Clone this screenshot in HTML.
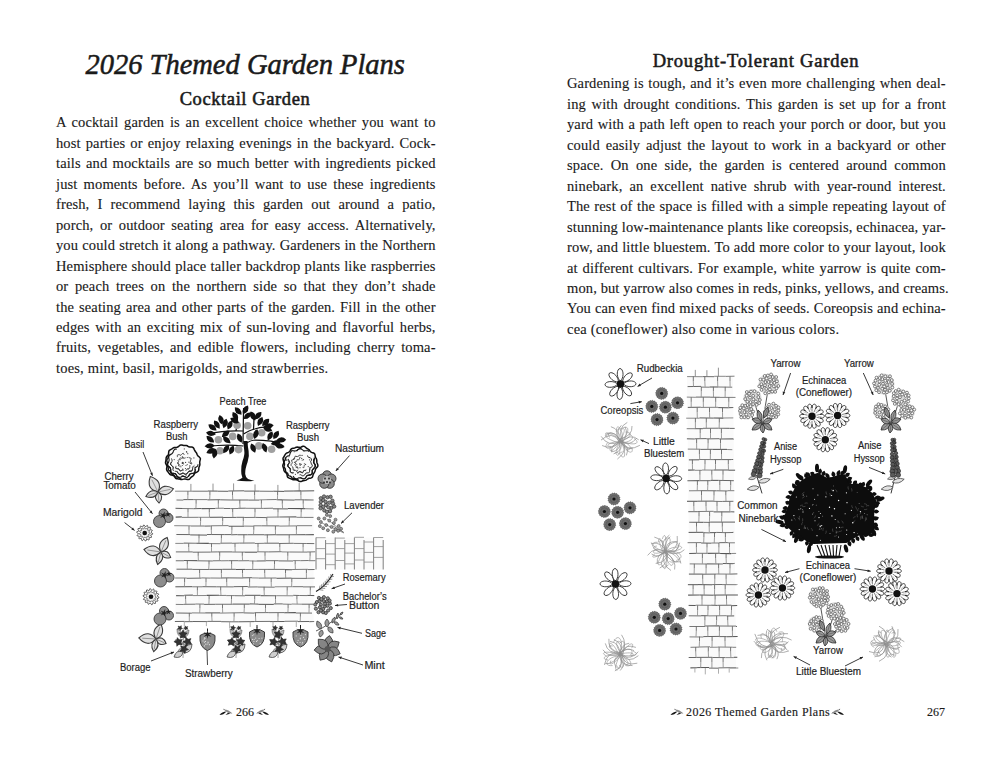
<!DOCTYPE html>
<html><head><meta charset="utf-8">
<style>
html,body{margin:0;padding:0;background:#fff;}
body{width:1000px;height:762px;position:relative;overflow:hidden;font-family:"Liberation Serif",serif;color:#1a1a1a;}
.ln{position:absolute;height:20px;line-height:20px;font-size:14.5px;letter-spacing:0.12px;-webkit-text-stroke:0.12px #1a1a1a;white-space:nowrap;text-align:justify;text-align-last:justify;}
.ln.last{text-align-last:left;letter-spacing:0.19px;}
.L{left:56px;width:379.6px;}
.R{left:567px;width:378.8px;}
.title{position:absolute;left:0;width:490px;text-align:center;font-style:italic;font-size:30px;line-height:34px;-webkit-text-stroke:0.55px #1a1a1a;}
.h2{position:absolute;text-align:center;font-weight:normal;font-size:18.5px;line-height:22px;-webkit-text-stroke:0.55px #1a1a1a;}
.foot{position:absolute;font-size:12px;line-height:14px;-webkit-text-stroke:0.15px #1a1a1a;}
svg{position:absolute;}
.lab{font-family:"Liberation Sans",sans-serif;font-size:10px;fill:#222;stroke:#222;stroke-width:0.18px;}
</style></head><body>

<div class="title" style="top:47px;"><span style="display:inline-block;transform:scaleX(0.95);transform-origin:center;">2026 Themed Garden Plans</span></div>
<div class="h2" style="left:0;width:490px;top:88px;letter-spacing:0.6px;">Cocktail Garden</div>
<div class="h2" style="left:511px;width:490px;top:50px;letter-spacing:0.8px;">Drought-Tolerant Garden</div>
<div class="foot" style="left:236px;top:705px;">266</div>
<div class="foot" style="left:686px;top:705px;letter-spacing:0.45px;">2026 Themed Garden Plans</div>
<div class="foot" style="left:927px;top:705px;">267</div>

<div class="ln L" style="top:112.30px">A cocktail garden is an excellent choice whether you want to</div>
<div class="ln L" style="top:132.77px">host parties or enjoy relaxing evenings in the backyard. Cock-</div>
<div class="ln L" style="top:153.24px">tails and mocktails are so much better with ingredients picked</div>
<div class="ln L" style="top:173.71px">just moments before. As you’ll want to use these ingredients</div>
<div class="ln L" style="top:194.18px">fresh, I recommend laying this garden out around a patio,</div>
<div class="ln L" style="top:214.65px">porch, or outdoor seating area for easy access. Alternatively,</div>
<div class="ln L" style="top:235.12px">you could stretch it along a pathway. Gardeners in the Northern</div>
<div class="ln L" style="top:255.59px">Hemisphere should place taller backdrop plants like raspberries</div>
<div class="ln L" style="top:276.06px">or peach trees on the northern side so that they don’t shade</div>
<div class="ln L" style="top:296.53px">the seating area and other parts of the garden. Fill in the other</div>
<div class="ln L" style="top:317.00px">edges with an exciting mix of sun-loving and flavorful herbs,</div>
<div class="ln L" style="top:337.47px">fruits, vegetables, and edible flowers, including cherry toma-</div>
<div class="ln L last" style="top:357.94px">toes, mint, basil, marigolds, and strawberries.</div>
<div class="ln R" style="top:73.30px">Gardening is tough, and it’s even more challenging when deal-</div>
<div class="ln R" style="top:93.77px">ing with drought conditions. This garden is set up for a front</div>
<div class="ln R" style="top:114.24px">yard with a path left open to reach your porch or door, but you</div>
<div class="ln R" style="top:134.71px">could easily adjust the layout to work in a backyard or other</div>
<div class="ln R" style="top:155.18px">space. On one side, the garden is centered around common</div>
<div class="ln R" style="top:175.65px">ninebark, an excellent native shrub with year-round interest.</div>
<div class="ln R" style="top:196.12px">The rest of the space is filled with a simple repeating layout of</div>
<div class="ln R" style="top:216.59px">stunning low-maintenance plants like coreopsis, echinacea, yar-</div>
<div class="ln R" style="top:237.06px">row, and little bluestem. To add more color to your layout, look</div>
<div class="ln R" style="top:257.53px">at different cultivars. For example, white yarrow is quite com-</div>
<div class="ln R" style="top:278.00px">mon, but yarrow also comes in reds, pinks, yellows, and creams.</div>
<div class="ln R" style="top:298.47px">You can even find mixed packs of seeds. Coreopsis and echina-</div>
<div class="ln R last" style="top:318.94px">cea (coneflower) also come in various colors.</div>
<svg width="1000" height="762" style="left:0;top:0" viewBox="0 0 1000 762">
<polygon points="175.5,491.2 313.5,491.2 313.5,621.5 175.5,621.5" fill="#fafafa"/>
<line x1="175.1" y1="491.2" x2="192.2" y2="491.2" stroke="#7a7a7a" stroke-width="0.9"/>
<line x1="192.2" y1="491.2" x2="207.9" y2="491.2" stroke="#5e5e5e" stroke-width="0.9"/>
<line x1="207.9" y1="491" x2="217.5" y2="491.1" stroke="#555" stroke-width="1"/>
<line x1="217.5" y1="491.2" x2="228.3" y2="491.3" stroke="#5e5e5e" stroke-width="1"/>
<line x1="228.3" y1="491" x2="244.2" y2="490.8" stroke="#5e5e5e" stroke-width="1"/>
<line x1="244.2" y1="491.1" x2="259.6" y2="491.1" stroke="#5e5e5e" stroke-width="1"/>
<line x1="259.6" y1="491.2" x2="273.3" y2="491.3" stroke="#707070" stroke-width="1"/>
<line x1="273.3" y1="491.2" x2="284.1" y2="491.4" stroke="#555" stroke-width="1"/>
<line x1="284.1" y1="491.1" x2="293.9" y2="491" stroke="#555" stroke-width="1"/>
<line x1="293.9" y1="491" x2="301.2" y2="490.9" stroke="#555" stroke-width="1.1"/>
<line x1="301.2" y1="491" x2="314.2" y2="490.8" stroke="#555" stroke-width="1"/>
<line x1="176.5" y1="500" x2="183.3" y2="500.1" stroke="#666" stroke-width="0.9"/>
<line x1="183.3" y1="499.6" x2="193.1" y2="499.6" stroke="#555" stroke-width="0.9"/>
<line x1="193.1" y1="499.6" x2="207.5" y2="499.6" stroke="#707070" stroke-width="0.9"/>
<line x1="207.5" y1="499.9" x2="220.3" y2="499.7" stroke="#5e5e5e" stroke-width="1"/>
<line x1="220.3" y1="499.8" x2="230.9" y2="500" stroke="#555" stroke-width="0.9"/>
<line x1="230.9" y1="500" x2="248.5" y2="500" stroke="#555" stroke-width="0.9"/>
<line x1="248.5" y1="500.1" x2="259.2" y2="500.1" stroke="#555" stroke-width="0.9"/>
<line x1="259.2" y1="499.9" x2="267" y2="499.7" stroke="#7a7a7a" stroke-width="0.9"/>
<line x1="267" y1="499.7" x2="276.6" y2="499.5" stroke="#7a7a7a" stroke-width="1"/>
<line x1="276.6" y1="499.8" x2="282.7" y2="499.9" stroke="#5e5e5e" stroke-width="1.1"/>
<line x1="282.7" y1="499.9" x2="294.5" y2="500.1" stroke="#5e5e5e" stroke-width="1"/>
<line x1="294.5" y1="499.8" x2="304.3" y2="499.8" stroke="#5e5e5e" stroke-width="0.9"/>
<line x1="304.3" y1="499.9" x2="313.6" y2="500" stroke="#707070" stroke-width="1.1"/>
<line x1="175.5" y1="508.3" x2="182.8" y2="508.5" stroke="#5e5e5e" stroke-width="1"/>
<line x1="182.8" y1="508.5" x2="193.5" y2="508.7" stroke="#707070" stroke-width="0.9"/>
<line x1="193.5" y1="508.7" x2="201.6" y2="508.5" stroke="#5e5e5e" stroke-width="1"/>
<line x1="201.6" y1="508.6" x2="215.4" y2="508.5" stroke="#5e5e5e" stroke-width="1.1"/>
<line x1="215.4" y1="508.3" x2="223.8" y2="508.2" stroke="#707070" stroke-width="0.9"/>
<line x1="223.8" y1="508.5" x2="230.4" y2="508.5" stroke="#5e5e5e" stroke-width="0.9"/>
<line x1="230.4" y1="508.6" x2="238.1" y2="508.5" stroke="#7a7a7a" stroke-width="1"/>
<line x1="238.1" y1="508.3" x2="245.8" y2="508.2" stroke="#666" stroke-width="1"/>
<line x1="245.8" y1="508.3" x2="263.3" y2="508.4" stroke="#707070" stroke-width="0.9"/>
<line x1="263.3" y1="508.4" x2="273" y2="508.2" stroke="#707070" stroke-width="1"/>
<line x1="273" y1="508.8" x2="287.9" y2="508.9" stroke="#5e5e5e" stroke-width="1"/>
<line x1="287.9" y1="508.5" x2="304.9" y2="508.6" stroke="#555" stroke-width="1.1"/>
<line x1="304.9" y1="508.7" x2="313.7" y2="508.9" stroke="#7a7a7a" stroke-width="0.9"/>
<line x1="175.7" y1="517.1" x2="181.8" y2="516.9" stroke="#555" stroke-width="1.1"/>
<line x1="181.8" y1="517.4" x2="198.4" y2="517.3" stroke="#7a7a7a" stroke-width="1"/>
<line x1="198.4" y1="517.3" x2="209.9" y2="517.3" stroke="#7a7a7a" stroke-width="0.9"/>
<line x1="209.9" y1="517.3" x2="223.1" y2="517.2" stroke="#555" stroke-width="1"/>
<line x1="223.1" y1="517.5" x2="236.5" y2="517.4" stroke="#555" stroke-width="0.9"/>
<line x1="236.5" y1="517.3" x2="244.2" y2="517.3" stroke="#666" stroke-width="1"/>
<line x1="244.2" y1="517.5" x2="255.5" y2="517.4" stroke="#666" stroke-width="0.9"/>
<line x1="255.5" y1="517.4" x2="266.7" y2="517.6" stroke="#5e5e5e" stroke-width="0.9"/>
<line x1="266.7" y1="517.2" x2="279.7" y2="517" stroke="#707070" stroke-width="0.9"/>
<line x1="279.7" y1="517" x2="296.4" y2="516.9" stroke="#666" stroke-width="1.1"/>
<line x1="296.4" y1="517.3" x2="303.8" y2="517.4" stroke="#707070" stroke-width="0.9"/>
<line x1="303.8" y1="517.4" x2="313.5" y2="517.4" stroke="#7a7a7a" stroke-width="1"/>
<line x1="174.2" y1="525.7" x2="190.7" y2="525.8" stroke="#7a7a7a" stroke-width="0.9"/>
<line x1="190.7" y1="526" x2="204.5" y2="526" stroke="#707070" stroke-width="1"/>
<line x1="204.5" y1="526.1" x2="210.7" y2="526" stroke="#5e5e5e" stroke-width="1"/>
<line x1="210.7" y1="525.8" x2="228.6" y2="525.6" stroke="#7a7a7a" stroke-width="1"/>
<line x1="228.6" y1="526.2" x2="244.2" y2="526.3" stroke="#5e5e5e" stroke-width="1.1"/>
<line x1="244.2" y1="526.1" x2="253.3" y2="526.2" stroke="#7a7a7a" stroke-width="1"/>
<line x1="253.3" y1="525.8" x2="261.5" y2="525.8" stroke="#7a7a7a" stroke-width="1"/>
<line x1="261.5" y1="525.8" x2="279.4" y2="525.9" stroke="#5e5e5e" stroke-width="0.9"/>
<line x1="279.4" y1="526.1" x2="296.6" y2="525.9" stroke="#707070" stroke-width="0.9"/>
<line x1="296.6" y1="525.7" x2="312.1" y2="525.7" stroke="#7a7a7a" stroke-width="1"/>
<line x1="176.4" y1="534.5" x2="190.2" y2="534.6" stroke="#555" stroke-width="0.9"/>
<line x1="190.2" y1="534.9" x2="207" y2="535.1" stroke="#7a7a7a" stroke-width="1.1"/>
<line x1="207" y1="534.5" x2="224.2" y2="534.6" stroke="#555" stroke-width="0.9"/>
<line x1="224.2" y1="534.6" x2="231.2" y2="534.6" stroke="#666" stroke-width="1"/>
<line x1="231.2" y1="534.8" x2="237.5" y2="534.6" stroke="#555" stroke-width="0.9"/>
<line x1="237.5" y1="534.8" x2="247.5" y2="534.7" stroke="#5e5e5e" stroke-width="1.1"/>
<line x1="247.5" y1="534.7" x2="264.3" y2="534.7" stroke="#707070" stroke-width="1.1"/>
<line x1="264.3" y1="534.9" x2="276.2" y2="534.7" stroke="#5e5e5e" stroke-width="1"/>
<line x1="276.2" y1="534.8" x2="288.9" y2="534.8" stroke="#5e5e5e" stroke-width="1"/>
<line x1="288.9" y1="534.7" x2="305.1" y2="534.6" stroke="#707070" stroke-width="1.1"/>
<line x1="305.1" y1="534.7" x2="313.9" y2="534.6" stroke="#5e5e5e" stroke-width="1.1"/>
<line x1="175.3" y1="543.4" x2="183.7" y2="543.4" stroke="#7a7a7a" stroke-width="0.9"/>
<line x1="183.7" y1="543.1" x2="196.2" y2="543.3" stroke="#7a7a7a" stroke-width="1.1"/>
<line x1="196.2" y1="543.3" x2="208.9" y2="543.4" stroke="#555" stroke-width="1.1"/>
<line x1="208.9" y1="543.6" x2="220.4" y2="543.7" stroke="#707070" stroke-width="0.9"/>
<line x1="220.4" y1="543.2" x2="232.1" y2="543.1" stroke="#707070" stroke-width="1"/>
<line x1="232.1" y1="543.3" x2="239.4" y2="543.1" stroke="#666" stroke-width="0.9"/>
<line x1="239.4" y1="543.1" x2="254.8" y2="543" stroke="#5e5e5e" stroke-width="0.9"/>
<line x1="254.8" y1="543.5" x2="264.2" y2="543.3" stroke="#707070" stroke-width="0.9"/>
<line x1="264.2" y1="543.2" x2="279" y2="543.2" stroke="#666" stroke-width="1"/>
<line x1="279" y1="543.5" x2="293.4" y2="543.3" stroke="#707070" stroke-width="1.1"/>
<line x1="293.4" y1="543.4" x2="306.8" y2="543.5" stroke="#7a7a7a" stroke-width="1"/>
<line x1="306.8" y1="543.5" x2="314.3" y2="543.6" stroke="#5e5e5e" stroke-width="0.9"/>
<line x1="175.9" y1="551.9" x2="192.7" y2="551.9" stroke="#5e5e5e" stroke-width="0.9"/>
<line x1="192.7" y1="552.2" x2="210.7" y2="552.1" stroke="#5e5e5e" stroke-width="0.9"/>
<line x1="210.7" y1="552" x2="217.7" y2="551.9" stroke="#707070" stroke-width="1"/>
<line x1="217.7" y1="551.9" x2="232.2" y2="551.9" stroke="#555" stroke-width="0.9"/>
<line x1="232.2" y1="552" x2="245" y2="552.1" stroke="#666" stroke-width="0.9"/>
<line x1="245" y1="552.2" x2="257.1" y2="552.2" stroke="#5e5e5e" stroke-width="1.1"/>
<line x1="257.1" y1="551.8" x2="268.9" y2="551.9" stroke="#7a7a7a" stroke-width="1"/>
<line x1="268.9" y1="551.9" x2="281.7" y2="551.7" stroke="#5e5e5e" stroke-width="0.9"/>
<line x1="281.7" y1="551.9" x2="289.6" y2="552" stroke="#7a7a7a" stroke-width="0.9"/>
<line x1="289.6" y1="552" x2="307" y2="552.1" stroke="#666" stroke-width="0.9"/>
<line x1="307" y1="552" x2="315.2" y2="551.8" stroke="#666" stroke-width="0.9"/>
<line x1="175.8" y1="560.7" x2="183.9" y2="560.8" stroke="#707070" stroke-width="1.1"/>
<line x1="183.9" y1="560.5" x2="197.2" y2="560.6" stroke="#666" stroke-width="1.1"/>
<line x1="197.2" y1="560.8" x2="212.8" y2="561" stroke="#707070" stroke-width="1"/>
<line x1="212.8" y1="560.8" x2="221.1" y2="560.7" stroke="#666" stroke-width="0.9"/>
<line x1="221.1" y1="560.8" x2="228.5" y2="560.7" stroke="#707070" stroke-width="0.9"/>
<line x1="228.5" y1="560.7" x2="238.5" y2="560.7" stroke="#707070" stroke-width="1"/>
<line x1="238.5" y1="560.8" x2="249.3" y2="560.7" stroke="#666" stroke-width="0.9"/>
<line x1="249.3" y1="560.9" x2="256.5" y2="561.1" stroke="#7a7a7a" stroke-width="0.9"/>
<line x1="256.5" y1="561" x2="265.8" y2="560.9" stroke="#5e5e5e" stroke-width="1"/>
<line x1="265.8" y1="560.7" x2="278.6" y2="560.7" stroke="#707070" stroke-width="1"/>
<line x1="278.6" y1="560.9" x2="293.1" y2="561" stroke="#555" stroke-width="0.9"/>
<line x1="293.1" y1="560.6" x2="300.4" y2="560.6" stroke="#7a7a7a" stroke-width="0.9"/>
<line x1="300.4" y1="560.7" x2="308.7" y2="560.5" stroke="#666" stroke-width="0.9"/>
<line x1="308.7" y1="560.7" x2="315.4" y2="560.7" stroke="#7a7a7a" stroke-width="1"/>
<line x1="176.5" y1="569.2" x2="192.2" y2="569.2" stroke="#555" stroke-width="0.9"/>
<line x1="192.2" y1="569.4" x2="209.5" y2="569.5" stroke="#707070" stroke-width="1"/>
<line x1="209.5" y1="569.4" x2="222.6" y2="569.4" stroke="#666" stroke-width="1"/>
<line x1="222.6" y1="569.3" x2="235.8" y2="569.3" stroke="#666" stroke-width="1"/>
<line x1="235.8" y1="569.5" x2="245.2" y2="569.4" stroke="#555" stroke-width="1"/>
<line x1="245.2" y1="569.5" x2="258.2" y2="569.4" stroke="#707070" stroke-width="0.9"/>
<line x1="258.2" y1="569.4" x2="268" y2="569.4" stroke="#666" stroke-width="0.9"/>
<line x1="268" y1="569.4" x2="284.9" y2="569.4" stroke="#5e5e5e" stroke-width="0.9"/>
<line x1="284.9" y1="569.6" x2="292.1" y2="569.7" stroke="#5e5e5e" stroke-width="1.1"/>
<line x1="292.1" y1="569.5" x2="307.9" y2="569.3" stroke="#7a7a7a" stroke-width="1"/>
<line x1="307.9" y1="569.6" x2="314.6" y2="569.5" stroke="#5e5e5e" stroke-width="0.9"/>
<line x1="175.1" y1="578" x2="186.6" y2="578" stroke="#707070" stroke-width="0.9"/>
<line x1="186.6" y1="578.3" x2="201.5" y2="578.1" stroke="#666" stroke-width="1"/>
<line x1="201.5" y1="577.9" x2="210.4" y2="578.1" stroke="#7a7a7a" stroke-width="1"/>
<line x1="210.4" y1="578" x2="220.7" y2="578.1" stroke="#7a7a7a" stroke-width="1"/>
<line x1="220.7" y1="578" x2="229" y2="577.9" stroke="#5e5e5e" stroke-width="1"/>
<line x1="229" y1="577.9" x2="242.8" y2="578" stroke="#555" stroke-width="0.9"/>
<line x1="242.8" y1="577.9" x2="251.9" y2="577.7" stroke="#5e5e5e" stroke-width="1"/>
<line x1="251.9" y1="577.9" x2="258.8" y2="578" stroke="#7a7a7a" stroke-width="0.9"/>
<line x1="258.8" y1="578.1" x2="276.5" y2="578" stroke="#666" stroke-width="0.9"/>
<line x1="276.5" y1="578.3" x2="291.5" y2="578.1" stroke="#555" stroke-width="1"/>
<line x1="291.5" y1="578.3" x2="307.4" y2="578.4" stroke="#707070" stroke-width="1"/>
<line x1="307.4" y1="578.3" x2="314.7" y2="578.2" stroke="#7a7a7a" stroke-width="0.9"/>
<line x1="175.4" y1="586.8" x2="192.4" y2="586.7" stroke="#555" stroke-width="1"/>
<line x1="192.4" y1="586.8" x2="202.3" y2="586.8" stroke="#7a7a7a" stroke-width="1"/>
<line x1="202.3" y1="586.7" x2="216.5" y2="586.8" stroke="#555" stroke-width="0.9"/>
<line x1="216.5" y1="586.8" x2="233.5" y2="586.9" stroke="#707070" stroke-width="1"/>
<line x1="233.5" y1="586.7" x2="247.8" y2="586.5" stroke="#666" stroke-width="1"/>
<line x1="247.8" y1="587" x2="257.7" y2="586.9" stroke="#707070" stroke-width="1"/>
<line x1="257.7" y1="587" x2="274.7" y2="587.2" stroke="#707070" stroke-width="1"/>
<line x1="274.7" y1="586.8" x2="292.6" y2="586.7" stroke="#7a7a7a" stroke-width="0.9"/>
<line x1="292.6" y1="586.7" x2="303" y2="586.7" stroke="#707070" stroke-width="1"/>
<line x1="303" y1="586.9" x2="315" y2="586.9" stroke="#707070" stroke-width="1"/>
<line x1="176.1" y1="595.6" x2="184.2" y2="595.8" stroke="#666" stroke-width="1.1"/>
<line x1="184.2" y1="595.3" x2="192.9" y2="595.1" stroke="#666" stroke-width="1.1"/>
<line x1="192.9" y1="595.6" x2="206.7" y2="595.5" stroke="#7a7a7a" stroke-width="0.9"/>
<line x1="206.7" y1="595.4" x2="219.2" y2="595.3" stroke="#555" stroke-width="1.1"/>
<line x1="219.2" y1="595.5" x2="226.2" y2="595.4" stroke="#707070" stroke-width="0.9"/>
<line x1="226.2" y1="595.6" x2="234.9" y2="595.6" stroke="#707070" stroke-width="0.9"/>
<line x1="234.9" y1="595.7" x2="244.9" y2="595.8" stroke="#707070" stroke-width="1"/>
<line x1="244.9" y1="595.3" x2="260.6" y2="595.3" stroke="#555" stroke-width="1"/>
<line x1="260.6" y1="595.6" x2="276.5" y2="595.7" stroke="#707070" stroke-width="1.1"/>
<line x1="276.5" y1="595.7" x2="293.2" y2="595.8" stroke="#7a7a7a" stroke-width="0.9"/>
<line x1="293.2" y1="595.3" x2="299.3" y2="595.5" stroke="#5e5e5e" stroke-width="0.9"/>
<line x1="299.3" y1="595.5" x2="307.2" y2="595.6" stroke="#666" stroke-width="0.9"/>
<line x1="307.2" y1="595.4" x2="314.3" y2="595.6" stroke="#555" stroke-width="1"/>
<line x1="175.8" y1="604.4" x2="183.7" y2="604.5" stroke="#707070" stroke-width="0.9"/>
<line x1="183.7" y1="604.3" x2="195.5" y2="604.2" stroke="#5e5e5e" stroke-width="0.9"/>
<line x1="195.5" y1="604" x2="204.1" y2="604.1" stroke="#7a7a7a" stroke-width="1"/>
<line x1="204.1" y1="604.4" x2="215.4" y2="604.3" stroke="#666" stroke-width="1"/>
<line x1="215.4" y1="604.2" x2="232.7" y2="604.3" stroke="#707070" stroke-width="1.1"/>
<line x1="232.7" y1="604.1" x2="249.7" y2="604.1" stroke="#555" stroke-width="1"/>
<line x1="249.7" y1="603.9" x2="258.3" y2="604.1" stroke="#707070" stroke-width="1.1"/>
<line x1="258.3" y1="604.3" x2="273.8" y2="604.4" stroke="#555" stroke-width="1"/>
<line x1="273.8" y1="603.9" x2="282.7" y2="603.9" stroke="#666" stroke-width="1"/>
<line x1="282.7" y1="604.1" x2="291.7" y2="604.3" stroke="#707070" stroke-width="0.9"/>
<line x1="291.7" y1="604" x2="301.5" y2="604.2" stroke="#7a7a7a" stroke-width="0.9"/>
<line x1="301.5" y1="604.2" x2="313.2" y2="604.2" stroke="#555" stroke-width="0.9"/>
<line x1="175.9" y1="613" x2="191.8" y2="613.2" stroke="#555" stroke-width="0.9"/>
<line x1="191.8" y1="612.9" x2="205.2" y2="613" stroke="#707070" stroke-width="0.9"/>
<line x1="205.2" y1="612.9" x2="220.1" y2="612.9" stroke="#555" stroke-width="1"/>
<line x1="220.1" y1="613.1" x2="231.1" y2="612.9" stroke="#707070" stroke-width="0.9"/>
<line x1="231.1" y1="612.9" x2="243.7" y2="612.7" stroke="#666" stroke-width="0.9"/>
<line x1="243.7" y1="612.9" x2="254.5" y2="613.1" stroke="#555" stroke-width="0.9"/>
<line x1="254.5" y1="612.7" x2="268.8" y2="612.6" stroke="#707070" stroke-width="1"/>
<line x1="268.8" y1="612.7" x2="284.2" y2="612.6" stroke="#707070" stroke-width="1"/>
<line x1="284.2" y1="612.8" x2="295.9" y2="612.6" stroke="#555" stroke-width="1.1"/>
<line x1="295.9" y1="613" x2="312" y2="613.1" stroke="#5e5e5e" stroke-width="0.9"/>
<line x1="174.9" y1="621.5" x2="184.5" y2="621.4" stroke="#555" stroke-width="0.9"/>
<line x1="184.5" y1="621.7" x2="192.9" y2="621.6" stroke="#666" stroke-width="1"/>
<line x1="192.9" y1="621.5" x2="207.6" y2="621.6" stroke="#555" stroke-width="0.9"/>
<line x1="207.6" y1="621.4" x2="221.1" y2="621.4" stroke="#5e5e5e" stroke-width="0.9"/>
<line x1="221.1" y1="621.7" x2="231.9" y2="621.8" stroke="#555" stroke-width="0.9"/>
<line x1="231.9" y1="621.8" x2="238.3" y2="621.8" stroke="#555" stroke-width="0.9"/>
<line x1="238.3" y1="621.8" x2="254.2" y2="621.6" stroke="#5e5e5e" stroke-width="1"/>
<line x1="254.2" y1="621.5" x2="270" y2="621.4" stroke="#707070" stroke-width="1"/>
<line x1="270" y1="621.6" x2="284.7" y2="621.5" stroke="#5e5e5e" stroke-width="1"/>
<line x1="284.7" y1="621.3" x2="298" y2="621.2" stroke="#666" stroke-width="0.9"/>
<line x1="298" y1="621.6" x2="309.3" y2="621.5" stroke="#666" stroke-width="1"/>
<line x1="309.3" y1="621.6" x2="314.2" y2="621.5" stroke="#7a7a7a" stroke-width="1.1"/>
<line x1="187.9" y1="491.2" x2="187.9" y2="495.1" stroke="#666" stroke-width="0.9"/>
<line x1="187.9" y1="495.1" x2="187.8" y2="499.9" stroke="#8c8c8c" stroke-width="0.85"/>
<line x1="209.9" y1="491.2" x2="209.9" y2="495.1" stroke="#666" stroke-width="0.9"/>
<line x1="209.9" y1="495.1" x2="209.7" y2="499.9" stroke="#8c8c8c" stroke-width="0.85"/>
<line x1="232.5" y1="491.2" x2="232.5" y2="495.1" stroke="#666" stroke-width="0.9"/>
<line x1="232.5" y1="495.1" x2="232.8" y2="499.9" stroke="#8c8c8c" stroke-width="0.85"/>
<line x1="254.6" y1="491.2" x2="254.6" y2="495.1" stroke="#666" stroke-width="0.9"/>
<line x1="254.6" y1="495.1" x2="254.7" y2="499.9" stroke="#8c8c8c" stroke-width="0.85"/>
<line x1="277.6" y1="491.2" x2="277.6" y2="495.1" stroke="#666" stroke-width="0.9"/>
<line x1="277.6" y1="495.1" x2="277.4" y2="499.9" stroke="#8c8c8c" stroke-width="0.85"/>
<line x1="300.9" y1="491.2" x2="300.9" y2="495.1" stroke="#666" stroke-width="0.9"/>
<line x1="300.9" y1="495.1" x2="301" y2="499.9" stroke="#8c8c8c" stroke-width="0.85"/>
<line x1="196.1" y1="499.9" x2="196.1" y2="503.8" stroke="#666" stroke-width="0.9"/>
<line x1="196.1" y1="503.8" x2="195.9" y2="508.6" stroke="#8c8c8c" stroke-width="0.85"/>
<line x1="218.3" y1="499.9" x2="218.3" y2="503.8" stroke="#666" stroke-width="0.9"/>
<line x1="218.3" y1="503.8" x2="218.4" y2="508.6" stroke="#8c8c8c" stroke-width="0.85"/>
<line x1="239.8" y1="499.9" x2="239.8" y2="503.8" stroke="#666" stroke-width="0.9"/>
<line x1="239.8" y1="503.8" x2="240.1" y2="508.6" stroke="#8c8c8c" stroke-width="0.85"/>
<line x1="261.4" y1="499.9" x2="261.4" y2="503.8" stroke="#666" stroke-width="0.9"/>
<line x1="261.4" y1="503.8" x2="261.4" y2="508.6" stroke="#8c8c8c" stroke-width="0.85"/>
<line x1="282.3" y1="499.9" x2="282.3" y2="503.8" stroke="#666" stroke-width="0.9"/>
<line x1="282.3" y1="503.8" x2="282.6" y2="508.6" stroke="#8c8c8c" stroke-width="0.85"/>
<line x1="303.2" y1="499.9" x2="303.2" y2="503.8" stroke="#666" stroke-width="0.9"/>
<line x1="303.2" y1="503.8" x2="303.4" y2="508.6" stroke="#8c8c8c" stroke-width="0.85"/>
<line x1="188" y1="508.6" x2="188" y2="512.5" stroke="#666" stroke-width="0.9"/>
<line x1="188" y1="512.5" x2="188" y2="517.3" stroke="#8c8c8c" stroke-width="0.85"/>
<line x1="209.3" y1="508.6" x2="209.3" y2="512.5" stroke="#666" stroke-width="0.9"/>
<line x1="209.3" y1="512.5" x2="209.5" y2="517.3" stroke="#8c8c8c" stroke-width="0.85"/>
<line x1="232.7" y1="508.6" x2="232.7" y2="512.5" stroke="#666" stroke-width="0.9"/>
<line x1="232.7" y1="512.5" x2="232.9" y2="517.3" stroke="#8c8c8c" stroke-width="0.85"/>
<line x1="255" y1="508.6" x2="255" y2="512.5" stroke="#666" stroke-width="0.9"/>
<line x1="255" y1="512.5" x2="254.8" y2="517.3" stroke="#8c8c8c" stroke-width="0.85"/>
<line x1="278" y1="508.6" x2="278" y2="512.5" stroke="#666" stroke-width="0.9"/>
<line x1="278" y1="512.5" x2="277.9" y2="517.3" stroke="#8c8c8c" stroke-width="0.85"/>
<line x1="301.2" y1="508.6" x2="301.2" y2="512.5" stroke="#666" stroke-width="0.9"/>
<line x1="301.2" y1="512.5" x2="301" y2="517.3" stroke="#8c8c8c" stroke-width="0.85"/>
<line x1="200.6" y1="517.3" x2="200.6" y2="521.2" stroke="#666" stroke-width="0.9"/>
<line x1="200.6" y1="521.2" x2="200.4" y2="526" stroke="#8c8c8c" stroke-width="0.85"/>
<line x1="222.7" y1="517.3" x2="222.7" y2="521.2" stroke="#666" stroke-width="0.9"/>
<line x1="222.7" y1="521.2" x2="222.5" y2="526" stroke="#8c8c8c" stroke-width="0.85"/>
<line x1="243.3" y1="517.3" x2="243.3" y2="521.2" stroke="#666" stroke-width="0.9"/>
<line x1="243.3" y1="521.2" x2="243.1" y2="526" stroke="#8c8c8c" stroke-width="0.85"/>
<line x1="266.8" y1="517.3" x2="266.8" y2="521.2" stroke="#666" stroke-width="0.9"/>
<line x1="266.8" y1="521.2" x2="267" y2="526" stroke="#8c8c8c" stroke-width="0.85"/>
<line x1="289.3" y1="517.3" x2="289.3" y2="521.2" stroke="#666" stroke-width="0.9"/>
<line x1="289.3" y1="521.2" x2="289.1" y2="526" stroke="#8c8c8c" stroke-width="0.85"/>
<line x1="189" y1="526" x2="189" y2="529.9" stroke="#666" stroke-width="0.9"/>
<line x1="189" y1="529.9" x2="189" y2="534.6" stroke="#8c8c8c" stroke-width="0.85"/>
<line x1="211.3" y1="526" x2="211.3" y2="529.9" stroke="#666" stroke-width="0.9"/>
<line x1="211.3" y1="529.9" x2="211.5" y2="534.6" stroke="#8c8c8c" stroke-width="0.85"/>
<line x1="231.9" y1="526" x2="231.9" y2="529.9" stroke="#666" stroke-width="0.9"/>
<line x1="231.9" y1="529.9" x2="231.7" y2="534.6" stroke="#8c8c8c" stroke-width="0.85"/>
<line x1="253.8" y1="526" x2="253.8" y2="529.9" stroke="#666" stroke-width="0.9"/>
<line x1="253.8" y1="529.9" x2="253.5" y2="534.6" stroke="#8c8c8c" stroke-width="0.85"/>
<line x1="275.4" y1="526" x2="275.4" y2="529.9" stroke="#666" stroke-width="0.9"/>
<line x1="275.4" y1="529.9" x2="275.5" y2="534.6" stroke="#8c8c8c" stroke-width="0.85"/>
<line x1="296.4" y1="526" x2="296.4" y2="529.9" stroke="#666" stroke-width="0.9"/>
<line x1="296.4" y1="529.9" x2="296.4" y2="534.6" stroke="#8c8c8c" stroke-width="0.85"/>
<line x1="199" y1="534.6" x2="199" y2="538.6" stroke="#666" stroke-width="0.9"/>
<line x1="199" y1="538.6" x2="198.9" y2="543.3" stroke="#8c8c8c" stroke-width="0.85"/>
<line x1="221.4" y1="534.6" x2="221.4" y2="538.6" stroke="#666" stroke-width="0.9"/>
<line x1="221.4" y1="538.6" x2="221.2" y2="543.3" stroke="#8c8c8c" stroke-width="0.85"/>
<line x1="243.9" y1="534.6" x2="243.9" y2="538.6" stroke="#666" stroke-width="0.9"/>
<line x1="243.9" y1="538.6" x2="243.7" y2="543.3" stroke="#8c8c8c" stroke-width="0.85"/>
<line x1="267.3" y1="534.6" x2="267.3" y2="538.6" stroke="#666" stroke-width="0.9"/>
<line x1="267.3" y1="538.6" x2="267.4" y2="543.3" stroke="#8c8c8c" stroke-width="0.85"/>
<line x1="289.2" y1="534.6" x2="289.2" y2="538.6" stroke="#666" stroke-width="0.9"/>
<line x1="289.2" y1="538.6" x2="289.2" y2="543.3" stroke="#8c8c8c" stroke-width="0.85"/>
<line x1="188.7" y1="543.3" x2="188.7" y2="547.3" stroke="#666" stroke-width="0.9"/>
<line x1="188.7" y1="547.3" x2="188.9" y2="552" stroke="#8c8c8c" stroke-width="0.85"/>
<line x1="211.5" y1="543.3" x2="211.5" y2="547.3" stroke="#666" stroke-width="0.9"/>
<line x1="211.5" y1="547.3" x2="211.5" y2="552" stroke="#8c8c8c" stroke-width="0.85"/>
<line x1="235" y1="543.3" x2="235" y2="547.3" stroke="#666" stroke-width="0.9"/>
<line x1="235" y1="547.3" x2="235.2" y2="552" stroke="#8c8c8c" stroke-width="0.85"/>
<line x1="258" y1="543.3" x2="258" y2="547.3" stroke="#666" stroke-width="0.9"/>
<line x1="258" y1="547.3" x2="258" y2="552" stroke="#8c8c8c" stroke-width="0.85"/>
<line x1="279.8" y1="543.3" x2="279.8" y2="547.3" stroke="#666" stroke-width="0.9"/>
<line x1="279.8" y1="547.3" x2="279.9" y2="552" stroke="#8c8c8c" stroke-width="0.85"/>
<line x1="303.1" y1="543.3" x2="303.1" y2="547.3" stroke="#666" stroke-width="0.9"/>
<line x1="303.1" y1="547.3" x2="303.1" y2="552" stroke="#8c8c8c" stroke-width="0.85"/>
<line x1="198.2" y1="552" x2="198.2" y2="555.9" stroke="#666" stroke-width="0.9"/>
<line x1="198.2" y1="555.9" x2="198.4" y2="560.7" stroke="#8c8c8c" stroke-width="0.85"/>
<line x1="219.7" y1="552" x2="219.7" y2="555.9" stroke="#666" stroke-width="0.9"/>
<line x1="219.7" y1="555.9" x2="219.4" y2="560.7" stroke="#8c8c8c" stroke-width="0.85"/>
<line x1="242.3" y1="552" x2="242.3" y2="555.9" stroke="#666" stroke-width="0.9"/>
<line x1="242.3" y1="555.9" x2="242.6" y2="560.7" stroke="#8c8c8c" stroke-width="0.85"/>
<line x1="265" y1="552" x2="265" y2="555.9" stroke="#666" stroke-width="0.9"/>
<line x1="265" y1="555.9" x2="265.1" y2="560.7" stroke="#8c8c8c" stroke-width="0.85"/>
<line x1="287.8" y1="552" x2="287.8" y2="555.9" stroke="#666" stroke-width="0.9"/>
<line x1="287.8" y1="555.9" x2="287.7" y2="560.7" stroke="#8c8c8c" stroke-width="0.85"/>
<line x1="310.1" y1="552" x2="310.1" y2="555.9" stroke="#666" stroke-width="0.9"/>
<line x1="310.1" y1="555.9" x2="309.8" y2="560.7" stroke="#8c8c8c" stroke-width="0.85"/>
<line x1="187.3" y1="560.7" x2="187.3" y2="564.6" stroke="#666" stroke-width="0.9"/>
<line x1="187.3" y1="564.6" x2="187.3" y2="569.4" stroke="#8c8c8c" stroke-width="0.85"/>
<line x1="209" y1="560.7" x2="209" y2="564.6" stroke="#666" stroke-width="0.9"/>
<line x1="209" y1="564.6" x2="208.7" y2="569.4" stroke="#8c8c8c" stroke-width="0.85"/>
<line x1="231.6" y1="560.7" x2="231.6" y2="564.6" stroke="#666" stroke-width="0.9"/>
<line x1="231.6" y1="564.6" x2="231.6" y2="569.4" stroke="#8c8c8c" stroke-width="0.85"/>
<line x1="252.8" y1="560.7" x2="252.8" y2="564.6" stroke="#666" stroke-width="0.9"/>
<line x1="252.8" y1="564.6" x2="252.7" y2="569.4" stroke="#8c8c8c" stroke-width="0.85"/>
<line x1="274.5" y1="560.7" x2="274.5" y2="564.6" stroke="#666" stroke-width="0.9"/>
<line x1="274.5" y1="564.6" x2="274.3" y2="569.4" stroke="#8c8c8c" stroke-width="0.85"/>
<line x1="295.2" y1="560.7" x2="295.2" y2="564.6" stroke="#666" stroke-width="0.9"/>
<line x1="295.2" y1="564.6" x2="295.4" y2="569.4" stroke="#8c8c8c" stroke-width="0.85"/>
<line x1="199.6" y1="569.4" x2="199.6" y2="573.3" stroke="#666" stroke-width="0.9"/>
<line x1="199.6" y1="573.3" x2="199.8" y2="578.1" stroke="#8c8c8c" stroke-width="0.85"/>
<line x1="221.4" y1="569.4" x2="221.4" y2="573.3" stroke="#666" stroke-width="0.9"/>
<line x1="221.4" y1="573.3" x2="221.5" y2="578.1" stroke="#8c8c8c" stroke-width="0.85"/>
<line x1="242.5" y1="569.4" x2="242.5" y2="573.3" stroke="#666" stroke-width="0.9"/>
<line x1="242.5" y1="573.3" x2="242.7" y2="578.1" stroke="#8c8c8c" stroke-width="0.85"/>
<line x1="264.7" y1="569.4" x2="264.7" y2="573.3" stroke="#666" stroke-width="0.9"/>
<line x1="264.7" y1="573.3" x2="265" y2="578.1" stroke="#8c8c8c" stroke-width="0.85"/>
<line x1="285.5" y1="569.4" x2="285.5" y2="573.3" stroke="#666" stroke-width="0.9"/>
<line x1="285.5" y1="573.3" x2="285.7" y2="578.1" stroke="#8c8c8c" stroke-width="0.85"/>
<line x1="306.4" y1="569.4" x2="306.4" y2="573.3" stroke="#666" stroke-width="0.9"/>
<line x1="306.4" y1="573.3" x2="306.4" y2="578.1" stroke="#8c8c8c" stroke-width="0.85"/>
<line x1="184.6" y1="578.1" x2="184.6" y2="582" stroke="#666" stroke-width="0.9"/>
<line x1="184.6" y1="582" x2="184.4" y2="586.8" stroke="#8c8c8c" stroke-width="0.85"/>
<line x1="206" y1="578.1" x2="206" y2="582" stroke="#666" stroke-width="0.9"/>
<line x1="206" y1="582" x2="205.9" y2="586.8" stroke="#8c8c8c" stroke-width="0.85"/>
<line x1="226.7" y1="578.1" x2="226.7" y2="582" stroke="#666" stroke-width="0.9"/>
<line x1="226.7" y1="582" x2="226.9" y2="586.8" stroke="#8c8c8c" stroke-width="0.85"/>
<line x1="249.6" y1="578.1" x2="249.6" y2="582" stroke="#666" stroke-width="0.9"/>
<line x1="249.6" y1="582" x2="249.6" y2="586.8" stroke="#8c8c8c" stroke-width="0.85"/>
<line x1="271.2" y1="578.1" x2="271.2" y2="582" stroke="#666" stroke-width="0.9"/>
<line x1="271.2" y1="582" x2="271.3" y2="586.8" stroke="#8c8c8c" stroke-width="0.85"/>
<line x1="291.8" y1="578.1" x2="291.8" y2="582" stroke="#666" stroke-width="0.9"/>
<line x1="291.8" y1="582" x2="291.6" y2="586.8" stroke="#8c8c8c" stroke-width="0.85"/>
<line x1="197.4" y1="586.8" x2="197.4" y2="590.7" stroke="#666" stroke-width="0.9"/>
<line x1="197.4" y1="590.7" x2="197.4" y2="595.5" stroke="#8c8c8c" stroke-width="0.85"/>
<line x1="220.7" y1="586.8" x2="220.7" y2="590.7" stroke="#666" stroke-width="0.9"/>
<line x1="220.7" y1="590.7" x2="221" y2="595.5" stroke="#8c8c8c" stroke-width="0.85"/>
<line x1="242.7" y1="586.8" x2="242.7" y2="590.7" stroke="#666" stroke-width="0.9"/>
<line x1="242.7" y1="590.7" x2="242.5" y2="595.5" stroke="#8c8c8c" stroke-width="0.85"/>
<line x1="264.1" y1="586.8" x2="264.1" y2="590.7" stroke="#666" stroke-width="0.9"/>
<line x1="264.1" y1="590.7" x2="264.3" y2="595.5" stroke="#8c8c8c" stroke-width="0.85"/>
<line x1="287.2" y1="586.8" x2="287.2" y2="590.7" stroke="#666" stroke-width="0.9"/>
<line x1="287.2" y1="590.7" x2="287.1" y2="595.5" stroke="#8c8c8c" stroke-width="0.85"/>
<line x1="310.3" y1="586.8" x2="310.3" y2="590.7" stroke="#666" stroke-width="0.9"/>
<line x1="310.3" y1="590.7" x2="310.2" y2="595.5" stroke="#8c8c8c" stroke-width="0.85"/>
<line x1="185.6" y1="595.5" x2="185.6" y2="599.4" stroke="#666" stroke-width="0.9"/>
<line x1="185.6" y1="599.4" x2="185.9" y2="604.2" stroke="#8c8c8c" stroke-width="0.85"/>
<line x1="209.1" y1="595.5" x2="209.1" y2="599.4" stroke="#666" stroke-width="0.9"/>
<line x1="209.1" y1="599.4" x2="208.9" y2="604.2" stroke="#8c8c8c" stroke-width="0.85"/>
<line x1="231.5" y1="595.5" x2="231.5" y2="599.4" stroke="#666" stroke-width="0.9"/>
<line x1="231.5" y1="599.4" x2="231.3" y2="604.2" stroke="#8c8c8c" stroke-width="0.85"/>
<line x1="254.7" y1="595.5" x2="254.7" y2="599.4" stroke="#666" stroke-width="0.9"/>
<line x1="254.7" y1="599.4" x2="254.4" y2="604.2" stroke="#8c8c8c" stroke-width="0.85"/>
<line x1="275.5" y1="595.5" x2="275.5" y2="599.4" stroke="#666" stroke-width="0.9"/>
<line x1="275.5" y1="599.4" x2="275.6" y2="604.2" stroke="#8c8c8c" stroke-width="0.85"/>
<line x1="296.9" y1="595.5" x2="296.9" y2="599.4" stroke="#666" stroke-width="0.9"/>
<line x1="296.9" y1="599.4" x2="297.2" y2="604.2" stroke="#8c8c8c" stroke-width="0.85"/>
<line x1="199.9" y1="604.2" x2="199.9" y2="608.1" stroke="#666" stroke-width="0.9"/>
<line x1="199.9" y1="608.1" x2="199.7" y2="612.9" stroke="#8c8c8c" stroke-width="0.85"/>
<line x1="222.5" y1="604.2" x2="222.5" y2="608.1" stroke="#666" stroke-width="0.9"/>
<line x1="222.5" y1="608.1" x2="222.7" y2="612.9" stroke="#8c8c8c" stroke-width="0.85"/>
<line x1="244.3" y1="604.2" x2="244.3" y2="608.1" stroke="#666" stroke-width="0.9"/>
<line x1="244.3" y1="608.1" x2="244" y2="612.9" stroke="#8c8c8c" stroke-width="0.85"/>
<line x1="265.5" y1="604.2" x2="265.5" y2="608.1" stroke="#666" stroke-width="0.9"/>
<line x1="265.5" y1="608.1" x2="265.4" y2="612.9" stroke="#8c8c8c" stroke-width="0.85"/>
<line x1="288.1" y1="604.2" x2="288.1" y2="608.1" stroke="#666" stroke-width="0.9"/>
<line x1="288.1" y1="608.1" x2="287.9" y2="612.9" stroke="#8c8c8c" stroke-width="0.85"/>
<line x1="309.1" y1="604.2" x2="309.1" y2="608.1" stroke="#666" stroke-width="0.9"/>
<line x1="309.1" y1="608.1" x2="309" y2="612.9" stroke="#8c8c8c" stroke-width="0.85"/>
<line x1="189.3" y1="612.9" x2="189.3" y2="616.8" stroke="#666" stroke-width="0.9"/>
<line x1="189.3" y1="616.8" x2="189.3" y2="621.5" stroke="#8c8c8c" stroke-width="0.85"/>
<line x1="211.8" y1="612.9" x2="211.8" y2="616.8" stroke="#666" stroke-width="0.9"/>
<line x1="211.8" y1="616.8" x2="212.1" y2="621.5" stroke="#8c8c8c" stroke-width="0.85"/>
<line x1="234.1" y1="612.9" x2="234.1" y2="616.8" stroke="#666" stroke-width="0.9"/>
<line x1="234.1" y1="616.8" x2="233.9" y2="621.5" stroke="#8c8c8c" stroke-width="0.85"/>
<line x1="255.5" y1="612.9" x2="255.5" y2="616.8" stroke="#666" stroke-width="0.9"/>
<line x1="255.5" y1="616.8" x2="255.8" y2="621.5" stroke="#8c8c8c" stroke-width="0.85"/>
<line x1="278" y1="612.9" x2="278" y2="616.8" stroke="#666" stroke-width="0.9"/>
<line x1="278" y1="616.8" x2="277.9" y2="621.5" stroke="#8c8c8c" stroke-width="0.85"/>
<line x1="300.4" y1="612.9" x2="300.4" y2="616.8" stroke="#666" stroke-width="0.9"/>
<line x1="300.4" y1="616.8" x2="300.2" y2="621.5" stroke="#8c8c8c" stroke-width="0.85"/>
<line x1="190.9" y1="483.9" x2="190.9" y2="491.2" stroke="#777" stroke-width="0.8"/>
<line x1="213" y1="483.6" x2="213" y2="491.2" stroke="#777" stroke-width="0.8"/>
<line x1="233.6" y1="483.4" x2="233.6" y2="491.2" stroke="#777" stroke-width="0.8"/>
<line x1="255" y1="484.4" x2="255" y2="491.2" stroke="#777" stroke-width="0.8"/>
<line x1="277.9" y1="484.9" x2="277.9" y2="491.2" stroke="#777" stroke-width="0.8"/>
<line x1="299.2" y1="482.9" x2="299.2" y2="491.2" stroke="#777" stroke-width="0.8"/>
<line x1="184.3" y1="621.5" x2="184.3" y2="626.4" stroke="#999" stroke-width="0.8"/>
<line x1="206.4" y1="621.5" x2="206.4" y2="626.1" stroke="#999" stroke-width="0.8"/>
<line x1="229.6" y1="621.5" x2="229.6" y2="628.5" stroke="#999" stroke-width="0.8"/>
<line x1="250.2" y1="621.5" x2="250.2" y2="626.9" stroke="#999" stroke-width="0.8"/>
<line x1="273" y1="621.5" x2="273" y2="626.7" stroke="#999" stroke-width="0.8"/>
<line x1="296.3" y1="621.5" x2="296.3" y2="627" stroke="#999" stroke-width="0.8"/>
<rect x="316" y="537.5" width="67" height="32" fill="#fbfbfb"/>
<line x1="316" y1="537.5" x2="316" y2="569.5" stroke="#707070" stroke-width="0.9"/>
<line x1="325.6" y1="540" x2="325.6" y2="569.5" stroke="#707070" stroke-width="0.9"/>
<line x1="335.2" y1="537.5" x2="335.2" y2="569.5" stroke="#707070" stroke-width="0.9"/>
<line x1="344.8" y1="540" x2="344.8" y2="569.5" stroke="#707070" stroke-width="0.9"/>
<line x1="354.4" y1="537.5" x2="354.4" y2="569.5" stroke="#707070" stroke-width="0.9"/>
<line x1="364" y1="540" x2="364" y2="569.5" stroke="#707070" stroke-width="0.9"/>
<line x1="373.6" y1="537.5" x2="373.6" y2="569.5" stroke="#707070" stroke-width="0.9"/>
<line x1="383.2" y1="540" x2="383.2" y2="569.5" stroke="#707070" stroke-width="0.9"/>
<line x1="316" y1="537.7" x2="325.6" y2="537.7" stroke="#8a8a8a" stroke-width="0.8"/>
<line x1="316" y1="548.6" x2="325.6" y2="548.6" stroke="#8a8a8a" stroke-width="0.8"/>
<line x1="316" y1="558.7" x2="325.6" y2="558.7" stroke="#8a8a8a" stroke-width="0.8"/>
<line x1="325.6" y1="543.6" x2="335.2" y2="543.6" stroke="#8a8a8a" stroke-width="0.8"/>
<line x1="325.6" y1="554.1" x2="335.2" y2="554.1" stroke="#8a8a8a" stroke-width="0.8"/>
<line x1="325.6" y1="564.7" x2="335.2" y2="564.7" stroke="#8a8a8a" stroke-width="0.8"/>
<line x1="335.2" y1="538.1" x2="344.8" y2="538.1" stroke="#8a8a8a" stroke-width="0.8"/>
<line x1="335.2" y1="548.6" x2="344.8" y2="548.6" stroke="#8a8a8a" stroke-width="0.8"/>
<line x1="335.2" y1="560.5" x2="344.8" y2="560.5" stroke="#8a8a8a" stroke-width="0.8"/>
<line x1="344.8" y1="543.6" x2="354.4" y2="543.6" stroke="#8a8a8a" stroke-width="0.8"/>
<line x1="344.8" y1="553.1" x2="354.4" y2="553.1" stroke="#8a8a8a" stroke-width="0.8"/>
<line x1="344.8" y1="563.9" x2="354.4" y2="563.9" stroke="#8a8a8a" stroke-width="0.8"/>
<line x1="354.4" y1="537.3" x2="364" y2="537.3" stroke="#8a8a8a" stroke-width="0.8"/>
<line x1="354.4" y1="548.6" x2="364" y2="548.6" stroke="#8a8a8a" stroke-width="0.8"/>
<line x1="354.4" y1="560" x2="364" y2="560" stroke="#8a8a8a" stroke-width="0.8"/>
<line x1="364" y1="542" x2="373.6" y2="542" stroke="#8a8a8a" stroke-width="0.8"/>
<line x1="364" y1="552.4" x2="373.6" y2="552.4" stroke="#8a8a8a" stroke-width="0.8"/>
<line x1="364" y1="562.1" x2="373.6" y2="562.1" stroke="#8a8a8a" stroke-width="0.8"/>
<line x1="373.6" y1="537.5" x2="383.2" y2="537.5" stroke="#8a8a8a" stroke-width="0.8"/>
<line x1="373.6" y1="546.6" x2="383.2" y2="546.6" stroke="#8a8a8a" stroke-width="0.8"/>
<line x1="373.6" y1="557.4" x2="383.2" y2="557.4" stroke="#8a8a8a" stroke-width="0.8"/>
<path d="M236.5,480.6 Q240.5,479.6 242.4,477.8 Q241,474 241.2,471 Q241.2,465 242.5,461 Q245,455 244.2,450 Q243.6,446 243.3,441 L247.6,441 Q247.6,446 248.6,451 Q249.6,456 247.6,462 Q245,469 245.2,474 Q245.6,477.6 248,479 Q251,480.2 254.4,480.8 Q246,482 236.5,480.6Z" fill="#111"/>
<path d="M243.2,446 Q230,444.5 217.6,445.5 Q211,446 206.6,446" stroke="#111" stroke-width="1.25" fill="none"/>
<path d="M243,431 Q232,430.5 222,431.6 Q214,432.5 208.8,433.4" stroke="#111" stroke-width="1.25" fill="none"/>
<path d="M243.5,434 Q250,430 254.7,429 Q260,427.5 264.3,427.2" stroke="#111" stroke-width="1.25" fill="none"/>
<path d="M246.5,443 Q251,440.2 254.7,440 Q263,440 270.9,441.1 Q276,442 280,443" stroke="#111" stroke-width="1.25" fill="none"/>
<path d="M243,444 L243.4,419 L243.6,408" stroke="#111" stroke-width="1.25" fill="none"/>
<path d="M253.5,429.5 L254,418.7" stroke="#111" stroke-width="1.25" fill="none"/>
<path d="M236,431 Q238,420 236.5,415" stroke="#111" stroke-width="1.25" fill="none"/>
<circle cx="237.1" cy="425.3" r="3.8" fill="#a0a0a0"/>
<circle cx="232.7" cy="436.4" r="3.8" fill="#a0a0a0"/>
<circle cx="218.4" cy="439.7" r="3.8" fill="#a0a0a0"/>
<circle cx="219.9" cy="450.7" r="3.8" fill="#a0a0a0"/>
<circle cx="238.6" cy="449.6" r="3.8" fill="#a0a0a0"/>
<circle cx="247.7" cy="425.7" r="3.8" fill="#a0a0a0"/>
<circle cx="249.9" cy="436.4" r="3.8" fill="#a0a0a0"/>
<circle cx="261.7" cy="432.7" r="3.8" fill="#a0a0a0"/>
<circle cx="258.8" cy="445.9" r="3.8" fill="#a0a0a0"/>
<circle cx="271.6" cy="449.2" r="3.8" fill="#a0a0a0"/>
<path d="M234.9,407.2Q233.9,414.1 241.5,414.8Q241.8,407.2 234.9,407.2Z" fill="#111"/>
<path d="M232.7,411.9Q230.6,418.5 237.9,420.3Q239.5,412.9 232.7,411.9Z" fill="#111"/>
<path d="M219.6,415Q215.8,420.8 222.4,424.6Q225.9,417.9 219.6,415Z" fill="#111"/>
<path d="M214.1,420.5Q212.3,427.1 219.7,428.7Q221,421.2 214.1,420.5Z" fill="#111"/>
<path d="M208.4,424.6Q209.1,431.5 216.6,430.4Q215.1,422.9 208.4,424.6Z" fill="#111"/>
<path d="M226.5,418.7Q220.1,421.4 223.5,428.3Q230.2,424.7 226.5,418.7Z" fill="#111"/>
<path d="M231.9,420.5Q225.2,422.3 227.7,429.5Q234.8,426.8 231.9,420.5Z" fill="#111"/>
<path d="M230.3,418Q231.5,424.8 238.9,423Q236.8,415.7 230.3,418Z" fill="#111"/>
<path d="M206.1,432.5Q209.6,438.5 215.9,434.3Q211.4,428.1 206.1,432.5Z" fill="#111"/>
<path d="M229.6,430.7Q222.9,429.3 221.8,436.9Q229.3,437.6 229.6,430.7Z" fill="#111"/>
<path d="M206.5,436Q206.5,442.9 214.1,442.6Q213.4,435 206.5,436Z" fill="#111"/>
<path d="M223,436.8Q223,443.7 230.6,443.2Q229.8,435.6 223,436.8Z" fill="#111"/>
<path d="M237.7,433.6Q234.7,439.9 241.7,442.8Q244.3,435.6 237.7,433.6Z" fill="#111"/>
<path d="M214.6,445.5Q209.6,440.6 204.6,446.3Q210.6,451.1 214.6,445.5Z" fill="#111"/>
<path d="M215.6,449Q209.3,446 206.4,453Q213.6,455.6 215.6,449Z" fill="#111"/>
<path d="M215.6,448.7Q209.6,452.2 213.8,458.5Q220,454 215.6,448.7Z" fill="#111"/>
<path d="M228.9,445.1Q222,445.8 223.3,453.3Q230.7,451.7 228.9,445.1Z" fill="#111"/>
<path d="M233.5,445.4Q226.9,447.6 229.7,454.6Q236.7,451.5 233.5,445.4Z" fill="#111"/>
<path d="M248,405.6Q241.2,406.8 243,414.2Q250.3,412.1 248,405.6Z" fill="#111"/>
<path d="M251.1,412.5Q244.2,411.6 243.7,419.1Q251.3,419.4 251.1,412.5Z" fill="#111"/>
<path d="M250.6,411.6Q248,418 255.2,420.6Q257.4,413.3 250.6,411.6Z" fill="#111"/>
<path d="M261.4,412.1Q254.5,411.8 254.6,419.5Q262.2,419 261.4,412.1Z" fill="#111"/>
<path d="M262.4,417.1Q255.7,418.8 258,426.1Q265.2,423.5 262.4,417.1Z" fill="#111"/>
<path d="M269.2,418.9Q262.3,418.3 262.2,425.9Q269.8,425.8 269.2,418.9Z" fill="#111"/>
<path d="M273.7,425.3Q268.5,420.7 263.7,426.7Q269.9,431.1 273.7,425.3Z" fill="#111"/>
<path d="M263,427Q265.1,433.7 272.2,431Q269.2,424 263,427Z" fill="#111"/>
<path d="M257.3,429.3Q250.9,432.1 254.3,438.9Q261,435.2 257.3,429.3Z" fill="#111"/>
<path d="M272.4,431.6Q265.7,433.1 267.8,440.4Q275,438 272.4,431.6Z" fill="#111"/>
<path d="M278.6,430.7Q271.8,431.7 273.4,439.1Q280.7,437.3 278.6,430.7Z" fill="#111"/>
<path d="M286.2,439.7Q281.4,434.7 276.2,440.3Q282,445.2 286.2,439.7Z" fill="#111"/>
<path d="M280.6,441.9Q275,437.8 270.8,444.1Q277.4,448 280.6,441.9Z" fill="#111"/>
<path d="M274.8,444.9Q278.2,451 284.6,446.9Q280.2,440.6 274.8,444.9Z" fill="#111"/>
<path d="M251.3,443.5Q248.1,449.6 255.1,452.7Q257.9,445.7 251.3,443.5Z" fill="#111"/>
<path d="M262.8,443.1Q259.5,449.2 266.4,452.5Q269.3,445.4 262.8,443.1Z" fill="#111"/>
<circle cx="182.8" cy="462.4" r="17.8" fill="#fbfbfb"/>
<path d="M199.7,462.4 L199.8,463.3 L199.9,464.2 L199.8,465.1 L199.5,466 L199.2,466.8 L198.9,467.6 L198.8,468.6 L198.8,469.5 L198.6,470.5 L198.1,471.3 L197.3,471.8 L196.4,472.3 L195.5,472.7 L194.8,473.2 L194.4,474 L193.9,474.8 L193.4,475.5 L192.7,476.1 L192,476.6 L191.3,477.1 L190.7,477.8 L190,478.6 L189.3,479.3 L188.4,479.6 L187.4,479.5 L186.4,479.2 L185.4,479 L184.5,478.9 L183.7,479.1 L182.8,479.4 L181.9,479.6 L181,479.5 L180.1,479.2 L179.3,479 L178.4,478.9 L177.5,478.8 L176.5,478.7 L175.7,478.3 L175.1,477.6 L174.5,476.7 L174,476 L173.3,475.5 L172.4,475.2 L171.4,475 L170.5,474.7 L169.7,474.2 L169.2,473.4 L168.6,472.7 L168.1,472 L167.4,471.3 L166.9,470.5 L166.6,469.6 L166.6,468.6 L166.8,467.6 L167,466.6 L166.9,465.8 L166.5,465 L166,464.2 L165.6,463.3 L165.5,462.4 L165.7,461.5 L165.9,460.6 L166,459.7 L166.1,458.8 L166.1,457.9 L166.4,457.1 L166.9,456.3 L167.6,455.6 L168.2,454.9 L168.5,454.2 L168.6,453.2 L168.7,452.1 L168.9,451.1 L169.4,450.3 L170.2,449.8 L171,449.3 L171.9,448.9 L172.6,448.4 L173.4,447.9 L174.2,447.5 L175.1,447.4 L176.1,447.4 L177,447.3 L177.8,447.1 L178.5,446.5 L179.3,445.8 L180.1,445.2 L181,444.9 L181.9,445 L182.8,445.2 L183.7,445.4 L184.6,445.5 L185.5,445.5 L186.4,445.5 L187.2,445.8 L188,446.3 L188.8,446.8 L189.6,447 L190.6,447.1 L191.6,447.1 L192.6,447.3 L193.4,447.8 L193.9,448.6 L194.3,449.6 L194.7,450.5 L195.2,451.3 L195.7,451.9 L196.3,452.6 L196.7,453.3 L197,454.2 L197.3,455 L197.8,455.7 L198.5,456.4 L199.3,457 L200,457.8 L200.4,458.7 L200.3,459.6 L200,460.6 L199.8,461.5Z" stroke="#111" stroke-width="1.5" fill="none"/>
<path d="M190.8,473.7 L190.1,474 L189.5,474.5 L189,475.2 L188.6,476.3 L187.9,476.6 L187.2,477.5 L186.3,477.4 L185.4,477.1 L184.6,476.8 L183.7,476.2 L183,475.9 L182.2,476.1 L181.4,476.3" stroke="#1a1a1a" stroke-width="1.1" fill="none"/>
<path d="M177,476.1 L176.2,474.6 L175.2,473.8 L173.9,473.3 L172.1,473.4 L171.1,472.3 L170.6,471 L170.7,469.4 L170.3,468.1 L169.3,467.1 L168.1,466.1 L167.7,464.7 L167.7,463.3 L168.6,462" stroke="#1a1a1a" stroke-width="1.1" fill="none"/>
<path d="M185.9,477.1 L184.2,476.5 L182.6,476.2 L180.9,477 L179.1,477.2 L177.5,476.7 L176.3,475.2 L175.4,473.6 L173.6,473.4 L171.5,473.1 L170.8,471.5 L170.6,469.6 L170.4,467.9 L169.1,466.7" stroke="#1a1a1a" stroke-width="1.1" fill="none"/>
<path d="M195.3,468.9 L195.2,469.8 L195.2,470.7 L194.9,471.5 L194.5,472.4 L194,473 L193,473.2 L192.1,473.4 L191.3,473.8 L190.4,473.8 L189.7,474.2 L189.4,475.2 L188.8,475.9 L188.1,476.4" stroke="#1a1a1a" stroke-width="1.1" fill="none"/>
<path d="M170.7,470.8 L170.6,469.3 L170.2,468 L169.2,467 L168.1,465.9 L167.3,464.6 L167.8,463.1 L168.7,461.7 L169.1,460.4 L169.1,459.1 L168.5,457.5 L168.8,456.1 L169.7,455 L171.3,454.3" stroke="#1a1a1a" stroke-width="1.1" fill="none"/>
<path d="M168.8,457.9 L168.7,456.8 L168.8,455.8 L169.6,455.1 L170.5,454.5 L171.3,454 L172.2,453.6 L172.6,452.8 L173.2,452 L173.4,450.9 L174,450.1 L174.6,449.2 L175.7,449.1 L176.8,449.2" stroke="#1a1a1a" stroke-width="1.1" fill="none"/>
<path d="M198,464.2 L197.9,465.2 L197.5,466.1 L196.6,466.8 L195.6,467.5 L195.1,468.2 L194.9,469.1 L195.3,470.4 L195,471.4 L194.7,472.5 L193.9,473.1 L192.9,473.5 L191.5,473.3 L190.6,473.6" stroke="#1a1a1a" stroke-width="1.1" fill="none"/>
<path d="M173.4,470.8 L173.2,470 L172.9,469.3 L173.1,468.4 L173.3,467.5 L173,466.9 L172.7,466.3 L172.2,465.8 L171.5,465.3 L170.7,464.8 L170.7,464.1 L170.7,463.3 L171.1,462.6 L171.5,461.9" stroke="#2a2a2a" stroke-width="1.0" fill="none"/>
<path d="M190.4,471.1 L189.2,471.4 L188.3,471.9 L187.5,472.8 L186.7,473.9 L185.6,474.2 L184.3,473.9 L183.2,473.2 L182.1,473.3 L180.9,474.2 L179.7,474.2 L178.6,473.7 L177.9,472.6 L177.2,471.5" stroke="#2a2a2a" stroke-width="1.0" fill="none"/>
<path d="M194.3,465.4 L193.7,465.9 L193.2,466.4 L192.9,466.9 L192.4,467.4 L192.6,468.2 L192.7,469 L192.4,469.6 L192.4,470.4 L191.8,470.9 L191.2,471.2 L190.4,471.3 L189.4,471.1 L188.9,471.4" stroke="#2a2a2a" stroke-width="1.0" fill="none"/>
<path d="M192.5,468.6 L192.4,469.6 L192,470.6 L191.1,471 L190,471.2 L188.9,471.2 L188.2,471.7 L187.7,472.7 L187.1,473.7 L186.2,474.1 L185.3,474.3 L184.2,473.6 L183.3,473.1 L182.4,473.2" stroke="#2a2a2a" stroke-width="1.0" fill="none"/>
<path d="M173.1,467.6 L172.9,466.9 L172.5,466.3 L171.7,465.8 L171.3,465.2 L170.7,464.5 L170.6,463.7 L171,462.9 L171.4,462.2 L172.1,461.5 L172.1,460.9 L172,460.1 L171.8,459.4 L171.5,458.5" stroke="#2a2a2a" stroke-width="1.0" fill="none"/>
<path d="M182.6,473.1 L181.9,473.6 L181.3,473.8 L180.6,474 L179.8,474.4 L179.2,474.1 L178.6,473.8 L178.1,473.3 L177.6,472.7 L177.4,471.8 L176.9,471.5 L176.2,471.4 L175.5,471.3 L174.8,471.2" stroke="#2a2a2a" stroke-width="1.0" fill="none"/>
<path d="M177.3,457.1 L177.4,456.4 L177.4,455.3 L177.8,454.7 L178.7,454.7 L179.4,454.7 L180.3,455.3 L180.9,455.2 L181.4,454.5 L182,453.9 L182.6,453.5 L183.3,453.3 L183.9,454.3 L184.4,454.9" stroke="#333" stroke-width="0.9" fill="none"/>
<path d="M183.9,470.4 L183.1,469.8 L182.4,470.1 L181.5,470.6 L180.6,470.9 L179.8,470.7 L179.3,469.9 L178.9,469 L178.2,468.7 L177.2,468.7 L176.1,468.6 L175.6,467.9 L175.9,466.7 L176,465.8" stroke="#333" stroke-width="0.9" fill="none"/>
<path d="M188.6,457.4 L189.1,457.7 L189.9,457.9 L190.8,458.1 L191.2,458.7 L190.9,459.5 L190.8,460.1 L190.4,460.8 L190.4,461.4 L190.6,462 L191.1,462.5 L191.8,463.2 L191.7,463.9 L191.1,464.4" stroke="#333" stroke-width="0.9" fill="none"/>
<path d="M182.8,469.8 L182.3,470.2 L181.6,470.4 L180.9,470.8 L180.3,470.8 L179.7,470.4 L179.3,469.9 L179.1,469 L178.6,468.7 L177.9,468.8 L177.1,468.7 L176.5,468.4 L175.7,468.2 L175.6,467.5" stroke="#333" stroke-width="0.9" fill="none"/>
<path d="M190.3,465 L189.9,465.5 L189.6,465.9 L189.8,466.6 L189.7,467.3 L189.8,468.1 L189.3,468.5 L188.6,468.6 L187.9,468.8 L187.3,468.8 L186.8,469.1 L186.4,469.5 L186.1,470.2 L185.7,470.9" stroke="#333" stroke-width="0.9" fill="none"/>
<path d="M179.6,459.3 L179.8,458.7 L179.8,458 L180.4,457.8 L181.2,458.4 L181.7,458.5 L182.1,458.1 L182.5,457.1 L183,456.8 L183.5,457.4 L183.8,458.5 L184.4,458.2 L185,457.9 L185.7,457.8" stroke="#444" stroke-width="0.8" fill="none"/>
<path d="M178.4,465.7 L179.1,464.6 L178.9,464.2 L178.6,463.8 L177.9,463.4 L177.6,462.9 L178,462.3 L178.4,461.8 L178.6,461.4 L178,460.6 L178.2,460.1 L178.8,459.8 L179.5,459.7 L179.7,459.3" stroke="#444" stroke-width="0.8" fill="none"/>
<path d="M180.9,467.4 L180.8,466.3 L180.5,465.9 L179.9,466 L179,466.2 L178.5,465.9 L178.8,465 L178.9,464.4 L178.8,464 L177.9,463.8 L177.7,463.3 L177.8,462.7 L178.4,462.2 L178.4,461.8" stroke="#444" stroke-width="0.8" fill="none"/>
<path d="M181.4,478.1 L180,478.4 L178.9,477.6 L177.7,477 L176.3,477 L175,476.5 L174.2,475.3 L173.1,474.6 L171.7,474.2 L170.9,473.1 L170.5,471.7 L169.5,470.8 L168.4,469.9 L168.3,468.5 L168.1,467.2 L167.3,466.1 L166.8,464.8 L167.3,463.4 L167.3,462.1 L166.8,460.8 L167.1,459.4 L167.9,458.3 L168.1,457 L168.1,455.6" stroke="#111" stroke-width="1.3" fill="none"/>
<circle cx="182.7" cy="469.1" r="0.6" fill="#444"/>
<circle cx="186" cy="465.5" r="0.6" fill="#444"/>
<circle cx="190.6" cy="463.3" r="0.6" fill="#444"/>
<circle cx="188.1" cy="469.2" r="0.6" fill="#444"/>
<circle cx="182.3" cy="465.5" r="0.6" fill="#444"/>
<circle cx="177.8" cy="463" r="0.6" fill="#444"/>
<circle cx="182.8" cy="463.1" r="0.6" fill="#444"/>
<circle cx="194.1" cy="467.2" r="0.6" fill="#444"/>
<circle cx="182.4" cy="463.4" r="0.6" fill="#444"/>
<circle cx="185.5" cy="468.5" r="0.6" fill="#444"/>
<circle cx="185.6" cy="462.4" r="0.6" fill="#444"/>
<circle cx="187.3" cy="457.5" r="0.6" fill="#444"/>
<circle cx="173.2" cy="468.1" r="0.6" fill="#444"/>
<circle cx="182.2" cy="462.9" r="0.6" fill="#444"/>
<circle cx="174.2" cy="459.6" r="0.6" fill="#444"/>
<circle cx="180.1" cy="459.7" r="0.6" fill="#444"/>
<circle cx="193.9" cy="457.9" r="0.6" fill="#444"/>
<circle cx="188.9" cy="462.2" r="0.6" fill="#444"/>
<circle cx="187.8" cy="453.7" r="0.6" fill="#444"/>
<circle cx="183" cy="462.7" r="0.6" fill="#444"/>
<circle cx="183.6" cy="463.8" r="0.6" fill="#444"/>
<circle cx="187.2" cy="464.6" r="0.6" fill="#444"/>
<circle cx="182.9" cy="458.1" r="0.6" fill="#444"/>
<circle cx="182.7" cy="462.4" r="0.6" fill="#444"/>
<circle cx="186.1" cy="475.2" r="0.6" fill="#444"/>
<circle cx="190.1" cy="462.9" r="0.6" fill="#444"/>
<circle cx="186.8" cy="452.2" r="0.6" fill="#444"/>
<circle cx="182.3" cy="456.9" r="0.6" fill="#444"/>
<circle cx="186.5" cy="451.6" r="0.6" fill="#444"/>
<circle cx="184.3" cy="448.9" r="0.6" fill="#444"/>
<circle cx="300" cy="464" r="17.8" fill="#fbfbfb"/>
<path d="M317.5,464 L317.8,464.9 L317.9,465.9 L317.5,466.8 L316.9,467.6 L316.1,468.3 L315.6,469.1 L315.3,469.9 L315.1,470.7 L314.8,471.6 L314.4,472.3 L313.9,473.1 L313.5,473.8 L313.1,474.6 L312.9,475.6 L312.6,476.6 L312.1,477.4 L311.3,477.9 L310.3,478.2 L309.3,478.3 L308.4,478.5 L307.6,479 L306.9,479.5 L306.2,480.1 L305.3,480.4 L304.4,480.6 L303.5,480.7 L302.7,480.8 L301.8,481.2 L300.9,481.5 L300,481.6 L299.1,481.3 L298.2,480.7 L297.4,480.1 L296.7,479.7 L295.8,479.6 L294.9,479.7 L293.9,479.8 L293,479.7 L292.2,479.4 L291.4,479 L290.5,478.6 L289.6,478.3 L288.7,477.9 L287.9,477.4 L287.4,476.6 L287.2,475.6 L287,474.5 L286.7,473.7 L286.2,473 L285.5,472.4 L284.7,471.8 L284.2,471 L283.9,470.2 L283.8,469.3 L283.6,468.4 L283.3,467.5 L283,466.7 L282.8,465.8 L282.9,464.9 L283.3,464 L283.7,463.1 L283.9,462.3 L283.7,461.4 L283.4,460.5 L283.1,459.5 L283,458.5 L283.3,457.6 L283.8,456.8 L284.4,456 L284.8,455.2 L285.3,454.4 L285.8,453.7 L286.5,453.1 L287.5,452.7 L288.4,452.4 L289.2,452 L289.8,451.3 L290.2,450.5 L290.6,449.6 L291.3,448.9 L292.1,448.5 L293,448.3 L293.9,448.2 L294.8,447.9 L295.6,447.5 L296.4,447.2 L297.3,447.1 L298.2,447.2 L299.1,447.3 L300,447.4 L300.9,447.2 L301.8,446.7 L302.8,446.3 L303.8,446.3 L304.7,446.6 L305.5,447.2 L306.2,447.9 L306.9,448.5 L307.7,448.9 L308.5,449.4 L309.2,449.9 L309.7,450.6 L310.2,451.3 L310.8,452 L311.6,452.4 L312.6,452.7 L313.6,453 L314.4,453.6 L314.9,454.4 L315.1,455.3 L315.2,456.3 L315.4,457.1 L315.8,457.9 L316.3,458.7 L316.6,459.5 L316.8,460.4 L316.8,461.3 L316.8,462.2 L317.1,463.1Z" stroke="#111" stroke-width="1.5" fill="none"/>
<path d="M296.1,450.6 L297.1,450.6 L297.9,449.5 L298.9,449 L299.9,448.6 L301,448.8 L302,449.4 L302.9,450.1 L303.7,450.9 L304.7,450.9 L305.7,450.8 L306.9,450.7 L308.2,450.6 L308.9,451.6" stroke="#1a1a1a" stroke-width="1.1" fill="none"/>
<path d="M312.4,472.3 L312,473.4 L311.5,474.5 L310.3,474.9 L309.1,475.2 L307.8,475.2 L306.9,475.7 L306.2,476.7 L305.6,477.9 L304.7,478.7 L303.5,478.7 L302.4,478.6 L301.2,478 L300.2,477.6" stroke="#1a1a1a" stroke-width="1.1" fill="none"/>
<path d="M286.4,460.8 L285.6,458.8 L286.2,457.2 L287.6,456 L289.5,455.4 L290,453.8 L290.7,452.1 L291.8,450.6 L293.8,450.8 L295.6,451 L297,450.2 L298.5,449.2 L300.2,448.6 L301.8,449.2" stroke="#1a1a1a" stroke-width="1.1" fill="none"/>
<path d="M314.1,459.2 L313.8,460.4 L313.8,461.5 L313.5,462.5 L314.3,463.5 L314.9,464.6 L315.4,465.8 L315,466.8 L314.4,467.8 L313.5,468.7 L312.8,469.5 L312.3,470.4 L312.3,471.6 L312.3,472.9" stroke="#1a1a1a" stroke-width="1.1" fill="none"/>
<path d="M311.8,474.2 L310.1,474.9 L308.4,475.2 L307,475.8 L306.1,477.2 L304.9,478.5 L303.4,479 L301.7,478.3 L300.1,477.7 L298.7,477.9 L297,478.9 L295.4,478.7 L294.1,477.6 L293.1,476.1" stroke="#1a1a1a" stroke-width="1.1" fill="none"/>
<path d="M314.1,457.5 L314.5,458.4 L314.2,459.6 L313.7,460.7 L313.7,461.6 L313.9,462.4 L314.1,463.3 L314.9,464.2 L315,465.1 L315.6,466.2 L315,467.1 L314.2,467.8 L313.6,468.6 L312.8,469.3" stroke="#1a1a1a" stroke-width="1.1" fill="none"/>
<path d="M314.4,458.1 L314,459.9 L313.8,461.5 L313.7,462.9 L315.1,464.4 L315.5,466.1 L314.5,467.5 L313.4,468.8 L312.3,469.9 L312.3,471.6 L312.3,473.5 L311,474.5 L309.3,475 L307.8,475.4" stroke="#1a1a1a" stroke-width="1.1" fill="none"/>
<path d="M309.8,468.9 L309.7,470 L309.6,471.2 L309.4,472.3 L308.3,472.8 L307,472.9 L305.9,473.1 L305.3,473.9 L304.7,475 L303.8,475.6 L302.8,475.9 L301.6,475.3 L300.6,474.7 L299.6,474.8" stroke="#2a2a2a" stroke-width="1.0" fill="none"/>
<path d="M307.5,455.5 L307.9,456.8 L308.8,457.4 L310.4,457.8 L311.3,458.8 L311.5,460.1 L310.6,461.7 L311,462.7 L311.4,463.9 L312.3,465.2 L312.2,466.5 L311,467.5 L309.8,468.3 L309.8,469.6" stroke="#2a2a2a" stroke-width="1.0" fill="none"/>
<path d="M290.3,468.5 L290,468 L289.3,467.6 L288.8,467.1 L288.1,466.6 L287.7,466 L287.9,465.3 L288.2,464.6 L288.3,464 L288.9,463.4 L289.4,462.8 L289.5,462.2 L289,461.5 L288.9,460.8" stroke="#2a2a2a" stroke-width="1.0" fill="none"/>
<path d="M292.8,473 L291.9,472.8 L291,472.6 L290.6,471.9 L290.3,471.1 L290.3,470.2 L290.5,469.2 L290.1,468.6 L289.8,467.9 L288.9,467.5 L288.4,466.8 L287.8,466.1 L287.7,465.3 L287.9,464.5" stroke="#2a2a2a" stroke-width="1.0" fill="none"/>
<path d="M293.9,472.8 L292.5,472.8 L291.3,472.5 L290.2,471.8 L290.3,470.3 L290.2,469.1 L289.8,468.1 L288.9,467.3 L287.7,466.3 L287.8,465.1 L288.3,463.9 L289.1,462.9 L289.3,461.8 L289,460.6" stroke="#2a2a2a" stroke-width="1.0" fill="none"/>
<path d="M290.3,469.4 L290,468.7 L289.8,467.9 L288.9,467.4 L288.1,466.7 L287.9,465.9 L287.9,465 L288.5,464.1 L288.7,463.3 L289.4,462.6 L289.3,461.8 L289,460.9 L288.5,459.9 L288.5,458.9" stroke="#2a2a2a" stroke-width="1.0" fill="none"/>
<path d="M293.2,459.6 L293.7,459.2 L294.5,459 L294.6,458.1 L294.7,457.1 L295.1,456.3 L296,456.2 L297,456.7 L297.7,456.5 L298.3,456.2 L299,455.9 L299.6,455 L300.4,455.1 L301.1,455.8" stroke="#333" stroke-width="0.9" fill="none"/>
<path d="M291.4,465.9 L291,465.3 L291,464.7 L291.5,464 L292,463.4 L292.5,462.9 L292.2,462.3 L291.9,461.6 L291.7,460.8 L291.6,460.1 L292.6,459.8 L293.2,459.5 L293.9,459.3 L294.3,458.9" stroke="#333" stroke-width="0.9" fill="none"/>
<path d="M301.7,472.4 L300.7,471.8 L299.8,471.5 L298.8,472.2 L297.7,472.8 L296.9,471.9 L296.4,470.8 L295.6,470.4 L294.5,470.3 L293.3,470.1 L293.1,469 L293,467.9 L292.8,467 L291.8,466.3" stroke="#333" stroke-width="0.9" fill="none"/>
<path d="M306.4,469.9 L305.8,470.4 L304.9,470.4 L304.2,470.6 L303.6,470.7 L303.3,471.7 L302.8,472.5 L302.1,472.7 L301.3,472.1 L300.6,471.9 L299.9,471.5 L299.3,471.9 L298.6,472.2 L297.7,472.7" stroke="#333" stroke-width="0.9" fill="none"/>
<path d="M305.9,470.3 L305.2,470.2 L304.7,470.4 L304.1,470.3 L303.8,470.7 L303.5,471 L303.3,471.7 L303,472.3 L302.5,472.7 L301.9,472.6 L301.4,472.5 L300.8,471.8 L300.3,471.8 L299.9,471.4" stroke="#333" stroke-width="0.9" fill="none"/>
<path d="M304.1,463.2 L304.3,463.6 L304.9,463.9 L305.4,464.4 L305.3,464.8 L304.7,465.2 L304.1,465.4 L304,465.8 L303.9,466.2 L304.2,466.8 L304,467.2 L303.9,467.7 L303.1,467.5 L302.5,467.3" stroke="#444" stroke-width="0.8" fill="none"/>
<path d="M298.3,469.2 L297.9,468.5 L297.9,467.4 L297.3,467.5 L296.5,467.5 L295.9,467.3 L296.1,466.5 L296,466 L295.9,465.5 L295,465.2 L294.6,464.6 L295,464 L295.6,463.5 L295.7,463" stroke="#444" stroke-width="0.8" fill="none"/>
<path d="M295.3,464 L295.9,463.5 L295.6,463 L295.3,462.4 L295.2,461.7 L295.8,461.4 L296.6,461.4 L297,461 L296.9,460.2 L297.1,459.5 L297.8,459.7 L298.4,459.7 L299,460.1 L299.3,459.2" stroke="#444" stroke-width="0.8" fill="none"/>
<path d="M298.6,479.7 L297.2,480 L296.1,479.2 L294.9,478.6 L293.5,478.6 L292.2,478.1 L291.4,476.9 L290.3,476.2 L288.9,475.8 L288.1,474.7 L287.7,473.3 L286.7,472.4 L285.6,471.5 L285.5,470.1 L285.3,468.8 L284.5,467.7 L284,466.4 L284.5,465 L284.5,463.7 L284,462.4 L284.3,461 L285.1,459.9 L285.3,458.6 L285.3,457.2" stroke="#111" stroke-width="1.3" fill="none"/>
<circle cx="294.7" cy="462.4" r="0.6" fill="#444"/>
<circle cx="300.2" cy="465.3" r="0.6" fill="#444"/>
<circle cx="297" cy="467.1" r="0.6" fill="#444"/>
<circle cx="296.8" cy="464.3" r="0.6" fill="#444"/>
<circle cx="300" cy="457.3" r="0.6" fill="#444"/>
<circle cx="305.6" cy="464.3" r="0.6" fill="#444"/>
<circle cx="300.1" cy="464" r="0.6" fill="#444"/>
<circle cx="289" cy="456.7" r="0.6" fill="#444"/>
<circle cx="294.5" cy="470.2" r="0.6" fill="#444"/>
<circle cx="297.2" cy="467" r="0.6" fill="#444"/>
<circle cx="293.7" cy="458.8" r="0.6" fill="#444"/>
<circle cx="297.3" cy="470.3" r="0.6" fill="#444"/>
<circle cx="289.7" cy="462.9" r="0.6" fill="#444"/>
<circle cx="301.2" cy="464.4" r="0.6" fill="#444"/>
<circle cx="300" cy="467.7" r="0.6" fill="#444"/>
<circle cx="301.7" cy="458.4" r="0.6" fill="#444"/>
<circle cx="303.5" cy="459.7" r="0.6" fill="#444"/>
<circle cx="297.9" cy="473.1" r="0.6" fill="#444"/>
<circle cx="311.7" cy="470.9" r="0.6" fill="#444"/>
<circle cx="302.2" cy="460.1" r="0.6" fill="#444"/>
<circle cx="295.4" cy="474.3" r="0.6" fill="#444"/>
<circle cx="302.1" cy="455.4" r="0.6" fill="#444"/>
<circle cx="309.9" cy="467.7" r="0.6" fill="#444"/>
<circle cx="308.2" cy="466.6" r="0.6" fill="#444"/>
<circle cx="287.9" cy="459.9" r="0.6" fill="#444"/>
<circle cx="299.8" cy="463.8" r="0.6" fill="#444"/>
<circle cx="309.5" cy="459.8" r="0.6" fill="#444"/>
<circle cx="299.9" cy="464" r="0.6" fill="#444"/>
<circle cx="299.5" cy="458.2" r="0.6" fill="#444"/>
<circle cx="294.2" cy="451.7" r="0.6" fill="#444"/>
<g transform="translate(158,492) rotate(0) scale(1.1)">
<path d="M0,0Q4.7,-10.2 -7,-14Q-11,-2.4 0,0Z" fill="#e0e0e0" stroke="#3a3a3a" stroke-width="1"/>
<line x1="0" y1="0" x2="-5.6" y2="-11.2" stroke="#777" stroke-width="0.6"/>
<path d="M0,0Q7.9,6 14,-3Q4.7,-8.7 0,0Z" fill="#e0e0e0" stroke="#3a3a3a" stroke-width="1"/>
<line x1="0" y1="0" x2="11.2" y2="-2.4" stroke="#777" stroke-width="0.6"/>
<path d="M0,0Q-5.2,5.1 1,10Q6.1,3.9 0,0Z" fill="#e0e0e0" stroke="#3a3a3a" stroke-width="1"/>
<line x1="0" y1="0" x2="0.8" y2="8" stroke="#777" stroke-width="0.6"/>
<path d="M0,0Q-6.9,-3.5 -11,4Q-3,7.1 0,0Z" fill="#e0e0e0" stroke="#3a3a3a" stroke-width="1"/>
<line x1="0" y1="0" x2="-8.8" y2="3.2" stroke="#777" stroke-width="0.6"/>
</g>
<g transform="translate(161,552) rotate(-55) scale(1.1)">
<path d="M0,0Q4.7,-10.2 -7,-14Q-11,-2.4 0,0Z" fill="#e0e0e0" stroke="#3a3a3a" stroke-width="1"/>
<line x1="0" y1="0" x2="-5.6" y2="-11.2" stroke="#777" stroke-width="0.6"/>
<path d="M0,0Q7.9,6 14,-3Q4.7,-8.7 0,0Z" fill="#e0e0e0" stroke="#3a3a3a" stroke-width="1"/>
<line x1="0" y1="0" x2="11.2" y2="-2.4" stroke="#777" stroke-width="0.6"/>
<path d="M0,0Q-5.2,5.1 1,10Q6.1,3.9 0,0Z" fill="#e0e0e0" stroke="#3a3a3a" stroke-width="1"/>
<line x1="0" y1="0" x2="0.8" y2="8" stroke="#777" stroke-width="0.6"/>
<path d="M0,0Q-6.9,-3.5 -11,4Q-3,7.1 0,0Z" fill="#e0e0e0" stroke="#3a3a3a" stroke-width="1"/>
<line x1="0" y1="0" x2="-8.8" y2="3.2" stroke="#777" stroke-width="0.6"/>
</g>
<g transform="translate(156,639) rotate(-60) scale(1.1)">
<path d="M0,0Q4.7,-10.2 -7,-14Q-11,-2.4 0,0Z" fill="#e0e0e0" stroke="#3a3a3a" stroke-width="1"/>
<line x1="0" y1="0" x2="-5.6" y2="-11.2" stroke="#777" stroke-width="0.6"/>
<path d="M0,0Q7.9,6 14,-3Q4.7,-8.7 0,0Z" fill="#e0e0e0" stroke="#3a3a3a" stroke-width="1"/>
<line x1="0" y1="0" x2="11.2" y2="-2.4" stroke="#777" stroke-width="0.6"/>
<path d="M0,0Q-5.2,5.1 1,10Q6.1,3.9 0,0Z" fill="#e0e0e0" stroke="#3a3a3a" stroke-width="1"/>
<line x1="0" y1="0" x2="0.8" y2="8" stroke="#777" stroke-width="0.6"/>
<path d="M0,0Q-6.9,-3.5 -11,4Q-3,7.1 0,0Z" fill="#e0e0e0" stroke="#3a3a3a" stroke-width="1"/>
<line x1="0" y1="0" x2="-8.8" y2="3.2" stroke="#777" stroke-width="0.6"/>
</g>
<circle cx="163.5" cy="513.5" r="4.5" fill="#8d8d8d" stroke="#3a3a3a" stroke-width="0.9"/>
<circle cx="168.5" cy="518" r="4.5" fill="#8d8d8d" stroke="#3a3a3a" stroke-width="0.9"/>
<circle cx="159.5" cy="521.5" r="6" fill="#8d8d8d" stroke="#3a3a3a" stroke-width="0.9"/>
<path d="M164.7,511.5 L164.6,514.7 L167.7,515.4 L164.6,516.3 L164.9,519.5 L163.1,516.8 L160.1,518 L162.1,515.5 L160.1,513.1 L163,514.2Z" fill="#222"/>
<path d="M168,511.3 L168.6,513.6 L171,513.5 L169,514.8 L169.9,517.1 L168,515.6 L166.1,517.1 L167,514.8 L165,513.5 L167.4,513.6Z" fill="#222"/>
<circle cx="164.5" cy="573" r="4.5" fill="#8d8d8d" stroke="#3a3a3a" stroke-width="0.9"/>
<circle cx="169.5" cy="577.5" r="4.5" fill="#8d8d8d" stroke="#3a3a3a" stroke-width="0.9"/>
<circle cx="160.5" cy="581" r="6" fill="#8d8d8d" stroke="#3a3a3a" stroke-width="0.9"/>
<path d="M165.7,571 L165.6,574.2 L168.7,574.9 L165.6,575.8 L165.9,579 L164.1,576.3 L161.1,577.5 L163.1,575 L161.1,572.6 L164,573.7Z" fill="#222"/>
<path d="M169,570.8 L169.6,573.1 L172,573 L170,574.3 L170.9,576.6 L169,575.1 L167.1,576.6 L168,574.3 L166,573 L168.4,573.1Z" fill="#222"/>
<circle cx="164" cy="611" r="4.5" fill="#8d8d8d" stroke="#3a3a3a" stroke-width="0.9"/>
<circle cx="169" cy="615.5" r="4.5" fill="#8d8d8d" stroke="#3a3a3a" stroke-width="0.9"/>
<circle cx="160" cy="619" r="6" fill="#8d8d8d" stroke="#3a3a3a" stroke-width="0.9"/>
<path d="M165.2,609 L165.1,612.2 L168.2,612.9 L165.1,613.8 L165.4,617 L163.6,614.3 L160.6,615.5 L162.6,613 L160.6,610.6 L163.5,611.7Z" fill="#222"/>
<path d="M168.5,608.8 L169.1,611.1 L171.5,611 L169.5,612.3 L170.4,614.6 L168.5,613.1 L166.6,614.6 L167.5,612.3 L165.5,611 L167.9,611.1Z" fill="#222"/>
<path d="M151.9,533 L152.7,533.6 L152.6,534.2 L151.7,534.6 L150.8,534.9 L150.7,535.3 L151.2,536.1 L151.6,537 L151.3,537.5 L150.3,537.5 L149.4,537.4 L149.1,537.7 L149.2,538.6 L149.2,539.6 L148.7,539.9 L147.8,539.5 L147,539 L146.6,539.1 L146.3,540 L145.9,540.9 L145.3,541 L144.7,540.2 L144.2,539.4 L143.7,539.3 L143.1,540 L142.3,540.6 L141.8,540.4 L141.6,539.5 L141.5,538.6 L141.1,538.3 L140.2,538.6 L139.3,538.8 L138.9,538.4 L139.1,537.5 L139.4,536.6 L139.1,536.2 L138.2,536.1 L137.3,535.9 L137.1,535.4 L137.7,534.6 L138.4,534 L138.3,533.5 L137.5,533 L136.7,532.4 L136.8,531.8 L137.7,531.4 L138.6,531.1 L138.7,530.7 L138.2,529.9 L137.8,529 L138.1,528.5 L139.1,528.5 L140,528.6 L140.3,528.3 L140.2,527.4 L140.2,526.4 L140.7,526.1 L141.6,526.5 L142.4,527 L142.8,526.9 L143.1,526 L143.5,525.1 L144.1,525 L144.7,525.8 L145.2,526.6 L145.7,526.7 L146.3,526 L147.1,525.4 L147.6,525.6 L147.8,526.5 L147.9,527.4 L148.3,527.7 L149.2,527.4 L150.1,527.2 L150.5,527.6 L150.3,528.5 L150,529.4 L150.3,529.8 L151.2,529.9 L152.1,530.1 L152.3,530.6 L151.7,531.4 L151,532 L151.1,532.5Z" fill="#fff" stroke="#444" stroke-width="0.9"/>
<path d="M149.8,533 L150.2,533.5 L149.8,534 L149,534.3 L148.5,534.5 L148.6,535 L149,535.8 L149,536.4 L148.4,536.6 L147.6,536.4 L147.1,536.3 L146.9,536.8 L146.8,537.7 L146.5,538.2 L145.9,538 L145.3,537.4 L144.9,537.1 L144.5,537.4 L144,538.1 L143.4,538.3 L143,537.9 L142.8,537.1 L142.6,536.6 L142.1,536.6 L141.3,536.9 L140.7,536.8 L140.6,536.2 L140.9,535.4 L141.1,534.9 L140.6,534.6 L139.8,534.4 L139.3,534 L139.6,533.5 L140.2,533 L140.6,532.6 L140.3,532.2 L139.8,531.6 L139.6,531 L140.1,530.6 L140.9,530.6 L141.5,530.5 L141.5,529.9 L141.3,529.1 L141.5,528.5 L142.1,528.5 L142.8,528.9 L143.4,529.1 L143.7,528.7 L144,527.9 L144.4,527.5 L144.9,527.8 L145.3,528.6 L145.7,529 L146.2,528.8 L146.8,528.3 L147.4,528.2 L147.7,528.8 L147.6,529.6 L147.7,530.2 L148.2,530.3 L149,530.2 L149.6,530.5 L149.5,531.1 L149,531.7 L148.7,532.2 L149.1,532.6Z" fill="#eee" stroke="#555" stroke-width="0.8"/>
<circle cx="144.7" cy="533" r="2.3" fill="#111"/>
<path d="M158.2,596.7 L159,597.3 L158.9,597.9 L158,598.3 L157.1,598.6 L157,599 L157.5,599.8 L157.9,600.7 L157.6,601.2 L156.6,601.2 L155.7,601.1 L155.4,601.4 L155.5,602.3 L155.5,603.3 L155,603.6 L154.1,603.2 L153.3,602.7 L152.9,602.8 L152.6,603.7 L152.2,604.6 L151.6,604.7 L151,603.9 L150.5,603.1 L150,603 L149.4,603.7 L148.6,604.3 L148.1,604.1 L147.9,603.2 L147.8,602.3 L147.4,602 L146.5,602.3 L145.6,602.5 L145.2,602.1 L145.4,601.2 L145.7,600.3 L145.4,599.9 L144.5,599.8 L143.6,599.6 L143.4,599.1 L144,598.3 L144.7,597.7 L144.6,597.2 L143.8,596.7 L143,596.1 L143.1,595.5 L144,595.1 L144.9,594.8 L145,594.4 L144.5,593.6 L144.1,592.7 L144.4,592.2 L145.4,592.2 L146.3,592.3 L146.6,592 L146.5,591.1 L146.5,590.1 L147,589.8 L147.9,590.2 L148.7,590.7 L149.1,590.6 L149.4,589.7 L149.8,588.8 L150.4,588.7 L151,589.5 L151.5,590.3 L152,590.4 L152.6,589.7 L153.4,589.1 L153.9,589.3 L154.1,590.2 L154.2,591.1 L154.6,591.4 L155.5,591.1 L156.4,590.9 L156.8,591.3 L156.6,592.2 L156.3,593.1 L156.6,593.5 L157.5,593.6 L158.4,593.8 L158.6,594.3 L158,595.1 L157.3,595.7 L157.4,596.2Z" fill="#fff" stroke="#444" stroke-width="0.9"/>
<path d="M156.1,596.7 L156.5,597.2 L156.1,597.7 L155.3,598 L154.8,598.2 L154.9,598.7 L155.3,599.5 L155.3,600.1 L154.7,600.3 L153.9,600.1 L153.4,600 L153.2,600.5 L153.1,601.4 L152.8,601.9 L152.2,601.7 L151.6,601.1 L151.2,600.8 L150.8,601.1 L150.3,601.8 L149.7,602 L149.3,601.6 L149.1,600.8 L148.9,600.3 L148.4,600.3 L147.6,600.6 L147,600.5 L146.9,599.9 L147.2,599.1 L147.4,598.6 L146.9,598.3 L146.1,598.1 L145.6,597.7 L145.9,597.2 L146.5,596.7 L146.9,596.3 L146.6,595.9 L146.1,595.3 L145.9,594.7 L146.4,594.3 L147.2,594.3 L147.8,594.2 L147.8,593.6 L147.6,592.8 L147.8,592.2 L148.4,592.2 L149.1,592.6 L149.7,592.8 L150,592.4 L150.3,591.6 L150.7,591.2 L151.2,591.5 L151.6,592.3 L152,592.7 L152.5,592.5 L153.1,592 L153.7,591.9 L154,592.5 L153.9,593.3 L154,593.9 L154.5,594 L155.3,593.9 L155.9,594.2 L155.8,594.8 L155.3,595.4 L155,595.9 L155.4,596.3Z" fill="#eee" stroke="#555" stroke-width="0.8"/>
<circle cx="151" cy="596.7" r="2.3" fill="#111"/>
<circle cx="327" cy="475.4" r="4.6" fill="#8a8a8a" stroke="#333" stroke-width="0.9"/>
<circle cx="331.4" cy="478.6" r="4.6" fill="#8a8a8a" stroke="#333" stroke-width="0.9"/>
<circle cx="329.7" cy="483.7" r="4.6" fill="#8a8a8a" stroke="#333" stroke-width="0.9"/>
<circle cx="324.3" cy="483.7" r="4.6" fill="#8a8a8a" stroke="#333" stroke-width="0.9"/>
<circle cx="322.6" cy="478.6" r="4.6" fill="#8a8a8a" stroke="#333" stroke-width="0.9"/>
<circle cx="327" cy="480" r="4" fill="#bdbdbd"/>
<rect x="324.1" y="477.6" width="1.8" height="1.8" fill="#333"/>
<rect x="328.1" y="477.6" width="1.8" height="1.8" fill="#333"/>
<rect x="326.1" y="481.1" width="1.8" height="1.8" fill="#333"/>
<rect x="323.1" y="481.6" width="1.8" height="1.8" fill="#333"/>
<rect x="329.1" y="481.6" width="1.8" height="1.8" fill="#333"/>
<circle cx="325.9" cy="505" r="1.7" fill="#8a8a8a" stroke="#333" stroke-width="0.7"/>
<circle cx="331.4" cy="507.8" r="1.7" fill="#8a8a8a" stroke="#333" stroke-width="0.7"/>
<circle cx="320.8" cy="501.9" r="1.7" fill="#8a8a8a" stroke="#333" stroke-width="0.7"/>
<circle cx="327.5" cy="497.3" r="1.7" fill="#8a8a8a" stroke="#333" stroke-width="0.7"/>
<circle cx="329.3" cy="502.7" r="1.7" fill="#8a8a8a" stroke="#333" stroke-width="0.7"/>
<circle cx="324.3" cy="510.4" r="1.7" fill="#8a8a8a" stroke="#333" stroke-width="0.7"/>
<circle cx="332.4" cy="500.7" r="1.7" fill="#8a8a8a" stroke="#333" stroke-width="0.7"/>
<circle cx="320.6" cy="505.2" r="1.7" fill="#8a8a8a" stroke="#333" stroke-width="0.7"/>
<circle cx="330" cy="511.2" r="1.7" fill="#8a8a8a" stroke="#333" stroke-width="0.7"/>
<circle cx="323.2" cy="500" r="1.7" fill="#8a8a8a" stroke="#333" stroke-width="0.7"/>
<circle cx="333" cy="503.6" r="1.7" fill="#8a8a8a" stroke="#333" stroke-width="0.7"/>
<circle cx="330.6" cy="496.8" r="1.7" fill="#8a8a8a" stroke="#333" stroke-width="0.7"/>
<circle cx="328.3" cy="507.2" r="1.7" fill="#8a8a8a" stroke="#333" stroke-width="0.7"/>
<circle cx="324" cy="496.5" r="1.7" fill="#8a8a8a" stroke="#333" stroke-width="0.7"/>
<circle cx="320.8" cy="498.3" r="1.7" fill="#8a8a8a" stroke="#333" stroke-width="0.7"/>
<circle cx="323.2" cy="506.9" r="1.7" fill="#8a8a8a" stroke="#333" stroke-width="0.7"/>
<circle cx="320.6" cy="508.3" r="1.7" fill="#8a8a8a" stroke="#333" stroke-width="0.7"/>
<circle cx="334.2" cy="506.5" r="1.7" fill="#8a8a8a" stroke="#333" stroke-width="0.7"/>
<circle cx="325.6" cy="501.8" r="1.7" fill="#8a8a8a" stroke="#333" stroke-width="0.7"/>
<circle cx="326.9" cy="511.8" r="1.7" fill="#8a8a8a" stroke="#333" stroke-width="0.7"/>
<line x1="322" y1="523" x2="344" y2="533" stroke="#555" stroke-width="0.6"/>
<line x1="327" y1="519" x2="343" y2="532" stroke="#555" stroke-width="0.6"/>
<line x1="333" y1="526" x2="344" y2="532.5" stroke="#555" stroke-width="0.6"/>
<circle cx="318.7" cy="518.5" r="1.5" fill="#9a9a9a" stroke="#3a3a3a" stroke-width="0.55"/>
<circle cx="320.9" cy="522" r="1.5" fill="#9a9a9a" stroke="#3a3a3a" stroke-width="0.55"/>
<circle cx="324.4" cy="518.5" r="1.5" fill="#9a9a9a" stroke="#3a3a3a" stroke-width="0.55"/>
<circle cx="326.2" cy="525.1" r="1.5" fill="#9a9a9a" stroke="#3a3a3a" stroke-width="0.55"/>
<circle cx="329.3" cy="520.6" r="1.5" fill="#9a9a9a" stroke="#3a3a3a" stroke-width="0.55"/>
<circle cx="331.5" cy="526.9" r="1.5" fill="#9a9a9a" stroke="#3a3a3a" stroke-width="0.55"/>
<circle cx="333.9" cy="523" r="1.5" fill="#9a9a9a" stroke="#3a3a3a" stroke-width="0.55"/>
<circle cx="335.6" cy="529.4" r="1.5" fill="#9a9a9a" stroke="#3a3a3a" stroke-width="0.55"/>
<circle cx="338.7" cy="526" r="1.5" fill="#9a9a9a" stroke="#3a3a3a" stroke-width="0.55"/>
<circle cx="323.2" cy="528.2" r="1.5" fill="#9a9a9a" stroke="#3a3a3a" stroke-width="0.55"/>
<circle cx="327.9" cy="530.2" r="1.5" fill="#9a9a9a" stroke="#3a3a3a" stroke-width="0.55"/>
<circle cx="333.3" cy="531.7" r="1.5" fill="#9a9a9a" stroke="#3a3a3a" stroke-width="0.55"/>
<circle cx="319.9" cy="526.1" r="1.5" fill="#9a9a9a" stroke="#3a3a3a" stroke-width="0.55"/>
<circle cx="330.2" cy="516.1" r="1.5" fill="#9a9a9a" stroke="#3a3a3a" stroke-width="0.55"/>
<circle cx="335.5" cy="519.7" r="1.5" fill="#9a9a9a" stroke="#3a3a3a" stroke-width="0.55"/>
<circle cx="326.9" cy="514.9" r="1.5" fill="#9a9a9a" stroke="#3a3a3a" stroke-width="0.55"/>
<circle cx="338.1" cy="530.8" r="1.5" fill="#9a9a9a" stroke="#3a3a3a" stroke-width="0.55"/>
<circle cx="341.1" cy="528.8" r="1.5" fill="#9a9a9a" stroke="#3a3a3a" stroke-width="0.55"/>
<path d="M316,591.5 Q325,587 333,574" stroke="#1a1a1a" stroke-width="1.1" fill="none"/>
<line x1="319.1" y1="589.6" x2="320.1" y2="585.6" stroke="#3a3a3a" stroke-width="0.55"/>
<line x1="319.1" y1="589.6" x2="323.3" y2="590.3" stroke="#3a3a3a" stroke-width="0.55"/>
<line x1="321.2" y1="588.1" x2="321.8" y2="584.2" stroke="#3a3a3a" stroke-width="0.55"/>
<line x1="321.2" y1="588.1" x2="325.2" y2="588.4" stroke="#3a3a3a" stroke-width="0.55"/>
<line x1="323.2" y1="586.4" x2="323.5" y2="582.6" stroke="#3a3a3a" stroke-width="0.55"/>
<line x1="323.2" y1="586.4" x2="327" y2="586.4" stroke="#3a3a3a" stroke-width="0.55"/>
<line x1="325.2" y1="584.4" x2="325.3" y2="580.8" stroke="#3a3a3a" stroke-width="0.55"/>
<line x1="325.2" y1="584.4" x2="328.8" y2="584.1" stroke="#3a3a3a" stroke-width="0.55"/>
<line x1="327.2" y1="582.1" x2="327" y2="578.8" stroke="#3a3a3a" stroke-width="0.55"/>
<line x1="327.2" y1="582.1" x2="330.5" y2="581.7" stroke="#3a3a3a" stroke-width="0.55"/>
<line x1="329.2" y1="579.6" x2="328.8" y2="576.5" stroke="#3a3a3a" stroke-width="0.55"/>
<line x1="329.2" y1="579.6" x2="332.3" y2="579.1" stroke="#3a3a3a" stroke-width="0.55"/>
<line x1="331.1" y1="576.9" x2="330.7" y2="574.1" stroke="#3a3a3a" stroke-width="0.55"/>
<line x1="331.1" y1="576.9" x2="333.9" y2="576.3" stroke="#3a3a3a" stroke-width="0.55"/>
<circle cx="329.9" cy="603.5" r="1.6" fill="#8a8a8a" stroke="#2a2a2a" stroke-width="0.7"/>
<circle cx="326.9" cy="601.3" r="1.6" fill="#8a8a8a" stroke="#2a2a2a" stroke-width="0.7"/>
<circle cx="328.1" cy="610.5" r="1.6" fill="#8a8a8a" stroke="#2a2a2a" stroke-width="0.7"/>
<circle cx="323.9" cy="597.1" r="1.6" fill="#8a8a8a" stroke="#2a2a2a" stroke-width="0.7"/>
<circle cx="316.9" cy="602" r="1.6" fill="#8a8a8a" stroke="#2a2a2a" stroke-width="0.7"/>
<circle cx="327.4" cy="605.8" r="1.6" fill="#8a8a8a" stroke="#2a2a2a" stroke-width="0.7"/>
<circle cx="324.6" cy="606.5" r="1.6" fill="#8a8a8a" stroke="#2a2a2a" stroke-width="0.7"/>
<circle cx="320.9" cy="604.6" r="1.6" fill="#8a8a8a" stroke="#2a2a2a" stroke-width="0.7"/>
<circle cx="315.9" cy="608.7" r="1.6" fill="#8a8a8a" stroke="#2a2a2a" stroke-width="0.7"/>
<circle cx="323.2" cy="609" r="1.6" fill="#8a8a8a" stroke="#2a2a2a" stroke-width="0.7"/>
<circle cx="318.5" cy="612.2" r="1.6" fill="#8a8a8a" stroke="#2a2a2a" stroke-width="0.7"/>
<circle cx="330.8" cy="608.1" r="1.6" fill="#8a8a8a" stroke="#2a2a2a" stroke-width="0.7"/>
<circle cx="323.1" cy="612.3" r="1.6" fill="#8a8a8a" stroke="#2a2a2a" stroke-width="0.7"/>
<circle cx="323.8" cy="601.1" r="1.6" fill="#8a8a8a" stroke="#2a2a2a" stroke-width="0.7"/>
<circle cx="319.9" cy="607.3" r="1.6" fill="#8a8a8a" stroke="#2a2a2a" stroke-width="0.7"/>
<circle cx="327.8" cy="598.3" r="1.6" fill="#8a8a8a" stroke="#2a2a2a" stroke-width="0.7"/>
<circle cx="315.2" cy="604.5" r="1.6" fill="#8a8a8a" stroke="#2a2a2a" stroke-width="0.7"/>
<circle cx="329.6" cy="600.6" r="1.6" fill="#8a8a8a" stroke="#2a2a2a" stroke-width="0.7"/>
<circle cx="318.9" cy="597.9" r="1.6" fill="#8a8a8a" stroke="#2a2a2a" stroke-width="0.7"/>
<circle cx="325.8" cy="613" r="1.6" fill="#8a8a8a" stroke="#2a2a2a" stroke-width="0.7"/>
<circle cx="319.7" cy="601.3" r="1.6" fill="#8a8a8a" stroke="#2a2a2a" stroke-width="0.7"/>
<circle cx="321.4" cy="599.1" r="1.6" fill="#8a8a8a" stroke="#2a2a2a" stroke-width="0.7"/>
<circle cx="320.9" cy="610.5" r="1.6" fill="#8a8a8a" stroke="#2a2a2a" stroke-width="0.7"/>
<circle cx="325" cy="603.7" r="1.6" fill="#8a8a8a" stroke="#2a2a2a" stroke-width="0.7"/>
<path d="M316,631 Q328,626 341,614" stroke="#333" stroke-width="0.8" fill="none"/>
<path d="M321,629Q323.3,623.3 317,621Q315.1,627.5 321,629Z" fill="#9a9a9a" stroke="#333" stroke-width="0.7"/>
<path d="M322,630Q316.9,632 320,637Q325.3,634.3 322,630Z" fill="#9a9a9a" stroke="#333" stroke-width="0.7"/>
<path d="M327,627Q331.3,623.4 327,619Q322.7,623.4 327,627Z" fill="#9a9a9a" stroke="#333" stroke-width="0.7"/>
<path d="M328,627Q326.9,632.5 333,633Q333.6,626.9 328,627Z" fill="#9a9a9a" stroke="#333" stroke-width="0.7"/>
<path d="M332,623Q336,621.6 335,617Q330.7,619 332,623Z" fill="#9a9a9a" stroke="#333" stroke-width="0.7"/>
<path d="M334,622Q334.9,625.7 339,625Q337.6,621 334,622Z" fill="#9a9a9a" stroke="#333" stroke-width="0.7"/>
<path d="M337,619Q339.8,616.7 338,613Q335.1,615.9 337,619Z" fill="#9a9a9a" stroke="#333" stroke-width="0.7"/>
<path d="M339,617Q339.8,619.8 343,619Q341.8,616 339,617Z" fill="#9a9a9a" stroke="#333" stroke-width="0.7"/>
<path d="M340,615Q342.7,615 343,612Q340,612.3 340,615Z" fill="#9a9a9a" stroke="#333" stroke-width="0.7"/>
<path d="M327.6,649Q337.3,644.2 329.5,635.6Q319.6,641.7 327.6,649Z" fill="#858585" stroke="#2a2a2a" stroke-width="0.8"/>
<path d="M327.6,649Q337.4,653.6 339.2,642.1Q328.3,638.2 327.6,649Z" fill="#858585" stroke="#2a2a2a" stroke-width="0.8"/>
<path d="M327.6,649Q330.1,659.5 340.2,653.8Q336.4,642.8 327.6,649Z" fill="#858585" stroke="#2a2a2a" stroke-width="0.8"/>
<path d="M327.6,649Q321,657.5 331.7,661.9Q337.9,652.1 327.6,649Z" fill="#858585" stroke="#2a2a2a" stroke-width="0.8"/>
<path d="M327.6,649Q316.8,649.1 320.1,660.2Q331.6,659 327.6,649Z" fill="#858585" stroke="#2a2a2a" stroke-width="0.8"/>
<path d="M327.6,649Q320.8,640.6 314.1,650.1Q322.3,658.4 327.6,649Z" fill="#858585" stroke="#2a2a2a" stroke-width="0.8"/>
<path d="M327.6,649Q329.9,638.5 318.3,639.2Q317,650.7 327.6,649Z" fill="#858585" stroke="#2a2a2a" stroke-width="0.8"/>
<circle cx="327.6" cy="649" r="3" fill="#555"/>
<path d="M183,658 L184,628" stroke="#666" stroke-width="0.6"/>
<path d="M183,638Q183.9,631.6 177,629Q176.7,636.3 183,638Z" fill="#bdbdbd" stroke="#555" stroke-width="0.6"/>
<path d="M183,638Q188.9,636.8 189,630Q182.5,632 183,638Z" fill="#bdbdbd" stroke="#555" stroke-width="0.6"/>
<path d="M183,644Q181.6,637.9 175,640Q177.2,646.5 183,644Z" fill="#bdbdbd" stroke="#555" stroke-width="0.6"/>
<path d="M183,644Q187.8,647.8 191,642Q185.4,638.4 183,644Z" fill="#bdbdbd" stroke="#555" stroke-width="0.6"/>
<path d="M183,648Q177.4,647.9 178,654Q184.1,653.5 183,648Z" fill="#bdbdbd" stroke="#555" stroke-width="0.6"/>
<path d="M183,652Q176.2,649.3 174,657Q181.7,659.2 183,652Z" fill="#cfcfcf" stroke="#444" stroke-width="0.8"/>
<path d="M184,653Q191.8,652.7 192,644Q183.4,645.2 184,653Z" fill="#cfcfcf" stroke="#444" stroke-width="0.8"/>
<path d="M183,629.9 L184.4,632.6 L187.4,633.1 L185.2,635.2 L185.7,638.2 L183,636.8 L180.3,638.2 L180.8,635.2 L178.6,633.1 L181.6,632.6Z" fill="#333" stroke="#1a1a1a" stroke-width="0.5"/>
<path d="M182.4,639.5 L180.8,642.1 L182.1,644.9 L179.1,644.2 L176.8,646.3 L176.6,643.2 L173.9,641.7 L176.7,640.5 L177.3,637.6 L179.3,639.9Z" fill="#333" stroke="#1a1a1a" stroke-width="0.5"/>
<path d="M191,638.6 L189.8,641.3 L191.4,644 L188.4,643.6 L186.4,646 L185.7,643 L182.9,641.8 L185.6,640.3 L185.8,637.2 L188.1,639.3Z" fill="#333" stroke="#1a1a1a" stroke-width="0.5"/>
<path d="M186,644.8 L186,647.9 L188.6,649.6 L185.7,650.6 L184.9,653.5 L183,651.1 L180,651.2 L181.7,648.7 L180.6,645.8 L183.6,646.7Z" fill="#333" stroke="#1a1a1a" stroke-width="0.5"/>
<path d="M181.3,625.7 L181.2,627.5 L182.5,628.5 L180.9,629 L180.3,630.6 L179.4,629.1 L177.6,629.1 L178.7,627.7 L178.2,626.1 L179.9,626.7Z" fill="#333" stroke="#1a1a1a" stroke-width="0.5"/>
<path d="M187.7,626.6 L187.1,627.9 L187.9,629.2 L186.4,629 L185.5,630.1 L185.2,628.7 L183.8,628.1 L185.1,627.4 L185.2,626 L186.3,626.9Z" fill="#333" stroke="#1a1a1a" stroke-width="0.5"/>
<path d="M236,658 L237,628" stroke="#666" stroke-width="0.6"/>
<path d="M236,638Q236.9,631.6 230,629Q229.7,636.3 236,638Z" fill="#bdbdbd" stroke="#555" stroke-width="0.6"/>
<path d="M236,638Q241.9,636.8 242,630Q235.5,632 236,638Z" fill="#bdbdbd" stroke="#555" stroke-width="0.6"/>
<path d="M236,644Q234.6,637.9 228,640Q230.2,646.5 236,644Z" fill="#bdbdbd" stroke="#555" stroke-width="0.6"/>
<path d="M236,644Q240.8,647.8 244,642Q238.4,638.4 236,644Z" fill="#bdbdbd" stroke="#555" stroke-width="0.6"/>
<path d="M236,648Q230.4,647.9 231,654Q237.1,653.5 236,648Z" fill="#bdbdbd" stroke="#555" stroke-width="0.6"/>
<path d="M236,652Q229.2,649.3 227,657Q234.7,659.2 236,652Z" fill="#cfcfcf" stroke="#444" stroke-width="0.8"/>
<path d="M237,653Q244.8,652.7 245,644Q236.4,645.2 237,653Z" fill="#cfcfcf" stroke="#444" stroke-width="0.8"/>
<path d="M236.1,629.9 L237.4,632.7 L240.4,633.2 L238.2,635.3 L238.6,638.3 L235.9,636.8 L233.2,638.1 L233.8,635.2 L231.7,633 L234.7,632.6Z" fill="#333" stroke="#1a1a1a" stroke-width="0.5"/>
<path d="M232.1,637.4 L233.1,640.3 L236,641.2 L233.6,643 L233.7,646 L231.2,644.3 L228.3,645.3 L229.2,642.4 L227.3,640 L230.4,640Z" fill="#333" stroke="#1a1a1a" stroke-width="0.5"/>
<path d="M240.9,636.9 L242,639.8 L245,640.5 L242.6,642.4 L242.9,645.4 L240.3,643.8 L237.5,645 L238.3,642 L236.3,639.7 L239.3,639.5Z" fill="#333" stroke="#1a1a1a" stroke-width="0.5"/>
<path d="M240.1,645.6 L239.3,648.6 L241.2,650.9 L238.1,651 L236.4,653.6 L235.4,650.7 L232.5,649.9 L234.9,648 L234.8,645 L237.3,646.7Z" fill="#333" stroke="#1a1a1a" stroke-width="0.5"/>
<path d="M233.5,625.4 L233.9,627.1 L235.6,627.7 L234.1,628.6 L234.1,630.4 L232.8,629.3 L231.1,629.8 L231.7,628.2 L230.7,626.7 L232.4,626.8Z" fill="#333" stroke="#1a1a1a" stroke-width="0.5"/>
<path d="M240.8,626.7 L240.1,628 L240.8,629.3 L239.3,629 L238.3,630.1 L238.1,628.7 L236.8,628 L238.1,627.4 L238.3,625.9 L239.3,627Z" fill="#333" stroke="#1a1a1a" stroke-width="0.5"/>
<path d="M278,658 L279,628" stroke="#666" stroke-width="0.6"/>
<path d="M278,638Q278.9,631.6 272,629Q271.7,636.3 278,638Z" fill="#bdbdbd" stroke="#555" stroke-width="0.6"/>
<path d="M278,638Q283.9,636.8 284,630Q277.5,632 278,638Z" fill="#bdbdbd" stroke="#555" stroke-width="0.6"/>
<path d="M278,644Q276.6,637.9 270,640Q272.2,646.5 278,644Z" fill="#bdbdbd" stroke="#555" stroke-width="0.6"/>
<path d="M278,644Q282.8,647.8 286,642Q280.4,638.4 278,644Z" fill="#bdbdbd" stroke="#555" stroke-width="0.6"/>
<path d="M278,648Q272.4,647.9 273,654Q279.1,653.5 278,648Z" fill="#bdbdbd" stroke="#555" stroke-width="0.6"/>
<path d="M278,652Q271.2,649.3 269,657Q276.7,659.2 278,652Z" fill="#cfcfcf" stroke="#444" stroke-width="0.8"/>
<path d="M279,653Q286.8,652.7 287,644Q278.4,645.2 279,653Z" fill="#cfcfcf" stroke="#444" stroke-width="0.8"/>
<path d="M279.3,630.1 L279.8,633.1 L282.6,634.4 L279.9,635.8 L279.5,638.8 L277.3,636.7 L274.3,637.3 L275.7,634.5 L274.2,631.9 L277.2,632.3Z" fill="#333" stroke="#1a1a1a" stroke-width="0.5"/>
<path d="M274.7,637.5 L275.3,640.5 L278.1,641.7 L275.4,643.2 L275.2,646.3 L272.9,644.2 L269.9,644.9 L271.2,642.1 L269.6,639.5 L272.7,639.9Z" fill="#333" stroke="#1a1a1a" stroke-width="0.5"/>
<path d="M286.3,638.9 L284.8,641.6 L286.2,644.3 L283.2,643.7 L281,645.8 L280.6,642.8 L277.9,641.4 L280.7,640.1 L281.2,637.1 L283.3,639.3Z" fill="#333" stroke="#1a1a1a" stroke-width="0.5"/>
<path d="M281,644.9 L281,647.9 L283.6,649.6 L280.7,650.6 L279.8,653.5 L278,651.1 L275,651.2 L276.7,648.7 L275.7,645.8 L278.6,646.7Z" fill="#333" stroke="#1a1a1a" stroke-width="0.5"/>
<path d="M275.5,625.4 L276,627.1 L277.6,627.7 L276.1,628.6 L276.1,630.4 L274.7,629.3 L273.1,629.8 L273.7,628.2 L272.7,626.7 L274.5,626.8Z" fill="#333" stroke="#1a1a1a" stroke-width="0.5"/>
<path d="M282.3,626.3 L282.1,627.7 L283.1,628.7 L281.6,628.9 L280.9,630.2 L280.3,628.9 L278.9,628.6 L280,627.6 L279.8,626.2 L281,626.9Z" fill="#333" stroke="#1a1a1a" stroke-width="0.5"/>
<path d="M200,635.5 Q199,647.5 207.5,650.5 Q216,647.5 215,635.5 Q207.5,630.5 200,635.5Z" fill="#8b8b8b" stroke="#3a3a3a" stroke-width="1"/>
<circle cx="207.1" cy="644.1" r="0.6" fill="#ddd"/>
<circle cx="204.4" cy="642.2" r="0.6" fill="#ddd"/>
<circle cx="204.2" cy="639.2" r="0.6" fill="#ddd"/>
<circle cx="204.4" cy="645.9" r="0.6" fill="#ddd"/>
<circle cx="205" cy="638.4" r="0.6" fill="#ddd"/>
<circle cx="205.5" cy="641.4" r="0.6" fill="#ddd"/>
<circle cx="209.4" cy="644.7" r="0.6" fill="#ddd"/>
<circle cx="208.1" cy="642.8" r="0.6" fill="#ddd"/>
<circle cx="208" cy="642" r="0.6" fill="#ddd"/>
<circle cx="204.6" cy="637.8" r="0.6" fill="#ddd"/>
<circle cx="205.7" cy="644.2" r="0.6" fill="#ddd"/>
<circle cx="203" cy="640.9" r="0.6" fill="#ddd"/>
<path d="M207.5,630 L208.2,633.2 L211.4,632.2 L209,634.5 L211.4,636.8 L208.2,635.8 L207.5,639 L206.8,635.8 L203.6,636.8 L206,634.5 L203.6,632.2 L206.8,633.2Z" fill="#222"/>
<line x1="207.5" y1="631.5" x2="207.5" y2="628.5" stroke="#222" stroke-width="1"/>
<path d="M249.5,632 Q248.5,644 257,647 Q265.5,644 264.5,632 Q257,627 249.5,632Z" fill="#8b8b8b" stroke="#3a3a3a" stroke-width="1"/>
<circle cx="261.9" cy="638.2" r="0.6" fill="#ddd"/>
<circle cx="254.2" cy="639.5" r="0.6" fill="#ddd"/>
<circle cx="252.4" cy="635.6" r="0.6" fill="#ddd"/>
<circle cx="257.3" cy="640.6" r="0.6" fill="#ddd"/>
<circle cx="255.7" cy="638.1" r="0.6" fill="#ddd"/>
<circle cx="253.7" cy="634.8" r="0.6" fill="#ddd"/>
<circle cx="256.5" cy="641.4" r="0.6" fill="#ddd"/>
<circle cx="253.9" cy="641.3" r="0.6" fill="#ddd"/>
<circle cx="260.3" cy="643.4" r="0.6" fill="#ddd"/>
<circle cx="253.4" cy="643.8" r="0.6" fill="#ddd"/>
<circle cx="252.5" cy="639.4" r="0.6" fill="#ddd"/>
<circle cx="259.1" cy="638.5" r="0.6" fill="#ddd"/>
<path d="M257,626.5 L257.8,629.7 L260.9,628.8 L258.5,631 L260.9,633.2 L257.8,632.3 L257,635.5 L256.2,632.3 L253.1,633.2 L255.5,631 L253.1,628.8 L256.2,629.7Z" fill="#222"/>
<line x1="257" y1="628" x2="257" y2="625" stroke="#222" stroke-width="1"/>
<path d="M293,632 Q292,644 300.5,647 Q309,644 308,632 Q300.5,627 293,632Z" fill="#8b8b8b" stroke="#3a3a3a" stroke-width="1"/>
<circle cx="298.1" cy="640.3" r="0.6" fill="#ddd"/>
<circle cx="296.2" cy="635.9" r="0.6" fill="#ddd"/>
<circle cx="303.5" cy="637.4" r="0.6" fill="#ddd"/>
<circle cx="300.1" cy="642.5" r="0.6" fill="#ddd"/>
<circle cx="300.4" cy="638.8" r="0.6" fill="#ddd"/>
<circle cx="304.8" cy="639.3" r="0.6" fill="#ddd"/>
<circle cx="300.3" cy="638.2" r="0.6" fill="#ddd"/>
<circle cx="300.9" cy="635.3" r="0.6" fill="#ddd"/>
<circle cx="305.4" cy="634.6" r="0.6" fill="#ddd"/>
<circle cx="297.3" cy="642.5" r="0.6" fill="#ddd"/>
<circle cx="302.2" cy="643.9" r="0.6" fill="#ddd"/>
<circle cx="302.6" cy="642.3" r="0.6" fill="#ddd"/>
<path d="M300.5,626.5 L301.2,629.7 L304.4,628.8 L302,631 L304.4,633.2 L301.2,632.3 L300.5,635.5 L299.8,632.3 L296.6,633.2 L299,631 L296.6,628.8 L299.8,629.7Z" fill="#222"/>
<line x1="300.5" y1="628" x2="300.5" y2="625" stroke="#222" stroke-width="1"/>
<line x1="207" y1="650" x2="207.5" y2="665" stroke="#333" stroke-width="0.9"/>
<text x="219.6" y="404.6" font-size="9.5" textLength="46.8" lengthAdjust="spacingAndGlyphs" class="lab">Peach Tree</text>
<text x="153.6" y="428.2" font-size="9.5" textLength="44.4" lengthAdjust="spacingAndGlyphs" class="lab">Raspberry</text>
<text x="166" y="439.6" font-size="9.5" textLength="21.5" lengthAdjust="spacingAndGlyphs" class="lab">Bush</text>
<text x="286" y="429.2" font-size="9.5" textLength="43.6" lengthAdjust="spacingAndGlyphs" class="lab">Raspberry</text>
<text x="297" y="441" font-size="9.5" textLength="22" lengthAdjust="spacingAndGlyphs" class="lab">Bush</text>
<text x="124.6" y="448.3" font-size="9.5" textLength="19.6" lengthAdjust="spacingAndGlyphs" class="lab">Basil</text>
<text x="104.5" y="480" font-size="9.5" textLength="29" lengthAdjust="spacingAndGlyphs" class="lab">Cherry</text>
<text x="103.4" y="489" font-size="9.5" textLength="32.4" lengthAdjust="spacingAndGlyphs" class="lab">Tomato</text>
<text x="103" y="516" font-size="9.5" textLength="39.5" lengthAdjust="spacingAndGlyphs" class="lab">Marigold</text>
<text x="335" y="451.8" font-size="9.5" textLength="49" lengthAdjust="spacingAndGlyphs" class="lab">Nasturtium</text>
<text x="344" y="509.4" font-size="9.5" textLength="40" lengthAdjust="spacingAndGlyphs" class="lab">Lavender</text>
<text x="342.8" y="580.8" font-size="9.5" textLength="42.9" lengthAdjust="spacingAndGlyphs" class="lab">Rosemary</text>
<text x="342.8" y="600.3" font-size="9.5" textLength="43.9" lengthAdjust="spacingAndGlyphs" class="lab">Bachelor’s</text>
<text x="349" y="608.9" font-size="9.5" textLength="30.4" lengthAdjust="spacingAndGlyphs" class="lab">Button</text>
<text x="365" y="636.5" font-size="9.5" textLength="21" lengthAdjust="spacingAndGlyphs" class="lab">Sage</text>
<text x="364.4" y="668.8" font-size="9.5" textLength="20.3" lengthAdjust="spacingAndGlyphs" class="lab">Mint</text>
<text x="120" y="670.5" font-size="9.5" textLength="30.6" lengthAdjust="spacingAndGlyphs" class="lab">Borage</text>
<text x="185" y="676.6" font-size="9.5" textLength="47.7" lengthAdjust="spacingAndGlyphs" class="lab">Strawberry</text>
<line x1="143" y1="452" x2="152.5" y2="475.8" stroke="#222" stroke-width="0.9"/><path d="M152.5,475.8L150.1,473.4L152.6,472.4Z" fill="#222"/>
<line x1="135" y1="492" x2="152.5" y2="513.7" stroke="#222" stroke-width="0.9"/><path d="M152.5,513.7L149.5,512.2L151.6,510.4Z" fill="#222"/>
<line x1="124.6" y1="522.6" x2="134.6" y2="530.4" stroke="#222" stroke-width="0.9"/><path d="M134.6,530.4L131.3,529.6L133,527.4Z" fill="#222"/>
<line x1="349.5" y1="455.6" x2="335.8" y2="471" stroke="#222" stroke-width="0.9"/><path d="M335.8,471L336.8,467.8L338.9,469.6Z" fill="#222"/>
<line x1="352" y1="512.8" x2="341" y2="523.5" stroke="#222" stroke-width="0.9"/><path d="M341,523.5L342.3,520.3L344.2,522.3Z" fill="#222"/>
<line x1="345" y1="584" x2="331.6" y2="588.7" stroke="#222" stroke-width="0.9"/><path d="M331.6,588.7L334.1,586.4L335,589Z" fill="#222"/>
<line x1="347" y1="604.5" x2="335" y2="605.5" stroke="#222" stroke-width="0.9"/><path d="M335,605.5L338,603.9L338.2,606.6Z" fill="#222"/>
<line x1="362" y1="633.3" x2="337.5" y2="627.4" stroke="#222" stroke-width="0.9"/><path d="M337.5,627.4L340.8,626.8L340.2,629.5Z" fill="#222"/>
<line x1="363" y1="665" x2="338.5" y2="657" stroke="#222" stroke-width="0.9"/><path d="M338.5,657L341.9,656.6L341,659.3Z" fill="#222"/>
<line x1="151" y1="661" x2="174" y2="652" stroke="#222" stroke-width="0.9"/><path d="M174,652L171.6,654.4L170.6,651.8Z" fill="#222"/>
</svg>
<svg width="1000" height="762" style="left:0;top:0" viewBox="0 0 1000 762">
<polygon points="687,376.4 733,376.4 736.2,667.9 690.2,667.9" fill="#fafafa"/>
<line x1="687.1" y1="376.6" x2="702.6" y2="376.7" stroke="#7a7a7a" stroke-width="0.9"/>
<line x1="702.6" y1="376.6" x2="714.2" y2="376.7" stroke="#5e5e5e" stroke-width="0.9"/>
<line x1="714.2" y1="376.3" x2="725.8" y2="376.3" stroke="#7a7a7a" stroke-width="0.9"/>
<line x1="725.8" y1="376.4" x2="734.5" y2="376.2" stroke="#707070" stroke-width="0.9"/>
<line x1="687.6" y1="386.6" x2="701" y2="386.4" stroke="#555" stroke-width="0.9"/>
<line x1="701" y1="387.1" x2="709.6" y2="387.2" stroke="#666" stroke-width="0.9"/>
<line x1="709.6" y1="387" x2="718" y2="387" stroke="#5e5e5e" stroke-width="1.1"/>
<line x1="718" y1="387" x2="732.2" y2="387.2" stroke="#666" stroke-width="0.9"/>
<line x1="686.8" y1="397.1" x2="695.9" y2="397.3" stroke="#7a7a7a" stroke-width="0.9"/>
<line x1="695.9" y1="397.1" x2="710.1" y2="397.1" stroke="#666" stroke-width="1"/>
<line x1="710.1" y1="397.2" x2="719.9" y2="397.3" stroke="#555" stroke-width="0.9"/>
<line x1="719.9" y1="397.4" x2="735.5" y2="397.4" stroke="#707070" stroke-width="0.9"/>
<line x1="687.8" y1="407.4" x2="700.8" y2="407.2" stroke="#5e5e5e" stroke-width="1"/>
<line x1="700.8" y1="407.4" x2="718.2" y2="407.3" stroke="#707070" stroke-width="0.9"/>
<line x1="718.2" y1="407.6" x2="728.5" y2="407.8" stroke="#555" stroke-width="1"/>
<line x1="728.5" y1="407.6" x2="733.3" y2="407.5" stroke="#707070" stroke-width="1.1"/>
<line x1="686.2" y1="418.2" x2="699.5" y2="418.2" stroke="#7a7a7a" stroke-width="0.9"/>
<line x1="699.5" y1="417.9" x2="713.7" y2="418.1" stroke="#5e5e5e" stroke-width="1"/>
<line x1="713.7" y1="418" x2="723.5" y2="418.1" stroke="#555" stroke-width="1.1"/>
<line x1="723.5" y1="418" x2="733.3" y2="417.9" stroke="#7a7a7a" stroke-width="0.9"/>
<line x1="686.7" y1="428.7" x2="694.4" y2="428.7" stroke="#707070" stroke-width="0.9"/>
<line x1="694.4" y1="428.7" x2="702.9" y2="428.7" stroke="#5e5e5e" stroke-width="1"/>
<line x1="702.9" y1="428.3" x2="718.4" y2="428.2" stroke="#5e5e5e" stroke-width="0.9"/>
<line x1="718.4" y1="428.3" x2="729.4" y2="428.4" stroke="#7a7a7a" stroke-width="1.1"/>
<line x1="729.4" y1="428.4" x2="734.7" y2="428.4" stroke="#666" stroke-width="1"/>
<line x1="686.9" y1="438.8" x2="694.7" y2="439" stroke="#5e5e5e" stroke-width="1"/>
<line x1="694.7" y1="438.8" x2="706.7" y2="438.6" stroke="#666" stroke-width="1"/>
<line x1="706.7" y1="438.9" x2="719.2" y2="438.7" stroke="#666" stroke-width="1"/>
<line x1="719.2" y1="439" x2="733.2" y2="438.9" stroke="#666" stroke-width="1.1"/>
<line x1="733.2" y1="439.1" x2="733.8" y2="439.2" stroke="#666" stroke-width="1"/>
<line x1="687.8" y1="449.1" x2="700.3" y2="449.2" stroke="#707070" stroke-width="0.9"/>
<line x1="700.3" y1="449.4" x2="712.3" y2="449.3" stroke="#666" stroke-width="1"/>
<line x1="712.3" y1="449.4" x2="727.2" y2="449.4" stroke="#5e5e5e" stroke-width="1.1"/>
<line x1="727.2" y1="449.5" x2="732.3" y2="449.7" stroke="#7a7a7a" stroke-width="0.9"/>
<line x1="688.9" y1="459.9" x2="699.2" y2="459.8" stroke="#555" stroke-width="1"/>
<line x1="699.2" y1="459.5" x2="714" y2="459.6" stroke="#7a7a7a" stroke-width="1"/>
<line x1="714" y1="459.6" x2="731.2" y2="459.6" stroke="#666" stroke-width="1"/>
<line x1="731.2" y1="459.5" x2="733.2" y2="459.5" stroke="#5e5e5e" stroke-width="0.9"/>
<line x1="688.2" y1="470.1" x2="694.7" y2="470" stroke="#555" stroke-width="1.1"/>
<line x1="694.7" y1="470.3" x2="702.1" y2="470.3" stroke="#7a7a7a" stroke-width="0.9"/>
<line x1="702.1" y1="470" x2="713.7" y2="470.1" stroke="#7a7a7a" stroke-width="0.9"/>
<line x1="713.7" y1="470" x2="728.3" y2="470" stroke="#666" stroke-width="1.1"/>
<line x1="728.3" y1="470.2" x2="735.1" y2="470.2" stroke="#555" stroke-width="1"/>
<line x1="687.4" y1="480.7" x2="699.6" y2="480.6" stroke="#666" stroke-width="1.1"/>
<line x1="699.6" y1="480.7" x2="710.6" y2="480.7" stroke="#666" stroke-width="1"/>
<line x1="710.6" y1="480.4" x2="718.5" y2="480.4" stroke="#5e5e5e" stroke-width="1.1"/>
<line x1="718.5" y1="480.4" x2="731.8" y2="480.6" stroke="#555" stroke-width="0.9"/>
<line x1="731.8" y1="480.7" x2="733.8" y2="480.7" stroke="#666" stroke-width="1"/>
<line x1="689" y1="490.8" x2="700.2" y2="490.7" stroke="#707070" stroke-width="0.9"/>
<line x1="700.2" y1="490.7" x2="716.4" y2="490.8" stroke="#666" stroke-width="1"/>
<line x1="716.4" y1="490.8" x2="727.4" y2="491" stroke="#707070" stroke-width="1.1"/>
<line x1="727.4" y1="490.7" x2="734.3" y2="490.7" stroke="#707070" stroke-width="0.9"/>
<line x1="687" y1="501.3" x2="697.7" y2="501.3" stroke="#5e5e5e" stroke-width="1.1"/>
<line x1="697.7" y1="501.2" x2="713.1" y2="501.1" stroke="#5e5e5e" stroke-width="1"/>
<line x1="713.1" y1="501.3" x2="722.5" y2="501.5" stroke="#7a7a7a" stroke-width="1"/>
<line x1="722.5" y1="501.4" x2="733.4" y2="501.3" stroke="#5e5e5e" stroke-width="0.9"/>
<line x1="688.3" y1="511.7" x2="697.9" y2="511.7" stroke="#666" stroke-width="1"/>
<line x1="697.9" y1="511.5" x2="713.6" y2="511.3" stroke="#7a7a7a" stroke-width="1"/>
<line x1="713.6" y1="511.9" x2="730.6" y2="511.9" stroke="#555" stroke-width="1"/>
<line x1="730.6" y1="511.8" x2="734.3" y2="511.9" stroke="#707070" stroke-width="1.1"/>
<line x1="689.2" y1="522.2" x2="703.4" y2="522.4" stroke="#707070" stroke-width="1.1"/>
<line x1="703.4" y1="522.3" x2="710.2" y2="522.4" stroke="#707070" stroke-width="1"/>
<line x1="710.2" y1="522.1" x2="724" y2="522.1" stroke="#5e5e5e" stroke-width="1"/>
<line x1="724" y1="522.1" x2="735" y2="522.1" stroke="#5e5e5e" stroke-width="1"/>
<line x1="688.6" y1="532.4" x2="703.4" y2="532.3" stroke="#555" stroke-width="1"/>
<line x1="703.4" y1="532.7" x2="709.7" y2="532.9" stroke="#707070" stroke-width="1"/>
<line x1="709.7" y1="532.7" x2="716.3" y2="532.6" stroke="#555" stroke-width="1"/>
<line x1="716.3" y1="532.4" x2="723.9" y2="532.6" stroke="#5e5e5e" stroke-width="0.9"/>
<line x1="723.9" y1="532.7" x2="732.1" y2="532.5" stroke="#5e5e5e" stroke-width="0.9"/>
<line x1="732.1" y1="532.5" x2="733.4" y2="532.3" stroke="#555" stroke-width="1"/>
<line x1="687.6" y1="542.7" x2="701.1" y2="542.6" stroke="#7a7a7a" stroke-width="1"/>
<line x1="701.1" y1="543" x2="711.4" y2="543.2" stroke="#5e5e5e" stroke-width="1"/>
<line x1="711.4" y1="543" x2="719.2" y2="543" stroke="#7a7a7a" stroke-width="1"/>
<line x1="719.2" y1="542.7" x2="727.8" y2="542.6" stroke="#666" stroke-width="1"/>
<line x1="727.8" y1="542.8" x2="734.9" y2="542.8" stroke="#707070" stroke-width="0.9"/>
<line x1="689.2" y1="553.5" x2="696.3" y2="553.3" stroke="#555" stroke-width="1"/>
<line x1="696.3" y1="553.3" x2="707.7" y2="553.3" stroke="#666" stroke-width="0.9"/>
<line x1="707.7" y1="553.4" x2="720.1" y2="553.3" stroke="#5e5e5e" stroke-width="1.1"/>
<line x1="720.1" y1="553.5" x2="731.2" y2="553.6" stroke="#555" stroke-width="1.1"/>
<line x1="731.2" y1="553.5" x2="736.1" y2="553.4" stroke="#7a7a7a" stroke-width="0.9"/>
<line x1="689.7" y1="563.9" x2="706.8" y2="564" stroke="#707070" stroke-width="0.9"/>
<line x1="706.8" y1="563.9" x2="722.8" y2="564" stroke="#707070" stroke-width="1.1"/>
<line x1="722.8" y1="563.5" x2="733.1" y2="563.7" stroke="#5e5e5e" stroke-width="1"/>
<line x1="733.1" y1="563.6" x2="734.7" y2="563.4" stroke="#5e5e5e" stroke-width="0.9"/>
<line x1="688.9" y1="574.1" x2="702.8" y2="574.1" stroke="#666" stroke-width="1.1"/>
<line x1="702.8" y1="574.2" x2="716.3" y2="574.1" stroke="#555" stroke-width="0.9"/>
<line x1="716.3" y1="574" x2="730.1" y2="574.1" stroke="#707070" stroke-width="0.9"/>
<line x1="730.1" y1="574.1" x2="737.4" y2="573.9" stroke="#666" stroke-width="1"/>
<line x1="687.9" y1="584.7" x2="698" y2="584.7" stroke="#555" stroke-width="1"/>
<line x1="698" y1="584.6" x2="712.1" y2="584.8" stroke="#555" stroke-width="1"/>
<line x1="712.1" y1="584.6" x2="722" y2="584.5" stroke="#5e5e5e" stroke-width="0.9"/>
<line x1="722" y1="584.6" x2="736.6" y2="584.7" stroke="#7a7a7a" stroke-width="1"/>
<line x1="736.6" y1="584.5" x2="737.4" y2="584.5" stroke="#707070" stroke-width="0.9"/>
<line x1="688.1" y1="595.1" x2="699.7" y2="595" stroke="#5e5e5e" stroke-width="1.1"/>
<line x1="699.7" y1="595" x2="713.4" y2="595.2" stroke="#555" stroke-width="1"/>
<line x1="713.4" y1="595.1" x2="724.9" y2="595" stroke="#555" stroke-width="1"/>
<line x1="724.9" y1="595" x2="737.9" y2="595" stroke="#555" stroke-width="1"/>
<line x1="688.6" y1="605.4" x2="695.7" y2="605.5" stroke="#555" stroke-width="1"/>
<line x1="695.7" y1="605.2" x2="711.1" y2="605.3" stroke="#707070" stroke-width="0.9"/>
<line x1="711.1" y1="605.2" x2="717.7" y2="605.4" stroke="#5e5e5e" stroke-width="1"/>
<line x1="717.7" y1="605.3" x2="731.4" y2="605.2" stroke="#666" stroke-width="1"/>
<line x1="731.4" y1="605.7" x2="737.2" y2="605.5" stroke="#555" stroke-width="1.1"/>
<line x1="688.7" y1="615.8" x2="701.1" y2="615.9" stroke="#707070" stroke-width="1"/>
<line x1="701.1" y1="615.6" x2="708.7" y2="615.7" stroke="#707070" stroke-width="1.1"/>
<line x1="708.7" y1="615.9" x2="726.7" y2="615.7" stroke="#707070" stroke-width="0.9"/>
<line x1="726.7" y1="616" x2="734.2" y2="615.9" stroke="#5e5e5e" stroke-width="1"/>
<line x1="689.4" y1="626.5" x2="705" y2="626.5" stroke="#666" stroke-width="0.9"/>
<line x1="705" y1="626" x2="719.4" y2="625.9" stroke="#666" stroke-width="1.1"/>
<line x1="719.4" y1="626" x2="736" y2="626.1" stroke="#707070" stroke-width="1"/>
<line x1="736" y1="626.4" x2="737" y2="626.5" stroke="#5e5e5e" stroke-width="1"/>
<line x1="689.5" y1="636.9" x2="703.3" y2="637" stroke="#707070" stroke-width="0.9"/>
<line x1="703.3" y1="636.6" x2="719.1" y2="636.4" stroke="#555" stroke-width="0.9"/>
<line x1="719.1" y1="636.6" x2="726.7" y2="636.6" stroke="#555" stroke-width="0.9"/>
<line x1="726.7" y1="636.7" x2="737.6" y2="636.5" stroke="#555" stroke-width="1.1"/>
<line x1="690.5" y1="647.3" x2="699.6" y2="647.1" stroke="#7a7a7a" stroke-width="1"/>
<line x1="699.6" y1="647" x2="710" y2="646.8" stroke="#7a7a7a" stroke-width="1"/>
<line x1="710" y1="647.3" x2="717.9" y2="647.2" stroke="#7a7a7a" stroke-width="0.9"/>
<line x1="717.9" y1="647" x2="732.5" y2="647.2" stroke="#707070" stroke-width="0.9"/>
<line x1="732.5" y1="647.3" x2="736.2" y2="647.3" stroke="#707070" stroke-width="0.9"/>
<line x1="688.7" y1="657.5" x2="696.6" y2="657.5" stroke="#555" stroke-width="0.9"/>
<line x1="696.6" y1="657.4" x2="712.4" y2="657.3" stroke="#555" stroke-width="0.9"/>
<line x1="712.4" y1="657.5" x2="725.3" y2="657.6" stroke="#707070" stroke-width="1"/>
<line x1="725.3" y1="657.6" x2="733.8" y2="657.6" stroke="#7a7a7a" stroke-width="0.9"/>
<line x1="733.8" y1="657.3" x2="737.3" y2="657.3" stroke="#5e5e5e" stroke-width="1.1"/>
<line x1="690.4" y1="667.9" x2="697.1" y2="667.8" stroke="#5e5e5e" stroke-width="1.1"/>
<line x1="697.1" y1="667.6" x2="709" y2="667.5" stroke="#555" stroke-width="1"/>
<line x1="709" y1="668.1" x2="718.4" y2="668.2" stroke="#666" stroke-width="1"/>
<line x1="718.4" y1="667.9" x2="730" y2="667.7" stroke="#5e5e5e" stroke-width="0.9"/>
<line x1="730" y1="667.9" x2="736.1" y2="667.9" stroke="#5e5e5e" stroke-width="1.1"/>
<line x1="736.1" y1="668" x2="738.3" y2="668" stroke="#7a7a7a" stroke-width="0.9"/>
<line x1="693.3" y1="376.4" x2="693.3" y2="381.1" stroke="#666" stroke-width="0.9"/>
<line x1="693.3" y1="381.1" x2="693.5" y2="386.8" stroke="#8c8c8c" stroke-width="0.85"/>
<line x1="704.8" y1="376.4" x2="704.8" y2="381.1" stroke="#666" stroke-width="0.9"/>
<line x1="704.8" y1="381.1" x2="705.1" y2="386.8" stroke="#8c8c8c" stroke-width="0.85"/>
<line x1="717.6" y1="376.4" x2="717.6" y2="381.1" stroke="#666" stroke-width="0.9"/>
<line x1="717.6" y1="381.1" x2="717.8" y2="386.8" stroke="#8c8c8c" stroke-width="0.85"/>
<line x1="730" y1="376.4" x2="730" y2="381.1" stroke="#666" stroke-width="0.9"/>
<line x1="730" y1="381.1" x2="730.1" y2="386.8" stroke="#8c8c8c" stroke-width="0.85"/>
<line x1="701.3" y1="386.8" x2="701.3" y2="391.5" stroke="#666" stroke-width="0.9"/>
<line x1="701.3" y1="391.5" x2="701.2" y2="397.2" stroke="#8c8c8c" stroke-width="0.85"/>
<line x1="713.4" y1="386.8" x2="713.4" y2="391.5" stroke="#666" stroke-width="0.9"/>
<line x1="713.4" y1="391.5" x2="713.5" y2="397.2" stroke="#8c8c8c" stroke-width="0.85"/>
<line x1="725.2" y1="386.8" x2="725.2" y2="391.5" stroke="#666" stroke-width="0.9"/>
<line x1="725.2" y1="391.5" x2="725.1" y2="397.2" stroke="#8c8c8c" stroke-width="0.85"/>
<line x1="691.2" y1="397.2" x2="691.2" y2="401.9" stroke="#666" stroke-width="0.9"/>
<line x1="691.2" y1="401.9" x2="691.2" y2="407.6" stroke="#8c8c8c" stroke-width="0.85"/>
<line x1="703.3" y1="397.2" x2="703.3" y2="401.9" stroke="#666" stroke-width="0.9"/>
<line x1="703.3" y1="401.9" x2="703.4" y2="407.6" stroke="#8c8c8c" stroke-width="0.85"/>
<line x1="715.7" y1="397.2" x2="715.7" y2="401.9" stroke="#666" stroke-width="0.9"/>
<line x1="715.7" y1="401.9" x2="715.6" y2="407.6" stroke="#8c8c8c" stroke-width="0.85"/>
<line x1="728.8" y1="397.2" x2="728.8" y2="401.9" stroke="#666" stroke-width="0.9"/>
<line x1="728.8" y1="401.9" x2="728.7" y2="407.6" stroke="#8c8c8c" stroke-width="0.85"/>
<line x1="697.2" y1="407.6" x2="697.2" y2="412.3" stroke="#666" stroke-width="0.9"/>
<line x1="697.2" y1="412.3" x2="697.3" y2="418" stroke="#8c8c8c" stroke-width="0.85"/>
<line x1="709.5" y1="407.6" x2="709.5" y2="412.3" stroke="#666" stroke-width="0.9"/>
<line x1="709.5" y1="412.3" x2="709.7" y2="418" stroke="#8c8c8c" stroke-width="0.85"/>
<line x1="722.5" y1="407.6" x2="722.5" y2="412.3" stroke="#666" stroke-width="0.9"/>
<line x1="722.5" y1="412.3" x2="722.6" y2="418" stroke="#8c8c8c" stroke-width="0.85"/>
<line x1="695.4" y1="418" x2="695.4" y2="422.7" stroke="#666" stroke-width="0.9"/>
<line x1="695.4" y1="422.7" x2="695.4" y2="428.4" stroke="#8c8c8c" stroke-width="0.85"/>
<line x1="706.3" y1="418" x2="706.3" y2="422.7" stroke="#666" stroke-width="0.9"/>
<line x1="706.3" y1="422.7" x2="706.3" y2="428.4" stroke="#8c8c8c" stroke-width="0.85"/>
<line x1="719.3" y1="418" x2="719.3" y2="422.7" stroke="#666" stroke-width="0.9"/>
<line x1="719.3" y1="422.7" x2="719.1" y2="428.4" stroke="#8c8c8c" stroke-width="0.85"/>
<line x1="700.2" y1="428.4" x2="700.2" y2="433.1" stroke="#666" stroke-width="0.9"/>
<line x1="700.2" y1="433.1" x2="700.2" y2="438.9" stroke="#8c8c8c" stroke-width="0.85"/>
<line x1="710.5" y1="428.4" x2="710.5" y2="433.1" stroke="#666" stroke-width="0.9"/>
<line x1="710.5" y1="433.1" x2="710.5" y2="438.9" stroke="#8c8c8c" stroke-width="0.85"/>
<line x1="721.4" y1="428.4" x2="721.4" y2="433.1" stroke="#666" stroke-width="0.9"/>
<line x1="721.4" y1="433.1" x2="721.5" y2="438.9" stroke="#8c8c8c" stroke-width="0.85"/>
<line x1="696.6" y1="438.9" x2="696.6" y2="443.5" stroke="#666" stroke-width="0.9"/>
<line x1="696.6" y1="443.5" x2="696.7" y2="449.3" stroke="#8c8c8c" stroke-width="0.85"/>
<line x1="708.1" y1="438.9" x2="708.1" y2="443.5" stroke="#666" stroke-width="0.9"/>
<line x1="708.1" y1="443.5" x2="707.9" y2="449.3" stroke="#8c8c8c" stroke-width="0.85"/>
<line x1="720.5" y1="438.9" x2="720.5" y2="443.5" stroke="#666" stroke-width="0.9"/>
<line x1="720.5" y1="443.5" x2="720.5" y2="449.3" stroke="#8c8c8c" stroke-width="0.85"/>
<line x1="699.4" y1="449.3" x2="699.4" y2="454" stroke="#666" stroke-width="0.9"/>
<line x1="699.4" y1="454" x2="699.7" y2="459.7" stroke="#8c8c8c" stroke-width="0.85"/>
<line x1="710.4" y1="449.3" x2="710.4" y2="454" stroke="#666" stroke-width="0.9"/>
<line x1="710.4" y1="454" x2="710.3" y2="459.7" stroke="#8c8c8c" stroke-width="0.85"/>
<line x1="721.5" y1="449.3" x2="721.5" y2="454" stroke="#666" stroke-width="0.9"/>
<line x1="721.5" y1="454" x2="721.6" y2="459.7" stroke="#8c8c8c" stroke-width="0.85"/>
<line x1="692.4" y1="459.7" x2="692.4" y2="464.4" stroke="#666" stroke-width="0.9"/>
<line x1="692.4" y1="464.4" x2="692.5" y2="470.1" stroke="#8c8c8c" stroke-width="0.85"/>
<line x1="705" y1="459.7" x2="705" y2="464.4" stroke="#666" stroke-width="0.9"/>
<line x1="705" y1="464.4" x2="704.8" y2="470.1" stroke="#8c8c8c" stroke-width="0.85"/>
<line x1="715.5" y1="459.7" x2="715.5" y2="464.4" stroke="#666" stroke-width="0.9"/>
<line x1="715.5" y1="464.4" x2="715.5" y2="470.1" stroke="#8c8c8c" stroke-width="0.85"/>
<line x1="728.3" y1="459.7" x2="728.3" y2="464.4" stroke="#666" stroke-width="0.9"/>
<line x1="728.3" y1="464.4" x2="728.5" y2="470.1" stroke="#8c8c8c" stroke-width="0.85"/>
<line x1="699.9" y1="470.1" x2="699.9" y2="474.8" stroke="#666" stroke-width="0.9"/>
<line x1="699.9" y1="474.8" x2="699.9" y2="480.5" stroke="#8c8c8c" stroke-width="0.85"/>
<line x1="711.8" y1="470.1" x2="711.8" y2="474.8" stroke="#666" stroke-width="0.9"/>
<line x1="711.8" y1="474.8" x2="712.1" y2="480.5" stroke="#8c8c8c" stroke-width="0.85"/>
<line x1="723" y1="470.1" x2="723" y2="474.8" stroke="#666" stroke-width="0.9"/>
<line x1="723" y1="474.8" x2="722.9" y2="480.5" stroke="#8c8c8c" stroke-width="0.85"/>
<line x1="697.4" y1="480.5" x2="697.4" y2="485.2" stroke="#666" stroke-width="0.9"/>
<line x1="697.4" y1="485.2" x2="697.2" y2="490.9" stroke="#8c8c8c" stroke-width="0.85"/>
<line x1="707.8" y1="480.5" x2="707.8" y2="485.2" stroke="#666" stroke-width="0.9"/>
<line x1="707.8" y1="485.2" x2="707.6" y2="490.9" stroke="#8c8c8c" stroke-width="0.85"/>
<line x1="719.8" y1="480.5" x2="719.8" y2="485.2" stroke="#666" stroke-width="0.9"/>
<line x1="719.8" y1="485.2" x2="719.9" y2="490.9" stroke="#8c8c8c" stroke-width="0.85"/>
<line x1="730.7" y1="480.5" x2="730.7" y2="485.2" stroke="#666" stroke-width="0.9"/>
<line x1="730.7" y1="485.2" x2="730.5" y2="490.9" stroke="#8c8c8c" stroke-width="0.85"/>
<line x1="701.5" y1="490.9" x2="701.5" y2="495.6" stroke="#666" stroke-width="0.9"/>
<line x1="701.5" y1="495.6" x2="701.6" y2="501.3" stroke="#8c8c8c" stroke-width="0.85"/>
<line x1="714" y1="490.9" x2="714" y2="495.6" stroke="#666" stroke-width="0.9"/>
<line x1="714" y1="495.6" x2="713.8" y2="501.3" stroke="#8c8c8c" stroke-width="0.85"/>
<line x1="725.8" y1="490.9" x2="725.8" y2="495.6" stroke="#666" stroke-width="0.9"/>
<line x1="725.8" y1="495.6" x2="726" y2="501.3" stroke="#8c8c8c" stroke-width="0.85"/>
<line x1="693.8" y1="501.3" x2="693.8" y2="506" stroke="#666" stroke-width="0.9"/>
<line x1="693.8" y1="506" x2="694" y2="511.7" stroke="#8c8c8c" stroke-width="0.85"/>
<line x1="706" y1="501.3" x2="706" y2="506" stroke="#666" stroke-width="0.9"/>
<line x1="706" y1="506" x2="706.3" y2="511.7" stroke="#8c8c8c" stroke-width="0.85"/>
<line x1="717" y1="501.3" x2="717" y2="506" stroke="#666" stroke-width="0.9"/>
<line x1="717" y1="506" x2="717.1" y2="511.7" stroke="#8c8c8c" stroke-width="0.85"/>
<line x1="729.8" y1="501.3" x2="729.8" y2="506" stroke="#666" stroke-width="0.9"/>
<line x1="729.8" y1="506" x2="729.8" y2="511.7" stroke="#8c8c8c" stroke-width="0.85"/>
<line x1="699" y1="511.7" x2="699" y2="516.4" stroke="#666" stroke-width="0.9"/>
<line x1="699" y1="516.4" x2="698.8" y2="522.1" stroke="#8c8c8c" stroke-width="0.85"/>
<line x1="709.6" y1="511.7" x2="709.6" y2="516.4" stroke="#666" stroke-width="0.9"/>
<line x1="709.6" y1="516.4" x2="709.4" y2="522.1" stroke="#8c8c8c" stroke-width="0.85"/>
<line x1="721.8" y1="511.7" x2="721.8" y2="516.4" stroke="#666" stroke-width="0.9"/>
<line x1="721.8" y1="516.4" x2="721.5" y2="522.1" stroke="#8c8c8c" stroke-width="0.85"/>
<line x1="696.5" y1="522.1" x2="696.5" y2="526.8" stroke="#666" stroke-width="0.9"/>
<line x1="696.5" y1="526.8" x2="696.7" y2="532.5" stroke="#8c8c8c" stroke-width="0.85"/>
<line x1="709.2" y1="522.1" x2="709.2" y2="526.8" stroke="#666" stroke-width="0.9"/>
<line x1="709.2" y1="526.8" x2="709.3" y2="532.5" stroke="#8c8c8c" stroke-width="0.85"/>
<line x1="722.3" y1="522.1" x2="722.3" y2="526.8" stroke="#666" stroke-width="0.9"/>
<line x1="722.3" y1="526.8" x2="722.6" y2="532.5" stroke="#8c8c8c" stroke-width="0.85"/>
<line x1="703.9" y1="532.5" x2="703.9" y2="537.2" stroke="#666" stroke-width="0.9"/>
<line x1="703.9" y1="537.2" x2="703.7" y2="543" stroke="#8c8c8c" stroke-width="0.85"/>
<line x1="714.5" y1="532.5" x2="714.5" y2="537.2" stroke="#666" stroke-width="0.9"/>
<line x1="714.5" y1="537.2" x2="714.2" y2="543" stroke="#8c8c8c" stroke-width="0.85"/>
<line x1="725.4" y1="532.5" x2="725.4" y2="537.2" stroke="#666" stroke-width="0.9"/>
<line x1="725.4" y1="537.2" x2="725.4" y2="543" stroke="#8c8c8c" stroke-width="0.85"/>
<line x1="696.4" y1="543" x2="696.4" y2="547.6" stroke="#666" stroke-width="0.9"/>
<line x1="696.4" y1="547.6" x2="696.6" y2="553.4" stroke="#8c8c8c" stroke-width="0.85"/>
<line x1="707" y1="543" x2="707" y2="547.6" stroke="#666" stroke-width="0.9"/>
<line x1="707" y1="547.6" x2="706.9" y2="553.4" stroke="#8c8c8c" stroke-width="0.85"/>
<line x1="718.9" y1="543" x2="718.9" y2="547.6" stroke="#666" stroke-width="0.9"/>
<line x1="718.9" y1="547.6" x2="718.8" y2="553.4" stroke="#8c8c8c" stroke-width="0.85"/>
<line x1="729.5" y1="543" x2="729.5" y2="547.6" stroke="#666" stroke-width="0.9"/>
<line x1="729.5" y1="547.6" x2="729.6" y2="553.4" stroke="#8c8c8c" stroke-width="0.85"/>
<line x1="702.4" y1="553.4" x2="702.4" y2="558.1" stroke="#666" stroke-width="0.9"/>
<line x1="702.4" y1="558.1" x2="702.4" y2="563.8" stroke="#8c8c8c" stroke-width="0.85"/>
<line x1="715.6" y1="553.4" x2="715.6" y2="558.1" stroke="#666" stroke-width="0.9"/>
<line x1="715.6" y1="558.1" x2="715.9" y2="563.8" stroke="#8c8c8c" stroke-width="0.85"/>
<line x1="726.1" y1="553.4" x2="726.1" y2="558.1" stroke="#666" stroke-width="0.9"/>
<line x1="726.1" y1="558.1" x2="726.3" y2="563.8" stroke="#8c8c8c" stroke-width="0.85"/>
<line x1="694.3" y1="563.8" x2="694.3" y2="568.5" stroke="#666" stroke-width="0.9"/>
<line x1="694.3" y1="568.5" x2="694.1" y2="574.2" stroke="#8c8c8c" stroke-width="0.85"/>
<line x1="706.1" y1="563.8" x2="706.1" y2="568.5" stroke="#666" stroke-width="0.9"/>
<line x1="706.1" y1="568.5" x2="706" y2="574.2" stroke="#8c8c8c" stroke-width="0.85"/>
<line x1="718.6" y1="563.8" x2="718.6" y2="568.5" stroke="#666" stroke-width="0.9"/>
<line x1="718.6" y1="568.5" x2="718.8" y2="574.2" stroke="#8c8c8c" stroke-width="0.85"/>
<line x1="730" y1="563.8" x2="730" y2="568.5" stroke="#666" stroke-width="0.9"/>
<line x1="730" y1="568.5" x2="729.9" y2="574.2" stroke="#8c8c8c" stroke-width="0.85"/>
<line x1="702.7" y1="574.2" x2="702.7" y2="578.9" stroke="#666" stroke-width="0.9"/>
<line x1="702.7" y1="578.9" x2="702.9" y2="584.6" stroke="#8c8c8c" stroke-width="0.85"/>
<line x1="714.8" y1="574.2" x2="714.8" y2="578.9" stroke="#666" stroke-width="0.9"/>
<line x1="714.8" y1="578.9" x2="714.7" y2="584.6" stroke="#8c8c8c" stroke-width="0.85"/>
<line x1="726.1" y1="574.2" x2="726.1" y2="578.9" stroke="#666" stroke-width="0.9"/>
<line x1="726.1" y1="578.9" x2="726.3" y2="584.6" stroke="#8c8c8c" stroke-width="0.85"/>
<line x1="693.1" y1="584.6" x2="693.1" y2="589.3" stroke="#666" stroke-width="0.9"/>
<line x1="693.1" y1="589.3" x2="693" y2="595" stroke="#8c8c8c" stroke-width="0.85"/>
<line x1="704.1" y1="584.6" x2="704.1" y2="589.3" stroke="#666" stroke-width="0.9"/>
<line x1="704.1" y1="589.3" x2="704.2" y2="595" stroke="#8c8c8c" stroke-width="0.85"/>
<line x1="714.6" y1="584.6" x2="714.6" y2="589.3" stroke="#666" stroke-width="0.9"/>
<line x1="714.6" y1="589.3" x2="714.5" y2="595" stroke="#8c8c8c" stroke-width="0.85"/>
<line x1="725.2" y1="584.6" x2="725.2" y2="589.3" stroke="#666" stroke-width="0.9"/>
<line x1="725.2" y1="589.3" x2="725.2" y2="595" stroke="#8c8c8c" stroke-width="0.85"/>
<line x1="702" y1="595" x2="702" y2="599.7" stroke="#666" stroke-width="0.9"/>
<line x1="702" y1="599.7" x2="702" y2="605.4" stroke="#8c8c8c" stroke-width="0.85"/>
<line x1="715.1" y1="595" x2="715.1" y2="599.7" stroke="#666" stroke-width="0.9"/>
<line x1="715.1" y1="599.7" x2="714.9" y2="605.4" stroke="#8c8c8c" stroke-width="0.85"/>
<line x1="726.5" y1="595" x2="726.5" y2="599.7" stroke="#666" stroke-width="0.9"/>
<line x1="726.5" y1="599.7" x2="726.7" y2="605.4" stroke="#8c8c8c" stroke-width="0.85"/>
<line x1="697.6" y1="605.4" x2="697.6" y2="610.1" stroke="#666" stroke-width="0.9"/>
<line x1="697.6" y1="610.1" x2="697.5" y2="615.8" stroke="#8c8c8c" stroke-width="0.85"/>
<line x1="708" y1="605.4" x2="708" y2="610.1" stroke="#666" stroke-width="0.9"/>
<line x1="708" y1="610.1" x2="707.8" y2="615.8" stroke="#8c8c8c" stroke-width="0.85"/>
<line x1="719.6" y1="605.4" x2="719.6" y2="610.1" stroke="#666" stroke-width="0.9"/>
<line x1="719.6" y1="610.1" x2="719.6" y2="615.8" stroke="#8c8c8c" stroke-width="0.85"/>
<line x1="731.5" y1="605.4" x2="731.5" y2="610.1" stroke="#666" stroke-width="0.9"/>
<line x1="731.5" y1="610.1" x2="731.2" y2="615.8" stroke="#8c8c8c" stroke-width="0.85"/>
<line x1="704.9" y1="615.8" x2="704.9" y2="620.5" stroke="#666" stroke-width="0.9"/>
<line x1="704.9" y1="620.5" x2="704.8" y2="626.2" stroke="#8c8c8c" stroke-width="0.85"/>
<line x1="716.6" y1="615.8" x2="716.6" y2="620.5" stroke="#666" stroke-width="0.9"/>
<line x1="716.6" y1="620.5" x2="716.3" y2="626.2" stroke="#8c8c8c" stroke-width="0.85"/>
<line x1="727.7" y1="615.8" x2="727.7" y2="620.5" stroke="#666" stroke-width="0.9"/>
<line x1="727.7" y1="620.5" x2="728" y2="626.2" stroke="#8c8c8c" stroke-width="0.85"/>
<line x1="696.3" y1="626.2" x2="696.3" y2="630.9" stroke="#666" stroke-width="0.9"/>
<line x1="696.3" y1="630.9" x2="696" y2="636.6" stroke="#8c8c8c" stroke-width="0.85"/>
<line x1="707.8" y1="626.2" x2="707.8" y2="630.9" stroke="#666" stroke-width="0.9"/>
<line x1="707.8" y1="630.9" x2="707.9" y2="636.6" stroke="#8c8c8c" stroke-width="0.85"/>
<line x1="719.4" y1="626.2" x2="719.4" y2="630.9" stroke="#666" stroke-width="0.9"/>
<line x1="719.4" y1="630.9" x2="719.4" y2="636.6" stroke="#8c8c8c" stroke-width="0.85"/>
<line x1="732.4" y1="626.2" x2="732.4" y2="630.9" stroke="#666" stroke-width="0.9"/>
<line x1="732.4" y1="630.9" x2="732.5" y2="636.6" stroke="#8c8c8c" stroke-width="0.85"/>
<line x1="699.5" y1="636.6" x2="699.5" y2="641.3" stroke="#666" stroke-width="0.9"/>
<line x1="699.5" y1="641.3" x2="699.2" y2="647.1" stroke="#8c8c8c" stroke-width="0.85"/>
<line x1="712.1" y1="636.6" x2="712.1" y2="641.3" stroke="#666" stroke-width="0.9"/>
<line x1="712.1" y1="641.3" x2="712" y2="647.1" stroke="#8c8c8c" stroke-width="0.85"/>
<line x1="725" y1="636.6" x2="725" y2="641.3" stroke="#666" stroke-width="0.9"/>
<line x1="725" y1="641.3" x2="725.2" y2="647.1" stroke="#8c8c8c" stroke-width="0.85"/>
<line x1="695.7" y1="647.1" x2="695.7" y2="651.7" stroke="#666" stroke-width="0.9"/>
<line x1="695.7" y1="651.7" x2="696" y2="657.5" stroke="#8c8c8c" stroke-width="0.85"/>
<line x1="708.3" y1="647.1" x2="708.3" y2="651.7" stroke="#666" stroke-width="0.9"/>
<line x1="708.3" y1="651.7" x2="708.5" y2="657.5" stroke="#8c8c8c" stroke-width="0.85"/>
<line x1="719.1" y1="647.1" x2="719.1" y2="651.7" stroke="#666" stroke-width="0.9"/>
<line x1="719.1" y1="651.7" x2="719.2" y2="657.5" stroke="#8c8c8c" stroke-width="0.85"/>
<line x1="730.6" y1="647.1" x2="730.6" y2="651.7" stroke="#666" stroke-width="0.9"/>
<line x1="730.6" y1="651.7" x2="730.9" y2="657.5" stroke="#8c8c8c" stroke-width="0.85"/>
<line x1="700.8" y1="657.5" x2="700.8" y2="662.2" stroke="#666" stroke-width="0.9"/>
<line x1="700.8" y1="662.2" x2="700.7" y2="667.9" stroke="#8c8c8c" stroke-width="0.85"/>
<line x1="711.9" y1="657.5" x2="711.9" y2="662.2" stroke="#666" stroke-width="0.9"/>
<line x1="711.9" y1="662.2" x2="711.9" y2="667.9" stroke="#8c8c8c" stroke-width="0.85"/>
<line x1="723.1" y1="657.5" x2="723.1" y2="662.2" stroke="#666" stroke-width="0.9"/>
<line x1="723.1" y1="662.2" x2="723.2" y2="667.9" stroke="#8c8c8c" stroke-width="0.85"/>
<line x1="695.3" y1="369.9" x2="695.3" y2="376.4" stroke="#777" stroke-width="0.8"/>
<line x1="706.9" y1="370.2" x2="706.9" y2="376.4" stroke="#777" stroke-width="0.8"/>
<line x1="718.4" y1="367.7" x2="718.4" y2="376.4" stroke="#777" stroke-width="0.8"/>
<line x1="694.9" y1="667.9" x2="694.9" y2="672.5" stroke="#999" stroke-width="0.8"/>
<line x1="705.3" y1="667.9" x2="705.3" y2="674.4" stroke="#999" stroke-width="0.8"/>
<line x1="718.5" y1="667.9" x2="718.5" y2="673.7" stroke="#999" stroke-width="0.8"/>
<line x1="729.2" y1="667.9" x2="729.2" y2="672.6" stroke="#999" stroke-width="0.8"/>
<path d="M3,0 C6,-3.6 13,-3.6 15,-1.2 Q16,0 15,1.2 C13,3.6 6,3.6 3,0Z" transform="translate(620.5,384) rotate(93.5)" fill="#fff" stroke="#222" stroke-width="0.85"/>
<path d="M3,0 C6,-3.6 13,-3.6 15,-1.2 Q16,0 15,1.2 C13,3.6 6,3.6 3,0Z" transform="translate(620.5,384) rotate(131.2)" fill="#fff" stroke="#222" stroke-width="0.85"/>
<path d="M3,0 C6,-3.6 13,-3.6 15,-1.2 Q16,0 15,1.2 C13,3.6 6,3.6 3,0Z" transform="translate(620.5,384) rotate(177.5)" fill="#fff" stroke="#222" stroke-width="0.85"/>
<path d="M3,0 C6,-3.6 13,-3.6 15,-1.2 Q16,0 15,1.2 C13,3.6 6,3.6 3,0Z" transform="translate(620.5,384) rotate(224.4)" fill="#fff" stroke="#222" stroke-width="0.85"/>
<path d="M3,0 C6,-3.6 13,-3.6 15,-1.2 Q16,0 15,1.2 C13,3.6 6,3.6 3,0Z" transform="translate(620.5,384) rotate(268.1)" fill="#fff" stroke="#222" stroke-width="0.85"/>
<path d="M3,0 C6,-3.6 13,-3.6 15,-1.2 Q16,0 15,1.2 C13,3.6 6,3.6 3,0Z" transform="translate(620.5,384) rotate(317)" fill="#fff" stroke="#222" stroke-width="0.85"/>
<path d="M3,0 C6,-3.6 13,-3.6 15,-1.2 Q16,0 15,1.2 C13,3.6 6,3.6 3,0Z" transform="translate(620.5,384) rotate(359)" fill="#fff" stroke="#222" stroke-width="0.85"/>
<path d="M3,0 C6,-3.6 13,-3.6 15,-1.2 Q16,0 15,1.2 C13,3.6 6,3.6 3,0Z" transform="translate(620.5,384) rotate(407.2)" fill="#fff" stroke="#222" stroke-width="0.85"/>
<circle cx="620.5" cy="384" r="3.7" fill="#111"/>
<path d="M3,0 C6,-3.6 13,-3.6 15,-1.2 Q16,0 15,1.2 C13,3.6 6,3.6 3,0Z" transform="translate(666.2,478.4) rotate(87.2)" fill="#fff" stroke="#222" stroke-width="0.85"/>
<path d="M3,0 C6,-3.6 13,-3.6 15,-1.2 Q16,0 15,1.2 C13,3.6 6,3.6 3,0Z" transform="translate(666.2,478.4) rotate(135.1)" fill="#fff" stroke="#222" stroke-width="0.85"/>
<path d="M3,0 C6,-3.6 13,-3.6 15,-1.2 Q16,0 15,1.2 C13,3.6 6,3.6 3,0Z" transform="translate(666.2,478.4) rotate(183.8)" fill="#fff" stroke="#222" stroke-width="0.85"/>
<path d="M3,0 C6,-3.6 13,-3.6 15,-1.2 Q16,0 15,1.2 C13,3.6 6,3.6 3,0Z" transform="translate(666.2,478.4) rotate(226.6)" fill="#fff" stroke="#222" stroke-width="0.85"/>
<path d="M3,0 C6,-3.6 13,-3.6 15,-1.2 Q16,0 15,1.2 C13,3.6 6,3.6 3,0Z" transform="translate(666.2,478.4) rotate(266.7)" fill="#fff" stroke="#222" stroke-width="0.85"/>
<path d="M3,0 C6,-3.6 13,-3.6 15,-1.2 Q16,0 15,1.2 C13,3.6 6,3.6 3,0Z" transform="translate(666.2,478.4) rotate(311.9)" fill="#fff" stroke="#222" stroke-width="0.85"/>
<path d="M3,0 C6,-3.6 13,-3.6 15,-1.2 Q16,0 15,1.2 C13,3.6 6,3.6 3,0Z" transform="translate(666.2,478.4) rotate(361.1)" fill="#fff" stroke="#222" stroke-width="0.85"/>
<path d="M3,0 C6,-3.6 13,-3.6 15,-1.2 Q16,0 15,1.2 C13,3.6 6,3.6 3,0Z" transform="translate(666.2,478.4) rotate(404)" fill="#fff" stroke="#222" stroke-width="0.85"/>
<circle cx="666.2" cy="478.4" r="3.7" fill="#111"/>
<path d="M3,0 C6,-3.6 13,-3.6 15,-1.2 Q16,0 15,1.2 C13,3.6 6,3.6 3,0Z" transform="translate(615.5,584) rotate(88.9)" fill="#fff" stroke="#222" stroke-width="0.85"/>
<path d="M3,0 C6,-3.6 13,-3.6 15,-1.2 Q16,0 15,1.2 C13,3.6 6,3.6 3,0Z" transform="translate(615.5,584) rotate(134.8)" fill="#fff" stroke="#222" stroke-width="0.85"/>
<path d="M3,0 C6,-3.6 13,-3.6 15,-1.2 Q16,0 15,1.2 C13,3.6 6,3.6 3,0Z" transform="translate(615.5,584) rotate(180.7)" fill="#fff" stroke="#222" stroke-width="0.85"/>
<path d="M3,0 C6,-3.6 13,-3.6 15,-1.2 Q16,0 15,1.2 C13,3.6 6,3.6 3,0Z" transform="translate(615.5,584) rotate(228.7)" fill="#fff" stroke="#222" stroke-width="0.85"/>
<path d="M3,0 C6,-3.6 13,-3.6 15,-1.2 Q16,0 15,1.2 C13,3.6 6,3.6 3,0Z" transform="translate(615.5,584) rotate(267.9)" fill="#fff" stroke="#222" stroke-width="0.85"/>
<path d="M3,0 C6,-3.6 13,-3.6 15,-1.2 Q16,0 15,1.2 C13,3.6 6,3.6 3,0Z" transform="translate(615.5,584) rotate(315.5)" fill="#fff" stroke="#222" stroke-width="0.85"/>
<path d="M3,0 C6,-3.6 13,-3.6 15,-1.2 Q16,0 15,1.2 C13,3.6 6,3.6 3,0Z" transform="translate(615.5,584) rotate(358.1)" fill="#fff" stroke="#222" stroke-width="0.85"/>
<path d="M3,0 C6,-3.6 13,-3.6 15,-1.2 Q16,0 15,1.2 C13,3.6 6,3.6 3,0Z" transform="translate(615.5,584) rotate(405.4)" fill="#fff" stroke="#222" stroke-width="0.85"/>
<circle cx="615.5" cy="584" r="3.7" fill="#111"/>
<path d="M667.4,393.4 L667.7,393.8 L667.7,394.2 L667.3,394.5 L666.9,394.8 L666.8,395.1 L667,395.6 L667.1,396.1 L666.9,396.4 L666.4,396.6 L666,396.7 L665.8,397 L665.7,397.4 L665.7,397.9 L665.4,398.2 L664.9,398.1 L664.4,398.1 L664.1,398.2 L663.9,398.7 L663.6,399.1 L663.3,399.2 L662.8,399 L662.4,398.8 L662.1,398.8 L661.7,399.1 L661.3,399.4 L660.9,399.4 L660.6,399 L660.3,398.6 L660,398.5 L659.5,398.7 L659,398.8 L658.7,398.6 L658.5,398.1 L658.4,397.7 L658.1,397.5 L657.7,397.4 L657.2,397.4 L656.9,397.1 L657,396.6 L657,396.1 L656.9,395.8 L656.4,395.6 L656,395.3 L655.9,395 L656.1,394.5 L656.3,394.1 L656.3,393.8 L656,393.4 L655.7,393 L655.7,392.6 L656.1,392.3 L656.5,392 L656.6,391.7 L656.4,391.2 L656.3,390.7 L656.5,390.4 L657,390.2 L657.4,390.1 L657.6,389.8 L657.7,389.4 L657.7,388.9 L658,388.6 L658.5,388.7 L659,388.7 L659.3,388.6 L659.5,388.1 L659.8,387.7 L660.1,387.6 L660.6,387.8 L661,388 L661.3,388 L661.7,387.7 L662.1,387.4 L662.5,387.4 L662.8,387.8 L663.1,388.2 L663.4,388.3 L663.9,388.1 L664.4,388 L664.7,388.2 L664.9,388.7 L665,389.1 L665.3,389.3 L665.7,389.4 L666.2,389.4 L666.5,389.7 L666.4,390.2 L666.4,390.7 L666.5,391 L667,391.2 L667.4,391.5 L667.5,391.8 L667.3,392.3 L667.1,392.7 L667.1,393Z" fill="#747474" stroke="#3a3a3a" stroke-width="0.6"/>
<path d="M665.6,393.4 L665.8,393.8 L665.7,394.1 L665.2,394.3 L664.9,394.6 L665,394.9 L665.1,395.4 L665.1,395.8 L664.8,396 L664.3,396 L663.9,396 L663.8,396.3 L663.7,396.8 L663.5,397.2 L663.1,397.2 L662.6,396.9 L662.3,396.8 L662,397 L661.7,397.3 L661.3,397.5 L661,397.4 L660.8,396.9 L660.5,396.6 L660.2,396.7 L659.7,396.8 L659.3,396.8 L659.1,396.5 L659.1,396 L659.1,395.6 L658.8,395.5 L658.3,395.4 L657.9,395.2 L657.9,394.8 L658.2,394.3 L658.3,394 L658.1,393.7 L657.8,393.4 L657.6,393 L657.7,392.7 L658.2,392.5 L658.5,392.2 L658.4,391.9 L658.3,391.4 L658.3,391 L658.6,390.8 L659.1,390.8 L659.5,390.8 L659.6,390.5 L659.7,390 L659.9,389.6 L660.3,389.6 L660.8,389.9 L661.1,390 L661.4,389.8 L661.7,389.5 L662.1,389.3 L662.4,389.4 L662.6,389.9 L662.9,390.2 L663.2,390.1 L663.7,390 L664.1,390 L664.3,390.3 L664.3,390.8 L664.3,391.2 L664.6,391.3 L665.1,391.4 L665.5,391.6 L665.5,392 L665.2,392.5 L665.1,392.8 L665.3,393.1Z" fill="#6a6a6a" stroke="#555" stroke-width="0.5"/>
<circle cx="661.7" cy="393.4" r="1.6" fill="#111"/>
<path d="M657.5,406.4 L657.8,406.8 L657.8,407.2 L657.4,407.5 L657,407.8 L656.9,408.1 L657.1,408.6 L657.2,409.1 L657,409.4 L656.5,409.6 L656.1,409.7 L655.9,410 L655.8,410.4 L655.8,410.9 L655.5,411.2 L655,411.1 L654.5,411.1 L654.2,411.2 L654,411.7 L653.7,412.1 L653.4,412.2 L652.9,412 L652.5,411.8 L652.2,411.8 L651.8,412.1 L651.4,412.4 L651,412.4 L650.7,412 L650.4,411.6 L650.1,411.5 L649.6,411.7 L649.1,411.8 L648.8,411.6 L648.6,411.1 L648.5,410.7 L648.2,410.5 L647.8,410.4 L647.3,410.4 L647,410.1 L647.1,409.6 L647.1,409.1 L647,408.8 L646.5,408.6 L646.1,408.3 L646,408 L646.2,407.5 L646.4,407.1 L646.4,406.8 L646.1,406.4 L645.8,406 L645.8,405.6 L646.2,405.3 L646.6,405 L646.7,404.7 L646.5,404.2 L646.4,403.7 L646.6,403.4 L647.1,403.2 L647.5,403.1 L647.7,402.8 L647.8,402.4 L647.8,401.9 L648.1,401.6 L648.6,401.7 L649.1,401.7 L649.4,401.6 L649.6,401.1 L649.9,400.7 L650.2,400.6 L650.7,400.8 L651.1,401 L651.4,401 L651.8,400.7 L652.2,400.4 L652.6,400.4 L652.9,400.8 L653.2,401.2 L653.5,401.3 L654,401.1 L654.5,401 L654.8,401.2 L655,401.7 L655.1,402.1 L655.4,402.3 L655.8,402.4 L656.3,402.4 L656.6,402.7 L656.5,403.2 L656.5,403.7 L656.6,404 L657.1,404.2 L657.5,404.5 L657.6,404.8 L657.4,405.3 L657.2,405.7 L657.2,406Z" fill="#747474" stroke="#3a3a3a" stroke-width="0.6"/>
<path d="M655.7,406.4 L655.9,406.8 L655.8,407.1 L655.3,407.3 L655,407.6 L655.1,407.9 L655.2,408.4 L655.2,408.8 L654.9,409 L654.4,409 L654,409 L653.9,409.3 L653.8,409.8 L653.6,410.2 L653.2,410.2 L652.7,409.9 L652.4,409.8 L652.1,410 L651.8,410.3 L651.4,410.5 L651.1,410.4 L650.9,409.9 L650.6,409.6 L650.3,409.7 L649.8,409.8 L649.4,409.8 L649.2,409.5 L649.2,409 L649.2,408.6 L648.9,408.5 L648.4,408.4 L648,408.2 L648,407.8 L648.3,407.3 L648.4,407 L648.2,406.7 L647.9,406.4 L647.7,406 L647.8,405.7 L648.3,405.5 L648.6,405.2 L648.5,404.9 L648.4,404.4 L648.4,404 L648.7,403.8 L649.2,403.8 L649.6,403.8 L649.7,403.5 L649.8,403 L650,402.6 L650.4,402.6 L650.9,402.9 L651.2,403 L651.5,402.8 L651.8,402.5 L652.2,402.3 L652.5,402.4 L652.7,402.9 L653,403.2 L653.3,403.1 L653.8,403 L654.2,403 L654.4,403.3 L654.4,403.8 L654.4,404.2 L654.7,404.3 L655.2,404.4 L655.6,404.6 L655.6,405 L655.3,405.5 L655.2,405.8 L655.4,406.1Z" fill="#6a6a6a" stroke="#555" stroke-width="0.5"/>
<circle cx="651.8" cy="406.4" r="1.6" fill="#111"/>
<path d="M671.1,407.2 L671.4,407.6 L671.4,408 L671,408.3 L670.6,408.6 L670.5,408.9 L670.7,409.4 L670.8,409.9 L670.6,410.2 L670.1,410.4 L669.7,410.5 L669.5,410.8 L669.4,411.2 L669.4,411.7 L669.1,412 L668.6,411.9 L668.1,411.9 L667.8,412 L667.6,412.5 L667.3,412.9 L667,413 L666.5,412.8 L666.1,412.6 L665.8,412.6 L665.4,412.9 L665,413.2 L664.6,413.2 L664.3,412.8 L664,412.4 L663.7,412.3 L663.2,412.5 L662.7,412.6 L662.4,412.4 L662.2,411.9 L662.1,411.5 L661.8,411.3 L661.4,411.2 L660.9,411.2 L660.6,410.9 L660.7,410.4 L660.7,409.9 L660.6,409.6 L660.1,409.4 L659.7,409.1 L659.6,408.8 L659.8,408.3 L660,407.9 L660,407.6 L659.7,407.2 L659.4,406.8 L659.4,406.4 L659.8,406.1 L660.2,405.8 L660.3,405.5 L660.1,405 L660,404.5 L660.2,404.2 L660.7,404 L661.1,403.9 L661.3,403.6 L661.4,403.2 L661.4,402.7 L661.7,402.4 L662.2,402.5 L662.7,402.5 L663,402.4 L663.2,401.9 L663.5,401.5 L663.8,401.4 L664.3,401.6 L664.7,401.8 L665,401.8 L665.4,401.5 L665.8,401.2 L666.2,401.2 L666.5,401.6 L666.8,402 L667.1,402.1 L667.6,401.9 L668.1,401.8 L668.4,402 L668.6,402.5 L668.7,402.9 L669,403.1 L669.4,403.2 L669.9,403.2 L670.2,403.5 L670.1,404 L670.1,404.5 L670.2,404.8 L670.7,405 L671.1,405.3 L671.2,405.6 L671,406.1 L670.8,406.5 L670.8,406.8Z" fill="#747474" stroke="#3a3a3a" stroke-width="0.6"/>
<path d="M669.3,407.2 L669.5,407.6 L669.4,407.9 L668.9,408.1 L668.6,408.4 L668.7,408.7 L668.8,409.2 L668.8,409.6 L668.5,409.8 L668,409.8 L667.6,409.8 L667.5,410.1 L667.4,410.6 L667.2,411 L666.8,411 L666.3,410.7 L666,410.6 L665.7,410.8 L665.4,411.1 L665,411.3 L664.7,411.2 L664.5,410.7 L664.2,410.4 L663.9,410.5 L663.4,410.6 L663,410.6 L662.8,410.3 L662.8,409.8 L662.8,409.4 L662.5,409.3 L662,409.2 L661.6,409 L661.6,408.6 L661.9,408.1 L662,407.8 L661.8,407.5 L661.5,407.2 L661.3,406.8 L661.4,406.5 L661.9,406.3 L662.2,406 L662.1,405.7 L662,405.2 L662,404.8 L662.3,404.6 L662.8,404.6 L663.2,404.6 L663.3,404.3 L663.4,403.8 L663.6,403.4 L664,403.4 L664.5,403.7 L664.8,403.8 L665.1,403.6 L665.4,403.3 L665.8,403.1 L666.1,403.2 L666.3,403.7 L666.6,404 L666.9,403.9 L667.4,403.8 L667.8,403.8 L668,404.1 L668,404.6 L668,405 L668.3,405.1 L668.8,405.2 L669.2,405.4 L669.2,405.8 L668.9,406.3 L668.8,406.6 L669,406.9Z" fill="#6a6a6a" stroke="#555" stroke-width="0.5"/>
<circle cx="665.4" cy="407.2" r="1.6" fill="#111"/>
<path d="M683.2,402.8 L683.5,403.2 L683.5,403.6 L683.1,403.9 L682.7,404.2 L682.6,404.5 L682.8,405 L682.9,405.5 L682.7,405.8 L682.2,406 L681.8,406.1 L681.6,406.4 L681.5,406.8 L681.5,407.3 L681.2,407.6 L680.7,407.5 L680.2,407.5 L679.9,407.6 L679.7,408.1 L679.4,408.5 L679.1,408.6 L678.6,408.4 L678.2,408.2 L677.9,408.2 L677.5,408.5 L677.1,408.8 L676.7,408.8 L676.4,408.4 L676.1,408 L675.8,407.9 L675.3,408.1 L674.8,408.2 L674.5,408 L674.3,407.5 L674.2,407.1 L673.9,406.9 L673.5,406.8 L673,406.8 L672.7,406.5 L672.8,406 L672.8,405.5 L672.7,405.2 L672.2,405 L671.8,404.7 L671.7,404.4 L671.9,403.9 L672.1,403.5 L672.1,403.2 L671.8,402.8 L671.5,402.4 L671.5,402 L671.9,401.7 L672.3,401.4 L672.4,401.1 L672.2,400.6 L672.1,400.1 L672.3,399.8 L672.8,399.6 L673.2,399.5 L673.4,399.2 L673.5,398.8 L673.5,398.3 L673.8,398 L674.3,398.1 L674.8,398.1 L675.1,398 L675.3,397.5 L675.6,397.1 L675.9,397 L676.4,397.2 L676.8,397.4 L677.1,397.4 L677.5,397.1 L677.9,396.8 L678.3,396.8 L678.6,397.2 L678.9,397.6 L679.2,397.7 L679.7,397.5 L680.2,397.4 L680.5,397.6 L680.7,398.1 L680.8,398.5 L681.1,398.7 L681.5,398.8 L682,398.8 L682.3,399.1 L682.2,399.6 L682.2,400.1 L682.3,400.4 L682.8,400.6 L683.2,400.9 L683.3,401.2 L683.1,401.7 L682.9,402.1 L682.9,402.4Z" fill="#747474" stroke="#3a3a3a" stroke-width="0.6"/>
<path d="M681.4,402.8 L681.6,403.2 L681.5,403.5 L681,403.7 L680.7,404 L680.8,404.3 L680.9,404.8 L680.9,405.2 L680.6,405.4 L680.1,405.4 L679.7,405.4 L679.6,405.7 L679.5,406.2 L679.3,406.6 L678.9,406.6 L678.4,406.3 L678.1,406.2 L677.8,406.4 L677.5,406.7 L677.1,406.9 L676.8,406.8 L676.6,406.3 L676.3,406 L676,406.1 L675.5,406.2 L675.1,406.2 L674.9,405.9 L674.9,405.4 L674.9,405 L674.6,404.9 L674.1,404.8 L673.7,404.6 L673.7,404.2 L674,403.7 L674.1,403.4 L673.9,403.1 L673.6,402.8 L673.4,402.4 L673.5,402.1 L674,401.9 L674.3,401.6 L674.2,401.3 L674.1,400.8 L674.1,400.4 L674.4,400.2 L674.9,400.2 L675.3,400.2 L675.4,399.9 L675.5,399.4 L675.7,399 L676.1,399 L676.6,399.3 L676.9,399.4 L677.2,399.2 L677.5,398.9 L677.9,398.7 L678.2,398.8 L678.4,399.3 L678.7,399.6 L679,399.5 L679.5,399.4 L679.9,399.4 L680.1,399.7 L680.1,400.2 L680.1,400.6 L680.4,400.7 L680.9,400.8 L681.3,401 L681.3,401.4 L681,401.9 L680.9,402.2 L681.1,402.5Z" fill="#6a6a6a" stroke="#555" stroke-width="0.5"/>
<circle cx="677.5" cy="402.8" r="1.6" fill="#111"/>
<path d="M662.7,419.6 L663,420 L663,420.4 L662.6,420.7 L662.2,421 L662.1,421.3 L662.3,421.8 L662.4,422.3 L662.2,422.6 L661.7,422.8 L661.3,422.9 L661.1,423.2 L661,423.6 L661,424.1 L660.7,424.4 L660.2,424.3 L659.7,424.3 L659.4,424.4 L659.2,424.9 L658.9,425.3 L658.6,425.4 L658.1,425.2 L657.7,425 L657.4,425 L657,425.3 L656.6,425.6 L656.2,425.6 L655.9,425.2 L655.6,424.8 L655.3,424.7 L654.8,424.9 L654.3,425 L654,424.8 L653.8,424.3 L653.7,423.9 L653.4,423.7 L653,423.6 L652.5,423.6 L652.2,423.3 L652.3,422.8 L652.3,422.3 L652.2,422 L651.7,421.8 L651.3,421.5 L651.2,421.2 L651.4,420.7 L651.6,420.3 L651.6,420 L651.3,419.6 L651,419.2 L651,418.8 L651.4,418.5 L651.8,418.2 L651.9,417.9 L651.7,417.4 L651.6,416.9 L651.8,416.6 L652.3,416.4 L652.7,416.3 L652.9,416 L653,415.6 L653,415.1 L653.3,414.8 L653.8,414.9 L654.3,414.9 L654.6,414.8 L654.8,414.3 L655.1,413.9 L655.4,413.8 L655.9,414 L656.3,414.2 L656.6,414.2 L657,413.9 L657.4,413.6 L657.8,413.6 L658.1,414 L658.4,414.4 L658.7,414.5 L659.2,414.3 L659.7,414.2 L660,414.4 L660.2,414.9 L660.3,415.3 L660.6,415.5 L661,415.6 L661.5,415.6 L661.8,415.9 L661.7,416.4 L661.7,416.9 L661.8,417.2 L662.3,417.4 L662.7,417.7 L662.8,418 L662.6,418.5 L662.4,418.9 L662.4,419.2Z" fill="#747474" stroke="#3a3a3a" stroke-width="0.6"/>
<path d="M660.9,419.6 L661.1,420 L661,420.3 L660.5,420.5 L660.2,420.8 L660.3,421.1 L660.4,421.6 L660.4,422 L660.1,422.2 L659.6,422.2 L659.2,422.2 L659.1,422.5 L659,423 L658.8,423.4 L658.4,423.4 L657.9,423.1 L657.6,423 L657.3,423.2 L657,423.5 L656.6,423.7 L656.3,423.6 L656.1,423.1 L655.8,422.8 L655.5,422.9 L655,423 L654.6,423 L654.4,422.7 L654.4,422.2 L654.4,421.8 L654.1,421.7 L653.6,421.6 L653.2,421.4 L653.2,421 L653.5,420.5 L653.6,420.2 L653.4,419.9 L653.1,419.6 L652.9,419.2 L653,418.9 L653.5,418.7 L653.8,418.4 L653.7,418.1 L653.6,417.6 L653.6,417.2 L653.9,417 L654.4,417 L654.8,417 L654.9,416.7 L655,416.2 L655.2,415.8 L655.6,415.8 L656.1,416.1 L656.4,416.2 L656.7,416 L657,415.7 L657.4,415.5 L657.7,415.6 L657.9,416.1 L658.2,416.4 L658.5,416.3 L659,416.2 L659.4,416.2 L659.6,416.5 L659.6,417 L659.6,417.4 L659.9,417.5 L660.4,417.6 L660.8,417.8 L660.8,418.2 L660.5,418.7 L660.4,419 L660.6,419.3Z" fill="#6a6a6a" stroke="#555" stroke-width="0.5"/>
<circle cx="657" cy="419.6" r="1.6" fill="#111"/>
<path d="M678.6,418.1 L678.9,418.5 L678.9,418.9 L678.5,419.2 L678.1,419.5 L678,419.8 L678.2,420.3 L678.3,420.8 L678.1,421.1 L677.6,421.3 L677.2,421.4 L677,421.7 L676.9,422.1 L676.9,422.6 L676.6,422.9 L676.1,422.8 L675.6,422.8 L675.3,422.9 L675.1,423.4 L674.8,423.8 L674.5,423.9 L674,423.7 L673.6,423.5 L673.3,423.5 L672.9,423.8 L672.5,424.1 L672.1,424.1 L671.8,423.7 L671.5,423.3 L671.2,423.2 L670.7,423.4 L670.2,423.5 L669.9,423.3 L669.7,422.8 L669.6,422.4 L669.3,422.2 L668.9,422.1 L668.4,422.1 L668.1,421.8 L668.2,421.3 L668.2,420.8 L668.1,420.5 L667.6,420.3 L667.2,420 L667.1,419.7 L667.3,419.2 L667.5,418.8 L667.5,418.5 L667.2,418.1 L666.9,417.7 L666.9,417.3 L667.3,417 L667.7,416.7 L667.8,416.4 L667.6,415.9 L667.5,415.4 L667.7,415.1 L668.2,414.9 L668.6,414.8 L668.8,414.5 L668.9,414.1 L668.9,413.6 L669.2,413.3 L669.7,413.4 L670.2,413.4 L670.5,413.3 L670.7,412.8 L671,412.4 L671.3,412.3 L671.8,412.5 L672.2,412.7 L672.5,412.7 L672.9,412.4 L673.3,412.1 L673.7,412.1 L674,412.5 L674.3,412.9 L674.6,413 L675.1,412.8 L675.6,412.7 L675.9,412.9 L676.1,413.4 L676.2,413.8 L676.5,414 L676.9,414.1 L677.4,414.1 L677.7,414.4 L677.6,414.9 L677.6,415.4 L677.7,415.7 L678.2,415.9 L678.6,416.2 L678.7,416.5 L678.5,417 L678.3,417.4 L678.3,417.7Z" fill="#747474" stroke="#3a3a3a" stroke-width="0.6"/>
<path d="M676.8,418.1 L677,418.5 L676.9,418.8 L676.4,419 L676.1,419.3 L676.2,419.6 L676.3,420.1 L676.3,420.5 L676,420.7 L675.5,420.7 L675.1,420.7 L675,421 L674.9,421.5 L674.7,421.9 L674.3,421.9 L673.8,421.6 L673.5,421.5 L673.2,421.7 L672.9,422 L672.5,422.2 L672.2,422.1 L672,421.6 L671.7,421.3 L671.4,421.4 L670.9,421.5 L670.5,421.5 L670.3,421.2 L670.3,420.7 L670.3,420.3 L670,420.2 L669.5,420.1 L669.1,419.9 L669.1,419.5 L669.4,419 L669.5,418.7 L669.3,418.4 L669,418.1 L668.8,417.7 L668.9,417.4 L669.4,417.2 L669.7,416.9 L669.6,416.6 L669.5,416.1 L669.5,415.7 L669.8,415.5 L670.3,415.5 L670.7,415.5 L670.8,415.2 L670.9,414.7 L671.1,414.3 L671.5,414.3 L672,414.6 L672.3,414.7 L672.6,414.5 L672.9,414.2 L673.3,414 L673.6,414.1 L673.8,414.6 L674.1,414.9 L674.4,414.8 L674.9,414.7 L675.3,414.7 L675.5,415 L675.5,415.5 L675.5,415.9 L675.8,416 L676.3,416.1 L676.7,416.3 L676.7,416.7 L676.4,417.2 L676.3,417.5 L676.5,417.8Z" fill="#6a6a6a" stroke="#555" stroke-width="0.5"/>
<circle cx="672.9" cy="418.1" r="1.6" fill="#111"/>
<path d="M619.7,499 L620,499.4 L620,499.8 L619.6,500.1 L619.2,500.4 L619.1,500.7 L619.3,501.2 L619.4,501.7 L619.2,502 L618.7,502.2 L618.3,502.3 L618.1,502.6 L618,503 L618,503.5 L617.7,503.8 L617.2,503.7 L616.7,503.7 L616.4,503.8 L616.2,504.3 L615.9,504.7 L615.6,504.8 L615.1,504.6 L614.7,504.4 L614.4,504.4 L614,504.7 L613.6,505 L613.2,505 L612.9,504.6 L612.6,504.2 L612.3,504.1 L611.8,504.3 L611.3,504.4 L611,504.2 L610.8,503.7 L610.7,503.3 L610.4,503.1 L610,503 L609.5,503 L609.2,502.7 L609.3,502.2 L609.3,501.7 L609.2,501.4 L608.7,501.2 L608.3,500.9 L608.2,500.6 L608.4,500.1 L608.6,499.7 L608.6,499.4 L608.3,499 L608,498.6 L608,498.2 L608.4,497.9 L608.8,497.6 L608.9,497.3 L608.7,496.8 L608.6,496.3 L608.8,496 L609.3,495.8 L609.7,495.7 L609.9,495.4 L610,495 L610,494.5 L610.3,494.2 L610.8,494.3 L611.3,494.3 L611.6,494.2 L611.8,493.7 L612.1,493.3 L612.4,493.2 L612.9,493.4 L613.3,493.6 L613.6,493.6 L614,493.3 L614.4,493 L614.8,493 L615.1,493.4 L615.4,493.8 L615.7,493.9 L616.2,493.7 L616.7,493.6 L617,493.8 L617.2,494.3 L617.3,494.7 L617.6,494.9 L618,495 L618.5,495 L618.8,495.3 L618.7,495.8 L618.7,496.3 L618.8,496.6 L619.3,496.8 L619.7,497.1 L619.8,497.4 L619.6,497.9 L619.4,498.3 L619.4,498.6Z" fill="#747474" stroke="#3a3a3a" stroke-width="0.6"/>
<path d="M617.9,499 L618.1,499.4 L618,499.7 L617.5,499.9 L617.2,500.2 L617.3,500.5 L617.4,501 L617.4,501.4 L617.1,501.6 L616.6,501.6 L616.2,501.6 L616.1,501.9 L616,502.4 L615.8,502.8 L615.4,502.8 L614.9,502.5 L614.6,502.4 L614.3,502.6 L614,502.9 L613.6,503.1 L613.3,503 L613.1,502.5 L612.8,502.2 L612.5,502.3 L612,502.4 L611.6,502.4 L611.4,502.1 L611.4,501.6 L611.4,501.2 L611.1,501.1 L610.6,501 L610.2,500.8 L610.2,500.4 L610.5,499.9 L610.6,499.6 L610.4,499.3 L610.1,499 L609.9,498.6 L610,498.3 L610.5,498.1 L610.8,497.8 L610.7,497.5 L610.6,497 L610.6,496.6 L610.9,496.4 L611.4,496.4 L611.8,496.4 L611.9,496.1 L612,495.6 L612.2,495.2 L612.6,495.2 L613.1,495.5 L613.4,495.6 L613.7,495.4 L614,495.1 L614.4,494.9 L614.7,495 L614.9,495.5 L615.2,495.8 L615.5,495.7 L616,495.6 L616.4,495.6 L616.6,495.9 L616.6,496.4 L616.6,496.8 L616.9,496.9 L617.4,497 L617.8,497.2 L617.8,497.6 L617.5,498.1 L617.4,498.4 L617.6,498.7Z" fill="#6a6a6a" stroke="#555" stroke-width="0.5"/>
<circle cx="614" cy="499" r="1.6" fill="#111"/>
<path d="M610.1,511.5 L610.4,511.9 L610.4,512.3 L610,512.6 L609.6,512.9 L609.5,513.2 L609.7,513.7 L609.8,514.2 L609.6,514.5 L609.1,514.7 L608.7,514.8 L608.5,515.1 L608.4,515.5 L608.4,516 L608.1,516.3 L607.6,516.2 L607.1,516.2 L606.8,516.3 L606.6,516.8 L606.3,517.2 L606,517.3 L605.5,517.1 L605.1,516.9 L604.8,516.9 L604.4,517.2 L604,517.5 L603.6,517.5 L603.3,517.1 L603,516.7 L602.7,516.6 L602.2,516.8 L601.7,516.9 L601.4,516.7 L601.2,516.2 L601.1,515.8 L600.8,515.6 L600.4,515.5 L599.9,515.5 L599.6,515.2 L599.7,514.7 L599.7,514.2 L599.6,513.9 L599.1,513.7 L598.7,513.4 L598.6,513.1 L598.8,512.6 L599,512.2 L599,511.9 L598.7,511.5 L598.4,511.1 L598.4,510.7 L598.8,510.4 L599.2,510.1 L599.3,509.8 L599.1,509.3 L599,508.8 L599.2,508.5 L599.7,508.3 L600.1,508.2 L600.3,507.9 L600.4,507.5 L600.4,507 L600.7,506.7 L601.2,506.8 L601.7,506.8 L602,506.7 L602.2,506.2 L602.5,505.8 L602.8,505.7 L603.3,505.9 L603.7,506.1 L604,506.1 L604.4,505.8 L604.8,505.5 L605.2,505.5 L605.5,505.9 L605.8,506.3 L606.1,506.4 L606.6,506.2 L607.1,506.1 L607.4,506.3 L607.6,506.8 L607.7,507.2 L608,507.4 L608.4,507.5 L608.9,507.5 L609.2,507.8 L609.1,508.3 L609.1,508.8 L609.2,509.1 L609.7,509.3 L610.1,509.6 L610.2,509.9 L610,510.4 L609.8,510.8 L609.8,511.1Z" fill="#747474" stroke="#3a3a3a" stroke-width="0.6"/>
<path d="M608.3,511.5 L608.5,511.9 L608.4,512.2 L607.9,512.4 L607.6,512.7 L607.7,513 L607.8,513.5 L607.8,513.9 L607.5,514.1 L607,514.1 L606.6,514.1 L606.5,514.4 L606.4,514.9 L606.2,515.3 L605.8,515.3 L605.3,515 L605,514.9 L604.7,515.1 L604.4,515.4 L604,515.6 L603.7,515.5 L603.5,515 L603.2,514.7 L602.9,514.8 L602.4,514.9 L602,514.9 L601.8,514.6 L601.8,514.1 L601.8,513.7 L601.5,513.6 L601,513.5 L600.6,513.3 L600.6,512.9 L600.9,512.4 L601,512.1 L600.8,511.8 L600.5,511.5 L600.3,511.1 L600.4,510.8 L600.9,510.6 L601.2,510.3 L601.1,510 L601,509.5 L601,509.1 L601.3,508.9 L601.8,508.9 L602.2,508.9 L602.3,508.6 L602.4,508.1 L602.6,507.7 L603,507.7 L603.5,508 L603.8,508.1 L604.1,507.9 L604.4,507.6 L604.8,507.4 L605.1,507.5 L605.3,508 L605.6,508.3 L605.9,508.2 L606.4,508.1 L606.8,508.1 L607,508.4 L607,508.9 L607,509.3 L607.3,509.4 L607.8,509.5 L608.2,509.7 L608.2,510.1 L607.9,510.6 L607.8,510.9 L608,511.2Z" fill="#6a6a6a" stroke="#555" stroke-width="0.5"/>
<circle cx="604.4" cy="511.5" r="1.6" fill="#111"/>
<path d="M623.3,512.3 L623.6,512.7 L623.6,513.1 L623.2,513.4 L622.8,513.7 L622.7,514 L622.9,514.5 L623,515 L622.8,515.3 L622.3,515.5 L621.9,515.6 L621.7,515.9 L621.6,516.3 L621.6,516.8 L621.3,517.1 L620.8,517 L620.3,517 L620,517.1 L619.8,517.6 L619.5,518 L619.2,518.1 L618.7,517.9 L618.3,517.7 L618,517.7 L617.6,518 L617.2,518.3 L616.8,518.3 L616.5,517.9 L616.2,517.5 L615.9,517.4 L615.4,517.6 L614.9,517.7 L614.6,517.5 L614.4,517 L614.3,516.6 L614,516.4 L613.6,516.3 L613.1,516.3 L612.8,516 L612.9,515.5 L612.9,515 L612.8,514.7 L612.3,514.5 L611.9,514.2 L611.8,513.9 L612,513.4 L612.2,513 L612.2,512.7 L611.9,512.3 L611.6,511.9 L611.6,511.5 L612,511.2 L612.4,510.9 L612.5,510.6 L612.3,510.1 L612.2,509.6 L612.4,509.3 L612.9,509.1 L613.3,509 L613.5,508.7 L613.6,508.3 L613.6,507.8 L613.9,507.5 L614.4,507.6 L614.9,507.6 L615.2,507.5 L615.4,507 L615.7,506.6 L616,506.5 L616.5,506.7 L616.9,506.9 L617.2,506.9 L617.6,506.6 L618,506.3 L618.4,506.3 L618.7,506.7 L619,507.1 L619.3,507.2 L619.8,507 L620.3,506.9 L620.6,507.1 L620.8,507.6 L620.9,508 L621.2,508.2 L621.6,508.3 L622.1,508.3 L622.4,508.6 L622.3,509.1 L622.3,509.6 L622.4,509.9 L622.9,510.1 L623.3,510.4 L623.4,510.7 L623.2,511.2 L623,511.6 L623,511.9Z" fill="#747474" stroke="#3a3a3a" stroke-width="0.6"/>
<path d="M621.5,512.3 L621.7,512.7 L621.6,513 L621.1,513.2 L620.8,513.5 L620.9,513.8 L621,514.3 L621,514.7 L620.7,514.9 L620.2,514.9 L619.8,514.9 L619.7,515.2 L619.6,515.7 L619.4,516.1 L619,516.1 L618.5,515.8 L618.2,515.7 L617.9,515.9 L617.6,516.2 L617.2,516.4 L616.9,516.3 L616.7,515.8 L616.4,515.5 L616.1,515.6 L615.6,515.7 L615.2,515.7 L615,515.4 L615,514.9 L615,514.5 L614.7,514.4 L614.2,514.3 L613.8,514.1 L613.8,513.7 L614.1,513.2 L614.2,512.9 L614,512.6 L613.7,512.3 L613.5,511.9 L613.6,511.6 L614.1,511.4 L614.4,511.1 L614.3,510.8 L614.2,510.3 L614.2,509.9 L614.5,509.7 L615,509.7 L615.4,509.7 L615.5,509.4 L615.6,508.9 L615.8,508.5 L616.2,508.5 L616.7,508.8 L617,508.9 L617.3,508.7 L617.6,508.4 L618,508.2 L618.3,508.3 L618.5,508.8 L618.8,509.1 L619.1,509 L619.6,508.9 L620,508.9 L620.2,509.2 L620.2,509.7 L620.2,510.1 L620.5,510.2 L621,510.3 L621.4,510.5 L621.4,510.9 L621.1,511.4 L621,511.7 L621.2,512Z" fill="#6a6a6a" stroke="#555" stroke-width="0.5"/>
<circle cx="617.6" cy="512.3" r="1.6" fill="#111"/>
<path d="M635.7,507.8 L636,508.2 L636,508.6 L635.6,508.9 L635.2,509.2 L635.1,509.5 L635.3,510 L635.4,510.5 L635.2,510.8 L634.7,511 L634.3,511.1 L634.1,511.4 L634,511.8 L634,512.3 L633.7,512.6 L633.2,512.5 L632.7,512.5 L632.4,512.6 L632.2,513.1 L631.9,513.5 L631.6,513.6 L631.1,513.4 L630.7,513.2 L630.4,513.2 L630,513.5 L629.6,513.8 L629.2,513.8 L628.9,513.4 L628.6,513 L628.3,512.9 L627.8,513.1 L627.3,513.2 L627,513 L626.8,512.5 L626.7,512.1 L626.4,511.9 L626,511.8 L625.5,511.8 L625.2,511.5 L625.3,511 L625.3,510.5 L625.2,510.2 L624.7,510 L624.3,509.7 L624.2,509.4 L624.4,508.9 L624.6,508.5 L624.6,508.2 L624.3,507.8 L624,507.4 L624,507 L624.4,506.7 L624.8,506.4 L624.9,506.1 L624.7,505.6 L624.6,505.1 L624.8,504.8 L625.3,504.6 L625.7,504.5 L625.9,504.2 L626,503.8 L626,503.3 L626.3,503 L626.8,503.1 L627.3,503.1 L627.6,503 L627.8,502.5 L628.1,502.1 L628.4,502 L628.9,502.2 L629.3,502.4 L629.6,502.4 L630,502.1 L630.4,501.8 L630.8,501.8 L631.1,502.2 L631.4,502.6 L631.7,502.7 L632.2,502.5 L632.7,502.4 L633,502.6 L633.2,503.1 L633.3,503.5 L633.6,503.7 L634,503.8 L634.5,503.8 L634.8,504.1 L634.7,504.6 L634.7,505.1 L634.8,505.4 L635.3,505.6 L635.7,505.9 L635.8,506.2 L635.6,506.7 L635.4,507.1 L635.4,507.4Z" fill="#747474" stroke="#3a3a3a" stroke-width="0.6"/>
<path d="M633.9,507.8 L634.1,508.2 L634,508.5 L633.5,508.7 L633.2,509 L633.3,509.3 L633.4,509.8 L633.4,510.2 L633.1,510.4 L632.6,510.4 L632.2,510.4 L632.1,510.7 L632,511.2 L631.8,511.6 L631.4,511.6 L630.9,511.3 L630.6,511.2 L630.3,511.4 L630,511.7 L629.6,511.9 L629.3,511.8 L629.1,511.3 L628.8,511 L628.5,511.1 L628,511.2 L627.6,511.2 L627.4,510.9 L627.4,510.4 L627.4,510 L627.1,509.9 L626.6,509.8 L626.2,509.6 L626.2,509.2 L626.5,508.7 L626.6,508.4 L626.4,508.1 L626.1,507.8 L625.9,507.4 L626,507.1 L626.5,506.9 L626.8,506.6 L626.7,506.3 L626.6,505.8 L626.6,505.4 L626.9,505.2 L627.4,505.2 L627.8,505.2 L627.9,504.9 L628,504.4 L628.2,504 L628.6,504 L629.1,504.3 L629.4,504.4 L629.7,504.2 L630,503.9 L630.4,503.7 L630.7,503.8 L630.9,504.3 L631.2,504.6 L631.5,504.5 L632,504.4 L632.4,504.4 L632.6,504.7 L632.6,505.2 L632.6,505.6 L632.9,505.7 L633.4,505.8 L633.8,506 L633.8,506.4 L633.5,506.9 L633.4,507.2 L633.6,507.5Z" fill="#6a6a6a" stroke="#555" stroke-width="0.5"/>
<circle cx="630" cy="507.8" r="1.6" fill="#111"/>
<path d="M615.4,524.6 L615.7,525 L615.7,525.4 L615.3,525.7 L614.9,526 L614.8,526.3 L615,526.8 L615.1,527.3 L614.9,527.6 L614.4,527.8 L614,527.9 L613.8,528.2 L613.7,528.6 L613.7,529.1 L613.4,529.4 L612.9,529.3 L612.4,529.3 L612.1,529.4 L611.9,529.9 L611.6,530.3 L611.3,530.4 L610.8,530.2 L610.4,530 L610.1,530 L609.7,530.3 L609.3,530.6 L608.9,530.6 L608.6,530.2 L608.3,529.8 L608,529.7 L607.5,529.9 L607,530 L606.7,529.8 L606.5,529.3 L606.4,528.9 L606.1,528.7 L605.7,528.6 L605.2,528.6 L604.9,528.3 L605,527.8 L605,527.3 L604.9,527 L604.4,526.8 L604,526.5 L603.9,526.2 L604.1,525.7 L604.3,525.3 L604.3,525 L604,524.6 L603.7,524.2 L603.7,523.8 L604.1,523.5 L604.5,523.2 L604.6,522.9 L604.4,522.4 L604.3,521.9 L604.5,521.6 L605,521.4 L605.4,521.3 L605.6,521 L605.7,520.6 L605.7,520.1 L606,519.8 L606.5,519.9 L607,519.9 L607.3,519.8 L607.5,519.3 L607.8,518.9 L608.1,518.8 L608.6,519 L609,519.2 L609.3,519.2 L609.7,518.9 L610.1,518.6 L610.5,518.6 L610.8,519 L611.1,519.4 L611.4,519.5 L611.9,519.3 L612.4,519.2 L612.7,519.4 L612.9,519.9 L613,520.3 L613.3,520.5 L613.7,520.6 L614.2,520.6 L614.5,520.9 L614.4,521.4 L614.4,521.9 L614.5,522.2 L615,522.4 L615.4,522.7 L615.5,523 L615.3,523.5 L615.1,523.9 L615.1,524.2Z" fill="#747474" stroke="#3a3a3a" stroke-width="0.6"/>
<path d="M613.6,524.6 L613.8,525 L613.7,525.3 L613.2,525.5 L612.9,525.8 L613,526.1 L613.1,526.6 L613.1,527 L612.8,527.2 L612.3,527.2 L611.9,527.2 L611.8,527.5 L611.7,528 L611.5,528.4 L611.1,528.4 L610.6,528.1 L610.3,528 L610,528.2 L609.7,528.5 L609.3,528.7 L609,528.6 L608.8,528.1 L608.5,527.8 L608.2,527.9 L607.7,528 L607.3,528 L607.1,527.7 L607.1,527.2 L607.1,526.8 L606.8,526.7 L606.3,526.6 L605.9,526.4 L605.9,526 L606.2,525.5 L606.3,525.2 L606.1,524.9 L605.8,524.6 L605.6,524.2 L605.7,523.9 L606.2,523.7 L606.5,523.4 L606.4,523.1 L606.3,522.6 L606.3,522.2 L606.6,522 L607.1,522 L607.5,522 L607.6,521.7 L607.7,521.2 L607.9,520.8 L608.3,520.8 L608.8,521.1 L609.1,521.2 L609.4,521 L609.7,520.7 L610.1,520.5 L610.4,520.6 L610.6,521.1 L610.9,521.4 L611.2,521.3 L611.7,521.2 L612.1,521.2 L612.3,521.5 L612.3,522 L612.3,522.4 L612.6,522.5 L613.1,522.6 L613.5,522.8 L613.5,523.2 L613.2,523.7 L613.1,524 L613.3,524.3Z" fill="#6a6a6a" stroke="#555" stroke-width="0.5"/>
<circle cx="609.7" cy="524.6" r="1.6" fill="#111"/>
<path d="M631.1,523.6 L631.4,524 L631.4,524.4 L631,524.7 L630.6,525 L630.5,525.3 L630.7,525.8 L630.8,526.3 L630.6,526.6 L630.1,526.8 L629.7,526.9 L629.5,527.2 L629.4,527.6 L629.4,528.1 L629.1,528.4 L628.6,528.3 L628.1,528.3 L627.8,528.4 L627.6,528.9 L627.3,529.3 L627,529.4 L626.5,529.2 L626.1,529 L625.8,529 L625.4,529.3 L625,529.6 L624.6,529.6 L624.3,529.2 L624,528.8 L623.7,528.7 L623.2,528.9 L622.7,529 L622.4,528.8 L622.2,528.3 L622.1,527.9 L621.8,527.7 L621.4,527.6 L620.9,527.6 L620.6,527.3 L620.7,526.8 L620.7,526.3 L620.6,526 L620.1,525.8 L619.7,525.5 L619.6,525.2 L619.8,524.7 L620,524.3 L620,524 L619.7,523.6 L619.4,523.2 L619.4,522.8 L619.8,522.5 L620.2,522.2 L620.3,521.9 L620.1,521.4 L620,520.9 L620.2,520.6 L620.7,520.4 L621.1,520.3 L621.3,520 L621.4,519.6 L621.4,519.1 L621.7,518.8 L622.2,518.9 L622.7,518.9 L623,518.8 L623.2,518.3 L623.5,517.9 L623.8,517.8 L624.3,518 L624.7,518.2 L625,518.2 L625.4,517.9 L625.8,517.6 L626.2,517.6 L626.5,518 L626.8,518.4 L627.1,518.5 L627.6,518.3 L628.1,518.2 L628.4,518.4 L628.6,518.9 L628.7,519.3 L629,519.5 L629.4,519.6 L629.9,519.6 L630.2,519.9 L630.1,520.4 L630.1,520.9 L630.2,521.2 L630.7,521.4 L631.1,521.7 L631.2,522 L631,522.5 L630.8,522.9 L630.8,523.2Z" fill="#747474" stroke="#3a3a3a" stroke-width="0.6"/>
<path d="M629.3,523.6 L629.5,524 L629.4,524.3 L628.9,524.5 L628.6,524.8 L628.7,525.1 L628.8,525.6 L628.8,526 L628.5,526.2 L628,526.2 L627.6,526.2 L627.5,526.5 L627.4,527 L627.2,527.4 L626.8,527.4 L626.3,527.1 L626,527 L625.7,527.2 L625.4,527.5 L625,527.7 L624.7,527.6 L624.5,527.1 L624.2,526.8 L623.9,526.9 L623.4,527 L623,527 L622.8,526.7 L622.8,526.2 L622.8,525.8 L622.5,525.7 L622,525.6 L621.6,525.4 L621.6,525 L621.9,524.5 L622,524.2 L621.8,523.9 L621.5,523.6 L621.3,523.2 L621.4,522.9 L621.9,522.7 L622.2,522.4 L622.1,522.1 L622,521.6 L622,521.2 L622.3,521 L622.8,521 L623.2,521 L623.3,520.7 L623.4,520.2 L623.6,519.8 L624,519.8 L624.5,520.1 L624.8,520.2 L625.1,520 L625.4,519.7 L625.8,519.5 L626.1,519.6 L626.3,520.1 L626.6,520.4 L626.9,520.3 L627.4,520.2 L627.8,520.2 L628,520.5 L628,521 L628,521.4 L628.3,521.5 L628.8,521.6 L629.2,521.8 L629.2,522.2 L628.9,522.7 L628.8,523 L629,523.3Z" fill="#6a6a6a" stroke="#555" stroke-width="0.5"/>
<circle cx="625.4" cy="523.6" r="1.6" fill="#111"/>
<path d="M670.5,604.2 L670.8,604.6 L670.8,605 L670.4,605.3 L670,605.6 L669.9,605.9 L670.1,606.4 L670.2,606.9 L670,607.2 L669.5,607.4 L669.1,607.5 L668.9,607.8 L668.8,608.2 L668.8,608.7 L668.5,609 L668,608.9 L667.5,608.9 L667.2,609 L667,609.5 L666.7,609.9 L666.4,610 L665.9,609.8 L665.5,609.6 L665.2,609.6 L664.8,609.9 L664.4,610.2 L664,610.2 L663.7,609.8 L663.4,609.4 L663.1,609.3 L662.6,609.5 L662.1,609.6 L661.8,609.4 L661.6,608.9 L661.5,608.5 L661.2,608.3 L660.8,608.2 L660.3,608.2 L660,607.9 L660.1,607.4 L660.1,606.9 L660,606.6 L659.5,606.4 L659.1,606.1 L659,605.8 L659.2,605.3 L659.4,604.9 L659.4,604.6 L659.1,604.2 L658.8,603.8 L658.8,603.4 L659.2,603.1 L659.6,602.8 L659.7,602.5 L659.5,602 L659.4,601.5 L659.6,601.2 L660.1,601 L660.5,600.9 L660.7,600.6 L660.8,600.2 L660.8,599.7 L661.1,599.4 L661.6,599.5 L662.1,599.5 L662.4,599.4 L662.6,598.9 L662.9,598.5 L663.2,598.4 L663.7,598.6 L664.1,598.8 L664.4,598.8 L664.8,598.5 L665.2,598.2 L665.6,598.2 L665.9,598.6 L666.2,599 L666.5,599.1 L667,598.9 L667.5,598.8 L667.8,599 L668,599.5 L668.1,599.9 L668.4,600.1 L668.8,600.2 L669.3,600.2 L669.6,600.5 L669.5,601 L669.5,601.5 L669.6,601.8 L670.1,602 L670.5,602.3 L670.6,602.6 L670.4,603.1 L670.2,603.5 L670.2,603.8Z" fill="#747474" stroke="#3a3a3a" stroke-width="0.6"/>
<path d="M668.7,604.2 L668.9,604.6 L668.8,604.9 L668.3,605.1 L668,605.4 L668.1,605.7 L668.2,606.2 L668.2,606.6 L667.9,606.8 L667.4,606.8 L667,606.8 L666.9,607.1 L666.8,607.6 L666.6,608 L666.2,608 L665.7,607.7 L665.4,607.6 L665.1,607.8 L664.8,608.1 L664.4,608.3 L664.1,608.2 L663.9,607.7 L663.6,607.4 L663.3,607.5 L662.8,607.6 L662.4,607.6 L662.2,607.3 L662.2,606.8 L662.2,606.4 L661.9,606.3 L661.4,606.2 L661,606 L661,605.6 L661.3,605.1 L661.4,604.8 L661.2,604.5 L660.9,604.2 L660.7,603.8 L660.8,603.5 L661.3,603.3 L661.6,603 L661.5,602.7 L661.4,602.2 L661.4,601.8 L661.7,601.6 L662.2,601.6 L662.6,601.6 L662.7,601.3 L662.8,600.8 L663,600.4 L663.4,600.4 L663.9,600.7 L664.2,600.8 L664.5,600.6 L664.8,600.3 L665.2,600.1 L665.5,600.2 L665.7,600.7 L666,601 L666.3,600.9 L666.8,600.8 L667.2,600.8 L667.4,601.1 L667.4,601.6 L667.4,602 L667.7,602.1 L668.2,602.2 L668.6,602.4 L668.6,602.8 L668.3,603.3 L668.2,603.6 L668.4,603.9Z" fill="#6a6a6a" stroke="#555" stroke-width="0.5"/>
<circle cx="664.8" cy="604.2" r="1.6" fill="#111"/>
<path d="M660,617.3 L660.3,617.7 L660.3,618.1 L659.9,618.4 L659.5,618.7 L659.4,619 L659.6,619.5 L659.7,620 L659.5,620.3 L659,620.5 L658.6,620.6 L658.4,620.9 L658.3,621.3 L658.3,621.8 L658,622.1 L657.5,622 L657,622 L656.7,622.1 L656.5,622.6 L656.2,623 L655.9,623.1 L655.4,622.9 L655,622.7 L654.7,622.7 L654.3,623 L653.9,623.3 L653.5,623.3 L653.2,622.9 L652.9,622.5 L652.6,622.4 L652.1,622.6 L651.6,622.7 L651.3,622.5 L651.1,622 L651,621.6 L650.7,621.4 L650.3,621.3 L649.8,621.3 L649.5,621 L649.6,620.5 L649.6,620 L649.5,619.7 L649,619.5 L648.6,619.2 L648.5,618.9 L648.7,618.4 L648.9,618 L648.9,617.7 L648.6,617.3 L648.3,616.9 L648.3,616.5 L648.7,616.2 L649.1,615.9 L649.2,615.6 L649,615.1 L648.9,614.6 L649.1,614.3 L649.6,614.1 L650,614 L650.2,613.7 L650.3,613.3 L650.3,612.8 L650.6,612.5 L651.1,612.6 L651.6,612.6 L651.9,612.5 L652.1,612 L652.4,611.6 L652.7,611.5 L653.2,611.7 L653.6,611.9 L653.9,611.9 L654.3,611.6 L654.7,611.3 L655.1,611.3 L655.4,611.7 L655.7,612.1 L656,612.2 L656.5,612 L657,611.9 L657.3,612.1 L657.5,612.6 L657.6,613 L657.9,613.2 L658.3,613.3 L658.8,613.3 L659.1,613.6 L659,614.1 L659,614.6 L659.1,614.9 L659.6,615.1 L660,615.4 L660.1,615.7 L659.9,616.2 L659.7,616.6 L659.7,616.9Z" fill="#747474" stroke="#3a3a3a" stroke-width="0.6"/>
<path d="M658.2,617.3 L658.4,617.7 L658.3,618 L657.8,618.2 L657.5,618.5 L657.6,618.8 L657.7,619.3 L657.7,619.7 L657.4,619.9 L656.9,619.9 L656.5,619.9 L656.4,620.2 L656.3,620.7 L656.1,621.1 L655.7,621.1 L655.2,620.8 L654.9,620.7 L654.6,620.9 L654.3,621.2 L653.9,621.4 L653.6,621.3 L653.4,620.8 L653.1,620.5 L652.8,620.6 L652.3,620.7 L651.9,620.7 L651.7,620.4 L651.7,619.9 L651.7,619.5 L651.4,619.4 L650.9,619.3 L650.5,619.1 L650.5,618.7 L650.8,618.2 L650.9,617.9 L650.7,617.6 L650.4,617.3 L650.2,616.9 L650.3,616.6 L650.8,616.4 L651.1,616.1 L651,615.8 L650.9,615.3 L650.9,614.9 L651.2,614.7 L651.7,614.7 L652.1,614.7 L652.2,614.4 L652.3,613.9 L652.5,613.5 L652.9,613.5 L653.4,613.8 L653.7,613.9 L654,613.7 L654.3,613.4 L654.7,613.2 L655,613.3 L655.2,613.8 L655.5,614.1 L655.8,614 L656.3,613.9 L656.7,613.9 L656.9,614.2 L656.9,614.7 L656.9,615.1 L657.2,615.2 L657.7,615.3 L658.1,615.5 L658.1,615.9 L657.8,616.4 L657.7,616.7 L657.9,617Z" fill="#6a6a6a" stroke="#555" stroke-width="0.5"/>
<circle cx="654.3" cy="617.3" r="1.6" fill="#111"/>
<path d="M673.9,618.6 L674.2,619 L674.2,619.4 L673.8,619.7 L673.4,620 L673.3,620.3 L673.5,620.8 L673.6,621.3 L673.4,621.6 L672.9,621.8 L672.5,621.9 L672.3,622.2 L672.2,622.6 L672.2,623.1 L671.9,623.4 L671.4,623.3 L670.9,623.3 L670.6,623.4 L670.4,623.9 L670.1,624.3 L669.8,624.4 L669.3,624.2 L668.9,624 L668.6,624 L668.2,624.3 L667.8,624.6 L667.4,624.6 L667.1,624.2 L666.8,623.8 L666.5,623.7 L666,623.9 L665.5,624 L665.2,623.8 L665,623.3 L664.9,622.9 L664.6,622.7 L664.2,622.6 L663.7,622.6 L663.4,622.3 L663.5,621.8 L663.5,621.3 L663.4,621 L662.9,620.8 L662.5,620.5 L662.4,620.2 L662.6,619.7 L662.8,619.3 L662.8,619 L662.5,618.6 L662.2,618.2 L662.2,617.8 L662.6,617.5 L663,617.2 L663.1,616.9 L662.9,616.4 L662.8,615.9 L663,615.6 L663.5,615.4 L663.9,615.3 L664.1,615 L664.2,614.6 L664.2,614.1 L664.5,613.8 L665,613.9 L665.5,613.9 L665.8,613.8 L666,613.3 L666.3,612.9 L666.6,612.8 L667.1,613 L667.5,613.2 L667.8,613.2 L668.2,612.9 L668.6,612.6 L669,612.6 L669.3,613 L669.6,613.4 L669.9,613.5 L670.4,613.3 L670.9,613.2 L671.2,613.4 L671.4,613.9 L671.5,614.3 L671.8,614.5 L672.2,614.6 L672.7,614.6 L673,614.9 L672.9,615.4 L672.9,615.9 L673,616.2 L673.5,616.4 L673.9,616.7 L674,617 L673.8,617.5 L673.6,617.9 L673.6,618.2Z" fill="#747474" stroke="#3a3a3a" stroke-width="0.6"/>
<path d="M672.1,618.6 L672.3,619 L672.2,619.3 L671.7,619.5 L671.4,619.8 L671.5,620.1 L671.6,620.6 L671.6,621 L671.3,621.2 L670.8,621.2 L670.4,621.2 L670.3,621.5 L670.2,622 L670,622.4 L669.6,622.4 L669.1,622.1 L668.8,622 L668.5,622.2 L668.2,622.5 L667.8,622.7 L667.5,622.6 L667.3,622.1 L667,621.8 L666.7,621.9 L666.2,622 L665.8,622 L665.6,621.7 L665.6,621.2 L665.6,620.8 L665.3,620.7 L664.8,620.6 L664.4,620.4 L664.4,620 L664.7,619.5 L664.8,619.2 L664.6,618.9 L664.3,618.6 L664.1,618.2 L664.2,617.9 L664.7,617.7 L665,617.4 L664.9,617.1 L664.8,616.6 L664.8,616.2 L665.1,616 L665.6,616 L666,616 L666.1,615.7 L666.2,615.2 L666.4,614.8 L666.8,614.8 L667.3,615.1 L667.6,615.2 L667.9,615 L668.2,614.7 L668.6,614.5 L668.9,614.6 L669.1,615.1 L669.4,615.4 L669.7,615.3 L670.2,615.2 L670.6,615.2 L670.8,615.5 L670.8,616 L670.8,616.4 L671.1,616.5 L671.6,616.6 L672,616.8 L672,617.2 L671.7,617.7 L671.6,618 L671.8,618.3Z" fill="#6a6a6a" stroke="#555" stroke-width="0.5"/>
<circle cx="668.2" cy="618.6" r="1.6" fill="#111"/>
<path d="M686.2,613.4 L686.5,613.8 L686.5,614.2 L686.1,614.5 L685.7,614.8 L685.6,615.1 L685.8,615.6 L685.9,616.1 L685.7,616.4 L685.2,616.6 L684.8,616.7 L684.6,617 L684.5,617.4 L684.5,617.9 L684.2,618.2 L683.7,618.1 L683.2,618.1 L682.9,618.2 L682.7,618.7 L682.4,619.1 L682.1,619.2 L681.6,619 L681.2,618.8 L680.9,618.8 L680.5,619.1 L680.1,619.4 L679.7,619.4 L679.4,619 L679.1,618.6 L678.8,618.5 L678.3,618.7 L677.8,618.8 L677.5,618.6 L677.3,618.1 L677.2,617.7 L676.9,617.5 L676.5,617.4 L676,617.4 L675.7,617.1 L675.8,616.6 L675.8,616.1 L675.7,615.8 L675.2,615.6 L674.8,615.3 L674.7,615 L674.9,614.5 L675.1,614.1 L675.1,613.8 L674.8,613.4 L674.5,613 L674.5,612.6 L674.9,612.3 L675.3,612 L675.4,611.7 L675.2,611.2 L675.1,610.7 L675.3,610.4 L675.8,610.2 L676.2,610.1 L676.4,609.8 L676.5,609.4 L676.5,608.9 L676.8,608.6 L677.3,608.7 L677.8,608.7 L678.1,608.6 L678.3,608.1 L678.6,607.7 L678.9,607.6 L679.4,607.8 L679.8,608 L680.1,608 L680.5,607.7 L680.9,607.4 L681.3,607.4 L681.6,607.8 L681.9,608.2 L682.2,608.3 L682.7,608.1 L683.2,608 L683.5,608.2 L683.7,608.7 L683.8,609.1 L684.1,609.3 L684.5,609.4 L685,609.4 L685.3,609.7 L685.2,610.2 L685.2,610.7 L685.3,611 L685.8,611.2 L686.2,611.5 L686.3,611.8 L686.1,612.3 L685.9,612.7 L685.9,613Z" fill="#747474" stroke="#3a3a3a" stroke-width="0.6"/>
<path d="M684.4,613.4 L684.6,613.8 L684.5,614.1 L684,614.3 L683.7,614.6 L683.8,614.9 L683.9,615.4 L683.9,615.8 L683.6,616 L683.1,616 L682.7,616 L682.6,616.3 L682.5,616.8 L682.3,617.2 L681.9,617.2 L681.4,616.9 L681.1,616.8 L680.8,617 L680.5,617.3 L680.1,617.5 L679.8,617.4 L679.6,616.9 L679.3,616.6 L679,616.7 L678.5,616.8 L678.1,616.8 L677.9,616.5 L677.9,616 L677.9,615.6 L677.6,615.5 L677.1,615.4 L676.7,615.2 L676.7,614.8 L677,614.3 L677.1,614 L676.9,613.7 L676.6,613.4 L676.4,613 L676.5,612.7 L677,612.5 L677.3,612.2 L677.2,611.9 L677.1,611.4 L677.1,611 L677.4,610.8 L677.9,610.8 L678.3,610.8 L678.4,610.5 L678.5,610 L678.7,609.6 L679.1,609.6 L679.6,609.9 L679.9,610 L680.2,609.8 L680.5,609.5 L680.9,609.3 L681.2,609.4 L681.4,609.9 L681.7,610.2 L682,610.1 L682.5,610 L682.9,610 L683.1,610.3 L683.1,610.8 L683.1,611.2 L683.4,611.3 L683.9,611.4 L684.3,611.6 L684.3,612 L684,612.5 L683.9,612.8 L684.1,613.1Z" fill="#6a6a6a" stroke="#555" stroke-width="0.5"/>
<circle cx="680.5" cy="613.4" r="1.6" fill="#111"/>
<path d="M665.3,630.4 L665.6,630.8 L665.6,631.2 L665.2,631.5 L664.8,631.8 L664.7,632.1 L664.9,632.6 L665,633.1 L664.8,633.4 L664.3,633.6 L663.9,633.7 L663.7,634 L663.6,634.4 L663.6,634.9 L663.3,635.2 L662.8,635.1 L662.3,635.1 L662,635.2 L661.8,635.7 L661.5,636.1 L661.2,636.2 L660.7,636 L660.3,635.8 L660,635.8 L659.6,636.1 L659.2,636.4 L658.8,636.4 L658.5,636 L658.2,635.6 L657.9,635.5 L657.4,635.7 L656.9,635.8 L656.6,635.6 L656.4,635.1 L656.3,634.7 L656,634.5 L655.6,634.4 L655.1,634.4 L654.8,634.1 L654.9,633.6 L654.9,633.1 L654.8,632.8 L654.3,632.6 L653.9,632.3 L653.8,632 L654,631.5 L654.2,631.1 L654.2,630.8 L653.9,630.4 L653.6,630 L653.6,629.6 L654,629.3 L654.4,629 L654.5,628.7 L654.3,628.2 L654.2,627.7 L654.4,627.4 L654.9,627.2 L655.3,627.1 L655.5,626.8 L655.6,626.4 L655.6,625.9 L655.9,625.6 L656.4,625.7 L656.9,625.7 L657.2,625.6 L657.4,625.1 L657.7,624.7 L658,624.6 L658.5,624.8 L658.9,625 L659.2,625 L659.6,624.7 L660,624.4 L660.4,624.4 L660.7,624.8 L661,625.2 L661.3,625.3 L661.8,625.1 L662.3,625 L662.6,625.2 L662.8,625.7 L662.9,626.1 L663.2,626.3 L663.6,626.4 L664.1,626.4 L664.4,626.7 L664.3,627.2 L664.3,627.7 L664.4,628 L664.9,628.2 L665.3,628.5 L665.4,628.8 L665.2,629.3 L665,629.7 L665,630Z" fill="#747474" stroke="#3a3a3a" stroke-width="0.6"/>
<path d="M663.5,630.4 L663.7,630.8 L663.6,631.1 L663.1,631.3 L662.8,631.6 L662.9,631.9 L663,632.4 L663,632.8 L662.7,633 L662.2,633 L661.8,633 L661.7,633.3 L661.6,633.8 L661.4,634.2 L661,634.2 L660.5,633.9 L660.2,633.8 L659.9,634 L659.6,634.3 L659.2,634.5 L658.9,634.4 L658.7,633.9 L658.4,633.6 L658.1,633.7 L657.6,633.8 L657.2,633.8 L657,633.5 L657,633 L657,632.6 L656.7,632.5 L656.2,632.4 L655.8,632.2 L655.8,631.8 L656.1,631.3 L656.2,631 L656,630.7 L655.7,630.4 L655.5,630 L655.6,629.7 L656.1,629.5 L656.4,629.2 L656.3,628.9 L656.2,628.4 L656.2,628 L656.5,627.8 L657,627.8 L657.4,627.8 L657.5,627.5 L657.6,627 L657.8,626.6 L658.2,626.6 L658.7,626.9 L659,627 L659.3,626.8 L659.6,626.5 L660,626.3 L660.3,626.4 L660.5,626.9 L660.8,627.2 L661.1,627.1 L661.6,627 L662,627 L662.2,627.3 L662.2,627.8 L662.2,628.2 L662.5,628.3 L663,628.4 L663.4,628.6 L663.4,629 L663.1,629.5 L663,629.8 L663.2,630.1Z" fill="#6a6a6a" stroke="#555" stroke-width="0.5"/>
<circle cx="659.6" cy="630.4" r="1.6" fill="#111"/>
<path d="M681.7,629 L682,629.4 L682,629.8 L681.6,630.1 L681.2,630.4 L681.1,630.7 L681.3,631.2 L681.4,631.7 L681.2,632 L680.7,632.2 L680.3,632.3 L680.1,632.6 L680,633 L680,633.5 L679.7,633.8 L679.2,633.7 L678.7,633.7 L678.4,633.8 L678.2,634.3 L677.9,634.7 L677.6,634.8 L677.1,634.6 L676.7,634.4 L676.4,634.4 L676,634.7 L675.6,635 L675.2,635 L674.9,634.6 L674.6,634.2 L674.3,634.1 L673.8,634.3 L673.3,634.4 L673,634.2 L672.8,633.7 L672.7,633.3 L672.4,633.1 L672,633 L671.5,633 L671.2,632.7 L671.3,632.2 L671.3,631.7 L671.2,631.4 L670.7,631.2 L670.3,630.9 L670.2,630.6 L670.4,630.1 L670.6,629.7 L670.6,629.4 L670.3,629 L670,628.6 L670,628.2 L670.4,627.9 L670.8,627.6 L670.9,627.3 L670.7,626.8 L670.6,626.3 L670.8,626 L671.3,625.8 L671.7,625.7 L671.9,625.4 L672,625 L672,624.5 L672.3,624.2 L672.8,624.3 L673.3,624.3 L673.6,624.2 L673.8,623.7 L674.1,623.3 L674.4,623.2 L674.9,623.4 L675.3,623.6 L675.6,623.6 L676,623.3 L676.4,623 L676.8,623 L677.1,623.4 L677.4,623.8 L677.7,623.9 L678.2,623.7 L678.7,623.6 L679,623.8 L679.2,624.3 L679.3,624.7 L679.6,624.9 L680,625 L680.5,625 L680.8,625.3 L680.7,625.8 L680.7,626.3 L680.8,626.6 L681.3,626.8 L681.7,627.1 L681.8,627.4 L681.6,627.9 L681.4,628.3 L681.4,628.6Z" fill="#747474" stroke="#3a3a3a" stroke-width="0.6"/>
<path d="M679.9,629 L680.1,629.4 L680,629.7 L679.5,629.9 L679.2,630.2 L679.3,630.5 L679.4,631 L679.4,631.4 L679.1,631.6 L678.6,631.6 L678.2,631.6 L678.1,631.9 L678,632.4 L677.8,632.8 L677.4,632.8 L676.9,632.5 L676.6,632.4 L676.3,632.6 L676,632.9 L675.6,633.1 L675.3,633 L675.1,632.5 L674.8,632.2 L674.5,632.3 L674,632.4 L673.6,632.4 L673.4,632.1 L673.4,631.6 L673.4,631.2 L673.1,631.1 L672.6,631 L672.2,630.8 L672.2,630.4 L672.5,629.9 L672.6,629.6 L672.4,629.3 L672.1,629 L671.9,628.6 L672,628.3 L672.5,628.1 L672.8,627.8 L672.7,627.5 L672.6,627 L672.6,626.6 L672.9,626.4 L673.4,626.4 L673.8,626.4 L673.9,626.1 L674,625.6 L674.2,625.2 L674.6,625.2 L675.1,625.5 L675.4,625.6 L675.7,625.4 L676,625.1 L676.4,624.9 L676.7,625 L676.9,625.5 L677.2,625.8 L677.5,625.7 L678,625.6 L678.4,625.6 L678.6,625.9 L678.6,626.4 L678.6,626.8 L678.9,626.9 L679.4,627 L679.8,627.2 L679.8,627.6 L679.5,628.1 L679.4,628.4 L679.6,628.7Z" fill="#6a6a6a" stroke="#555" stroke-width="0.5"/>
<circle cx="676" cy="629" r="1.6" fill="#111"/>
<path d="M619.7,441.2 Q630.1,447.1 636.5,438.2" stroke="#8c8c8c" stroke-width="0.7" fill="none"/>
<path d="M618.5,439.3 C630.9,446.6 642.8,444.4 634,438.4" stroke="#939393" stroke-width="0.65" fill="none"/>
<path d="M619.5,441.4 Q628.3,452.5 639.9,445.3" stroke="#8c8c8c" stroke-width="0.7" fill="none"/>
<path d="M620.9,442 C629.3,442.1 634.7,450.4 625.7,450" stroke="#939393" stroke-width="0.65" fill="none"/>
<path d="M621.7,439.7 Q623.5,450.4 632.4,448.5" stroke="#8c8c8c" stroke-width="0.7" fill="none"/>
<path d="M621.7,441.8 C624.6,451.2 634.6,456.8 631.8,447.2" stroke="#939393" stroke-width="0.65" fill="none"/>
<path d="M620.1,442.6 Q630.5,445.4 626.4,455.4" stroke="#8c8c8c" stroke-width="0.7" fill="none"/>
<path d="M619.5,439 C626.6,450.8 626.1,462.4 619.9,454.5" stroke="#939393" stroke-width="0.65" fill="none"/>
<path d="M621.8,439 Q629.3,450.4 617.4,459.1" stroke="#8c8c8c" stroke-width="0.7" fill="none"/>
<path d="M618.6,439.6 C622.2,451.1 618,460.6 615.6,452" stroke="#939393" stroke-width="0.65" fill="none"/>
<path d="M620.5,439.8 Q624.2,450.5 613.6,453.9" stroke="#8c8c8c" stroke-width="0.7" fill="none"/>
<path d="M621.7,441.1 C614.3,447.6 615.6,457.7 622.5,451.4" stroke="#939393" stroke-width="0.65" fill="none"/>
<path d="M620.3,441.6 Q620.3,451 611.3,451.9" stroke="#8c8c8c" stroke-width="0.7" fill="none"/>
<path d="M620.7,439.2 C616,449.8 607.6,454.8 610.6,446.9" stroke="#939393" stroke-width="0.65" fill="none"/>
<path d="M622.2,441 Q610.9,443.4 611.5,451.8" stroke="#8c8c8c" stroke-width="0.7" fill="none"/>
<path d="M619.9,441.4 C613.2,449.4 601.6,451 607.6,442.6" stroke="#939393" stroke-width="0.65" fill="none"/>
<path d="M618.7,442.9 Q610.5,449.8 602.1,445.5" stroke="#8c8c8c" stroke-width="0.7" fill="none"/>
<path d="M622.3,441.2 C611,441.4 603,446 610.9,446.5" stroke="#939393" stroke-width="0.65" fill="none"/>
<path d="M619.7,441.8 Q608.1,447.3 601.2,436.4" stroke="#8c8c8c" stroke-width="0.7" fill="none"/>
<path d="M618.7,442.9 C609.3,440 599.9,434.6 609.1,434.5" stroke="#939393" stroke-width="0.65" fill="none"/>
<path d="M619.2,441.3 Q612.2,430.2 601,440.1" stroke="#8c8c8c" stroke-width="0.7" fill="none"/>
<path d="M621.5,440.8 C612,432.9 601.1,429.6 607.4,436.9" stroke="#939393" stroke-width="0.65" fill="none"/>
<path d="M619.2,439.1 Q615.8,431 606.5,433.6" stroke="#8c8c8c" stroke-width="0.7" fill="none"/>
<path d="M622.4,442.5 C615.5,432.4 605.7,429.1 609.5,437.5" stroke="#939393" stroke-width="0.65" fill="none"/>
<path d="M620.7,440.8 Q619.6,429 610.9,426.7" stroke="#8c8c8c" stroke-width="0.7" fill="none"/>
<path d="M619.1,443 C615.1,432.4 615.4,422.2 620.9,429.2" stroke="#939393" stroke-width="0.65" fill="none"/>
<path d="M620.2,441.5 Q614.6,431.8 621.4,425.3" stroke="#8c8c8c" stroke-width="0.7" fill="none"/>
<path d="M622.4,439.2 C623.3,432.8 619.6,424.4 616.2,431.8" stroke="#939393" stroke-width="0.65" fill="none"/>
<path d="M622.1,439.8 Q617.3,427.5 627.3,422.4" stroke="#8c8c8c" stroke-width="0.7" fill="none"/>
<path d="M618.6,441.5 C625.7,433.7 625.9,424.6 620.7,430.5" stroke="#939393" stroke-width="0.65" fill="none"/>
<path d="M622.1,441.7 Q628.9,434.8 625.1,426.8" stroke="#8c8c8c" stroke-width="0.7" fill="none"/>
<path d="M619.5,441.4 C629.4,435 631,423.3 621.7,428.5" stroke="#939393" stroke-width="0.65" fill="none"/>
<path d="M619.5,439.2 Q632.8,436.2 632,426" stroke="#8c8c8c" stroke-width="0.7" fill="none"/>
<path d="M619.8,440.7 C629.2,440 634.6,431.8 625.7,432.1" stroke="#939393" stroke-width="0.65" fill="none"/>
<path d="M621.5,442.3 Q630.2,432.7 638.7,439.8" stroke="#8c8c8c" stroke-width="0.7" fill="none"/>
<path d="M619,442.7 C629.4,443.4 637.7,437.2 628.7,434" stroke="#939393" stroke-width="0.65" fill="none"/>
<path d="M666.2,552.4 Q678.4,555.8 684.4,549.7" stroke="#8c8c8c" stroke-width="0.7" fill="none"/>
<path d="M667.8,551.3 C677.1,549.3 687.3,557 676.2,560.5" stroke="#939393" stroke-width="0.65" fill="none"/>
<path d="M664.4,550.9 Q678.9,549.3 680.9,563.5" stroke="#8c8c8c" stroke-width="0.7" fill="none"/>
<path d="M664.6,550.1 C676.5,554.3 683.7,562.7 674.1,561.7" stroke="#939393" stroke-width="0.65" fill="none"/>
<path d="M664.7,551.4 Q669.8,563.7 680.6,561.8" stroke="#8c8c8c" stroke-width="0.7" fill="none"/>
<path d="M664.5,552.3 C673.2,556.6 676.2,564.8 669.4,561.4" stroke="#939393" stroke-width="0.65" fill="none"/>
<path d="M667.1,553.1 Q676.6,560.6 674.6,569.5" stroke="#8c8c8c" stroke-width="0.7" fill="none"/>
<path d="M665.1,551.3 C666.3,562.3 672.7,570.6 673.4,561.5" stroke="#939393" stroke-width="0.65" fill="none"/>
<path d="M664.1,552.1 Q660.9,564.4 671,570.5" stroke="#8c8c8c" stroke-width="0.7" fill="none"/>
<path d="M666.2,550.8 C668.6,563.4 665.5,574.4 662.3,565.2" stroke="#939393" stroke-width="0.65" fill="none"/>
<path d="M667.5,553 Q668,564 659.7,568.1" stroke="#8c8c8c" stroke-width="0.7" fill="none"/>
<path d="M667.1,554 C658.6,560.2 660.4,572.5 668.6,564.7" stroke="#939393" stroke-width="0.65" fill="none"/>
<path d="M666.8,550.6 Q668.6,562.4 655.7,563.4" stroke="#8c8c8c" stroke-width="0.7" fill="none"/>
<path d="M664.8,551.1 C658.4,559 655,568.5 661.9,563.4" stroke="#939393" stroke-width="0.65" fill="none"/>
<path d="M666.3,551.5 Q656,554.2 657.3,563.8" stroke="#8c8c8c" stroke-width="0.7" fill="none"/>
<path d="M666.8,550.3 C657.9,557.6 648.5,559.3 654.7,554.1" stroke="#939393" stroke-width="0.65" fill="none"/>
<path d="M664.8,551.3 Q658.9,559.3 651.5,553.9" stroke="#8c8c8c" stroke-width="0.7" fill="none"/>
<path d="M664.1,550.9 C657.6,555 649,553.1 655.9,549.8" stroke="#939393" stroke-width="0.65" fill="none"/>
<path d="M666.5,552.2 Q654.7,545.4 647.6,555.4" stroke="#8c8c8c" stroke-width="0.7" fill="none"/>
<path d="M667,552.6 C656.6,552.4 648.7,547.2 656.9,546" stroke="#939393" stroke-width="0.65" fill="none"/>
<path d="M664.1,554 Q653.8,551 651.3,542.5" stroke="#8c8c8c" stroke-width="0.7" fill="none"/>
<path d="M665.4,551.3 C655.2,550 647.8,541.5 657.7,542.3" stroke="#939393" stroke-width="0.65" fill="none"/>
<path d="M666.3,551.9 Q661.3,541.3 651.6,543.5" stroke="#8c8c8c" stroke-width="0.7" fill="none"/>
<path d="M664.2,553.9 C659.5,545.7 657.2,537 663.3,541.8" stroke="#939393" stroke-width="0.65" fill="none"/>
<path d="M665.2,552.2 Q663.7,538.9 654.3,537.1" stroke="#8c8c8c" stroke-width="0.7" fill="none"/>
<path d="M665.7,552 C664.2,541.6 657.9,533.5 658.5,542.3" stroke="#939393" stroke-width="0.65" fill="none"/>
<path d="M665.6,553.9 Q657.5,543.4 669.4,535.1" stroke="#8c8c8c" stroke-width="0.7" fill="none"/>
<path d="M664.1,553.7 C668.1,540.5 665,529.7 662.4,538.9" stroke="#939393" stroke-width="0.65" fill="none"/>
<path d="M664.8,553 Q664.3,541 670.3,536.7" stroke="#8c8c8c" stroke-width="0.7" fill="none"/>
<path d="M665,551.4 C672.3,543.9 671.6,533.2 665,540.1" stroke="#939393" stroke-width="0.65" fill="none"/>
<path d="M666.5,550.7 Q664.7,541.3 677.2,541.4" stroke="#8c8c8c" stroke-width="0.7" fill="none"/>
<path d="M664.2,551.5 C669.2,542 680.4,537.9 677.8,548.5" stroke="#939393" stroke-width="0.65" fill="none"/>
<path d="M665.4,552.5 Q679.6,550.5 677.2,536" stroke="#8c8c8c" stroke-width="0.7" fill="none"/>
<path d="M665.1,551.3 C672.5,546.5 680.9,545.3 675.8,550.6" stroke="#939393" stroke-width="0.65" fill="none"/>
<path d="M666.5,551.7 Q677.1,555.1 679.7,542.7" stroke="#8c8c8c" stroke-width="0.7" fill="none"/>
<path d="M666.8,550.8 C677.5,552.3 687.4,547 677.8,545.7" stroke="#939393" stroke-width="0.65" fill="none"/>
<path d="M621.4,655.5 Q631.2,660.5 638.3,651.7" stroke="#8c8c8c" stroke-width="0.7" fill="none"/>
<path d="M618.7,654.9 C631.2,657.1 642.2,654.9 633.3,651.4" stroke="#939393" stroke-width="0.65" fill="none"/>
<path d="M621,653.7 Q627.7,664.4 638.4,655.7" stroke="#8c8c8c" stroke-width="0.7" fill="none"/>
<path d="M618.8,652.5 C630.5,657.2 635.7,667.8 625.3,665.5" stroke="#939393" stroke-width="0.65" fill="none"/>
<path d="M621,653.2 Q624.1,667 637.3,663.2" stroke="#8c8c8c" stroke-width="0.7" fill="none"/>
<path d="M619.7,654.3 C627.9,658.9 631.4,667.4 624.2,663.8" stroke="#939393" stroke-width="0.65" fill="none"/>
<path d="M619.3,655 Q620.6,665.8 632.5,665.6" stroke="#8c8c8c" stroke-width="0.7" fill="none"/>
<path d="M620.3,655.9 C624.4,662.4 623.6,671.7 619.3,664.9" stroke="#939393" stroke-width="0.65" fill="none"/>
<path d="M621.3,655.5 Q627.7,662.8 620.2,670.5" stroke="#8c8c8c" stroke-width="0.7" fill="none"/>
<path d="M620,654.4 C622.7,663.9 619.7,673.6 616.7,665.4" stroke="#939393" stroke-width="0.65" fill="none"/>
<path d="M619.8,652.2 Q625.4,665.3 614.9,671" stroke="#8c8c8c" stroke-width="0.7" fill="none"/>
<path d="M620.7,654.4 C614.4,664.1 614,675.4 619.6,667.5" stroke="#939393" stroke-width="0.65" fill="none"/>
<path d="M620.5,654.7 Q611.1,658 616.1,667.7" stroke="#8c8c8c" stroke-width="0.7" fill="none"/>
<path d="M621,655.3 C615.4,662.5 607.7,667.9 610.9,660.6" stroke="#939393" stroke-width="0.65" fill="none"/>
<path d="M620.5,653.2 Q613.6,664.6 605.2,663.7" stroke="#8c8c8c" stroke-width="0.7" fill="none"/>
<path d="M619,656 C608.5,656 601.2,666.5 612.6,665.6" stroke="#939393" stroke-width="0.65" fill="none"/>
<path d="M619.1,653.5 Q607.2,650.7 604.4,664.9" stroke="#8c8c8c" stroke-width="0.7" fill="none"/>
<path d="M620.6,655.5 C608.5,653.2 598.2,658.4 608,660" stroke="#939393" stroke-width="0.65" fill="none"/>
<path d="M622,653.2 Q608.8,659 602.9,649.8" stroke="#8c8c8c" stroke-width="0.7" fill="none"/>
<path d="M621.3,655.5 C609.1,650.1 597.8,651.9 606.7,656.1" stroke="#939393" stroke-width="0.65" fill="none"/>
<path d="M621.9,652.6 Q607.4,654.5 605.3,643.4" stroke="#8c8c8c" stroke-width="0.7" fill="none"/>
<path d="M621.3,654.6 C611.3,650.9 605,644.3 612.6,646.1" stroke="#939393" stroke-width="0.65" fill="none"/>
<path d="M620.4,652.8 Q607.4,650.3 608.9,638.8" stroke="#8c8c8c" stroke-width="0.7" fill="none"/>
<path d="M619,656 C615.6,644.7 607.1,639 610.2,647.2" stroke="#939393" stroke-width="0.65" fill="none"/>
<path d="M620,654.6 Q619.8,642.7 610.1,641.4" stroke="#8c8c8c" stroke-width="0.7" fill="none"/>
<path d="M622.1,654.1 C614.5,646.8 615.4,637 621.5,643.3" stroke="#939393" stroke-width="0.65" fill="none"/>
<path d="M620.6,652.7 Q623.3,643.5 613.9,639.6" stroke="#8c8c8c" stroke-width="0.7" fill="none"/>
<path d="M619.8,653 C624.5,642.9 618.9,631.2 613.7,641.7" stroke="#939393" stroke-width="0.65" fill="none"/>
<path d="M622.2,655.6 Q627.5,642.7 621.5,634.8" stroke="#8c8c8c" stroke-width="0.7" fill="none"/>
<path d="M620.6,654.3 C625.5,646.5 625.3,637.2 619.8,643.3" stroke="#939393" stroke-width="0.65" fill="none"/>
<path d="M619.3,655.4 Q620.9,644.2 629.2,643.2" stroke="#8c8c8c" stroke-width="0.7" fill="none"/>
<path d="M621.7,654.7 C626,644.6 635.8,639.7 631.7,648.2" stroke="#939393" stroke-width="0.65" fill="none"/>
<path d="M621.7,652.5 Q625.4,643.3 635.9,647.4" stroke="#8c8c8c" stroke-width="0.7" fill="none"/>
<path d="M620.4,652.5 C626,647.4 636,648.1 630.4,655.3" stroke="#939393" stroke-width="0.65" fill="none"/>
<path d="M620.6,652.1 Q627.6,647.4 634,650.6" stroke="#8c8c8c" stroke-width="0.7" fill="none"/>
<path d="M620.8,654 C629.1,651.6 637.8,653.3 630.7,656.1" stroke="#939393" stroke-width="0.65" fill="none"/>
<path d="M773.5,643.5 Q783.2,647.3 788.5,641.7" stroke="#8c8c8c" stroke-width="0.7" fill="none"/>
<path d="M772.8,644.4 C782,642.4 790.9,648.4 781.6,650.8" stroke="#939393" stroke-width="0.65" fill="none"/>
<path d="M770.4,645.5 Q783.6,642.9 787.4,650.4" stroke="#8c8c8c" stroke-width="0.7" fill="none"/>
<path d="M772.9,642.1 C778.1,651.5 788.9,651.5 783.3,643.4" stroke="#939393" stroke-width="0.65" fill="none"/>
<path d="M771.2,645.8 Q777.1,655.8 789,650.9" stroke="#8c8c8c" stroke-width="0.7" fill="none"/>
<path d="M770.9,642.9 C774.6,652.1 783,656.1 781.2,647.9" stroke="#939393" stroke-width="0.65" fill="none"/>
<path d="M772.8,645.9 Q781,650.6 776.9,659.2" stroke="#8c8c8c" stroke-width="0.7" fill="none"/>
<path d="M773.6,642.2 C777.6,652.2 775.8,662.6 769.8,655.3" stroke="#939393" stroke-width="0.65" fill="none"/>
<path d="M772.2,644.6 Q779.7,650.5 772.1,658.4" stroke="#8c8c8c" stroke-width="0.7" fill="none"/>
<path d="M771.2,645.8 C774.1,652.7 770.9,661 768.3,653.7" stroke="#939393" stroke-width="0.65" fill="none"/>
<path d="M770.5,642.2 Q775.2,654.3 767,658.6" stroke="#8c8c8c" stroke-width="0.7" fill="none"/>
<path d="M772.4,644.4 C766.6,652.1 767.2,662 772.8,655.3" stroke="#939393" stroke-width="0.65" fill="none"/>
<path d="M771.3,643.1 Q761.2,649.1 766.9,660.3" stroke="#8c8c8c" stroke-width="0.7" fill="none"/>
<path d="M773.8,645.5 C768.6,652 760.8,656.3 763.1,648.8" stroke="#939393" stroke-width="0.65" fill="none"/>
<path d="M773.9,645.3 Q760.3,648 761.4,658.1" stroke="#8c8c8c" stroke-width="0.7" fill="none"/>
<path d="M770.5,643.9 C766.7,651.4 756.6,652.1 761.4,644.2" stroke="#939393" stroke-width="0.65" fill="none"/>
<path d="M773,644.2 Q766.2,652.1 757.7,644.9" stroke="#8c8c8c" stroke-width="0.7" fill="none"/>
<path d="M770.7,645.7 C763.1,648.7 753,647 760.5,642" stroke="#939393" stroke-width="0.65" fill="none"/>
<path d="M771.4,645.9 Q760.6,650.1 753.8,641.1" stroke="#8c8c8c" stroke-width="0.7" fill="none"/>
<path d="M773.4,643.2 C761.7,639.1 750.2,641.7 759,647.1" stroke="#939393" stroke-width="0.65" fill="none"/>
<path d="M772.4,645.8 Q759.3,649.7 754.8,633.9" stroke="#8c8c8c" stroke-width="0.7" fill="none"/>
<path d="M770.5,642.5 C762.4,636.9 750.6,636.1 758.1,643.1" stroke="#939393" stroke-width="0.65" fill="none"/>
<path d="M770.6,643.7 Q770.6,632.3 757.5,635.4" stroke="#8c8c8c" stroke-width="0.7" fill="none"/>
<path d="M773.4,644.7 C768,634.5 758.7,629.3 761.4,638.2" stroke="#939393" stroke-width="0.65" fill="none"/>
<path d="M772.1,645.6 Q764.4,637.2 766.8,630.4" stroke="#8c8c8c" stroke-width="0.7" fill="none"/>
<path d="M770.1,642.3 C767.6,635.9 767.7,626.8 772.1,633.2" stroke="#939393" stroke-width="0.65" fill="none"/>
<path d="M772.5,643.2 Q773.7,633.1 767,629.1" stroke="#8c8c8c" stroke-width="0.7" fill="none"/>
<path d="M771.9,642.5 C768.6,633.2 772.8,622.3 776.9,631.7" stroke="#939393" stroke-width="0.65" fill="none"/>
<path d="M770.8,645.7 Q766.6,632.2 779.9,627.3" stroke="#8c8c8c" stroke-width="0.7" fill="none"/>
<path d="M772.5,644.9 C776.8,636.1 774.7,626.5 769.5,633.5" stroke="#939393" stroke-width="0.65" fill="none"/>
<path d="M771.3,642.2 Q771.7,634 781.4,633.3" stroke="#8c8c8c" stroke-width="0.7" fill="none"/>
<path d="M771.1,643.5 C775.8,636.3 785.2,634.1 781.9,642.3" stroke="#939393" stroke-width="0.65" fill="none"/>
<path d="M770.7,643.3 Q777.7,632 788,633.7" stroke="#8c8c8c" stroke-width="0.7" fill="none"/>
<path d="M773.2,645 C782.8,640 788.8,629.7 778.6,632.3" stroke="#939393" stroke-width="0.65" fill="none"/>
<path d="M770.6,642.1 Q781.4,633.7 791.6,640.1" stroke="#8c8c8c" stroke-width="0.7" fill="none"/>
<path d="M770.5,644.2 C781.9,640.1 792.1,641.3 784.3,645.3" stroke="#939393" stroke-width="0.65" fill="none"/>
<path d="M885.4,644.8 Q895,637.4 901.7,647.1" stroke="#8c8c8c" stroke-width="0.7" fill="none"/>
<path d="M886.6,645 C894.1,647.6 903.1,644.5 895.7,640.3" stroke="#939393" stroke-width="0.65" fill="none"/>
<path d="M885,645.7 Q894,650.2 900,647.3" stroke="#8c8c8c" stroke-width="0.7" fill="none"/>
<path d="M887.5,644 C892.3,650.7 901.9,651.4 896.7,644.6" stroke="#939393" stroke-width="0.65" fill="none"/>
<path d="M887.7,643.6 Q895.8,645.3 893.7,655.9" stroke="#8c8c8c" stroke-width="0.7" fill="none"/>
<path d="M887.5,643.5 C891.8,653.5 902.4,657.4 898.2,648.4" stroke="#939393" stroke-width="0.65" fill="none"/>
<path d="M887.7,642.4 Q886.1,653.8 894.4,655.2" stroke="#8c8c8c" stroke-width="0.7" fill="none"/>
<path d="M887.5,642.8 C887.9,654.9 896.4,662.5 895.8,652.5" stroke="#939393" stroke-width="0.65" fill="none"/>
<path d="M886.4,643.9 Q884.1,653.8 891.5,657.2" stroke="#8c8c8c" stroke-width="0.7" fill="none"/>
<path d="M887.1,645.7 C883.8,653.1 887.5,661.9 890.4,654" stroke="#939393" stroke-width="0.65" fill="none"/>
<path d="M885.4,643.3 Q891.7,655.7 879,661.3" stroke="#8c8c8c" stroke-width="0.7" fill="none"/>
<path d="M885.9,645.4 C886.1,652.6 879.2,658.9 878.4,650.5" stroke="#939393" stroke-width="0.65" fill="none"/>
<path d="M885.1,643.4 Q886.8,656 874.5,656.8" stroke="#8c8c8c" stroke-width="0.7" fill="none"/>
<path d="M886.6,642.4 C877.5,649.9 873.2,659.2 881,655" stroke="#939393" stroke-width="0.65" fill="none"/>
<path d="M884.1,645.3 Q882,656.4 869,651.5" stroke="#8c8c8c" stroke-width="0.7" fill="none"/>
<path d="M887.6,642.8 C875.6,648.7 868.8,657.5 877.8,654.5" stroke="#939393" stroke-width="0.65" fill="none"/>
<path d="M887.4,645.2 Q876.2,642.6 874.3,651.9" stroke="#8c8c8c" stroke-width="0.7" fill="none"/>
<path d="M885.9,644.4 C875.8,647.8 865.1,644.1 874,639.6" stroke="#939393" stroke-width="0.65" fill="none"/>
<path d="M884.1,642.7 Q875.8,646.9 871.2,641" stroke="#8c8c8c" stroke-width="0.7" fill="none"/>
<path d="M886.3,644.3 C876.1,640.5 866,643.4 874.3,647.3" stroke="#939393" stroke-width="0.65" fill="none"/>
<path d="M884.5,642 Q876.4,647.1 873.4,636.9" stroke="#8c8c8c" stroke-width="0.7" fill="none"/>
<path d="M886.6,644.5 C877.2,642.3 871.7,634.5 880.2,635.3" stroke="#939393" stroke-width="0.65" fill="none"/>
<path d="M885.4,644.6 Q881.4,634.8 873.7,635.9" stroke="#8c8c8c" stroke-width="0.7" fill="none"/>
<path d="M887,642.3 C878.7,637.3 875.3,628.4 881.8,633.3" stroke="#939393" stroke-width="0.65" fill="none"/>
<path d="M887.2,642.3 Q877.1,637.7 878.8,630.2" stroke="#8c8c8c" stroke-width="0.7" fill="none"/>
<path d="M885.5,642.7 C879.6,636.2 879.4,625.9 885.8,632.3" stroke="#939393" stroke-width="0.65" fill="none"/>
<path d="M884.4,644.6 Q890.8,631.5 879,626.2" stroke="#8c8c8c" stroke-width="0.7" fill="none"/>
<path d="M887.9,642.9 C883.8,634.4 886.4,625.2 889,632.9" stroke="#939393" stroke-width="0.65" fill="none"/>
<path d="M885.4,645.8 Q880.3,633.1 893.2,628" stroke="#8c8c8c" stroke-width="0.7" fill="none"/>
<path d="M885.9,643.9 C888.1,632.8 895.3,624.3 894.5,633.8" stroke="#939393" stroke-width="0.65" fill="none"/>
<path d="M887.5,645.7 Q898.2,639.3 891.9,626.2" stroke="#8c8c8c" stroke-width="0.7" fill="none"/>
<path d="M886.4,644.5 C894.5,638.1 899.1,629.2 891.6,633.3" stroke="#939393" stroke-width="0.65" fill="none"/>
<path d="M885.9,643.1 Q899.4,643.8 898,629.1" stroke="#8c8c8c" stroke-width="0.7" fill="none"/>
<path d="M885.3,644.6 C894.5,637 905.3,635.3 898.7,641.9" stroke="#939393" stroke-width="0.65" fill="none"/>
<path d="M887.5,642.8 Q892.7,633 904.3,641.7" stroke="#8c8c8c" stroke-width="0.7" fill="none"/>
<path d="M886.2,644.4 C895.2,639.5 905.3,640.8 897.8,645.5" stroke="#939393" stroke-width="0.65" fill="none"/>
<line x1="762" y1="426" x2="769" y2="384" stroke="#444" stroke-width="0.9"/>
<line x1="762" y1="426" x2="753" y2="398" stroke="#444" stroke-width="0.9"/>
<line x1="762" y1="426" x2="746" y2="412" stroke="#444" stroke-width="0.9"/>
<line x1="762" y1="426" x2="772" y2="412" stroke="#444" stroke-width="0.9"/>
<circle cx="746" cy="411.5" r="8" fill="#d8d8d8"/>
<circle cx="746.3" cy="414.5" r="1.4" fill="#fcfcfc" stroke="#444" stroke-width="0.65"/>
<circle cx="740.9" cy="414.3" r="1.4" fill="#fcfcfc" stroke="#444" stroke-width="0.65"/>
<circle cx="748.9" cy="406.7" r="1.4" fill="#fcfcfc" stroke="#444" stroke-width="0.65"/>
<circle cx="750.1" cy="412.5" r="1.4" fill="#fcfcfc" stroke="#444" stroke-width="0.65"/>
<circle cx="752.2" cy="415.1" r="1.4" fill="#fcfcfc" stroke="#444" stroke-width="0.65"/>
<circle cx="748.1" cy="417.4" r="1.4" fill="#fcfcfc" stroke="#444" stroke-width="0.65"/>
<circle cx="747.1" cy="409.9" r="1.4" fill="#fcfcfc" stroke="#444" stroke-width="0.65"/>
<circle cx="744.4" cy="417.2" r="1.4" fill="#fcfcfc" stroke="#444" stroke-width="0.65"/>
<circle cx="745.3" cy="405.8" r="1.4" fill="#fcfcfc" stroke="#444" stroke-width="0.65"/>
<circle cx="740.3" cy="407.8" r="1.4" fill="#fcfcfc" stroke="#444" stroke-width="0.65"/>
<circle cx="751.2" cy="409.1" r="1.4" fill="#fcfcfc" stroke="#444" stroke-width="0.65"/>
<circle cx="740" cy="410.8" r="1.4" fill="#fcfcfc" stroke="#444" stroke-width="0.65"/>
<circle cx="744.4" cy="412.1" r="1.4" fill="#fcfcfc" stroke="#444" stroke-width="0.65"/>
<circle cx="743.8" cy="408.4" r="1.4" fill="#fcfcfc" stroke="#444" stroke-width="0.65"/>
<circle cx="753.2" cy="411.6" r="1.4" fill="#fcfcfc" stroke="#444" stroke-width="0.65"/>
<circle cx="742.3" cy="405.2" r="1.4" fill="#fcfcfc" stroke="#444" stroke-width="0.65"/>
<circle cx="741.3" cy="417.4" r="1.4" fill="#fcfcfc" stroke="#444" stroke-width="0.65"/>
<circle cx="752.5" cy="398" r="9" fill="#d8d8d8"/>
<circle cx="753.2" cy="395.8" r="1.4" fill="#fcfcfc" stroke="#444" stroke-width="0.65"/>
<circle cx="750" cy="397.7" r="1.4" fill="#fcfcfc" stroke="#444" stroke-width="0.65"/>
<circle cx="750.5" cy="402.1" r="1.4" fill="#fcfcfc" stroke="#444" stroke-width="0.65"/>
<circle cx="753.1" cy="404.1" r="1.4" fill="#fcfcfc" stroke="#444" stroke-width="0.65"/>
<circle cx="746.8" cy="392" r="1.4" fill="#fcfcfc" stroke="#444" stroke-width="0.65"/>
<circle cx="754.5" cy="391.2" r="1.4" fill="#fcfcfc" stroke="#444" stroke-width="0.65"/>
<circle cx="758.3" cy="397.1" r="1.4" fill="#fcfcfc" stroke="#444" stroke-width="0.65"/>
<circle cx="745.2" cy="399.1" r="1.4" fill="#fcfcfc" stroke="#444" stroke-width="0.65"/>
<circle cx="751" cy="391.6" r="1.4" fill="#fcfcfc" stroke="#444" stroke-width="0.65"/>
<circle cx="759.9" cy="400" r="1.4" fill="#fcfcfc" stroke="#444" stroke-width="0.65"/>
<circle cx="755.9" cy="401.4" r="1.4" fill="#fcfcfc" stroke="#444" stroke-width="0.65"/>
<circle cx="756.7" cy="404.8" r="1.4" fill="#fcfcfc" stroke="#444" stroke-width="0.65"/>
<circle cx="747.4" cy="401.7" r="1.4" fill="#fcfcfc" stroke="#444" stroke-width="0.65"/>
<circle cx="758.3" cy="393.6" r="1.4" fill="#fcfcfc" stroke="#444" stroke-width="0.65"/>
<circle cx="749.1" cy="393.8" r="1.4" fill="#fcfcfc" stroke="#444" stroke-width="0.65"/>
<circle cx="746.7" cy="395.7" r="1.4" fill="#fcfcfc" stroke="#444" stroke-width="0.65"/>
<circle cx="750.5" cy="406.2" r="1.4" fill="#fcfcfc" stroke="#444" stroke-width="0.65"/>
<circle cx="753.4" cy="399.3" r="1.4" fill="#fcfcfc" stroke="#444" stroke-width="0.65"/>
<circle cx="747.6" cy="405" r="1.4" fill="#fcfcfc" stroke="#444" stroke-width="0.65"/>
<circle cx="759.2" cy="403.1" r="1.4" fill="#fcfcfc" stroke="#444" stroke-width="0.65"/>
<circle cx="772" cy="411" r="8" fill="#d8d8d8"/>
<circle cx="774.9" cy="413.1" r="1.4" fill="#fcfcfc" stroke="#444" stroke-width="0.65"/>
<circle cx="770.3" cy="412.1" r="1.4" fill="#fcfcfc" stroke="#444" stroke-width="0.65"/>
<circle cx="768.7" cy="416.6" r="1.4" fill="#fcfcfc" stroke="#444" stroke-width="0.65"/>
<circle cx="771.4" cy="408" r="1.4" fill="#fcfcfc" stroke="#444" stroke-width="0.65"/>
<circle cx="778.3" cy="414.4" r="1.4" fill="#fcfcfc" stroke="#444" stroke-width="0.65"/>
<circle cx="778.4" cy="410.5" r="1.4" fill="#fcfcfc" stroke="#444" stroke-width="0.65"/>
<circle cx="773.2" cy="417.3" r="1.4" fill="#fcfcfc" stroke="#444" stroke-width="0.65"/>
<circle cx="776.1" cy="405.8" r="1.4" fill="#fcfcfc" stroke="#444" stroke-width="0.65"/>
<circle cx="778.5" cy="407.4" r="1.4" fill="#fcfcfc" stroke="#444" stroke-width="0.65"/>
<circle cx="769" cy="404.7" r="1.4" fill="#fcfcfc" stroke="#444" stroke-width="0.65"/>
<circle cx="764.7" cy="411.9" r="1.4" fill="#fcfcfc" stroke="#444" stroke-width="0.65"/>
<circle cx="773.4" cy="403.6" r="1.4" fill="#fcfcfc" stroke="#444" stroke-width="0.65"/>
<circle cx="765.6" cy="414.7" r="1.4" fill="#fcfcfc" stroke="#444" stroke-width="0.65"/>
<circle cx="774.7" cy="409.4" r="1.4" fill="#fcfcfc" stroke="#444" stroke-width="0.65"/>
<circle cx="766.6" cy="408.1" r="1.4" fill="#fcfcfc" stroke="#444" stroke-width="0.65"/>
<circle cx="776.2" cy="417" r="1.4" fill="#fcfcfc" stroke="#444" stroke-width="0.65"/>
<circle cx="771.9" cy="414.6" r="1.4" fill="#fcfcfc" stroke="#444" stroke-width="0.65"/>
<circle cx="767.6" cy="410.9" r="1.4" fill="#fcfcfc" stroke="#444" stroke-width="0.65"/>
<circle cx="769" cy="384" r="10.5" fill="#d8d8d8"/>
<circle cx="761.5" cy="389.9" r="1.4" fill="#fcfcfc" stroke="#444" stroke-width="0.65"/>
<circle cx="772.7" cy="377" r="1.4" fill="#fcfcfc" stroke="#444" stroke-width="0.65"/>
<circle cx="770.1" cy="379.5" r="1.4" fill="#fcfcfc" stroke="#444" stroke-width="0.65"/>
<circle cx="760.4" cy="379.5" r="1.4" fill="#fcfcfc" stroke="#444" stroke-width="0.65"/>
<circle cx="765.5" cy="382.1" r="1.4" fill="#fcfcfc" stroke="#444" stroke-width="0.65"/>
<circle cx="778.4" cy="386" r="1.4" fill="#fcfcfc" stroke="#444" stroke-width="0.65"/>
<circle cx="765" cy="385.2" r="1.4" fill="#fcfcfc" stroke="#444" stroke-width="0.65"/>
<circle cx="772.2" cy="391.6" r="1.4" fill="#fcfcfc" stroke="#444" stroke-width="0.65"/>
<circle cx="761.3" cy="384.2" r="1.4" fill="#fcfcfc" stroke="#444" stroke-width="0.65"/>
<circle cx="776.9" cy="381.3" r="1.4" fill="#fcfcfc" stroke="#444" stroke-width="0.65"/>
<circle cx="776.2" cy="377" r="1.4" fill="#fcfcfc" stroke="#444" stroke-width="0.65"/>
<circle cx="768.9" cy="392.3" r="1.4" fill="#fcfcfc" stroke="#444" stroke-width="0.65"/>
<circle cx="776.5" cy="388.3" r="1.4" fill="#fcfcfc" stroke="#444" stroke-width="0.65"/>
<circle cx="766.2" cy="388.9" r="1.4" fill="#fcfcfc" stroke="#444" stroke-width="0.65"/>
<circle cx="767.8" cy="375.5" r="1.4" fill="#fcfcfc" stroke="#444" stroke-width="0.65"/>
<circle cx="764.7" cy="375.9" r="1.4" fill="#fcfcfc" stroke="#444" stroke-width="0.65"/>
<circle cx="769.7" cy="386.1" r="1.4" fill="#fcfcfc" stroke="#444" stroke-width="0.65"/>
<circle cx="774.4" cy="382.9" r="1.4" fill="#fcfcfc" stroke="#444" stroke-width="0.65"/>
<circle cx="763.5" cy="379.7" r="1.4" fill="#fcfcfc" stroke="#444" stroke-width="0.65"/>
<circle cx="771.2" cy="383.2" r="1.4" fill="#fcfcfc" stroke="#444" stroke-width="0.65"/>
<circle cx="773.8" cy="386.3" r="1.4" fill="#fcfcfc" stroke="#444" stroke-width="0.65"/>
<circle cx="769.9" cy="389.3" r="1.4" fill="#fcfcfc" stroke="#444" stroke-width="0.65"/>
<circle cx="766.6" cy="378.4" r="1.4" fill="#fcfcfc" stroke="#444" stroke-width="0.65"/>
<circle cx="759.2" cy="386.3" r="1.4" fill="#fcfcfc" stroke="#444" stroke-width="0.65"/>
<circle cx="765.2" cy="393.3" r="1.4" fill="#fcfcfc" stroke="#444" stroke-width="0.65"/>
<circle cx="771.1" cy="374.4" r="1.4" fill="#fcfcfc" stroke="#444" stroke-width="0.65"/>
<circle cx="775.2" cy="391.9" r="1.4" fill="#fcfcfc" stroke="#444" stroke-width="0.65"/>
<circle cx="768.5" cy="382" r="1.4" fill="#fcfcfc" stroke="#444" stroke-width="0.65"/>
<circle cx="773.8" cy="380" r="1.4" fill="#fcfcfc" stroke="#444" stroke-width="0.65"/>
<circle cx="762.2" cy="387" r="1.4" fill="#fcfcfc" stroke="#444" stroke-width="0.65"/>
<path d="M762,423Q754.2,421.5 752,430Q760.8,430.8 762,423Z" fill="#9a9a9a" stroke="#2a2a2a" stroke-width="0.8"/>
<line x1="762" y1="423" x2="752" y2="430" stroke="#444" stroke-width="0.5"/>
<path d="M762,422Q759.1,415.5 752,419Q755.9,425.8 762,422Z" fill="#9a9a9a" stroke="#2a2a2a" stroke-width="0.8"/>
<line x1="762" y1="422" x2="752" y2="419" stroke="#444" stroke-width="0.5"/>
<path d="M763,423Q763.6,430.6 772,430Q770.5,421.7 763,423Z" fill="#9a9a9a" stroke="#2a2a2a" stroke-width="0.8"/>
<line x1="763" y1="423" x2="772" y2="430" stroke="#444" stroke-width="0.5"/>
<path d="M763,423Q769.2,426.1 772,419Q764.9,416.3 763,423Z" fill="#9a9a9a" stroke="#2a2a2a" stroke-width="0.8"/>
<line x1="763" y1="423" x2="772" y2="419" stroke="#444" stroke-width="0.5"/>
<path d="M761,421Q764.3,414.8 758,410Q755,417.3 761,421Z" fill="#9a9a9a" stroke="#2a2a2a" stroke-width="0.8"/>
<line x1="761" y1="421" x2="758" y2="410" stroke="#444" stroke-width="0.5"/>
<path d="M764,418Q769.9,414.5 768,407Q761.7,411.6 764,418Z" fill="#9a9a9a" stroke="#2a2a2a" stroke-width="0.8"/>
<line x1="764" y1="418" x2="768" y2="407" stroke="#444" stroke-width="0.5"/>
<path d="M762,424Q757.9,428.6 763,433Q767,427.5 762,424Z" fill="#9a9a9a" stroke="#2a2a2a" stroke-width="0.8"/>
<line x1="762" y1="424" x2="763" y2="433" stroke="#444" stroke-width="0.5"/>
<line x1="891" y1="426" x2="884" y2="384" stroke="#444" stroke-width="0.9"/>
<line x1="891" y1="426" x2="900" y2="398" stroke="#444" stroke-width="0.9"/>
<line x1="891" y1="426" x2="907" y2="412" stroke="#444" stroke-width="0.9"/>
<line x1="891" y1="426" x2="881" y2="412" stroke="#444" stroke-width="0.9"/>
<circle cx="907" cy="411.5" r="8" fill="#d8d8d8"/>
<circle cx="905" cy="413.5" r="1.4" fill="#fcfcfc" stroke="#444" stroke-width="0.65"/>
<circle cx="908.4" cy="410.6" r="1.4" fill="#fcfcfc" stroke="#444" stroke-width="0.65"/>
<circle cx="909.7" cy="406.5" r="1.4" fill="#fcfcfc" stroke="#444" stroke-width="0.65"/>
<circle cx="904.3" cy="409.8" r="1.4" fill="#fcfcfc" stroke="#444" stroke-width="0.65"/>
<circle cx="902.3" cy="415.7" r="1.4" fill="#fcfcfc" stroke="#444" stroke-width="0.65"/>
<circle cx="912.2" cy="413.3" r="1.4" fill="#fcfcfc" stroke="#444" stroke-width="0.65"/>
<circle cx="908.3" cy="416.4" r="1.4" fill="#fcfcfc" stroke="#444" stroke-width="0.65"/>
<circle cx="901.3" cy="410" r="1.4" fill="#fcfcfc" stroke="#444" stroke-width="0.65"/>
<circle cx="906" cy="404.5" r="1.4" fill="#fcfcfc" stroke="#444" stroke-width="0.65"/>
<circle cx="914.3" cy="409.6" r="1.4" fill="#fcfcfc" stroke="#444" stroke-width="0.65"/>
<circle cx="905.3" cy="417.8" r="1.4" fill="#fcfcfc" stroke="#444" stroke-width="0.65"/>
<circle cx="911.3" cy="417.6" r="1.4" fill="#fcfcfc" stroke="#444" stroke-width="0.65"/>
<circle cx="907.1" cy="407.9" r="1.4" fill="#fcfcfc" stroke="#444" stroke-width="0.65"/>
<circle cx="902.7" cy="405.6" r="1.4" fill="#fcfcfc" stroke="#444" stroke-width="0.65"/>
<circle cx="899.8" cy="413.4" r="1.4" fill="#fcfcfc" stroke="#444" stroke-width="0.65"/>
<circle cx="911.4" cy="410.4" r="1.4" fill="#fcfcfc" stroke="#444" stroke-width="0.65"/>
<circle cx="912.5" cy="407.3" r="1.4" fill="#fcfcfc" stroke="#444" stroke-width="0.65"/>
<circle cx="909" cy="413.5" r="1.4" fill="#fcfcfc" stroke="#444" stroke-width="0.65"/>
<circle cx="900.5" cy="398" r="9" fill="#d8d8d8"/>
<circle cx="900.1" cy="392.3" r="1.4" fill="#fcfcfc" stroke="#444" stroke-width="0.65"/>
<circle cx="905.3" cy="404.4" r="1.4" fill="#fcfcfc" stroke="#444" stroke-width="0.65"/>
<circle cx="907" cy="392.6" r="1.4" fill="#fcfcfc" stroke="#444" stroke-width="0.65"/>
<circle cx="908.8" cy="398.4" r="1.4" fill="#fcfcfc" stroke="#444" stroke-width="0.65"/>
<circle cx="902.2" cy="394.5" r="1.4" fill="#fcfcfc" stroke="#444" stroke-width="0.65"/>
<circle cx="900" cy="397.2" r="1.4" fill="#fcfcfc" stroke="#444" stroke-width="0.65"/>
<circle cx="893.7" cy="396.2" r="1.4" fill="#fcfcfc" stroke="#444" stroke-width="0.65"/>
<circle cx="898.6" cy="404.2" r="1.4" fill="#fcfcfc" stroke="#444" stroke-width="0.65"/>
<circle cx="901.1" cy="406.1" r="1.4" fill="#fcfcfc" stroke="#444" stroke-width="0.65"/>
<circle cx="896.7" cy="401.6" r="1.4" fill="#fcfcfc" stroke="#444" stroke-width="0.65"/>
<circle cx="897.2" cy="395.4" r="1.4" fill="#fcfcfc" stroke="#444" stroke-width="0.65"/>
<circle cx="893" cy="400.4" r="1.4" fill="#fcfcfc" stroke="#444" stroke-width="0.65"/>
<circle cx="901.6" cy="401.8" r="1.4" fill="#fcfcfc" stroke="#444" stroke-width="0.65"/>
<circle cx="905.6" cy="395.9" r="1.4" fill="#fcfcfc" stroke="#444" stroke-width="0.65"/>
<circle cx="903.3" cy="391.5" r="1.4" fill="#fcfcfc" stroke="#444" stroke-width="0.65"/>
<circle cx="904.6" cy="400.5" r="1.4" fill="#fcfcfc" stroke="#444" stroke-width="0.65"/>
<circle cx="895.7" cy="391" r="1.4" fill="#fcfcfc" stroke="#444" stroke-width="0.65"/>
<circle cx="893.8" cy="393.2" r="1.4" fill="#fcfcfc" stroke="#444" stroke-width="0.65"/>
<circle cx="908.2" cy="401.5" r="1.4" fill="#fcfcfc" stroke="#444" stroke-width="0.65"/>
<circle cx="894.8" cy="403.9" r="1.4" fill="#fcfcfc" stroke="#444" stroke-width="0.65"/>
<circle cx="897" cy="398.4" r="1.4" fill="#fcfcfc" stroke="#444" stroke-width="0.65"/>
<circle cx="898.7" cy="389.6" r="1.4" fill="#fcfcfc" stroke="#444" stroke-width="0.65"/>
<circle cx="908.7" cy="395.4" r="1.4" fill="#fcfcfc" stroke="#444" stroke-width="0.65"/>
<circle cx="881" cy="411" r="8" fill="#d8d8d8"/>
<circle cx="885.4" cy="410.4" r="1.4" fill="#fcfcfc" stroke="#444" stroke-width="0.65"/>
<circle cx="879.5" cy="412.4" r="1.4" fill="#fcfcfc" stroke="#444" stroke-width="0.65"/>
<circle cx="875.9" cy="406.5" r="1.4" fill="#fcfcfc" stroke="#444" stroke-width="0.65"/>
<circle cx="883.5" cy="415" r="1.4" fill="#fcfcfc" stroke="#444" stroke-width="0.65"/>
<circle cx="882.9" cy="408.4" r="1.4" fill="#fcfcfc" stroke="#444" stroke-width="0.65"/>
<circle cx="878.5" cy="404.2" r="1.4" fill="#fcfcfc" stroke="#444" stroke-width="0.65"/>
<circle cx="875.2" cy="412.9" r="1.4" fill="#fcfcfc" stroke="#444" stroke-width="0.65"/>
<circle cx="877.3" cy="416.5" r="1.4" fill="#fcfcfc" stroke="#444" stroke-width="0.65"/>
<circle cx="888.4" cy="409.4" r="1.4" fill="#fcfcfc" stroke="#444" stroke-width="0.65"/>
<circle cx="880.3" cy="417.1" r="1.4" fill="#fcfcfc" stroke="#444" stroke-width="0.65"/>
<circle cx="881.4" cy="404.9" r="1.4" fill="#fcfcfc" stroke="#444" stroke-width="0.65"/>
<circle cx="887.6" cy="414.7" r="1.4" fill="#fcfcfc" stroke="#444" stroke-width="0.65"/>
<circle cx="883.8" cy="418" r="1.4" fill="#fcfcfc" stroke="#444" stroke-width="0.65"/>
<circle cx="879.3" cy="407" r="1.4" fill="#fcfcfc" stroke="#444" stroke-width="0.65"/>
<circle cx="875.6" cy="409.6" r="1.4" fill="#fcfcfc" stroke="#444" stroke-width="0.65"/>
<circle cx="885.2" cy="406.4" r="1.4" fill="#fcfcfc" stroke="#444" stroke-width="0.65"/>
<circle cx="882.4" cy="411.7" r="1.4" fill="#fcfcfc" stroke="#444" stroke-width="0.65"/>
<circle cx="884" cy="384" r="10.5" fill="#d8d8d8"/>
<circle cx="887.9" cy="387.9" r="1.4" fill="#fcfcfc" stroke="#444" stroke-width="0.65"/>
<circle cx="891.8" cy="380.1" r="1.4" fill="#fcfcfc" stroke="#444" stroke-width="0.65"/>
<circle cx="885.3" cy="380.8" r="1.4" fill="#fcfcfc" stroke="#444" stroke-width="0.65"/>
<circle cx="879" cy="392.2" r="1.4" fill="#fcfcfc" stroke="#444" stroke-width="0.65"/>
<circle cx="882.3" cy="379.1" r="1.4" fill="#fcfcfc" stroke="#444" stroke-width="0.65"/>
<circle cx="878" cy="387.9" r="1.4" fill="#fcfcfc" stroke="#444" stroke-width="0.65"/>
<circle cx="885" cy="389.8" r="1.4" fill="#fcfcfc" stroke="#444" stroke-width="0.65"/>
<circle cx="874.9" cy="386.5" r="1.4" fill="#fcfcfc" stroke="#444" stroke-width="0.65"/>
<circle cx="883.9" cy="392.5" r="1.4" fill="#fcfcfc" stroke="#444" stroke-width="0.65"/>
<circle cx="886.9" cy="392.2" r="1.4" fill="#fcfcfc" stroke="#444" stroke-width="0.65"/>
<circle cx="876.5" cy="377.6" r="1.4" fill="#fcfcfc" stroke="#444" stroke-width="0.65"/>
<circle cx="883" cy="383.8" r="1.4" fill="#fcfcfc" stroke="#444" stroke-width="0.65"/>
<circle cx="882.2" cy="388.8" r="1.4" fill="#fcfcfc" stroke="#444" stroke-width="0.65"/>
<circle cx="889.8" cy="390.8" r="1.4" fill="#fcfcfc" stroke="#444" stroke-width="0.65"/>
<circle cx="892.1" cy="383.9" r="1.4" fill="#fcfcfc" stroke="#444" stroke-width="0.65"/>
<circle cx="879.2" cy="384.8" r="1.4" fill="#fcfcfc" stroke="#444" stroke-width="0.65"/>
<circle cx="879.6" cy="381.5" r="1.4" fill="#fcfcfc" stroke="#444" stroke-width="0.65"/>
<circle cx="885.3" cy="376.3" r="1.4" fill="#fcfcfc" stroke="#444" stroke-width="0.65"/>
<circle cx="890" cy="376.2" r="1.4" fill="#fcfcfc" stroke="#444" stroke-width="0.65"/>
<circle cx="881.7" cy="375.3" r="1.4" fill="#fcfcfc" stroke="#444" stroke-width="0.65"/>
<circle cx="875.5" cy="380.6" r="1.4" fill="#fcfcfc" stroke="#444" stroke-width="0.65"/>
<circle cx="892.4" cy="387.5" r="1.4" fill="#fcfcfc" stroke="#444" stroke-width="0.65"/>
<circle cx="887" cy="385" r="1.4" fill="#fcfcfc" stroke="#444" stroke-width="0.65"/>
<circle cx="876.2" cy="390.2" r="1.4" fill="#fcfcfc" stroke="#444" stroke-width="0.65"/>
<circle cx="887.9" cy="378.6" r="1.4" fill="#fcfcfc" stroke="#444" stroke-width="0.65"/>
<circle cx="888.7" cy="382" r="1.4" fill="#fcfcfc" stroke="#444" stroke-width="0.65"/>
<circle cx="879.6" cy="378" r="1.4" fill="#fcfcfc" stroke="#444" stroke-width="0.65"/>
<circle cx="884.2" cy="386.5" r="1.4" fill="#fcfcfc" stroke="#444" stroke-width="0.65"/>
<circle cx="874" cy="383.4" r="1.4" fill="#fcfcfc" stroke="#444" stroke-width="0.65"/>
<path d="M891,423Q892.2,430.8 901,430Q898.8,421.5 891,423Z" fill="#9a9a9a" stroke="#2a2a2a" stroke-width="0.8"/>
<line x1="891" y1="423" x2="901" y2="430" stroke="#444" stroke-width="0.5"/>
<path d="M891,422Q897.1,425.8 901,419Q893.9,415.5 891,422Z" fill="#9a9a9a" stroke="#2a2a2a" stroke-width="0.8"/>
<line x1="891" y1="422" x2="901" y2="419" stroke="#444" stroke-width="0.5"/>
<path d="M890,423Q882.5,421.7 881,430Q889.4,430.6 890,423Z" fill="#9a9a9a" stroke="#2a2a2a" stroke-width="0.8"/>
<line x1="890" y1="423" x2="881" y2="430" stroke="#444" stroke-width="0.5"/>
<path d="M890,423Q888.1,416.3 881,419Q883.8,426.1 890,423Z" fill="#9a9a9a" stroke="#2a2a2a" stroke-width="0.8"/>
<line x1="890" y1="423" x2="881" y2="419" stroke="#444" stroke-width="0.5"/>
<path d="M892,421Q898,417.3 895,410Q888.7,414.8 892,421Z" fill="#9a9a9a" stroke="#2a2a2a" stroke-width="0.8"/>
<line x1="892" y1="421" x2="895" y2="410" stroke="#444" stroke-width="0.5"/>
<path d="M889,418Q891.3,411.6 885,407Q883.1,414.5 889,418Z" fill="#9a9a9a" stroke="#2a2a2a" stroke-width="0.8"/>
<line x1="889" y1="418" x2="885" y2="407" stroke="#444" stroke-width="0.5"/>
<path d="M891,424Q886,427.5 890,433Q895.1,428.6 891,424Z" fill="#9a9a9a" stroke="#2a2a2a" stroke-width="0.8"/>
<line x1="891" y1="424" x2="890" y2="433" stroke="#444" stroke-width="0.5"/>
<line x1="826" y1="639" x2="819" y2="597" stroke="#444" stroke-width="0.9"/>
<line x1="826" y1="639" x2="835" y2="611" stroke="#444" stroke-width="0.9"/>
<line x1="826" y1="639" x2="842" y2="625" stroke="#444" stroke-width="0.9"/>
<line x1="826" y1="639" x2="816" y2="625" stroke="#444" stroke-width="0.9"/>
<circle cx="842" cy="624.5" r="8" fill="#d8d8d8"/>
<circle cx="837.8" cy="622.9" r="1.4" fill="#fcfcfc" stroke="#444" stroke-width="0.65"/>
<circle cx="844.4" cy="622.4" r="1.4" fill="#fcfcfc" stroke="#444" stroke-width="0.65"/>
<circle cx="844.5" cy="627" r="1.4" fill="#fcfcfc" stroke="#444" stroke-width="0.65"/>
<circle cx="848.6" cy="623.9" r="1.4" fill="#fcfcfc" stroke="#444" stroke-width="0.65"/>
<circle cx="841.6" cy="631.2" r="1.4" fill="#fcfcfc" stroke="#444" stroke-width="0.65"/>
<circle cx="840.3" cy="617.4" r="1.4" fill="#fcfcfc" stroke="#444" stroke-width="0.65"/>
<circle cx="843.7" cy="618.6" r="1.4" fill="#fcfcfc" stroke="#444" stroke-width="0.65"/>
<circle cx="839.8" cy="628.4" r="1.4" fill="#fcfcfc" stroke="#444" stroke-width="0.65"/>
<circle cx="836.1" cy="626.7" r="1.4" fill="#fcfcfc" stroke="#444" stroke-width="0.65"/>
<circle cx="837.7" cy="630.7" r="1.4" fill="#fcfcfc" stroke="#444" stroke-width="0.65"/>
<circle cx="841.5" cy="624.1" r="1.4" fill="#fcfcfc" stroke="#444" stroke-width="0.65"/>
<circle cx="836.5" cy="620.2" r="1.4" fill="#fcfcfc" stroke="#444" stroke-width="0.65"/>
<circle cx="847.5" cy="627.9" r="1.4" fill="#fcfcfc" stroke="#444" stroke-width="0.65"/>
<circle cx="841.1" cy="621.1" r="1.4" fill="#fcfcfc" stroke="#444" stroke-width="0.65"/>
<circle cx="846.7" cy="619.9" r="1.4" fill="#fcfcfc" stroke="#444" stroke-width="0.65"/>
<circle cx="845.4" cy="630.8" r="1.4" fill="#fcfcfc" stroke="#444" stroke-width="0.65"/>
<circle cx="834.8" cy="624" r="1.4" fill="#fcfcfc" stroke="#444" stroke-width="0.65"/>
<circle cx="839" cy="625.6" r="1.4" fill="#fcfcfc" stroke="#444" stroke-width="0.65"/>
<circle cx="835.5" cy="611" r="9" fill="#d8d8d8"/>
<circle cx="833.8" cy="609.6" r="1.4" fill="#fcfcfc" stroke="#444" stroke-width="0.65"/>
<circle cx="831.5" cy="618.4" r="1.4" fill="#fcfcfc" stroke="#444" stroke-width="0.65"/>
<circle cx="831.1" cy="614.3" r="1.4" fill="#fcfcfc" stroke="#444" stroke-width="0.65"/>
<circle cx="839.6" cy="611.8" r="1.4" fill="#fcfcfc" stroke="#444" stroke-width="0.65"/>
<circle cx="841.3" cy="606.8" r="1.4" fill="#fcfcfc" stroke="#444" stroke-width="0.65"/>
<circle cx="834.9" cy="613.7" r="1.4" fill="#fcfcfc" stroke="#444" stroke-width="0.65"/>
<circle cx="831.3" cy="605.1" r="1.4" fill="#fcfcfc" stroke="#444" stroke-width="0.65"/>
<circle cx="828" cy="609.6" r="1.4" fill="#fcfcfc" stroke="#444" stroke-width="0.65"/>
<circle cx="835.4" cy="604.9" r="1.4" fill="#fcfcfc" stroke="#444" stroke-width="0.65"/>
<circle cx="836.6" cy="616.2" r="1.4" fill="#fcfcfc" stroke="#444" stroke-width="0.65"/>
<circle cx="837.5" cy="619.1" r="1.4" fill="#fcfcfc" stroke="#444" stroke-width="0.65"/>
<circle cx="841.8" cy="615.1" r="1.4" fill="#fcfcfc" stroke="#444" stroke-width="0.65"/>
<circle cx="842.7" cy="609.7" r="1.4" fill="#fcfcfc" stroke="#444" stroke-width="0.65"/>
<circle cx="838.2" cy="603.9" r="1.4" fill="#fcfcfc" stroke="#444" stroke-width="0.65"/>
<circle cx="831.1" cy="610.9" r="1.4" fill="#fcfcfc" stroke="#444" stroke-width="0.65"/>
<circle cx="837.2" cy="608.8" r="1.4" fill="#fcfcfc" stroke="#444" stroke-width="0.65"/>
<circle cx="827.4" cy="612.8" r="1.4" fill="#fcfcfc" stroke="#444" stroke-width="0.65"/>
<circle cx="834.5" cy="618.5" r="1.4" fill="#fcfcfc" stroke="#444" stroke-width="0.65"/>
<circle cx="828.6" cy="606.7" r="1.4" fill="#fcfcfc" stroke="#444" stroke-width="0.65"/>
<circle cx="843.8" cy="612.9" r="1.4" fill="#fcfcfc" stroke="#444" stroke-width="0.65"/>
<circle cx="828.6" cy="616" r="1.4" fill="#fcfcfc" stroke="#444" stroke-width="0.65"/>
<circle cx="840.3" cy="617.9" r="1.4" fill="#fcfcfc" stroke="#444" stroke-width="0.65"/>
<circle cx="816" cy="624" r="8" fill="#d8d8d8"/>
<circle cx="809.7" cy="623.9" r="1.4" fill="#fcfcfc" stroke="#444" stroke-width="0.65"/>
<circle cx="818.9" cy="629.5" r="1.4" fill="#fcfcfc" stroke="#444" stroke-width="0.65"/>
<circle cx="814.3" cy="627.8" r="1.4" fill="#fcfcfc" stroke="#444" stroke-width="0.65"/>
<circle cx="819.3" cy="617.5" r="1.4" fill="#fcfcfc" stroke="#444" stroke-width="0.65"/>
<circle cx="822.7" cy="623.6" r="1.4" fill="#fcfcfc" stroke="#444" stroke-width="0.65"/>
<circle cx="819.2" cy="622.5" r="1.4" fill="#fcfcfc" stroke="#444" stroke-width="0.65"/>
<circle cx="813.3" cy="624.1" r="1.4" fill="#fcfcfc" stroke="#444" stroke-width="0.65"/>
<circle cx="811.2" cy="621.1" r="1.4" fill="#fcfcfc" stroke="#444" stroke-width="0.65"/>
<circle cx="810.6" cy="628.8" r="1.4" fill="#fcfcfc" stroke="#444" stroke-width="0.65"/>
<circle cx="820.2" cy="626.7" r="1.4" fill="#fcfcfc" stroke="#444" stroke-width="0.65"/>
<circle cx="813.8" cy="618.9" r="1.4" fill="#fcfcfc" stroke="#444" stroke-width="0.65"/>
<circle cx="814.2" cy="630.7" r="1.4" fill="#fcfcfc" stroke="#444" stroke-width="0.65"/>
<circle cx="815.8" cy="621.5" r="1.4" fill="#fcfcfc" stroke="#444" stroke-width="0.65"/>
<circle cx="821.8" cy="620.8" r="1.4" fill="#fcfcfc" stroke="#444" stroke-width="0.65"/>
<circle cx="816.9" cy="624.8" r="1.4" fill="#fcfcfc" stroke="#444" stroke-width="0.65"/>
<circle cx="816.4" cy="617" r="1.4" fill="#fcfcfc" stroke="#444" stroke-width="0.65"/>
<circle cx="819" cy="597" r="10.5" fill="#d8d8d8"/>
<circle cx="828.2" cy="596.9" r="1.4" fill="#fcfcfc" stroke="#444" stroke-width="0.65"/>
<circle cx="820.6" cy="593.2" r="1.4" fill="#fcfcfc" stroke="#444" stroke-width="0.65"/>
<circle cx="819.4" cy="603.2" r="1.4" fill="#fcfcfc" stroke="#444" stroke-width="0.65"/>
<circle cx="812.9" cy="597.6" r="1.4" fill="#fcfcfc" stroke="#444" stroke-width="0.65"/>
<circle cx="814.2" cy="604.5" r="1.4" fill="#fcfcfc" stroke="#444" stroke-width="0.65"/>
<circle cx="822.1" cy="597" r="1.4" fill="#fcfcfc" stroke="#444" stroke-width="0.65"/>
<circle cx="823.1" cy="604.8" r="1.4" fill="#fcfcfc" stroke="#444" stroke-width="0.65"/>
<circle cx="824.9" cy="600.7" r="1.4" fill="#fcfcfc" stroke="#444" stroke-width="0.65"/>
<circle cx="815.7" cy="589.9" r="1.4" fill="#fcfcfc" stroke="#444" stroke-width="0.65"/>
<circle cx="815.1" cy="593.9" r="1.4" fill="#fcfcfc" stroke="#444" stroke-width="0.65"/>
<circle cx="824" cy="594" r="1.4" fill="#fcfcfc" stroke="#444" stroke-width="0.65"/>
<circle cx="812.8" cy="589.4" r="1.4" fill="#fcfcfc" stroke="#444" stroke-width="0.65"/>
<circle cx="816.8" cy="596.7" r="1.4" fill="#fcfcfc" stroke="#444" stroke-width="0.65"/>
<circle cx="811.5" cy="602" r="1.4" fill="#fcfcfc" stroke="#444" stroke-width="0.65"/>
<circle cx="822.8" cy="588.1" r="1.4" fill="#fcfcfc" stroke="#444" stroke-width="0.65"/>
<circle cx="827.1" cy="591" r="1.4" fill="#fcfcfc" stroke="#444" stroke-width="0.65"/>
<circle cx="810.6" cy="594.3" r="1.4" fill="#fcfcfc" stroke="#444" stroke-width="0.65"/>
<circle cx="826.6" cy="603.4" r="1.4" fill="#fcfcfc" stroke="#444" stroke-width="0.65"/>
<circle cx="816.1" cy="601.2" r="1.4" fill="#fcfcfc" stroke="#444" stroke-width="0.65"/>
<circle cx="809.7" cy="597.6" r="1.4" fill="#fcfcfc" stroke="#444" stroke-width="0.65"/>
<circle cx="819.8" cy="588.1" r="1.4" fill="#fcfcfc" stroke="#444" stroke-width="0.65"/>
<circle cx="816.5" cy="606.2" r="1.4" fill="#fcfcfc" stroke="#444" stroke-width="0.65"/>
<circle cx="818.7" cy="599.2" r="1.4" fill="#fcfcfc" stroke="#444" stroke-width="0.65"/>
<circle cx="820.6" cy="606.9" r="1.4" fill="#fcfcfc" stroke="#444" stroke-width="0.65"/>
<circle cx="821.5" cy="600.1" r="1.4" fill="#fcfcfc" stroke="#444" stroke-width="0.65"/>
<circle cx="823.5" cy="591" r="1.4" fill="#fcfcfc" stroke="#444" stroke-width="0.65"/>
<circle cx="827.8" cy="600.1" r="1.4" fill="#fcfcfc" stroke="#444" stroke-width="0.65"/>
<circle cx="826.9" cy="593.9" r="1.4" fill="#fcfcfc" stroke="#444" stroke-width="0.65"/>
<circle cx="818.6" cy="590.9" r="1.4" fill="#fcfcfc" stroke="#444" stroke-width="0.65"/>
<circle cx="824.9" cy="597.6" r="1.4" fill="#fcfcfc" stroke="#444" stroke-width="0.65"/>
<path d="M826,636Q827.2,643.8 836,643Q833.8,634.5 826,636Z" fill="#9a9a9a" stroke="#2a2a2a" stroke-width="0.8"/>
<line x1="826" y1="636" x2="836" y2="643" stroke="#444" stroke-width="0.5"/>
<path d="M826,635Q832.1,638.8 836,632Q828.9,628.5 826,635Z" fill="#9a9a9a" stroke="#2a2a2a" stroke-width="0.8"/>
<line x1="826" y1="635" x2="836" y2="632" stroke="#444" stroke-width="0.5"/>
<path d="M825,636Q817.5,634.7 816,643Q824.4,643.6 825,636Z" fill="#9a9a9a" stroke="#2a2a2a" stroke-width="0.8"/>
<line x1="825" y1="636" x2="816" y2="643" stroke="#444" stroke-width="0.5"/>
<path d="M825,636Q823.1,629.3 816,632Q818.8,639.1 825,636Z" fill="#9a9a9a" stroke="#2a2a2a" stroke-width="0.8"/>
<line x1="825" y1="636" x2="816" y2="632" stroke="#444" stroke-width="0.5"/>
<path d="M827,634Q833,630.3 830,623Q823.7,627.8 827,634Z" fill="#9a9a9a" stroke="#2a2a2a" stroke-width="0.8"/>
<line x1="827" y1="634" x2="830" y2="623" stroke="#444" stroke-width="0.5"/>
<path d="M824,631Q826.3,624.6 820,620Q818.1,627.5 824,631Z" fill="#9a9a9a" stroke="#2a2a2a" stroke-width="0.8"/>
<line x1="824" y1="631" x2="820" y2="620" stroke="#444" stroke-width="0.5"/>
<path d="M826,637Q821,640.5 825,646Q830.1,641.6 826,637Z" fill="#9a9a9a" stroke="#2a2a2a" stroke-width="0.8"/>
<line x1="826" y1="637" x2="825" y2="646" stroke="#444" stroke-width="0.5"/>
<path d="M824.3,416.2 L824.2,416.7 L824,417.1 L823.6,417.5 L823.1,417.9 L822.2,418.1 L820,418 L822.1,418.9 L822.7,419.5 L823.1,420.1 L823.2,420.6 L823.2,421.1 L823.1,421.5 L822.8,421.9 L822.4,422.2 L821.9,422.4 L821.3,422.5 L820.4,422.4 L818.4,421.3 L819.9,423 L820.2,423.8 L820.3,424.5 L820.2,425 L820,425.5 L819.7,425.8 L819.3,426 L818.8,426.2 L818.2,426.1 L817.6,425.9 L816.9,425.4 L815.6,423.6 L816.2,425.8 L816.1,426.6 L815.9,427.3 L815.5,427.7 L815.2,428 L814.7,428.2 L814.3,428.2 L813.8,428.1 L813.3,427.8 L812.8,427.4 L812.4,426.6 L812,424.4 L811.6,426.6 L811.2,427.4 L810.7,427.8 L810.2,428.1 L809.7,428.2 L809.3,428.2 L808.8,428 L808.5,427.7 L808.1,427.3 L807.9,426.6 L807.8,425.8 L808.4,423.6 L807.1,425.4 L806.4,425.9 L805.8,426.1 L805.2,426.2 L804.7,426 L804.3,425.8 L804,425.5 L803.8,425 L803.7,424.5 L803.8,423.8 L804.1,423 L805.6,421.3 L803.6,422.4 L802.7,422.5 L802.1,422.4 L801.6,422.2 L801.2,421.9 L800.9,421.5 L800.8,421.1 L800.8,420.6 L800.9,420.1 L801.3,419.5 L801.9,418.9 L804,418 L801.8,418.1 L800.9,417.9 L800.4,417.5 L800,417.1 L799.8,416.7 L799.7,416.2 L799.8,415.7 L800,415.3 L800.4,414.9 L800.9,414.5 L801.8,414.3 L804,414.4 L801.9,413.5 L801.3,412.9 L800.9,412.3 L800.8,411.8 L800.8,411.3 L800.9,410.9 L801.2,410.5 L801.6,410.2 L802.1,410 L802.7,409.9 L803.6,410 L805.6,411.1 L804.1,409.4 L803.8,408.6 L803.7,407.9 L803.8,407.4 L804,406.9 L804.3,406.6 L804.7,406.4 L805.2,406.2 L805.8,406.3 L806.4,406.5 L807.1,407 L808.4,408.8 L807.8,406.6 L807.9,405.8 L808.1,405.1 L808.5,404.7 L808.8,404.4 L809.3,404.2 L809.7,404.2 L810.2,404.3 L810.7,404.6 L811.2,405 L811.6,405.8 L812,408 L812.4,405.8 L812.8,405 L813.3,404.6 L813.8,404.3 L814.3,404.2 L814.7,404.2 L815.2,404.4 L815.5,404.7 L815.9,405.1 L816.1,405.8 L816.2,406.6 L815.6,408.8 L816.9,407 L817.6,406.5 L818.2,406.3 L818.8,406.2 L819.3,406.4 L819.7,406.6 L820,406.9 L820.2,407.4 L820.3,407.9 L820.2,408.6 L819.9,409.4 L818.4,411.1 L820.4,410 L821.3,409.9 L821.9,410 L822.4,410.2 L822.8,410.5 L823.1,410.9 L823.2,411.3 L823.2,411.8 L823.1,412.3 L822.7,412.9 L822.1,413.5 L820,414.4 L822.2,414.3 L823.1,414.5 L823.6,414.9 L824,415.3 L824.2,415.7Z" fill="#fff" stroke="#1e1e1e" stroke-width="0.85"/>
<line x1="816.5" y1="417.2" x2="820.2" y2="418.1" stroke="#333" stroke-width="0.6"/>
<line x1="815.6" y1="419.1" x2="818.6" y2="421.4" stroke="#333" stroke-width="0.6"/>
<line x1="814" y1="420.3" x2="815.6" y2="423.8" stroke="#333" stroke-width="0.6"/>
<line x1="812" y1="420.8" x2="812" y2="424.6" stroke="#333" stroke-width="0.6"/>
<line x1="810" y1="420.3" x2="808.4" y2="423.8" stroke="#333" stroke-width="0.6"/>
<line x1="808.4" y1="419.1" x2="805.4" y2="421.4" stroke="#333" stroke-width="0.6"/>
<line x1="807.5" y1="417.2" x2="803.8" y2="418.1" stroke="#333" stroke-width="0.6"/>
<line x1="807.5" y1="415.2" x2="803.8" y2="414.3" stroke="#333" stroke-width="0.6"/>
<line x1="808.4" y1="413.3" x2="805.4" y2="411" stroke="#333" stroke-width="0.6"/>
<line x1="810" y1="412.1" x2="808.4" y2="408.6" stroke="#333" stroke-width="0.6"/>
<line x1="812" y1="411.6" x2="812" y2="407.8" stroke="#333" stroke-width="0.6"/>
<line x1="814" y1="412.1" x2="815.6" y2="408.6" stroke="#333" stroke-width="0.6"/>
<line x1="815.6" y1="413.3" x2="818.6" y2="411" stroke="#333" stroke-width="0.6"/>
<line x1="816.5" y1="415.2" x2="820.2" y2="414.3" stroke="#333" stroke-width="0.6"/>
<line x1="818" y1="416.5" x2="821.5" y2="416.6" stroke="#999" stroke-width="0.5"/>
<line x1="815.5" y1="421.1" x2="817.6" y2="423.9" stroke="#999" stroke-width="0.5"/>
<line x1="810.4" y1="422" x2="809.5" y2="425.4" stroke="#999" stroke-width="0.5"/>
<line x1="806.5" y1="418.6" x2="803.3" y2="419.9" stroke="#999" stroke-width="0.5"/>
<line x1="806.7" y1="413.4" x2="803.6" y2="411.7" stroke="#999" stroke-width="0.5"/>
<line x1="810.9" y1="410.3" x2="810.3" y2="406.9" stroke="#999" stroke-width="0.5"/>
<line x1="815.9" y1="411.7" x2="818.3" y2="409" stroke="#999" stroke-width="0.5"/>
<circle cx="812" cy="416.2" r="3.7" fill="#111"/>
<path d="M849.9,415.5 L849.8,416 L849.6,416.4 L849.2,416.8 L848.7,417.2 L847.8,417.4 L845.6,417.3 L847.7,418.2 L848.3,418.8 L848.7,419.4 L848.8,419.9 L848.8,420.4 L848.7,420.8 L848.4,421.2 L848,421.5 L847.5,421.7 L846.9,421.8 L846,421.7 L844,420.6 L845.5,422.3 L845.8,423.1 L845.9,423.8 L845.8,424.3 L845.6,424.8 L845.3,425.1 L844.9,425.3 L844.4,425.5 L843.8,425.4 L843.2,425.2 L842.5,424.7 L841.2,422.9 L841.8,425.1 L841.7,425.9 L841.5,426.6 L841.1,427 L840.8,427.3 L840.3,427.5 L839.9,427.5 L839.4,427.4 L838.9,427.1 L838.4,426.7 L838,425.9 L837.6,423.7 L837.2,425.9 L836.8,426.7 L836.3,427.1 L835.8,427.4 L835.3,427.5 L834.9,427.5 L834.4,427.3 L834.1,427 L833.7,426.6 L833.5,425.9 L833.4,425.1 L834,422.9 L832.7,424.7 L832,425.2 L831.4,425.4 L830.8,425.5 L830.3,425.3 L829.9,425.1 L829.6,424.8 L829.4,424.3 L829.3,423.8 L829.4,423.1 L829.7,422.3 L831.2,420.6 L829.2,421.7 L828.3,421.8 L827.7,421.7 L827.2,421.5 L826.8,421.2 L826.5,420.8 L826.4,420.4 L826.4,419.9 L826.5,419.4 L826.9,418.8 L827.5,418.2 L829.6,417.3 L827.4,417.4 L826.5,417.2 L826,416.8 L825.6,416.4 L825.4,416 L825.3,415.5 L825.4,415 L825.6,414.6 L826,414.2 L826.5,413.8 L827.4,413.6 L829.6,413.7 L827.5,412.8 L826.9,412.2 L826.5,411.6 L826.4,411.1 L826.4,410.6 L826.5,410.2 L826.8,409.8 L827.2,409.5 L827.7,409.3 L828.3,409.2 L829.2,409.3 L831.2,410.4 L829.7,408.7 L829.4,407.9 L829.3,407.2 L829.4,406.7 L829.6,406.2 L829.9,405.9 L830.3,405.7 L830.8,405.5 L831.4,405.6 L832,405.8 L832.7,406.3 L834,408.1 L833.4,405.9 L833.5,405.1 L833.7,404.4 L834.1,404 L834.4,403.7 L834.9,403.5 L835.3,403.5 L835.8,403.6 L836.3,403.9 L836.8,404.3 L837.2,405.1 L837.6,407.3 L838,405.1 L838.4,404.3 L838.9,403.9 L839.4,403.6 L839.9,403.5 L840.3,403.5 L840.8,403.7 L841.1,404 L841.5,404.4 L841.7,405.1 L841.8,405.9 L841.2,408.1 L842.5,406.3 L843.2,405.8 L843.8,405.6 L844.4,405.5 L844.9,405.7 L845.3,405.9 L845.6,406.2 L845.8,406.7 L845.9,407.2 L845.8,407.9 L845.5,408.7 L844,410.4 L846,409.3 L846.9,409.2 L847.5,409.3 L848,409.5 L848.4,409.8 L848.7,410.2 L848.8,410.6 L848.8,411.1 L848.7,411.6 L848.3,412.2 L847.7,412.8 L845.6,413.7 L847.8,413.6 L848.7,413.8 L849.2,414.2 L849.6,414.6 L849.8,415Z" fill="#fff" stroke="#1e1e1e" stroke-width="0.85"/>
<line x1="842.1" y1="416.5" x2="845.8" y2="417.4" stroke="#333" stroke-width="0.6"/>
<line x1="841.2" y1="418.4" x2="844.2" y2="420.7" stroke="#333" stroke-width="0.6"/>
<line x1="839.6" y1="419.6" x2="841.2" y2="423.1" stroke="#333" stroke-width="0.6"/>
<line x1="837.6" y1="420.1" x2="837.6" y2="423.9" stroke="#333" stroke-width="0.6"/>
<line x1="835.6" y1="419.6" x2="834" y2="423.1" stroke="#333" stroke-width="0.6"/>
<line x1="834" y1="418.4" x2="831" y2="420.7" stroke="#333" stroke-width="0.6"/>
<line x1="833.1" y1="416.5" x2="829.4" y2="417.4" stroke="#333" stroke-width="0.6"/>
<line x1="833.1" y1="414.5" x2="829.4" y2="413.6" stroke="#333" stroke-width="0.6"/>
<line x1="834" y1="412.6" x2="831" y2="410.3" stroke="#333" stroke-width="0.6"/>
<line x1="835.6" y1="411.4" x2="834" y2="407.9" stroke="#333" stroke-width="0.6"/>
<line x1="837.6" y1="410.9" x2="837.6" y2="407.1" stroke="#333" stroke-width="0.6"/>
<line x1="839.6" y1="411.4" x2="841.2" y2="407.9" stroke="#333" stroke-width="0.6"/>
<line x1="841.2" y1="412.6" x2="844.2" y2="410.3" stroke="#333" stroke-width="0.6"/>
<line x1="842.1" y1="414.5" x2="845.8" y2="413.6" stroke="#333" stroke-width="0.6"/>
<line x1="843.6" y1="415.8" x2="847.1" y2="415.9" stroke="#999" stroke-width="0.5"/>
<line x1="841.1" y1="420.4" x2="843.2" y2="423.2" stroke="#999" stroke-width="0.5"/>
<line x1="836" y1="421.3" x2="835.1" y2="424.7" stroke="#999" stroke-width="0.5"/>
<line x1="832.1" y1="417.9" x2="828.9" y2="419.2" stroke="#999" stroke-width="0.5"/>
<line x1="832.3" y1="412.7" x2="829.2" y2="411" stroke="#999" stroke-width="0.5"/>
<line x1="836.5" y1="409.6" x2="835.9" y2="406.2" stroke="#999" stroke-width="0.5"/>
<line x1="841.5" y1="411" x2="843.9" y2="408.3" stroke="#999" stroke-width="0.5"/>
<circle cx="837.6" cy="415.5" r="3.7" fill="#111"/>
<path d="M837.6,439.7 L837.5,440.2 L837.3,440.6 L836.9,441 L836.4,441.4 L835.5,441.6 L833.3,441.5 L835.4,442.4 L836,443 L836.4,443.6 L836.5,444.1 L836.5,444.6 L836.4,445 L836.1,445.4 L835.7,445.7 L835.2,445.9 L834.6,446 L833.7,445.9 L831.7,444.8 L833.2,446.5 L833.5,447.3 L833.6,448 L833.5,448.5 L833.3,449 L833,449.3 L832.6,449.5 L832.1,449.7 L831.5,449.6 L830.9,449.4 L830.2,448.9 L828.9,447.1 L829.5,449.3 L829.4,450.1 L829.2,450.8 L828.8,451.2 L828.5,451.5 L828,451.7 L827.6,451.7 L827.1,451.6 L826.6,451.3 L826.1,450.9 L825.7,450.1 L825.3,447.9 L824.9,450.1 L824.5,450.9 L824,451.3 L823.5,451.6 L823,451.7 L822.6,451.7 L822.1,451.5 L821.8,451.2 L821.4,450.8 L821.2,450.1 L821.1,449.3 L821.7,447.1 L820.4,448.9 L819.7,449.4 L819.1,449.6 L818.5,449.7 L818,449.5 L817.6,449.3 L817.3,449 L817.1,448.5 L817,448 L817.1,447.3 L817.4,446.5 L818.9,444.8 L816.9,445.9 L816,446 L815.4,445.9 L814.9,445.7 L814.5,445.4 L814.2,445 L814.1,444.6 L814.1,444.1 L814.2,443.6 L814.6,443 L815.2,442.4 L817.3,441.5 L815.1,441.6 L814.2,441.4 L813.7,441 L813.3,440.6 L813.1,440.2 L813,439.7 L813.1,439.2 L813.3,438.8 L813.7,438.4 L814.2,438 L815.1,437.8 L817.3,437.9 L815.2,437 L814.6,436.4 L814.2,435.8 L814.1,435.3 L814.1,434.8 L814.2,434.4 L814.5,434 L814.9,433.7 L815.4,433.5 L816,433.4 L816.9,433.5 L818.9,434.6 L817.4,432.9 L817.1,432.1 L817,431.4 L817.1,430.9 L817.3,430.4 L817.6,430.1 L818,429.9 L818.5,429.7 L819.1,429.8 L819.7,430 L820.4,430.5 L821.7,432.3 L821.1,430.1 L821.2,429.3 L821.4,428.6 L821.8,428.2 L822.1,427.9 L822.6,427.7 L823,427.7 L823.5,427.8 L824,428.1 L824.5,428.5 L824.9,429.3 L825.3,431.5 L825.7,429.3 L826.1,428.5 L826.6,428.1 L827.1,427.8 L827.6,427.7 L828,427.7 L828.5,427.9 L828.8,428.2 L829.2,428.6 L829.4,429.3 L829.5,430.1 L828.9,432.3 L830.2,430.5 L830.9,430 L831.5,429.8 L832.1,429.7 L832.6,429.9 L833,430.1 L833.3,430.4 L833.5,430.9 L833.6,431.4 L833.5,432.1 L833.2,432.9 L831.7,434.6 L833.7,433.5 L834.6,433.4 L835.2,433.5 L835.7,433.7 L836.1,434 L836.4,434.4 L836.5,434.8 L836.5,435.3 L836.4,435.8 L836,436.4 L835.4,437 L833.3,437.9 L835.5,437.8 L836.4,438 L836.9,438.4 L837.3,438.8 L837.5,439.2Z" fill="#fff" stroke="#1e1e1e" stroke-width="0.85"/>
<line x1="829.8" y1="440.7" x2="833.5" y2="441.6" stroke="#333" stroke-width="0.6"/>
<line x1="828.9" y1="442.6" x2="831.9" y2="444.9" stroke="#333" stroke-width="0.6"/>
<line x1="827.3" y1="443.8" x2="828.9" y2="447.3" stroke="#333" stroke-width="0.6"/>
<line x1="825.3" y1="444.3" x2="825.3" y2="448.1" stroke="#333" stroke-width="0.6"/>
<line x1="823.3" y1="443.8" x2="821.7" y2="447.3" stroke="#333" stroke-width="0.6"/>
<line x1="821.7" y1="442.6" x2="818.7" y2="444.9" stroke="#333" stroke-width="0.6"/>
<line x1="820.8" y1="440.7" x2="817.1" y2="441.6" stroke="#333" stroke-width="0.6"/>
<line x1="820.8" y1="438.7" x2="817.1" y2="437.8" stroke="#333" stroke-width="0.6"/>
<line x1="821.7" y1="436.8" x2="818.7" y2="434.5" stroke="#333" stroke-width="0.6"/>
<line x1="823.3" y1="435.6" x2="821.7" y2="432.1" stroke="#333" stroke-width="0.6"/>
<line x1="825.3" y1="435.1" x2="825.3" y2="431.3" stroke="#333" stroke-width="0.6"/>
<line x1="827.3" y1="435.6" x2="828.9" y2="432.1" stroke="#333" stroke-width="0.6"/>
<line x1="828.9" y1="436.8" x2="831.9" y2="434.5" stroke="#333" stroke-width="0.6"/>
<line x1="829.8" y1="438.7" x2="833.5" y2="437.8" stroke="#333" stroke-width="0.6"/>
<line x1="831.3" y1="440" x2="834.8" y2="440.1" stroke="#999" stroke-width="0.5"/>
<line x1="828.8" y1="444.6" x2="830.9" y2="447.4" stroke="#999" stroke-width="0.5"/>
<line x1="823.7" y1="445.5" x2="822.8" y2="448.9" stroke="#999" stroke-width="0.5"/>
<line x1="819.8" y1="442.1" x2="816.6" y2="443.4" stroke="#999" stroke-width="0.5"/>
<line x1="820" y1="436.9" x2="816.9" y2="435.2" stroke="#999" stroke-width="0.5"/>
<line x1="824.2" y1="433.8" x2="823.6" y2="430.4" stroke="#999" stroke-width="0.5"/>
<line x1="829.2" y1="435.2" x2="831.6" y2="432.5" stroke="#999" stroke-width="0.5"/>
<circle cx="825.3" cy="439.7" r="3.7" fill="#111"/>
<path d="M777.3,570 L777.2,570.5 L777,570.9 L776.6,571.3 L776.1,571.7 L775.2,571.9 L773,571.8 L775.1,572.7 L775.7,573.3 L776.1,573.9 L776.2,574.4 L776.2,574.9 L776.1,575.3 L775.8,575.7 L775.4,576 L774.9,576.2 L774.3,576.3 L773.4,576.2 L771.4,575.1 L772.9,576.8 L773.2,577.6 L773.3,578.3 L773.2,578.8 L773,579.3 L772.7,579.6 L772.3,579.8 L771.8,580 L771.2,579.9 L770.6,579.7 L769.9,579.2 L768.6,577.4 L769.2,579.6 L769.1,580.4 L768.9,581.1 L768.5,581.5 L768.2,581.8 L767.7,582 L767.3,582 L766.8,581.9 L766.3,581.6 L765.8,581.2 L765.4,580.4 L765,578.2 L764.6,580.4 L764.2,581.2 L763.7,581.6 L763.2,581.9 L762.7,582 L762.3,582 L761.8,581.8 L761.5,581.5 L761.1,581.1 L760.9,580.4 L760.8,579.6 L761.4,577.4 L760.1,579.2 L759.4,579.7 L758.8,579.9 L758.2,580 L757.7,579.8 L757.3,579.6 L757,579.3 L756.8,578.8 L756.7,578.3 L756.8,577.6 L757.1,576.8 L758.6,575.1 L756.6,576.2 L755.7,576.3 L755.1,576.2 L754.6,576 L754.2,575.7 L753.9,575.3 L753.8,574.9 L753.8,574.4 L753.9,573.9 L754.3,573.3 L754.9,572.7 L757,571.8 L754.8,571.9 L753.9,571.7 L753.4,571.3 L753,570.9 L752.8,570.5 L752.7,570 L752.8,569.5 L753,569.1 L753.4,568.7 L753.9,568.3 L754.8,568.1 L757,568.2 L754.9,567.3 L754.3,566.7 L753.9,566.1 L753.8,565.6 L753.8,565.1 L753.9,564.7 L754.2,564.3 L754.6,564 L755.1,563.8 L755.7,563.7 L756.6,563.8 L758.6,564.9 L757.1,563.2 L756.8,562.4 L756.7,561.7 L756.8,561.2 L757,560.7 L757.3,560.4 L757.7,560.2 L758.2,560 L758.8,560.1 L759.4,560.3 L760.1,560.8 L761.4,562.6 L760.8,560.4 L760.9,559.6 L761.1,558.9 L761.5,558.5 L761.8,558.2 L762.3,558 L762.7,558 L763.2,558.1 L763.7,558.4 L764.2,558.8 L764.6,559.6 L765,561.8 L765.4,559.6 L765.8,558.8 L766.3,558.4 L766.8,558.1 L767.3,558 L767.7,558 L768.2,558.2 L768.5,558.5 L768.9,558.9 L769.1,559.6 L769.2,560.4 L768.6,562.6 L769.9,560.8 L770.6,560.3 L771.2,560.1 L771.8,560 L772.3,560.2 L772.7,560.4 L773,560.7 L773.2,561.2 L773.3,561.7 L773.2,562.4 L772.9,563.2 L771.4,564.9 L773.4,563.8 L774.3,563.7 L774.9,563.8 L775.4,564 L775.8,564.3 L776.1,564.7 L776.2,565.1 L776.2,565.6 L776.1,566.1 L775.7,566.7 L775.1,567.3 L773,568.2 L775.2,568.1 L776.1,568.3 L776.6,568.7 L777,569.1 L777.2,569.5Z" fill="#fff" stroke="#1e1e1e" stroke-width="0.85"/>
<line x1="769.5" y1="571" x2="773.2" y2="571.9" stroke="#333" stroke-width="0.6"/>
<line x1="768.6" y1="572.9" x2="771.6" y2="575.2" stroke="#333" stroke-width="0.6"/>
<line x1="767" y1="574.1" x2="768.6" y2="577.6" stroke="#333" stroke-width="0.6"/>
<line x1="765" y1="574.6" x2="765" y2="578.4" stroke="#333" stroke-width="0.6"/>
<line x1="763" y1="574.1" x2="761.4" y2="577.6" stroke="#333" stroke-width="0.6"/>
<line x1="761.4" y1="572.9" x2="758.4" y2="575.2" stroke="#333" stroke-width="0.6"/>
<line x1="760.5" y1="571" x2="756.8" y2="571.9" stroke="#333" stroke-width="0.6"/>
<line x1="760.5" y1="569" x2="756.8" y2="568.1" stroke="#333" stroke-width="0.6"/>
<line x1="761.4" y1="567.1" x2="758.4" y2="564.8" stroke="#333" stroke-width="0.6"/>
<line x1="763" y1="565.9" x2="761.4" y2="562.4" stroke="#333" stroke-width="0.6"/>
<line x1="765" y1="565.4" x2="765" y2="561.6" stroke="#333" stroke-width="0.6"/>
<line x1="767" y1="565.9" x2="768.6" y2="562.4" stroke="#333" stroke-width="0.6"/>
<line x1="768.6" y1="567.1" x2="771.6" y2="564.8" stroke="#333" stroke-width="0.6"/>
<line x1="769.5" y1="569" x2="773.2" y2="568.1" stroke="#333" stroke-width="0.6"/>
<line x1="771" y1="570.3" x2="774.5" y2="570.4" stroke="#999" stroke-width="0.5"/>
<line x1="768.5" y1="574.9" x2="770.6" y2="577.7" stroke="#999" stroke-width="0.5"/>
<line x1="763.4" y1="575.8" x2="762.5" y2="579.2" stroke="#999" stroke-width="0.5"/>
<line x1="759.5" y1="572.4" x2="756.3" y2="573.7" stroke="#999" stroke-width="0.5"/>
<line x1="759.7" y1="567.2" x2="756.6" y2="565.5" stroke="#999" stroke-width="0.5"/>
<line x1="763.9" y1="564.1" x2="763.3" y2="560.7" stroke="#999" stroke-width="0.5"/>
<line x1="768.9" y1="565.5" x2="771.3" y2="562.8" stroke="#999" stroke-width="0.5"/>
<circle cx="765" cy="570" r="3.7" fill="#111"/>
<path d="M794.7,588 L794.6,588.5 L794.4,588.9 L794,589.3 L793.5,589.7 L792.6,589.9 L790.4,589.8 L792.5,590.7 L793.1,591.3 L793.5,591.9 L793.6,592.4 L793.6,592.9 L793.5,593.3 L793.2,593.7 L792.8,594 L792.3,594.2 L791.7,594.3 L790.8,594.2 L788.8,593.1 L790.3,594.8 L790.6,595.6 L790.7,596.3 L790.6,596.8 L790.4,597.3 L790.1,597.6 L789.7,597.8 L789.2,598 L788.6,597.9 L788,597.7 L787.3,597.2 L786,595.4 L786.6,597.6 L786.5,598.4 L786.3,599.1 L785.9,599.5 L785.6,599.8 L785.1,600 L784.7,600 L784.2,599.9 L783.7,599.6 L783.2,599.2 L782.8,598.4 L782.4,596.2 L782,598.4 L781.6,599.2 L781.1,599.6 L780.6,599.9 L780.1,600 L779.7,600 L779.2,599.8 L778.9,599.5 L778.5,599.1 L778.3,598.4 L778.2,597.6 L778.8,595.4 L777.5,597.2 L776.8,597.7 L776.2,597.9 L775.6,598 L775.1,597.8 L774.7,597.6 L774.4,597.3 L774.2,596.8 L774.1,596.3 L774.2,595.6 L774.5,594.8 L776,593.1 L774,594.2 L773.1,594.3 L772.5,594.2 L772,594 L771.6,593.7 L771.3,593.3 L771.2,592.9 L771.2,592.4 L771.3,591.9 L771.7,591.3 L772.3,590.7 L774.4,589.8 L772.2,589.9 L771.3,589.7 L770.8,589.3 L770.4,588.9 L770.2,588.5 L770.1,588 L770.2,587.5 L770.4,587.1 L770.8,586.7 L771.3,586.3 L772.2,586.1 L774.4,586.2 L772.3,585.3 L771.7,584.7 L771.3,584.1 L771.2,583.6 L771.2,583.1 L771.3,582.7 L771.6,582.3 L772,582 L772.5,581.8 L773.1,581.7 L774,581.8 L776,582.9 L774.5,581.2 L774.2,580.4 L774.1,579.7 L774.2,579.2 L774.4,578.7 L774.7,578.4 L775.1,578.2 L775.6,578 L776.2,578.1 L776.8,578.3 L777.5,578.8 L778.8,580.6 L778.2,578.4 L778.3,577.6 L778.5,576.9 L778.9,576.5 L779.2,576.2 L779.7,576 L780.1,576 L780.6,576.1 L781.1,576.4 L781.6,576.8 L782,577.6 L782.4,579.8 L782.8,577.6 L783.2,576.8 L783.7,576.4 L784.2,576.1 L784.7,576 L785.1,576 L785.6,576.2 L785.9,576.5 L786.3,576.9 L786.5,577.6 L786.6,578.4 L786,580.6 L787.3,578.8 L788,578.3 L788.6,578.1 L789.2,578 L789.7,578.2 L790.1,578.4 L790.4,578.7 L790.6,579.2 L790.7,579.7 L790.6,580.4 L790.3,581.2 L788.8,582.9 L790.8,581.8 L791.7,581.7 L792.3,581.8 L792.8,582 L793.2,582.3 L793.5,582.7 L793.6,583.1 L793.6,583.6 L793.5,584.1 L793.1,584.7 L792.5,585.3 L790.4,586.2 L792.6,586.1 L793.5,586.3 L794,586.7 L794.4,587.1 L794.6,587.5Z" fill="#fff" stroke="#1e1e1e" stroke-width="0.85"/>
<line x1="786.9" y1="589" x2="790.6" y2="589.9" stroke="#333" stroke-width="0.6"/>
<line x1="786" y1="590.9" x2="789" y2="593.2" stroke="#333" stroke-width="0.6"/>
<line x1="784.4" y1="592.1" x2="786" y2="595.6" stroke="#333" stroke-width="0.6"/>
<line x1="782.4" y1="592.6" x2="782.4" y2="596.4" stroke="#333" stroke-width="0.6"/>
<line x1="780.4" y1="592.1" x2="778.8" y2="595.6" stroke="#333" stroke-width="0.6"/>
<line x1="778.8" y1="590.9" x2="775.8" y2="593.2" stroke="#333" stroke-width="0.6"/>
<line x1="777.9" y1="589" x2="774.2" y2="589.9" stroke="#333" stroke-width="0.6"/>
<line x1="777.9" y1="587" x2="774.2" y2="586.1" stroke="#333" stroke-width="0.6"/>
<line x1="778.8" y1="585.1" x2="775.8" y2="582.8" stroke="#333" stroke-width="0.6"/>
<line x1="780.4" y1="583.9" x2="778.8" y2="580.4" stroke="#333" stroke-width="0.6"/>
<line x1="782.4" y1="583.4" x2="782.4" y2="579.6" stroke="#333" stroke-width="0.6"/>
<line x1="784.4" y1="583.9" x2="786" y2="580.4" stroke="#333" stroke-width="0.6"/>
<line x1="786" y1="585.1" x2="789" y2="582.8" stroke="#333" stroke-width="0.6"/>
<line x1="786.9" y1="587" x2="790.6" y2="586.1" stroke="#333" stroke-width="0.6"/>
<line x1="788.4" y1="588.3" x2="791.9" y2="588.4" stroke="#999" stroke-width="0.5"/>
<line x1="785.9" y1="592.9" x2="788" y2="595.7" stroke="#999" stroke-width="0.5"/>
<line x1="780.8" y1="593.8" x2="779.9" y2="597.2" stroke="#999" stroke-width="0.5"/>
<line x1="776.9" y1="590.4" x2="773.7" y2="591.7" stroke="#999" stroke-width="0.5"/>
<line x1="777.1" y1="585.2" x2="774" y2="583.5" stroke="#999" stroke-width="0.5"/>
<line x1="781.3" y1="582.1" x2="780.7" y2="578.7" stroke="#999" stroke-width="0.5"/>
<line x1="786.3" y1="583.5" x2="788.7" y2="580.8" stroke="#999" stroke-width="0.5"/>
<circle cx="782.4" cy="588" r="3.7" fill="#111"/>
<path d="M770.7,595 L770.6,595.5 L770.4,595.9 L770,596.3 L769.5,596.7 L768.6,596.9 L766.4,596.8 L768.5,597.7 L769.1,598.3 L769.5,598.9 L769.6,599.4 L769.6,599.9 L769.5,600.3 L769.2,600.7 L768.8,601 L768.3,601.2 L767.7,601.3 L766.8,601.2 L764.8,600.1 L766.3,601.8 L766.6,602.6 L766.7,603.3 L766.6,603.8 L766.4,604.3 L766.1,604.6 L765.7,604.8 L765.2,605 L764.6,604.9 L764,604.7 L763.3,604.2 L762,602.4 L762.6,604.6 L762.5,605.4 L762.3,606.1 L761.9,606.5 L761.6,606.8 L761.1,607 L760.7,607 L760.2,606.9 L759.7,606.6 L759.2,606.2 L758.8,605.4 L758.4,603.2 L758,605.4 L757.6,606.2 L757.1,606.6 L756.6,606.9 L756.1,607 L755.7,607 L755.2,606.8 L754.9,606.5 L754.5,606.1 L754.3,605.4 L754.2,604.6 L754.8,602.4 L753.5,604.2 L752.8,604.7 L752.2,604.9 L751.6,605 L751.1,604.8 L750.7,604.6 L750.4,604.3 L750.2,603.8 L750.1,603.3 L750.2,602.6 L750.5,601.8 L752,600.1 L750,601.2 L749.1,601.3 L748.5,601.2 L748,601 L747.6,600.7 L747.3,600.3 L747.2,599.9 L747.2,599.4 L747.3,598.9 L747.7,598.3 L748.3,597.7 L750.4,596.8 L748.2,596.9 L747.3,596.7 L746.8,596.3 L746.4,595.9 L746.2,595.5 L746.1,595 L746.2,594.5 L746.4,594.1 L746.8,593.7 L747.3,593.3 L748.2,593.1 L750.4,593.2 L748.3,592.3 L747.7,591.7 L747.3,591.1 L747.2,590.6 L747.2,590.1 L747.3,589.7 L747.6,589.3 L748,589 L748.5,588.8 L749.1,588.7 L750,588.8 L752,589.9 L750.5,588.2 L750.2,587.4 L750.1,586.7 L750.2,586.2 L750.4,585.7 L750.7,585.4 L751.1,585.2 L751.6,585 L752.2,585.1 L752.8,585.3 L753.5,585.8 L754.8,587.6 L754.2,585.4 L754.3,584.6 L754.5,583.9 L754.9,583.5 L755.2,583.2 L755.7,583 L756.1,583 L756.6,583.1 L757.1,583.4 L757.6,583.8 L758,584.6 L758.4,586.8 L758.8,584.6 L759.2,583.8 L759.7,583.4 L760.2,583.1 L760.7,583 L761.1,583 L761.6,583.2 L761.9,583.5 L762.3,583.9 L762.5,584.6 L762.6,585.4 L762,587.6 L763.3,585.8 L764,585.3 L764.6,585.1 L765.2,585 L765.7,585.2 L766.1,585.4 L766.4,585.7 L766.6,586.2 L766.7,586.7 L766.6,587.4 L766.3,588.2 L764.8,589.9 L766.8,588.8 L767.7,588.7 L768.3,588.8 L768.8,589 L769.2,589.3 L769.5,589.7 L769.6,590.1 L769.6,590.6 L769.5,591.1 L769.1,591.7 L768.5,592.3 L766.4,593.2 L768.6,593.1 L769.5,593.3 L770,593.7 L770.4,594.1 L770.6,594.5Z" fill="#fff" stroke="#1e1e1e" stroke-width="0.85"/>
<line x1="762.9" y1="596" x2="766.6" y2="596.9" stroke="#333" stroke-width="0.6"/>
<line x1="762" y1="597.9" x2="765" y2="600.2" stroke="#333" stroke-width="0.6"/>
<line x1="760.4" y1="599.1" x2="762" y2="602.6" stroke="#333" stroke-width="0.6"/>
<line x1="758.4" y1="599.6" x2="758.4" y2="603.4" stroke="#333" stroke-width="0.6"/>
<line x1="756.4" y1="599.1" x2="754.8" y2="602.6" stroke="#333" stroke-width="0.6"/>
<line x1="754.8" y1="597.9" x2="751.8" y2="600.2" stroke="#333" stroke-width="0.6"/>
<line x1="753.9" y1="596" x2="750.2" y2="596.9" stroke="#333" stroke-width="0.6"/>
<line x1="753.9" y1="594" x2="750.2" y2="593.1" stroke="#333" stroke-width="0.6"/>
<line x1="754.8" y1="592.1" x2="751.8" y2="589.8" stroke="#333" stroke-width="0.6"/>
<line x1="756.4" y1="590.9" x2="754.8" y2="587.4" stroke="#333" stroke-width="0.6"/>
<line x1="758.4" y1="590.4" x2="758.4" y2="586.6" stroke="#333" stroke-width="0.6"/>
<line x1="760.4" y1="590.9" x2="762" y2="587.4" stroke="#333" stroke-width="0.6"/>
<line x1="762" y1="592.1" x2="765" y2="589.8" stroke="#333" stroke-width="0.6"/>
<line x1="762.9" y1="594" x2="766.6" y2="593.1" stroke="#333" stroke-width="0.6"/>
<line x1="764.4" y1="595.3" x2="767.9" y2="595.4" stroke="#999" stroke-width="0.5"/>
<line x1="761.9" y1="599.9" x2="764" y2="602.7" stroke="#999" stroke-width="0.5"/>
<line x1="756.8" y1="600.8" x2="755.9" y2="604.2" stroke="#999" stroke-width="0.5"/>
<line x1="752.9" y1="597.4" x2="749.7" y2="598.7" stroke="#999" stroke-width="0.5"/>
<line x1="753.1" y1="592.2" x2="750" y2="590.5" stroke="#999" stroke-width="0.5"/>
<line x1="757.3" y1="589.1" x2="756.7" y2="585.7" stroke="#999" stroke-width="0.5"/>
<line x1="762.3" y1="590.5" x2="764.7" y2="587.8" stroke="#999" stroke-width="0.5"/>
<circle cx="758.4" cy="595" r="3.7" fill="#111"/>
<path d="M901.3,571 L901.2,571.5 L901,571.9 L900.6,572.3 L900.1,572.7 L899.2,572.9 L897,572.8 L899.1,573.7 L899.7,574.3 L900.1,574.9 L900.2,575.4 L900.2,575.9 L900.1,576.3 L899.8,576.7 L899.4,577 L898.9,577.2 L898.3,577.3 L897.4,577.2 L895.4,576.1 L896.9,577.8 L897.2,578.6 L897.3,579.3 L897.2,579.8 L897,580.3 L896.7,580.6 L896.3,580.8 L895.8,581 L895.2,580.9 L894.6,580.7 L893.9,580.2 L892.6,578.4 L893.2,580.6 L893.1,581.4 L892.9,582.1 L892.5,582.5 L892.2,582.8 L891.7,583 L891.3,583 L890.8,582.9 L890.3,582.6 L889.8,582.2 L889.4,581.4 L889,579.2 L888.6,581.4 L888.2,582.2 L887.7,582.6 L887.2,582.9 L886.7,583 L886.3,583 L885.8,582.8 L885.5,582.5 L885.1,582.1 L884.9,581.4 L884.8,580.6 L885.4,578.4 L884.1,580.2 L883.4,580.7 L882.8,580.9 L882.2,581 L881.7,580.8 L881.3,580.6 L881,580.3 L880.8,579.8 L880.7,579.3 L880.8,578.6 L881.1,577.8 L882.6,576.1 L880.6,577.2 L879.7,577.3 L879.1,577.2 L878.6,577 L878.2,576.7 L877.9,576.3 L877.8,575.9 L877.8,575.4 L877.9,574.9 L878.3,574.3 L878.9,573.7 L881,572.8 L878.8,572.9 L877.9,572.7 L877.4,572.3 L877,571.9 L876.8,571.5 L876.7,571 L876.8,570.5 L877,570.1 L877.4,569.7 L877.9,569.3 L878.8,569.1 L881,569.2 L878.9,568.3 L878.3,567.7 L877.9,567.1 L877.8,566.6 L877.8,566.1 L877.9,565.7 L878.2,565.3 L878.6,565 L879.1,564.8 L879.7,564.7 L880.6,564.8 L882.6,565.9 L881.1,564.2 L880.8,563.4 L880.7,562.7 L880.8,562.2 L881,561.7 L881.3,561.4 L881.7,561.2 L882.2,561 L882.8,561.1 L883.4,561.3 L884.1,561.8 L885.4,563.6 L884.8,561.4 L884.9,560.6 L885.1,559.9 L885.5,559.5 L885.8,559.2 L886.3,559 L886.7,559 L887.2,559.1 L887.7,559.4 L888.2,559.8 L888.6,560.6 L889,562.8 L889.4,560.6 L889.8,559.8 L890.3,559.4 L890.8,559.1 L891.3,559 L891.7,559 L892.2,559.2 L892.5,559.5 L892.9,559.9 L893.1,560.6 L893.2,561.4 L892.6,563.6 L893.9,561.8 L894.6,561.3 L895.2,561.1 L895.8,561 L896.3,561.2 L896.7,561.4 L897,561.7 L897.2,562.2 L897.3,562.7 L897.2,563.4 L896.9,564.2 L895.4,565.9 L897.4,564.8 L898.3,564.7 L898.9,564.8 L899.4,565 L899.8,565.3 L900.1,565.7 L900.2,566.1 L900.2,566.6 L900.1,567.1 L899.7,567.7 L899.1,568.3 L897,569.2 L899.2,569.1 L900.1,569.3 L900.6,569.7 L901,570.1 L901.2,570.5Z" fill="#fff" stroke="#1e1e1e" stroke-width="0.85"/>
<line x1="893.5" y1="572" x2="897.2" y2="572.9" stroke="#333" stroke-width="0.6"/>
<line x1="892.6" y1="573.9" x2="895.6" y2="576.2" stroke="#333" stroke-width="0.6"/>
<line x1="891" y1="575.1" x2="892.6" y2="578.6" stroke="#333" stroke-width="0.6"/>
<line x1="889" y1="575.6" x2="889" y2="579.4" stroke="#333" stroke-width="0.6"/>
<line x1="887" y1="575.1" x2="885.4" y2="578.6" stroke="#333" stroke-width="0.6"/>
<line x1="885.4" y1="573.9" x2="882.4" y2="576.2" stroke="#333" stroke-width="0.6"/>
<line x1="884.5" y1="572" x2="880.8" y2="572.9" stroke="#333" stroke-width="0.6"/>
<line x1="884.5" y1="570" x2="880.8" y2="569.1" stroke="#333" stroke-width="0.6"/>
<line x1="885.4" y1="568.1" x2="882.4" y2="565.8" stroke="#333" stroke-width="0.6"/>
<line x1="887" y1="566.9" x2="885.4" y2="563.4" stroke="#333" stroke-width="0.6"/>
<line x1="889" y1="566.4" x2="889" y2="562.6" stroke="#333" stroke-width="0.6"/>
<line x1="891" y1="566.9" x2="892.6" y2="563.4" stroke="#333" stroke-width="0.6"/>
<line x1="892.6" y1="568.1" x2="895.6" y2="565.8" stroke="#333" stroke-width="0.6"/>
<line x1="893.5" y1="570" x2="897.2" y2="569.1" stroke="#333" stroke-width="0.6"/>
<line x1="895" y1="571.3" x2="898.5" y2="571.4" stroke="#999" stroke-width="0.5"/>
<line x1="892.5" y1="575.9" x2="894.6" y2="578.7" stroke="#999" stroke-width="0.5"/>
<line x1="887.4" y1="576.8" x2="886.5" y2="580.2" stroke="#999" stroke-width="0.5"/>
<line x1="883.5" y1="573.4" x2="880.3" y2="574.7" stroke="#999" stroke-width="0.5"/>
<line x1="883.7" y1="568.2" x2="880.6" y2="566.5" stroke="#999" stroke-width="0.5"/>
<line x1="887.9" y1="565.1" x2="887.3" y2="561.7" stroke="#999" stroke-width="0.5"/>
<line x1="892.9" y1="566.5" x2="895.3" y2="563.8" stroke="#999" stroke-width="0.5"/>
<circle cx="889" cy="571" r="3.7" fill="#111"/>
<path d="M884.7,589 L884.6,589.5 L884.4,589.9 L884,590.3 L883.5,590.7 L882.6,590.9 L880.4,590.8 L882.5,591.7 L883.1,592.3 L883.5,592.9 L883.6,593.4 L883.6,593.9 L883.5,594.3 L883.2,594.7 L882.8,595 L882.3,595.2 L881.7,595.3 L880.8,595.2 L878.8,594.1 L880.3,595.8 L880.6,596.6 L880.7,597.3 L880.6,597.8 L880.4,598.3 L880.1,598.6 L879.7,598.8 L879.2,599 L878.6,598.9 L878,598.7 L877.3,598.2 L876,596.4 L876.6,598.6 L876.5,599.4 L876.3,600.1 L875.9,600.5 L875.6,600.8 L875.1,601 L874.7,601 L874.2,600.9 L873.7,600.6 L873.2,600.2 L872.8,599.4 L872.4,597.2 L872,599.4 L871.6,600.2 L871.1,600.6 L870.6,600.9 L870.1,601 L869.7,601 L869.2,600.8 L868.9,600.5 L868.5,600.1 L868.3,599.4 L868.2,598.6 L868.8,596.4 L867.5,598.2 L866.8,598.7 L866.2,598.9 L865.6,599 L865.1,598.8 L864.7,598.6 L864.4,598.3 L864.2,597.8 L864.1,597.3 L864.2,596.6 L864.5,595.8 L866,594.1 L864,595.2 L863.1,595.3 L862.5,595.2 L862,595 L861.6,594.7 L861.3,594.3 L861.2,593.9 L861.2,593.4 L861.3,592.9 L861.7,592.3 L862.3,591.7 L864.4,590.8 L862.2,590.9 L861.3,590.7 L860.8,590.3 L860.4,589.9 L860.2,589.5 L860.1,589 L860.2,588.5 L860.4,588.1 L860.8,587.7 L861.3,587.3 L862.2,587.1 L864.4,587.2 L862.3,586.3 L861.7,585.7 L861.3,585.1 L861.2,584.6 L861.2,584.1 L861.3,583.7 L861.6,583.3 L862,583 L862.5,582.8 L863.1,582.7 L864,582.8 L866,583.9 L864.5,582.2 L864.2,581.4 L864.1,580.7 L864.2,580.2 L864.4,579.7 L864.7,579.4 L865.1,579.2 L865.6,579 L866.2,579.1 L866.8,579.3 L867.5,579.8 L868.8,581.6 L868.2,579.4 L868.3,578.6 L868.5,577.9 L868.9,577.5 L869.2,577.2 L869.7,577 L870.1,577 L870.6,577.1 L871.1,577.4 L871.6,577.8 L872,578.6 L872.4,580.8 L872.8,578.6 L873.2,577.8 L873.7,577.4 L874.2,577.1 L874.7,577 L875.1,577 L875.6,577.2 L875.9,577.5 L876.3,577.9 L876.5,578.6 L876.6,579.4 L876,581.6 L877.3,579.8 L878,579.3 L878.6,579.1 L879.2,579 L879.7,579.2 L880.1,579.4 L880.4,579.7 L880.6,580.2 L880.7,580.7 L880.6,581.4 L880.3,582.2 L878.8,583.9 L880.8,582.8 L881.7,582.7 L882.3,582.8 L882.8,583 L883.2,583.3 L883.5,583.7 L883.6,584.1 L883.6,584.6 L883.5,585.1 L883.1,585.7 L882.5,586.3 L880.4,587.2 L882.6,587.1 L883.5,587.3 L884,587.7 L884.4,588.1 L884.6,588.5Z" fill="#fff" stroke="#1e1e1e" stroke-width="0.85"/>
<line x1="876.9" y1="590" x2="880.6" y2="590.9" stroke="#333" stroke-width="0.6"/>
<line x1="876" y1="591.9" x2="879" y2="594.2" stroke="#333" stroke-width="0.6"/>
<line x1="874.4" y1="593.1" x2="876" y2="596.6" stroke="#333" stroke-width="0.6"/>
<line x1="872.4" y1="593.6" x2="872.4" y2="597.4" stroke="#333" stroke-width="0.6"/>
<line x1="870.4" y1="593.1" x2="868.8" y2="596.6" stroke="#333" stroke-width="0.6"/>
<line x1="868.8" y1="591.9" x2="865.8" y2="594.2" stroke="#333" stroke-width="0.6"/>
<line x1="867.9" y1="590" x2="864.2" y2="590.9" stroke="#333" stroke-width="0.6"/>
<line x1="867.9" y1="588" x2="864.2" y2="587.1" stroke="#333" stroke-width="0.6"/>
<line x1="868.8" y1="586.1" x2="865.8" y2="583.8" stroke="#333" stroke-width="0.6"/>
<line x1="870.4" y1="584.9" x2="868.8" y2="581.4" stroke="#333" stroke-width="0.6"/>
<line x1="872.4" y1="584.4" x2="872.4" y2="580.6" stroke="#333" stroke-width="0.6"/>
<line x1="874.4" y1="584.9" x2="876" y2="581.4" stroke="#333" stroke-width="0.6"/>
<line x1="876" y1="586.1" x2="879" y2="583.8" stroke="#333" stroke-width="0.6"/>
<line x1="876.9" y1="588" x2="880.6" y2="587.1" stroke="#333" stroke-width="0.6"/>
<line x1="878.4" y1="589.3" x2="881.9" y2="589.4" stroke="#999" stroke-width="0.5"/>
<line x1="875.9" y1="593.9" x2="878" y2="596.7" stroke="#999" stroke-width="0.5"/>
<line x1="870.8" y1="594.8" x2="869.9" y2="598.2" stroke="#999" stroke-width="0.5"/>
<line x1="866.9" y1="591.4" x2="863.7" y2="592.7" stroke="#999" stroke-width="0.5"/>
<line x1="867.1" y1="586.2" x2="864" y2="584.5" stroke="#999" stroke-width="0.5"/>
<line x1="871.3" y1="583.1" x2="870.7" y2="579.7" stroke="#999" stroke-width="0.5"/>
<line x1="876.3" y1="584.5" x2="878.7" y2="581.8" stroke="#999" stroke-width="0.5"/>
<circle cx="872.4" cy="589" r="3.7" fill="#111"/>
<path d="M909.3,593.6 L909.2,594.1 L909,594.5 L908.6,594.9 L908.1,595.3 L907.2,595.5 L905,595.4 L907.1,596.3 L907.7,596.9 L908.1,597.5 L908.2,598 L908.2,598.5 L908.1,598.9 L907.8,599.3 L907.4,599.6 L906.9,599.8 L906.3,599.9 L905.4,599.8 L903.4,598.7 L904.9,600.4 L905.2,601.2 L905.3,601.9 L905.2,602.4 L905,602.9 L904.7,603.2 L904.3,603.4 L903.8,603.6 L903.2,603.5 L902.6,603.3 L901.9,602.8 L900.6,601 L901.2,603.2 L901.1,604 L900.9,604.7 L900.5,605.1 L900.2,605.4 L899.7,605.6 L899.3,605.6 L898.8,605.5 L898.3,605.2 L897.8,604.8 L897.4,604 L897,601.8 L896.6,604 L896.2,604.8 L895.7,605.2 L895.2,605.5 L894.7,605.6 L894.3,605.6 L893.8,605.4 L893.5,605.1 L893.1,604.7 L892.9,604 L892.8,603.2 L893.4,601 L892.1,602.8 L891.4,603.3 L890.8,603.5 L890.2,603.6 L889.7,603.4 L889.3,603.2 L889,602.9 L888.8,602.4 L888.7,601.9 L888.8,601.2 L889.1,600.4 L890.6,598.7 L888.6,599.8 L887.7,599.9 L887.1,599.8 L886.6,599.6 L886.2,599.3 L885.9,598.9 L885.8,598.5 L885.8,598 L885.9,597.5 L886.3,596.9 L886.9,596.3 L889,595.4 L886.8,595.5 L885.9,595.3 L885.4,594.9 L885,594.5 L884.8,594.1 L884.7,593.6 L884.8,593.1 L885,592.7 L885.4,592.3 L885.9,591.9 L886.8,591.7 L889,591.8 L886.9,590.9 L886.3,590.3 L885.9,589.7 L885.8,589.2 L885.8,588.7 L885.9,588.3 L886.2,587.9 L886.6,587.6 L887.1,587.4 L887.7,587.3 L888.6,587.4 L890.6,588.5 L889.1,586.8 L888.8,586 L888.7,585.3 L888.8,584.8 L889,584.3 L889.3,584 L889.7,583.8 L890.2,583.6 L890.8,583.7 L891.4,583.9 L892.1,584.4 L893.4,586.2 L892.8,584 L892.9,583.2 L893.1,582.5 L893.5,582.1 L893.8,581.8 L894.3,581.6 L894.7,581.6 L895.2,581.7 L895.7,582 L896.2,582.4 L896.6,583.2 L897,585.4 L897.4,583.2 L897.8,582.4 L898.3,582 L898.8,581.7 L899.3,581.6 L899.7,581.6 L900.2,581.8 L900.5,582.1 L900.9,582.5 L901.1,583.2 L901.2,584 L900.6,586.2 L901.9,584.4 L902.6,583.9 L903.2,583.7 L903.8,583.6 L904.3,583.8 L904.7,584 L905,584.3 L905.2,584.8 L905.3,585.3 L905.2,586 L904.9,586.8 L903.4,588.5 L905.4,587.4 L906.3,587.3 L906.9,587.4 L907.4,587.6 L907.8,587.9 L908.1,588.3 L908.2,588.7 L908.2,589.2 L908.1,589.7 L907.7,590.3 L907.1,590.9 L905,591.8 L907.2,591.7 L908.1,591.9 L908.6,592.3 L909,592.7 L909.2,593.1Z" fill="#fff" stroke="#1e1e1e" stroke-width="0.85"/>
<line x1="901.5" y1="594.6" x2="905.2" y2="595.5" stroke="#333" stroke-width="0.6"/>
<line x1="900.6" y1="596.5" x2="903.6" y2="598.8" stroke="#333" stroke-width="0.6"/>
<line x1="899" y1="597.7" x2="900.6" y2="601.2" stroke="#333" stroke-width="0.6"/>
<line x1="897" y1="598.2" x2="897" y2="602" stroke="#333" stroke-width="0.6"/>
<line x1="895" y1="597.7" x2="893.4" y2="601.2" stroke="#333" stroke-width="0.6"/>
<line x1="893.4" y1="596.5" x2="890.4" y2="598.8" stroke="#333" stroke-width="0.6"/>
<line x1="892.5" y1="594.6" x2="888.8" y2="595.5" stroke="#333" stroke-width="0.6"/>
<line x1="892.5" y1="592.6" x2="888.8" y2="591.7" stroke="#333" stroke-width="0.6"/>
<line x1="893.4" y1="590.7" x2="890.4" y2="588.4" stroke="#333" stroke-width="0.6"/>
<line x1="895" y1="589.5" x2="893.4" y2="586" stroke="#333" stroke-width="0.6"/>
<line x1="897" y1="589" x2="897" y2="585.2" stroke="#333" stroke-width="0.6"/>
<line x1="899" y1="589.5" x2="900.6" y2="586" stroke="#333" stroke-width="0.6"/>
<line x1="900.6" y1="590.7" x2="903.6" y2="588.4" stroke="#333" stroke-width="0.6"/>
<line x1="901.5" y1="592.6" x2="905.2" y2="591.7" stroke="#333" stroke-width="0.6"/>
<line x1="903" y1="593.9" x2="906.5" y2="594" stroke="#999" stroke-width="0.5"/>
<line x1="900.5" y1="598.5" x2="902.6" y2="601.3" stroke="#999" stroke-width="0.5"/>
<line x1="895.4" y1="599.4" x2="894.5" y2="602.8" stroke="#999" stroke-width="0.5"/>
<line x1="891.5" y1="596" x2="888.3" y2="597.3" stroke="#999" stroke-width="0.5"/>
<line x1="891.7" y1="590.8" x2="888.6" y2="589.1" stroke="#999" stroke-width="0.5"/>
<line x1="895.9" y1="587.7" x2="895.3" y2="584.3" stroke="#999" stroke-width="0.5"/>
<line x1="900.9" y1="589.1" x2="903.3" y2="586.4" stroke="#999" stroke-width="0.5"/>
<circle cx="897" cy="593.6" r="3.7" fill="#111"/>
<line x1="756.5" y1="475" x2="762" y2="493.4" stroke="#222" stroke-width="0.9"/>
<path d="M759.2,487.2Q753.1,483.6 747.2,489.2Q754.6,492.6 759.2,487.2Z" fill="#e2e2e2" stroke="#444" stroke-width="0.8"/>
<path d="M758.2,482.2Q764.7,485 770.2,479.2Q762.6,476.7 758.2,482.2Z" fill="#e2e2e2" stroke="#444" stroke-width="0.8"/>
<path d="M756.5,477Q752.1,474.8 748.5,479Q753.7,481 756.5,477Z" fill="#ccc" stroke="#444" stroke-width="0.7"/>
<circle cx="765.3" cy="439.7" r="1.5" fill="#5a5a5a" stroke="#1e1e1e" stroke-width="0.6"/>
<circle cx="763.5" cy="439" r="1.5" fill="#5a5a5a" stroke="#1e1e1e" stroke-width="0.6"/>
<circle cx="764.3" cy="443" r="1.6" fill="#5a5a5a" stroke="#1e1e1e" stroke-width="0.6"/>
<circle cx="763.2" cy="443.4" r="1.6" fill="#5a5a5a" stroke="#1e1e1e" stroke-width="0.6"/>
<circle cx="762.1" cy="442.9" r="1.6" fill="#5a5a5a" stroke="#1e1e1e" stroke-width="0.6"/>
<circle cx="764" cy="446.5" r="1.7" fill="#5a5a5a" stroke="#1e1e1e" stroke-width="0.6"/>
<circle cx="761.4" cy="446.2" r="1.7" fill="#5a5a5a" stroke="#1e1e1e" stroke-width="0.6"/>
<circle cx="763.8" cy="450.8" r="1.8" fill="#5a5a5a" stroke="#1e1e1e" stroke-width="0.6"/>
<circle cx="762.1" cy="450.3" r="1.8" fill="#5a5a5a" stroke="#1e1e1e" stroke-width="0.6"/>
<circle cx="760.5" cy="449.5" r="1.8" fill="#5a5a5a" stroke="#1e1e1e" stroke-width="0.6"/>
<circle cx="762.5" cy="454" r="1.8" fill="#5a5a5a" stroke="#1e1e1e" stroke-width="0.6"/>
<circle cx="759.4" cy="453.3" r="1.8" fill="#5a5a5a" stroke="#1e1e1e" stroke-width="0.6"/>
<circle cx="762.3" cy="457.9" r="1.9" fill="#5a5a5a" stroke="#1e1e1e" stroke-width="0.6"/>
<circle cx="760.3" cy="457.2" r="1.9" fill="#5a5a5a" stroke="#1e1e1e" stroke-width="0.6"/>
<circle cx="758.5" cy="457" r="1.9" fill="#5a5a5a" stroke="#1e1e1e" stroke-width="0.6"/>
<circle cx="761.9" cy="461.6" r="2" fill="#5a5a5a" stroke="#1e1e1e" stroke-width="0.6"/>
<circle cx="757.7" cy="460.5" r="2" fill="#5a5a5a" stroke="#1e1e1e" stroke-width="0.6"/>
<circle cx="760.8" cy="464.9" r="2.1" fill="#5a5a5a" stroke="#1e1e1e" stroke-width="0.6"/>
<circle cx="759.1" cy="464.1" r="2.1" fill="#5a5a5a" stroke="#1e1e1e" stroke-width="0.6"/>
<circle cx="756.7" cy="463.6" r="2.1" fill="#5a5a5a" stroke="#1e1e1e" stroke-width="0.6"/>
<circle cx="760.3" cy="468.8" r="2.2" fill="#5a5a5a" stroke="#1e1e1e" stroke-width="0.6"/>
<circle cx="755.7" cy="467.1" r="2.2" fill="#5a5a5a" stroke="#1e1e1e" stroke-width="0.6"/>
<circle cx="760.2" cy="472" r="2.3" fill="#5a5a5a" stroke="#1e1e1e" stroke-width="0.6"/>
<circle cx="757.1" cy="471.3" r="2.3" fill="#5a5a5a" stroke="#1e1e1e" stroke-width="0.6"/>
<circle cx="754.4" cy="471" r="2.3" fill="#5a5a5a" stroke="#1e1e1e" stroke-width="0.6"/>
<circle cx="759.7" cy="475.6" r="2.4" fill="#5a5a5a" stroke="#1e1e1e" stroke-width="0.6"/>
<circle cx="753.6" cy="474.1" r="2.4" fill="#5a5a5a" stroke="#1e1e1e" stroke-width="0.6"/>
<line x1="895.5" y1="475" x2="891" y2="493.4" stroke="#222" stroke-width="0.9"/>
<path d="M893.2,487.2Q887.1,483.6 881.2,489.2Q888.6,492.6 893.2,487.2Z" fill="#e2e2e2" stroke="#444" stroke-width="0.8"/>
<path d="M892.2,482.2Q898.7,485 904.2,479.2Q896.6,476.7 892.2,482.2Z" fill="#e2e2e2" stroke="#444" stroke-width="0.8"/>
<path d="M895.5,477Q891.1,474.8 887.5,479Q892.7,481 895.5,477Z" fill="#ccc" stroke="#444" stroke-width="0.7"/>
<circle cx="894.3" cy="439.7" r="1.5" fill="#5a5a5a" stroke="#1e1e1e" stroke-width="0.6"/>
<circle cx="892.4" cy="439.8" r="1.5" fill="#5a5a5a" stroke="#1e1e1e" stroke-width="0.6"/>
<circle cx="894.5" cy="442.7" r="1.6" fill="#5a5a5a" stroke="#1e1e1e" stroke-width="0.6"/>
<circle cx="893.6" cy="442.7" r="1.6" fill="#5a5a5a" stroke="#1e1e1e" stroke-width="0.6"/>
<circle cx="891.9" cy="443.3" r="1.6" fill="#5a5a5a" stroke="#1e1e1e" stroke-width="0.6"/>
<circle cx="894.5" cy="446.7" r="1.7" fill="#5a5a5a" stroke="#1e1e1e" stroke-width="0.6"/>
<circle cx="892.3" cy="446.6" r="1.7" fill="#5a5a5a" stroke="#1e1e1e" stroke-width="0.6"/>
<circle cx="894.9" cy="450" r="1.8" fill="#5a5a5a" stroke="#1e1e1e" stroke-width="0.6"/>
<circle cx="894" cy="449.9" r="1.8" fill="#5a5a5a" stroke="#1e1e1e" stroke-width="0.6"/>
<circle cx="892.3" cy="450.1" r="1.8" fill="#5a5a5a" stroke="#1e1e1e" stroke-width="0.6"/>
<circle cx="895.9" cy="453.2" r="1.8" fill="#5a5a5a" stroke="#1e1e1e" stroke-width="0.6"/>
<circle cx="892.1" cy="454.1" r="1.8" fill="#5a5a5a" stroke="#1e1e1e" stroke-width="0.6"/>
<circle cx="896.4" cy="457" r="1.9" fill="#5a5a5a" stroke="#1e1e1e" stroke-width="0.6"/>
<circle cx="894.2" cy="457.4" r="1.9" fill="#5a5a5a" stroke="#1e1e1e" stroke-width="0.6"/>
<circle cx="892.1" cy="457.6" r="1.9" fill="#5a5a5a" stroke="#1e1e1e" stroke-width="0.6"/>
<circle cx="896.3" cy="460.7" r="2" fill="#5a5a5a" stroke="#1e1e1e" stroke-width="0.6"/>
<circle cx="892.4" cy="461.1" r="2" fill="#5a5a5a" stroke="#1e1e1e" stroke-width="0.6"/>
<circle cx="897.2" cy="463.8" r="2.1" fill="#5a5a5a" stroke="#1e1e1e" stroke-width="0.6"/>
<circle cx="894.4" cy="464.7" r="2.1" fill="#5a5a5a" stroke="#1e1e1e" stroke-width="0.6"/>
<circle cx="892.8" cy="464.5" r="2.1" fill="#5a5a5a" stroke="#1e1e1e" stroke-width="0.6"/>
<circle cx="897.3" cy="467.8" r="2.2" fill="#5a5a5a" stroke="#1e1e1e" stroke-width="0.6"/>
<circle cx="892.7" cy="468.1" r="2.2" fill="#5a5a5a" stroke="#1e1e1e" stroke-width="0.6"/>
<circle cx="898.3" cy="471" r="2.3" fill="#5a5a5a" stroke="#1e1e1e" stroke-width="0.6"/>
<circle cx="895.6" cy="471.2" r="2.3" fill="#5a5a5a" stroke="#1e1e1e" stroke-width="0.6"/>
<circle cx="892.2" cy="471.3" r="2.3" fill="#5a5a5a" stroke="#1e1e1e" stroke-width="0.6"/>
<circle cx="898.2" cy="475" r="2.4" fill="#5a5a5a" stroke="#1e1e1e" stroke-width="0.6"/>
<circle cx="892.7" cy="474.8" r="2.4" fill="#5a5a5a" stroke="#1e1e1e" stroke-width="0.6"/>
<path d="M792.1,493.5 L795.8,486.1 L801.4,480.6 L808.8,476 L818,472.8 L826.4,477.5 L832.7,477 L839.2,474.4 L844.7,474.3 L850,483.9 L857.6,483.5 L865.1,487 L871.8,492.5 L876.6,500.8 L874.5,510.1 L874,519.4 L874.7,529.7 L869,535.2 L859.3,535.3 L853.7,538.4 L846.4,542.9 L830,543.5 L813.6,543.9 L808.1,542.2 L799.7,536.8 L792.1,531.4 L785.4,525 L784,519.4 L785.5,512 L788.5,505.5 L789.3,499.1Z" fill="#0d0d0d"/>
<path d="M793.3,493.5Q792.6,488.8 788.2,491.3Q789.4,496.3 793.3,493.5Z" fill="#0d0d0d"/>
<path d="M795.6,488.8Q797.7,484.3 792.4,483.3Q790.6,488.3 795.6,488.8Z" fill="#0d0d0d"/>
<path d="M797.8,485.5Q800.5,481.6 795.6,480.8Q793.2,485.2 797.8,485.5Z" fill="#0d0d0d"/>
<path d="M799.9,483.5Q800.5,478.9 795.8,480.3Q795.5,485.3 799.9,483.5Z" fill="#0d0d0d"/>
<path d="M802.9,480.8Q805.1,476.3 799.8,474.7Q797.9,479.9 802.9,480.8Z" fill="#0d0d0d"/>
<path d="M807.2,478.2Q809.7,474.1 804.8,473.2Q802.5,477.7 807.2,478.2Z" fill="#0d0d0d"/>
<path d="M809.9,476.7Q811,471.9 805.7,472.3Q805.1,477.5 809.9,476.7Z" fill="#0d0d0d"/>
<path d="M814.4,475.2Q815,470.6 810.3,472.2Q810.1,477.1 814.4,475.2Z" fill="#0d0d0d"/>
<path d="M819.4,474.4Q823.9,472.7 820.7,468.6Q816,470.9 819.4,474.4Z" fill="#0d0d0d"/>
<path d="M822.7,476.3Q827.3,475 824.5,470.8Q819.6,472.6 822.7,476.3Z" fill="#0d0d0d"/>
<path d="M829.3,478.3Q830.8,473.5 825.4,472.9Q824.3,478.2 829.3,478.3Z" fill="#0d0d0d"/>
<path d="M834.1,477.4Q837.4,473.7 832.7,471.3Q829.5,475.6 834.1,477.4Z" fill="#0d0d0d"/>
<path d="M837.3,476Q842.2,474.9 839.7,470.1Q834.7,471.9 837.3,476Z" fill="#0d0d0d"/>
<path d="M840.9,475.3Q845.7,475.3 843.9,470.5Q838.8,471 840.9,475.3Z" fill="#0d0d0d"/>
<path d="M845,476.5Q849.5,478.2 849.8,473Q844.8,471.6 845,476.5Z" fill="#0d0d0d"/>
<path d="M846.9,479.9Q851,482.5 852.2,477.4Q847.6,475.1 846.9,479.9Z" fill="#0d0d0d"/>
<path d="M848.2,482.5Q852.9,481.5 850.1,477.3Q845.3,478.8 848.2,482.5Z" fill="#0d0d0d"/>
<path d="M850.1,484.6Q854,481.9 849.7,479.1Q845.9,482.4 850.1,484.6Z" fill="#0d0d0d"/>
<path d="M853.1,484.4Q857.7,485.7 857,480.7Q852.1,479.9 853.1,484.4Z" fill="#0d0d0d"/>
<path d="M857.9,484.7Q860.5,488.7 863.3,484.5Q860.2,480.6 857.9,484.7Z" fill="#0d0d0d"/>
<path d="M862.3,486.7Q866.9,485.9 864.2,481.7Q859.4,483 862.3,486.7Z" fill="#0d0d0d"/>
<path d="M865,488.1Q869,491.2 871.4,486.3Q866.7,483.4 865,488.1Z" fill="#0d0d0d"/>
<path d="M869,491.3Q873.8,491 871.9,486.2Q866.7,487 869,491.3Z" fill="#0d0d0d"/>
<path d="M871.6,494.1Q874.2,498.1 876.8,493.9Q873.8,490 871.6,494.1Z" fill="#0d0d0d"/>
<path d="M874.1,498.5Q878.2,501.5 880.6,496.5Q875.9,493.7 874.1,498.5Z" fill="#0d0d0d"/>
<path d="M875.3,502.3Q876.4,506.8 880.2,503.6Q878.6,499 875.3,502.3Z" fill="#0d0d0d"/>
<path d="M874.1,507.6Q878.8,509.1 879,503.8Q873.8,502.7 874.1,507.6Z" fill="#0d0d0d"/>
<path d="M873.4,511.4Q876,515.5 879.2,511.4Q876,507.4 873.4,511.4Z" fill="#0d0d0d"/>
<path d="M873.2,516.4Q871.8,520.9 876.7,520.1Q877.7,515.3 873.2,516.4Z" fill="#0d0d0d"/>
<path d="M873.1,519.5Q877.1,522.4 879,517.4Q874.5,514.7 873.1,519.5Z" fill="#0d0d0d"/>
<path d="M873.3,523.1Q873.3,527.8 878.1,526Q877.6,520.9 873.3,523.1Z" fill="#0d0d0d"/>
<path d="M873.6,526Q873.6,531.1 879,530Q878.4,524.5 873.6,526Z" fill="#0d0d0d"/>
<path d="M872.6,530.5Q870.5,535 875.8,536.2Q877.6,531 872.6,530.5Z" fill="#0d0d0d"/>
<path d="M870.6,532.3Q873.8,535.8 875.9,531.2Q872.2,527.9 870.6,532.3Z" fill="#0d0d0d"/>
<path d="M867.8,534.7Q870.5,539 874.5,535.3Q871.1,530.9 867.8,534.7Z" fill="#0d0d0d"/>
<path d="M862.6,534.7Q864.7,539 868.3,535.4Q865.6,531 862.6,534.7Z" fill="#0d0d0d"/>
<path d="M856.1,536Q853.8,540.2 858.9,541.1Q860.9,536.4 856.1,536Z" fill="#0d0d0d"/>
<path d="M852.4,538Q849.2,541.7 854,543.4Q857,539.2 852.4,538Z" fill="#0d0d0d"/>
<path d="M848.4,540.4Q845.5,544.5 850.5,546.4Q853.2,541.8 848.4,540.4Z" fill="#0d0d0d"/>
<path d="M813,542.7Q808.9,540.4 808.6,545.3Q813.1,547.3 813,542.7Z" fill="#0d0d0d"/>
<path d="M807.6,540.7Q803.1,542 806.3,545.8Q810.9,544 807.6,540.7Z" fill="#0d0d0d"/>
<path d="M804.7,538.8Q800.8,535.5 798.1,540.3Q802.6,543.4 804.7,538.8Z" fill="#0d0d0d"/>
<path d="M802.2,537.2Q799.7,533.2 796.9,537.4Q799.9,541.3 802.2,537.2Z" fill="#0d0d0d"/>
<path d="M799,535.1Q796.3,531 792.7,535Q796.1,539.1 799,535.1Z" fill="#0d0d0d"/>
<path d="M796,533Q791.1,533.1 792.4,538.3Q797.8,537.7 796,533Z" fill="#0d0d0d"/>
<path d="M792.8,530.8Q788.1,531.2 790.3,535.7Q795.3,534.8 792.8,530.8Z" fill="#0d0d0d"/>
<path d="M789.3,527.5Q787.7,523.1 784.1,526.6Q786.3,531.1 789.3,527.5Z" fill="#0d0d0d"/>
<path d="M786.3,524.5Q782.4,521.1 779.4,525.9Q784,529.1 786.3,524.5Z" fill="#0d0d0d"/>
<path d="M785,519Q784.1,514 779,516.1Q780.6,521.3 785,519Z" fill="#0d0d0d"/>
<path d="M785.9,514.8Q781.3,513.8 782.1,518.8Q787.1,519.4 785.9,514.8Z" fill="#0d0d0d"/>
<path d="M787,510.9Q784,507.2 781.5,511.7Q785.1,515.3 787,510.9Z" fill="#0d0d0d"/>
<path d="M788.3,508.2Q785.8,504.1 782.5,508.1Q785.6,512.2 788.3,508.2Z" fill="#0d0d0d"/>
<path d="M789.7,504Q789.8,499.4 785.3,501.4Q785.7,506.3 789.7,504Z" fill="#0d0d0d"/>
<path d="M791.6,496.8Q788.4,493 785.3,497.3Q789.2,501.1 791.6,496.8Z" fill="#0d0d0d"/>
<ellipse cx="796.4" cy="539" rx="2" ry="4.2" transform="rotate(20 796.4 539)" fill="#0d0d0d"/>
<ellipse cx="809" cy="549" rx="2" ry="4.2" transform="rotate(10 809 549)" fill="#0d0d0d"/>
<ellipse cx="846" cy="548.5" rx="2" ry="4.2" transform="rotate(-15 846 548.5)" fill="#0d0d0d"/>
<ellipse cx="862" cy="537" rx="2" ry="4.2" transform="rotate(-30 862 537)" fill="#0d0d0d"/>
<ellipse cx="817" cy="468" rx="2" ry="4.2" transform="rotate(0 817 468)" fill="#0d0d0d"/>
<ellipse cx="845" cy="469.5" rx="2" ry="4.2" transform="rotate(10 845 469.5)" fill="#0d0d0d"/>
<ellipse cx="799" cy="476.5" rx="2" ry="4.2" transform="rotate(-40 799 476.5)" fill="#0d0d0d"/>
<ellipse cx="869" cy="483" rx="2" ry="4.2" transform="rotate(40 869 483)" fill="#0d0d0d"/>
<ellipse cx="880.5" cy="499" rx="2" ry="4.2" transform="rotate(70 880.5 499)" fill="#0d0d0d"/>
<ellipse cx="779.5" cy="522" rx="2" ry="4.2" transform="rotate(-80 779.5 522)" fill="#0d0d0d"/>
<ellipse cx="805" cy="504.8" rx="1.6" ry="3.4" transform="rotate(72.5 805 504.8)" fill="none" stroke="#fff" stroke-width="0.3" stroke-dasharray="3 5" opacity="0.6"/>
<ellipse cx="854.1" cy="519.4" rx="1.6" ry="3.4" transform="rotate(41.5 854.1 519.4)" fill="none" stroke="#fff" stroke-width="0.3" stroke-dasharray="3 5" opacity="0.6"/>
<ellipse cx="841.1" cy="529.3" rx="1.6" ry="3.4" transform="rotate(60.8 841.1 529.3)" fill="none" stroke="#fff" stroke-width="0.3" stroke-dasharray="3 5" opacity="0.6"/>
<ellipse cx="866.6" cy="507.6" rx="1.6" ry="3.4" transform="rotate(66.3 866.6 507.6)" fill="none" stroke="#fff" stroke-width="0.3" stroke-dasharray="3 5" opacity="0.6"/>
<ellipse cx="828.2" cy="493.8" rx="1.6" ry="3.4" transform="rotate(150.9 828.2 493.8)" fill="none" stroke="#fff" stroke-width="0.3" stroke-dasharray="3 5" opacity="0.6"/>
<ellipse cx="800.8" cy="507.4" rx="1.6" ry="3.4" transform="rotate(55.9 800.8 507.4)" fill="none" stroke="#fff" stroke-width="0.3" stroke-dasharray="3 5" opacity="0.6"/>
<ellipse cx="863.9" cy="505.3" rx="1.6" ry="3.4" transform="rotate(92.3 863.9 505.3)" fill="none" stroke="#fff" stroke-width="0.3" stroke-dasharray="3 5" opacity="0.6"/>
<ellipse cx="859.2" cy="511.3" rx="1.6" ry="3.4" transform="rotate(2.7 859.2 511.3)" fill="none" stroke="#fff" stroke-width="0.3" stroke-dasharray="3 5" opacity="0.6"/>
<ellipse cx="824.6" cy="530.7" rx="1.6" ry="3.4" transform="rotate(175 824.6 530.7)" fill="none" stroke="#fff" stroke-width="0.3" stroke-dasharray="3 5" opacity="0.6"/>
<ellipse cx="840.5" cy="521.8" rx="1.6" ry="3.4" transform="rotate(133.2 840.5 521.8)" fill="none" stroke="#fff" stroke-width="0.3" stroke-dasharray="3 5" opacity="0.6"/>
<ellipse cx="796.8" cy="518.9" rx="1.6" ry="3.4" transform="rotate(128 796.8 518.9)" fill="none" stroke="#fff" stroke-width="0.3" stroke-dasharray="3 5" opacity="0.6"/>
<ellipse cx="801" cy="518.6" rx="1.6" ry="3.4" transform="rotate(167.2 801 518.6)" fill="none" stroke="#fff" stroke-width="0.3" stroke-dasharray="3 5" opacity="0.6"/>
<ellipse cx="809.9" cy="529.1" rx="1.6" ry="3.4" transform="rotate(139 809.9 529.1)" fill="none" stroke="#fff" stroke-width="0.3" stroke-dasharray="3 5" opacity="0.6"/>
<ellipse cx="834.3" cy="490.6" rx="1.6" ry="3.4" transform="rotate(133.2 834.3 490.6)" fill="none" stroke="#fff" stroke-width="0.3" stroke-dasharray="3 5" opacity="0.6"/>
<ellipse cx="819" cy="526.4" rx="1.6" ry="3.4" transform="rotate(18.4 819 526.4)" fill="none" stroke="#fff" stroke-width="0.3" stroke-dasharray="3 5" opacity="0.6"/>
<ellipse cx="850" cy="488.9" rx="1.6" ry="3.4" transform="rotate(157.4 850 488.9)" fill="none" stroke="#fff" stroke-width="0.3" stroke-dasharray="3 5" opacity="0.6"/>
<ellipse cx="854.1" cy="507.3" rx="1.6" ry="3.4" transform="rotate(144.6 854.1 507.3)" fill="none" stroke="#fff" stroke-width="0.3" stroke-dasharray="3 5" opacity="0.6"/>
<ellipse cx="864.3" cy="517.7" rx="1.6" ry="3.4" transform="rotate(146.4 864.3 517.7)" fill="none" stroke="#fff" stroke-width="0.3" stroke-dasharray="3 5" opacity="0.6"/>
<ellipse cx="859" cy="516.8" rx="1.6" ry="3.4" transform="rotate(163.1 859 516.8)" fill="none" stroke="#fff" stroke-width="0.3" stroke-dasharray="3 5" opacity="0.6"/>
<ellipse cx="863.8" cy="518.4" rx="1.6" ry="3.4" transform="rotate(167.3 863.8 518.4)" fill="none" stroke="#fff" stroke-width="0.3" stroke-dasharray="3 5" opacity="0.6"/>
<ellipse cx="836.2" cy="534.1" rx="1.6" ry="3.4" transform="rotate(60.5 836.2 534.1)" fill="none" stroke="#fff" stroke-width="0.3" stroke-dasharray="3 5" opacity="0.6"/>
<ellipse cx="803.3" cy="495.2" rx="1.6" ry="3.4" transform="rotate(33.5 803.3 495.2)" fill="none" stroke="#fff" stroke-width="0.3" stroke-dasharray="3 5" opacity="0.6"/>
<ellipse cx="814" cy="515.2" rx="1.6" ry="3.4" transform="rotate(13.2 814 515.2)" fill="none" stroke="#fff" stroke-width="0.3" stroke-dasharray="3 5" opacity="0.6"/>
<ellipse cx="803.2" cy="525.3" rx="1.6" ry="3.4" transform="rotate(4.1 803.2 525.3)" fill="none" stroke="#fff" stroke-width="0.3" stroke-dasharray="3 5" opacity="0.6"/>
<ellipse cx="834.5" cy="531.1" rx="1.6" ry="3.4" transform="rotate(157 834.5 531.1)" fill="none" stroke="#fff" stroke-width="0.3" stroke-dasharray="3 5" opacity="0.6"/>
<circle cx="821.7" cy="528.8" r="0.4" fill="#fff"/>
<circle cx="820.2" cy="526.2" r="0.7" fill="#fff"/>
<circle cx="834.5" cy="508.7" r="0.7" fill="#fff"/>
<circle cx="820.4" cy="513.5" r="0.5" fill="#fff"/>
<circle cx="857.1" cy="492.6" r="0.3" fill="#fff"/>
<circle cx="834.2" cy="508.5" r="0.4" fill="#fff"/>
<circle cx="847" cy="502.7" r="0.6" fill="#fff"/>
<circle cx="835.2" cy="519.6" r="0.5" fill="#fff"/>
<circle cx="852.8" cy="522.7" r="0.7" fill="#fff"/>
<circle cx="791.8" cy="520" r="0.5" fill="#fff"/>
<circle cx="802.7" cy="509.6" r="0.4" fill="#fff"/>
<circle cx="829.5" cy="507.2" r="0.7" fill="#fff"/>
<circle cx="809.5" cy="508.4" r="0.6" fill="#fff"/>
<circle cx="830" cy="533.5" r="0.4" fill="#fff"/>
<circle cx="800.7" cy="508.7" r="0.4" fill="#fff"/>
<circle cx="815" cy="520.7" r="0.5" fill="#fff"/>
<circle cx="838" cy="521.9" r="0.3" fill="#fff"/>
<circle cx="846.7" cy="530" r="0.6" fill="#fff"/>
<circle cx="854.1" cy="532.6" r="0.7" fill="#fff"/>
<circle cx="833.2" cy="490.5" r="0.7" fill="#fff"/>
<circle cx="836.4" cy="527.7" r="0.5" fill="#fff"/>
<circle cx="833.7" cy="485.9" r="0.3" fill="#fff"/>
<circle cx="799.2" cy="529.6" r="0.6" fill="#fff"/>
<circle cx="839.4" cy="527.3" r="0.5" fill="#fff"/>
<circle cx="845.1" cy="513.8" r="0.5" fill="#fff"/>
<circle cx="812.3" cy="505.1" r="0.4" fill="#fff"/>
<circle cx="857.5" cy="533.3" r="0.3" fill="#fff"/>
<circle cx="851.4" cy="510.3" r="0.6" fill="#fff"/>
<circle cx="816.2" cy="505.1" r="0.4" fill="#fff"/>
<circle cx="825.9" cy="496.8" r="0.6" fill="#fff"/>
<circle cx="818.9" cy="511.7" r="0.4" fill="#fff"/>
<circle cx="838.6" cy="500.5" r="0.7" fill="#fff"/>
<circle cx="814.6" cy="499.2" r="0.5" fill="#fff"/>
<circle cx="793.9" cy="515.6" r="0.6" fill="#fff"/>
<circle cx="846.6" cy="534.4" r="0.5" fill="#fff"/>
<circle cx="838.5" cy="537.1" r="0.5" fill="#fff"/>
<circle cx="819" cy="517.6" r="0.7" fill="#fff"/>
<circle cx="822.7" cy="516.1" r="0.4" fill="#fff"/>
<circle cx="867.1" cy="514.8" r="0.4" fill="#fff"/>
<circle cx="796.3" cy="497" r="0.5" fill="#fff"/>
<circle cx="859.1" cy="503.3" r="0.4" fill="#fff"/>
<circle cx="803.2" cy="494.9" r="0.5" fill="#fff"/>
<circle cx="812.7" cy="514.1" r="0.3" fill="#fff"/>
<circle cx="820.4" cy="540.3" r="0.5" fill="#fff"/>
<circle cx="817" cy="535.7" r="0.6" fill="#fff"/>
<circle cx="805.1" cy="527.9" r="0.5" fill="#fff"/>
<circle cx="813" cy="488.7" r="0.5" fill="#fff"/>
<circle cx="821.7" cy="525.6" r="0.6" fill="#fff"/>
<circle cx="806.8" cy="496.1" r="0.4" fill="#fff"/>
<circle cx="817.9" cy="494.9" r="0.5" fill="#fff"/>
<circle cx="831.6" cy="495.5" r="0.6" fill="#fff"/>
<circle cx="831.9" cy="515.9" r="0.7" fill="#fff"/>
<circle cx="819.9" cy="529.3" r="0.4" fill="#fff"/>
<circle cx="803" cy="510.9" r="0.4" fill="#fff"/>
<circle cx="798.6" cy="509.2" r="0.4" fill="#fff"/>
<circle cx="813" cy="504.5" r="0.4" fill="#fff"/>
<circle cx="803" cy="511.9" r="0.5" fill="#fff"/>
<circle cx="860.4" cy="511.6" r="0.6" fill="#fff"/>
<circle cx="846.4" cy="492.8" r="0.6" fill="#fff"/>
<circle cx="864.7" cy="513.6" r="0.4" fill="#fff"/>
<line x1="822" y1="556.5" x2="817" y2="545" stroke="#111" stroke-width="1.1"/>
<line x1="825" y1="556.5" x2="821" y2="545" stroke="#111" stroke-width="1.1"/>
<line x1="828" y1="556.5" x2="825" y2="545" stroke="#111" stroke-width="1.1"/>
<line x1="831" y1="556.5" x2="829" y2="545" stroke="#111" stroke-width="1.1"/>
<line x1="833.5" y1="556.5" x2="833" y2="545" stroke="#111" stroke-width="1.1"/>
<line x1="836" y1="556.5" x2="837" y2="545" stroke="#111" stroke-width="1.1"/>
<line x1="839" y1="556.5" x2="841" y2="545" stroke="#111" stroke-width="1.1"/>
<ellipse cx="829.5" cy="557" rx="14.5" ry="1.6" fill="#111"/>
<text x="636.7" y="371.8" font-size="9.5" textLength="46.1" lengthAdjust="spacingAndGlyphs" class="lab">Rudbeckia</text>
<text x="600.5" y="414" font-size="9.5" textLength="42.8" lengthAdjust="spacingAndGlyphs" class="lab">Coreopsis</text>
<text x="652.9" y="444.5" font-size="9.5" textLength="21.9" lengthAdjust="spacingAndGlyphs" class="lab">Little</text>
<text x="644" y="457" font-size="9.5" textLength="40.3" lengthAdjust="spacingAndGlyphs" class="lab">Bluestem</text>
<text x="770.4" y="367.4" font-size="9.5" textLength="30.1" lengthAdjust="spacingAndGlyphs" class="lab">Yarrow</text>
<text x="844" y="367.4" font-size="9.5" textLength="29.8" lengthAdjust="spacingAndGlyphs" class="lab">Yarrow</text>
<text x="802" y="383.6" font-size="9.5" textLength="44.2" lengthAdjust="spacingAndGlyphs" class="lab">Echinacea</text>
<text x="795.7" y="396" font-size="9.5" textLength="56.3" lengthAdjust="spacingAndGlyphs" class="lab">(Coneflower)</text>
<text x="774" y="450" font-size="9.5" textLength="23" lengthAdjust="spacingAndGlyphs" class="lab">Anise</text>
<text x="770" y="462.6" font-size="9.5" textLength="31.4" lengthAdjust="spacingAndGlyphs" class="lab">Hyssop</text>
<text x="858" y="449.3" font-size="9.5" textLength="23.4" lengthAdjust="spacingAndGlyphs" class="lab">Anise</text>
<text x="853.8" y="462" font-size="9.5" textLength="30.9" lengthAdjust="spacingAndGlyphs" class="lab">Hyssop</text>
<text x="737.2" y="509.4" font-size="9.5" textLength="40.3" lengthAdjust="spacingAndGlyphs" class="lab">Common</text>
<text x="738.5" y="521.8" font-size="9.5" textLength="40" lengthAdjust="spacingAndGlyphs" class="lab">Ninebark</text>
<text x="805.7" y="568.7" font-size="9.5" textLength="44.3" lengthAdjust="spacingAndGlyphs" class="lab">Echinacea</text>
<text x="799.6" y="581" font-size="9.5" textLength="56.8" lengthAdjust="spacingAndGlyphs" class="lab">(Coneflower)</text>
<text x="813" y="654.4" font-size="9.5" textLength="30" lengthAdjust="spacingAndGlyphs" class="lab">Yarrow</text>
<text x="796" y="675" font-size="9.5" textLength="65" lengthAdjust="spacingAndGlyphs" class="lab">Little Bluestem</text>
<line x1="652" y1="378" x2="637.6" y2="386.4" stroke="#222" stroke-width="0.9"/><path d="M637.6,386.4L639.6,383.6L641,386Z" fill="#222"/>
<line x1="630.4" y1="403.6" x2="641.8" y2="401.7" stroke="#222" stroke-width="0.9"/><path d="M641.8,401.7L639,403.6L638.5,400.8Z" fill="#222"/>
<line x1="649" y1="443.6" x2="640.5" y2="439.8" stroke="#222" stroke-width="0.9"/><path d="M640.5,439.8L643.9,439.8L642.8,442.3Z" fill="#222"/>
<line x1="790.6" y1="373" x2="783" y2="395" stroke="#222" stroke-width="0.9"/><path d="M783,395L782.7,391.6L785.3,392.5Z" fill="#222"/>
<line x1="863.3" y1="373" x2="873.2" y2="395" stroke="#222" stroke-width="0.9"/><path d="M873.2,395L870.7,392.7L873.2,391.6Z" fill="#222"/>
<line x1="783.3" y1="469.3" x2="770" y2="474" stroke="#222" stroke-width="0.9"/><path d="M770,474L772.5,471.7L773.4,474.3Z" fill="#222"/>
<line x1="869" y1="467.4" x2="885.2" y2="474" stroke="#222" stroke-width="0.9"/><path d="M885.2,474L881.8,474.1L882.8,471.5Z" fill="#222"/>
<line x1="761.4" y1="529.4" x2="786" y2="541.7" stroke="#222" stroke-width="0.9"/><path d="M786,541.7L782.6,541.6L783.8,539.1Z" fill="#222"/>
<line x1="799.4" y1="568.7" x2="785" y2="572.5" stroke="#222" stroke-width="0.9"/><path d="M785,572.5L787.6,570.4L788.4,573Z" fill="#222"/>
<line x1="854.5" y1="568.7" x2="870.7" y2="571.2" stroke="#222" stroke-width="0.9"/><path d="M870.7,571.2L867.4,572.1L867.8,569.4Z" fill="#222"/>
<line x1="810" y1="665" x2="793.6" y2="656.4" stroke="#222" stroke-width="0.9"/><path d="M793.6,656.4L797,656.6L795.7,659.1Z" fill="#222"/>
<line x1="845" y1="666" x2="863" y2="657" stroke="#222" stroke-width="0.9"/><path d="M863,657L860.8,659.6L859.6,657.1Z" fill="#222"/>
</svg>
<svg width="1000" height="762" style="left:0;top:0" viewBox="0 0 1000 762">
<path d="M219.5,715Q223.4,715 226.5,711.5Q221.9,711.9 219.5,715Z" fill="#151515"/>
<path d="M225.5,715Q228.9,715.1 231.5,712Q227.5,712.2 225.5,715Z" fill="#222"/>
<path d="M224,709.5Q226.9,713.2 232.5,713.8Q228.7,709.6 224,709.5Z" fill="#888"/>
<path d="M223.3,708.8Q223.3,710.1 224.7,710.2Q224.6,708.8 223.3,708.8Z" fill="#555"/>
<path d="M269,715Q266.6,711.9 262,711.5Q265.1,715 269,715Z" fill="#151515"/>
<path d="M263,715Q261,712.2 257,712Q259.6,715.1 263,715Z" fill="#222"/>
<path d="M264.5,709.5Q259.8,709.6 256,713.8Q261.6,713.2 264.5,709.5Z" fill="#888"/>
<path d="M265.2,708.8Q263.9,708.8 263.8,710.2Q265.2,710.1 265.2,708.8Z" fill="#555"/>
<path d="M670.5,715Q674.4,715 677.5,711.5Q672.9,711.9 670.5,715Z" fill="#151515"/>
<path d="M676.5,715Q679.9,715.1 682.5,712Q678.5,712.2 676.5,715Z" fill="#222"/>
<path d="M675,709.5Q677.9,713.2 683.5,713.8Q679.7,709.6 675,709.5Z" fill="#888"/>
<path d="M674.3,708.8Q674.3,710.1 675.7,710.2Q675.6,708.8 674.3,708.8Z" fill="#555"/>
<path d="M844,715Q841.6,711.9 837,711.5Q840.1,715 844,715Z" fill="#151515"/>
<path d="M838,715Q836,712.2 832,712Q834.6,715.1 838,715Z" fill="#222"/>
<path d="M839.5,709.5Q834.8,709.6 831,713.8Q836.6,713.2 839.5,709.5Z" fill="#888"/>
<path d="M840.2,708.8Q838.9,708.8 838.8,710.2Q840.2,710.1 840.2,708.8Z" fill="#555"/>
</svg>
</body></html>
